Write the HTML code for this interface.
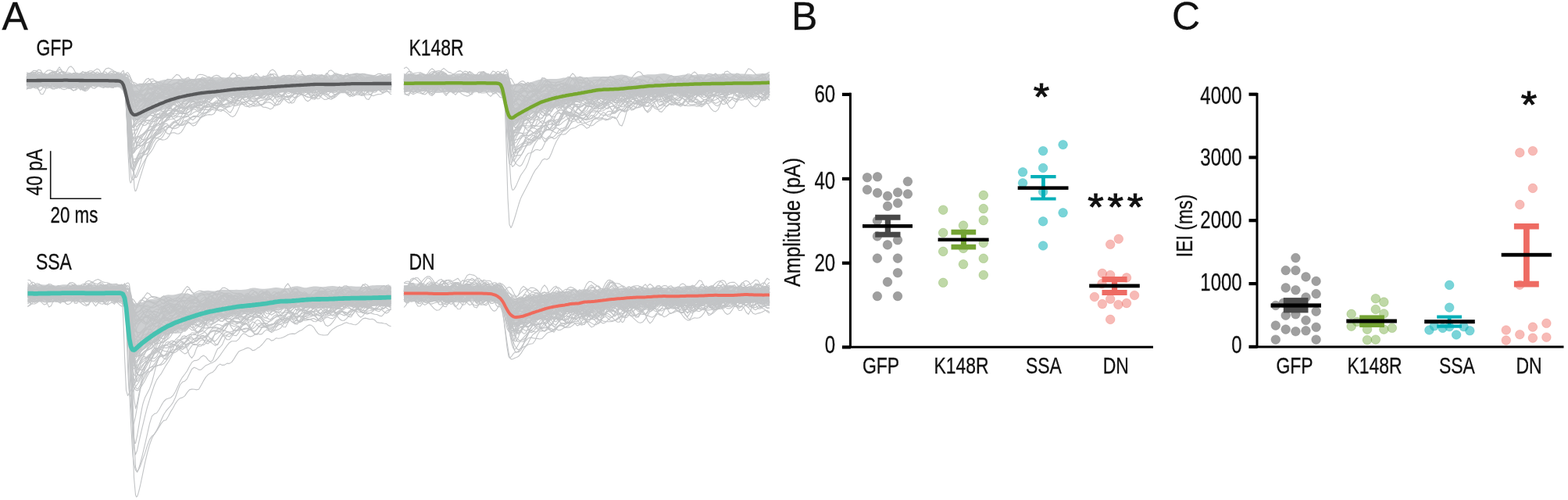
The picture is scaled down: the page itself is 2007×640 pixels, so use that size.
<!DOCTYPE html>
<html><head><meta charset="utf-8"><title>Figure</title>
<style>html,body{margin:0;padding:0;background:#fff;overflow:hidden}svg{display:block}text{fill:#111;stroke:#111;stroke-width:.3px}</style></head>
<body>
<svg width="2007" height="640" viewBox="0 0 2007 640" font-family="'Liberation Sans', Arial, Helvetica, sans-serif">
<rect width="2007" height="640" fill="#fff"/>
<g id="traces">
<polygon fill="#cdcfd1" points="34,94 37,93.6 40,93.6 43,93.8 46,94.1 49,94.3 52,94.4 55,94.6 58,94.8 61,94.8 64,94.8 67,94.7 70,94.5 73,94.4 76,94.4 79,94.6 82,94.8 85,94.6 88,94.1 91,93.7 94,93.5 97,93.5 100,93.7 103,94.1 106,94.3 109,94.2 112,93.9 115,93.7 118,93.6 121,93.7 124,93.7 127,93.6 130,93.6 133,93.8 136,94.1 139,94.4 142,94.5 145,94.5 148,94.4 151,94.3 154,94.5 157,95.4 160,97.8 163,101.4 166,104.7 169,106.9 172,108 175,108.2 178,108 181,107.6 184,107.2 187,106.8 190,106.6 193,106.6 196,106.4 199,105.7 202,104.5 205,103.3 208,102.5 211,102.1 214,102.1 217,102.2 220,102.1 223,101.9 226,101.5 229,101.1 232,100.7 235,100.4 238,100.3 241,100.4 244,100.8 247,100.9 250,100.7 253,100.3 256,100.1 259,99.8 262,99.5 265,99.1 268,99 271,98.9 274,98.8 277,98.6 280,98.6 283,98.8 286,99.1 289,99.4 292,99.4 295,99.3 298,99.2 301,99.2 304,99.1 307,98.9 310,98.5 313,98.2 316,97.9 319,97.8 322,97.5 325,97.3 328,97.2 331,97.5 334,98.1 337,98.5 340,98.7 343,98.6 346,98.6 349,98.6 352,98.6 355,98.3 358,97.7 361,97 364,96.5 367,96.4 370,96.6 373,96.8 376,97.1 379,97.1 382,97.1 385,96.9 388,96.7 391,96.5 394,96.5 397,96.6 400,96.5 403,96.1 406,95.6 409,95.3 412,95.5 415,95.9 418,96.3 421,96.4 424,96.1 427,95.6 430,95.1 433,95.1 436,95.4 439,95.9 442,96 445,95.9 448,95.6 451,95.4 454,95 457,94.5 460,94 463,93.9 466,94.1 469,94.4 472,94.9 475,95.4 478,96 481,96.5 484,97 487,97.2 490,97.1 493,97 496,96.8 499,96.6 501,96.5 501,114.9 499,114.7 496,114.7 493,114.8 490,114.9 487,115 484,115.1 481,115.4 478,115.6 475,115.8 472,115.9 469,115.9 466,115.7 463,115.2 460,114.8 457,114.7 454,115 451,115.4 448,115.6 445,115.7 442,115.8 439,116 436,116.4 433,116.8 430,117.3 427,117.6 424,117.8 421,117.7 418,117.5 415,117.2 412,116.8 409,116.4 406,116.1 403,116.1 400,116.5 397,116.9 394,117 391,116.7 388,116.6 385,116.9 382,117.5 379,117.8 376,117.8 373,117.6 370,117.4 367,117.5 364,117.7 361,117.9 358,118.1 355,118.3 352,118.7 349,119.5 346,120.5 343,121.3 340,121.8 337,121.9 334,122.1 331,122.1 328,122.1 325,122 322,121.8 319,121.8 316,122 313,122 310,122.1 307,122.1 304,122.2 301,122.5 298,123 295,123.5 292,123.9 289,124.4 286,124.7 283,124.8 280,124.7 277,124.6 274,124.9 271,125.6 268,126.5 265,127.1 262,127.4 259,127.6 256,127.8 253,128.3 250,129 247,129.8 244,130.4 241,130.6 238,130.6 235,130.7 232,130.9 229,131.5 226,132.5 223,134 220,135.7 217,137.2 214,138.6 211,139.8 208,140.9 205,142 202,142.9 199,144 196,145.2 193,146.5 190,148 187,149.5 184,150.8 181,152 178,153 175,154.3 172,154.8 169,153 166,147.2 163,136.7 160,124.8 157,116.4 154,112.7 151,111.7 148,111.5 145,111.9 142,112.3 139,112.5 136,112.3 133,112 130,111.8 127,111.5 124,111.1 121,110.5 118,110.3 115,110.2 112,110.2 109,110.2 106,110.5 103,110.9 100,111.3 97,111.6 94,111.8 91,112 88,112.4 85,112.7 82,112.8 79,112.4 76,111.7 73,110.9 70,110.4 67,110.3 64,110.4 61,110.5 58,110.6 55,110.8 52,111.1 49,111.6 46,112 43,112.2 40,112.1 37,111.8 34,111.6"/>
<g fill="none" stroke="#c2c4c6" stroke-width="1.1" stroke-linejoin="round">
<path d="M34 102.2l3-1.3 3-2.9 3-3 3-.1 3 2.4 3 1.5 3 1.9 3 4.6 3 4.7 3 2.4 3 1 3-.2 3-1.5 3-2.3 3-4 3-5 3-2.2 3 2.5 3 5.4 3 4.1 3 .8 3-.9 3-.7 3-1.5 3-3 3-1.6 3 0 3-.5 3-.6 3-.5 3-.2 3 2 3 2.9 3 1.4 3-.3 3-1.1 3-1.3 3-2 3-1.7 3 .7 2 .2 1-.7 1-1.4 2-3.9 2-3.1 1-.5 1 .5 2 3.2 2 4.7 1 2.2 1 2 2 2.7 2 1.3 1 .2 1 .1 2-.1 2-.5 1-.5 1-.7 2-2 3-4.2 3-1.4 3 3.9 3 4.8 3 2.6 3 1.5 3-.3 3-1.2 3-1.2 3-1.8 3-.6 3 .7 3-.7 3-2.2 3-2 3-.5 3 .7 3 .2 3-1.2 3-1 3 .3 3 1.6 3 1.3 3-1.4 3-2.1 3 .2 3 1.1 3 .3 3 .8 3 1.5 3 .2 3-1.4 3-.6 3 .4 3-.7 3-2.7 3-4.2 3-3.1 3 1 3 3.9 3 3.4 3 2.8 3 2.8 3 .6 3-3.2 3-4.3 3-.9 3 2.7 3 3.3 3 2.2 3-.6 3-3.1 3-3.4 3-1.9 3 .2 3 1 3 .1 3 .4 3 2 3 1.9 3 0 3-1.5 3-1.6 3 .4 3 1.9 3 .6 3 .6 3 2.8 3 1.5 3-3.4 3-6.9 3-4.1 3 2.2 3 6.4 3 6.3 3 3.4 3-1.6 3-4.5 3-1.7 3 2.9 3 2.8 3-.7 3-2.8 3-2.4 3-.5 3 .8 3 .4 3 1 3 1.9 3 .3 3-.9 3 .7 3 1.5 3 .2 3-1 3-1 3 1.1 3 3.5 3 3.1 1 .2 2-.8 3-3 3-2.1 3-2.2 3-4.5 3-4 2-.7"/>
<path d="M34 101l3-.2 3-.9 3-2.8 3-4.4 3-3.5 3 .7 3 5.1 3 7.3 3 6.3 3 2.7 3-2.2 3-5.5 3-3.9 3 1.2 3 3 3 .8 3-.7 3-1.3 3-1.9 3-.8 3 2.2 3 3 3 1.4 3 .5 3 .3 3 0 3-1 3-1.8 3-2.5 3-3.4 3-1.9 3 1.9 3 3.1 3 .8 3-1.4 3-.1 3 3.6 3 4.2 3 .5 3-3.6 2-3.1 1-1.3 1-1.1 2-1.3 2 0 1 .5 1 .8 2 2 2 1.8 1 .6 1 .4 2 .7 2 1 1 .7 1 .7 2 1.5 2 1 1 .2 1-.1 2-.9 3-1.8 3-.4 3 1 3 1.8 3 1.6 3 .7 3 .7 2 .2 1 0 3-1.4 3-1.9 3-.9 3-.5 3-1.4 3-1 3 .9 3 .6 3-1.6 3-2.3 3-.3 3 2.6 3 3.7 3 .9 3-3.8 3-4.4 3-.8 3 2.7 3 2.7 3-.1 3-1.3 3-.4 3 .7 3 .6 3-.9 3-2.3 3-2.6 3-1.9 3-.2 3 2.3 3 2.6 3 .1 3-.7 3 1.8 3 2.3 3-.8 3-2.4 3-.7 3 0 3-.7 3-.2 3 .8 3 .4 3-1.3 3-2.6 3-2.8 3-2.4 3 0 3 2.6 3 3.1 3 1.1 3-.5 3-.3 3 2 3 4.2 3 3.7 3 .4 3-2.6 3-1.7 3 1.6 3 1.7 3-.2 3 .4 3 1.4 3-1 3-4.2 3-4.3 3 .2 3 3.4 3 1.8 3-.2 3 1.4 3 3.6 3 1 3-3.6 3-4.8 3-2.2 3 .3 3 .7 3-1.1 3-2.1 3 .1 3 2 3 1.4 3 .6 3 .2 3-1.8 3-3.3 3-1.9 3-.6 3-1.2 3-1.6 3-.2 3 1.9 3 3.7 3 3.4 3 1.5 2 .3"/>
<path d="M34 102.6l3 .5 3 .6 3-2.6 3-3.3 3 .7 3 3.5 3 3.1 3 2.3 3-.9 3-4.1 3-3.2 3-.5 3 .8 3 .8 3 1.7 3 2.4 3 1 3-1.7 3-3.3 3-2.8 3-2.1 3-.8 3-.3 3-1.6 3-.6 3 2.7 3 3.8 3 1.9 3-1 3-3.2 3-1.8 3 2.5 3 4.2 3 3.7 3 2.2 3-2.2 3-5.1 3-1.8 3 2.3 3 1.9 2 .4 1 .2 1 .3 2 1.1 2 2 1 1.3 1 1.8 2 4.8 2 4.5 1 1.4 1 .5 2-.5 2-1.2 1-.6 1-.4 2-.8 2-1.1 1-1 1-1.1 2-2.7 3-3.2 3-1.2 3 .2 3 .3 3-1.1 3-1.5 3 .4 3 1.9 3 1.2 3-.7 3-2.5 3-2.6 3-.7 3 .3 3 .6 3 1 3 1.8 3 .8 3-1.7 3-2.1 3-.5 3 .2 3-.6 3-.4 3 .7 3 1.4 3 1.9 3 1.6 3 .6 3 .2 3-.2 3-1.1 3-.6 3 1.3 3 1.4 3-1.6 3-3.4 3-2 3-2 3-2.7 3-.4 3 2.7 3 2.5 3 .3 3 0 3 .7 3 .7 3-.5 3-.5 3 .5 3 .6 3-1.1 3-4 3-3.7 3 1.1 3 4.4 3 2.9 3-.1 3 .1 3 4.3 3 5.5 3 .9 3-4.1 3-4.7 3-2.1 3 .4 3 0 3-1.9 3-2.9 3-.8 3 2.8 3 3.5 3 .2 3-2.8 3-2.9 3-1.5 3 .9 3 2.6 3 2.6 3 1.5 3 .8 3-.5 3-2.6 3-2.4 3 .8 3 3.2 3 2.3 3-.8 3-2.8 3-3.1 3-2.2 3 .7 3 2.5 3 2 3 2.4 3 3.5 3 1.3 3-2 3-2.6 3-.7 3 2.4 3 3.1 3 .9 3 .1 3 .2 2-.9"/>
<path d="M34 112.2l3 .7 3-1.5 3-1.8 3-1.4 3-2.1 3-2.5 3-1.4 3-1.4 3-1.8 3-.7 3 .2 3 0 3-.7 3-1.2 3-.4 3 .9 3 1.5 3 2 3 2.7 3 1.9 3 .4 3 2 3 4.6 3 2.2 3-2.2 3-3.5 3-3.7 3-4.4 3-3 3-.8 3-.6 3-.4 3 .1 3 1 3 1.5 3 .2 3-.2 3 1.7 3 1.7 3-.2 2-.5 1 0 1 .3 2 1.8 2 2.7 1 1.3 1 1.1 2 2.2 2 2.4 1 1.4 1 1.2 2 2.2 2 1.8 1 .6 1 .1 2-1.7 2-3.9 1-2.2 1-2 2-2.7 3 .3 3 3.2 3 2.8 3 .6 3-1.3 3-.6 3 1.4 3 1.2 3-.3 3-1.7 3-2.5 3-2.6 3-2 3 .1 3 .8 3-.5 3-.2 3 1.6 3 1.7 3-.3 3-1 3-.9 3-2.1 3-3.8 3-2.9 3 1.3 3 4.8 3 3.2 3-1.2 3-1.9 3 .5 3 2 3 2.1 3 .9 3-1.8 3-3.8 3-2.8 3-.6 3-.3 3-1.8 3-.3 3 4.1 3 4.5 3 1.7 3 .6 3 1 3 1.4 3 .4 3-1.6 3-2.3 3-1.8 3-.7 3 .1 3 .6 3 .2 3-.7 3-1 3-.4 3 2.4 3 4.3 3 2 3-.8 3-.6 3-.4 3-.8 3 1.3 3 2.2 3-1.5 3-4.1 3-2.8 3-1.4 3-2.1 3-2.6 3-1 3 1.1 3 2.4 3 .5 3-1.3 3 .1 3 1.6 3 .9 3 0 3 0 3 .4 3 .5 3 .1 3-1.3 3-2 3 .6 3 3.7 3 2.6 3-1.6 3-3.1 3-.9 3 .9 3 2.5 3 3.3 3 1.5 3-2.1 3-4.2 3-4 3-2.6 3-2 3-1.7 3-.5 2 .7"/>
<path d="M34 108.8l3-3.1 3-2.6 3-.4 3 .2 3-.4 3 .7 3 2.4 3 1.8 3-.5 3-2.4 3-3.3 3-3.9 3-2.7 3 .3 3 2.9 3 2.7 3-.1 3-1.2 3 1 3 1.4 3-.5 3-.8 3 .9 3 .8 3-1.3 3-1.8 3 .1 3 2.9 3 3.1 3 0 3-.2 3 2 3 1.8 3 .1 3-.8 3-.4 3-.2 3-1.5 3-3.9 3-4.4 2-1 1 .4 1 .8 2 2.4 2 2.5 1 1.2 1 1.1 2 1.9 2 1.3 1 .4 1 .4 2 .7 2 1.6 1 1.2 1 1.2 2 2 2 .7 1-.1 1-.4 2-.7 3-.1 3-.2 3-1.5 3-1.1 3 .2 3 .3 3-1.1 3-2.1 3 .6 3 4.1 3 3.2 3 .9 3-.3 3-3 3-5 3-1.1 3 4 3 4.3 3 1.5 3-1.6 3-5.1 3-5.6 3-.8 3 2.6 3 .9 3 .7 3 2.2 3 2.1 3 1.1 3 .8 3 1.2 3 0 3-2.4 3-1.9 3 0 3-1.4 3-3 3-2.6 3-1.3 3 .1 3 .3 3-.3 3 .9 3 3.1 3 1.8 3-1.6 3-1.7 3 .9 3 1.3 3 .3 3 1.5 3 2.9 3 1.9 3-.4 3-2 3-2.6 3-2.5 3-1.7 3-.8 3-.7 3-.1 3 .4 3-.2 3-.2 3 .5 3 .6 3 1.6 3 3.9 3 4.2 3 1.3 3-2.6 3-6 3-6.8 3-3.4 3 1 3 1.5 3 0 3 1.3 3 3.2 3 1.7 3-.1 3 .8 3 1.2 3-.5 3-1 3 .3 3 1.2 3-.1 3-1.9 3-2 3 .3 3 1.2 3-1.6 3-4 3-2.4 3 0 3 .4 3 1.2 3 2.5 3 2.8 3 2.7 3 2.9 3 1.9 3-1.4 3-4.2 2-3.2"/>
<path d="M34 102.9l3 2.9 3 1 3-.4 3-.1 3 .2 3-1.3 3-3.5 3-2.5 3 1.8 3 3.6 3 1.4 3-1.6 3-2.4 3 .4 3 2.9 3 1.6 3-1.1 3-2.4 3-.4 3 3.5 3 4 3 1.5 3 1.5 3 1.9 3-.7 3-4.2 3-6.9 3-6.9 3-1.9 3 3.6 3 4 3 1.1 3-1 3 .5 3 3.4 3 2.5 3-1.2 3-2.5 3-1.1 3-.2 2-.3 1-.1 1 0 2 .2 2 .3 1 .2 1 .5 2 3 2 4.8 1 2.5 1 2.1 2 3.4 2 2.3 1 .8 1 .6 2 .9 2 1.3 1 .6 1 .4 1 .1 1-.5 3-5 3-6.6 3-1 3 4.3 3 4.6 3 2.1 3-1.2 3-3.7 3-4.8 3-3.1 3-.2 3 0 3-1.6 3-1 3 .7 3-.7 3-4.4 3-5.1 3-1.4 3 3.6 3 6.7 3 5.2 3 .9 3-1.6 3-.7 3 .1 3-.5 3-.2 3-.6 3-3.1 3-3.4 3-.2 3 2.6 3 1.6 3-2.4 3-4.5 3-1.9 3 1.7 3 2 3 1.7 3 2.3 3 1.6 3 .9 3 1.3 3 1.3 3 1 3 0 3-2.3 3-3 3-1.5 3-1.6 3-2 3-1.4 3-.5 3-1 3-.4 3 3.4 3 6.9 3 4.8 3-.7 3-3.1 3-1.6 3-1.1 3-2.4 3-1.7 3 .7 3 1.8 3-.2 3-2.3 3-2.3 3-1.1 3-.6 3 .3 3 1.4 3 1.6 3 2.3 3 1 3-.5 3 1.5 3 2.2 3-.7 3-2.5 3-1.4 3 0 3 1.1 3 1.6 3 1.6 3 .1 3-1.6 3-1.5 3-.6 3-.4 3-1 3-.3 3 .9 3-.5 3-1.7 3 .1 3 .6 3-1 3-2.1 3-1.7 3-.7 3-.2 3-2 2-2.3"/>
<path d="M34 107.8l3-3.5 3-.3 3 2.4 3-.4 3-3.2 3-1.1 3 2.6 3 3.8 3 2.5 3-.2 3-2 3-1.4 3-.7 3-1 3-1.3 3-1.9 3-2.9 3-1.2 3 1.9 3 1.7 3-.5 3-.2 3 2.5 3 3.1 3 1.2 3-1.3 3-2.3 3-.3 3 2.9 3 2.6 3-1.3 3-4.5 3-4.7 3-2.8 3-2.7 3-2.5 3 1.3 3 4.3 3 4.3 3 3.8 2 2.3 1 1 1 .9 2 1.2 2 0 1-.3 1-.1 2 1 2 2.8 1 1.8 1 1.9 2 2.7 2 1.2 1 .3 1 0 2 .1 2 .1 1 .1 1 .1 2-.6 3-3.2 3-4 3-1.5 3 .2 3 0 3-.4 3-1.1 3-1.9 3-1.4 3 .1 3 1.3 3 1.8 3 1.9 3 .6 3-.7 3 .1 3 .5 3-.6 3-.9 3-.7 3-3.5 3-6.6 3-4.8 3-1 3 .3 3 1.1 3 1.5 3 .3 3 1.3 3 3.1 3 1.1 3-1.6 3-.7 3 1.8 3 2.1 3 .8 3 2.4 3 3 3-.1 3-1.6 3-.9 3-1.5 3-1.8 3-1.5 3-1.5 3-.2 3 2.4 3 2.6 3 .1 3-1.9 3-1.9 3-.2 3 1.5 3 1.8 3 1.6 3 .7 3-.6 3-.7 3-.7 3-1.1 3-.1 3 1 3 .7 3-.9 3-1.7 3-.8 3-1 3-1.6 3-1.5 3-.6 3 1.7 3 2.7 3 .6 3-1.5 3-2 3-1.1 3 1.5 3 3.7 3 1.7 3-1.3 3-.9 3 .8 3 .8 3-1.2 3-2 3-1.3 3-.3 3 1.2 3 3.7 3 4.4 3 2.7 3 1.7 3 0 3-1.9 3-1.8 3-1.6 3-1.4 3-.3 3 .3 3 .1 3-1 3-3.2 3-4.9 3-3.8 3-.1 2 1.5"/>
<path d="M34 106.8l3-.7 3-2 3-.1 3 1.3 3 1.6 3 1.2 3 .6 3-.1 3-1.6 3-2.4 3-.7 3 1 3-.5 3-3.3 3-3.4 3-1.1 3-.1 3-.1 3 .3 3 0 3-.7 3-1.3 3-.8 3 1.7 3 3.1 3 1.6 3 .4 3 .6 3 1.1 3 1.7 3 1.3 3 .2 3-2 3-4.3 3-3.5 3-.8 3 .1 3-.2 3 1.3 3 2.3 2 .3 1-.4 1-.6 2-1.4 2-.4 1 .9 1 1.7 2 5 2 5.2 1 1.7 1 .8 2 0 2-1.3 1-.8 1-.8 2-1 2-.2 1 .2 1 .2 2 .1 3-1.5 3-2.6 3-2.4 3-.2 3 3.3 3 4.4 3 1.5 3-2.2 3-3.9 3-2.7 3 .1 3-.2 3-3 3-2.9 3 .8 3 3.6 3 3.1 3 1.6 3 3 3 4.9 3 2.4 3-1 3-1.1 3-.2 3-.5 3-1.9 3-4.1 3-4.2 3-2.6 3-1.9 3-1.1 3 .9 3 2.4 3 2.5 3 .9 3-.7 3 1.2 3 3.1 3 1.5 3-1.4 3-2.9 3-2.6 3-1.6 3 .3 3 2.8 3 4 3 3 3 1.1 3-.8 3-3.1 3-2.1 3 1.8 3 2.5 3-1.8 3-5.5 3-3.7 3 .8 3 2.5 3 1.5 3 .3 3-.5 3-.5 3 .7 3 1.5 3 1.3 3 .3 3-.8 3-1.9 3-1.5 3 .9 3 3.7 3 3.6 3 1.8 3 .9 3 .3 3-1.3 3-2.9 3-3.2 3-2.1 3-.4 3 .8 3 1.7 3 2.9 3 2.2 3-1.5 3-4.9 3-4 3-.6 3 1.3 3 1.4 3-.2 3-2 3-1 3 .8 3-.1 3-.8 3 2.3 3 4.7 3 2.8 3-.6 3-2.6 3-2.5 3-1.5 3-1 3-1.6 2-1.5"/>
<path d="M34 104l3-1.4 3 .5 3 2.5 3 1.6 3-.4 3 0 3 1.3 3-.8 3-4 3-3.2 3-.3 3 3 3 3.8 3 1.1 3-1.5 3-.6 3 1 3 1.2 3 1.8 3 2.6 3 .2 3-2.9 3-2.4 3-.4 3-1.4 3-3.3 3-2 3 .4 3 .9 3 1.5 3 2.7 3 2 3 .4 3-.4 3-.5 3-2.3 3-2.8 3-.2 3 1.6 3 2 2 1.3 1 .6 1 .7 2 3.3 2 5.8 1 2.8 1 2.1 2 .8 2-1.4 1-1 1-1.1 2-1.7 2-.9 1-.1 1 .3 2 1.2 2 2 1 1 1 .8 2 .4 3-3.7 3-7.6 3-4.6 3 1.3 3 2.6 3 1.1 3 1.3 3 1.7 3 1.4 3 .8 3 1.5 3 1.7 3-1.3 3-3.9 3-3.1 3-1.2 3 .3 3 1.4 3 1.6 3 1 3 1.1 3 1.5 3-1 3-4 3-2.1 3 .3 3-1.7 3-3.1 3 .3 3 2.6 3 .2 3-1.7 3 .1 3 1.8 3 1.2 3 .9 3 3 3 5.6 3 3.5 1 0 2-1.2 3-3 3-3 3-3.4 3-3 3-1.6 3-.4 3-.6 3-1.1 3 1 3 3.2 3 1.1 3-3.3 3-5.2 3-2.8 3 1.8 3 3.6 3 2.9 3 3.1 3 3.5 3 .8 3-2.7 3-3.2 3-2 3-.8 3 .2 3-.4 3-2.2 3-2.8 3-.6 3 1.4 3 .9 3 .5 3 1.4 3 1.1 3-.6 3-1.3 3 1 3 2.9 3 2.3 3 1 3 .7 3-.2 3-2.8 3-3.7 3-.8 3 1.2 3 .7 3 .1 3 .1 3-.1 3 .2 3 .1 3 .8 3 .9 3-.3 3-1.7 3-1.3 3 .8 3 .7 3-1.7 3-3.1 3-1.6 3 1.3 3 2.8 3 3.9 2 2.8"/>
<path d="M34 103.8l3 3.5 3 .7 3-4 3-5.5 3-1.7 3 4.1 3 6.2 3 3.4 3 .6 3-1.6 3-2.5 3-1 3 .3 3 .7 3 1.1 3-.6 3-2.1 3-.4 3 .4 3-1.1 3-3.1 3-4.5 3-2 3 2.7 3 3.6 3 0 3-1.9 3 .5 3 3.6 3 3.8 3 2.5 3 2.2 3 .7 3-2 3-2.3 3-1.3 3-1 3 .2 3 .5 3-.7 2-.2 1 0 1 .1 2 0 2-.4 1-.5 1-.2 2 1.3 2 4.4 1 3.1 1 3.2 2 5.4 2 1.6 1-.6 1-1.2 2-4 2-4.3 1-2.1 1-1.8 2-2.4 3 0 3 3.5 3 2.5 3-1.4 3-2.6 3-.2 3 .4 3-1.3 3-.7 3 .4 3 .8 3 .7 3-1.4 3-2.4 3 .2 3 2 3 2 3 2.7 3 3.7 3 1.8 3-1 3-2.1 3-2.8 3-3.5 3-2.6 3 .3 3 1 3-1.3 3-.5 3 4 3 5.8 3 2.5 3-2.9 3-5.1 3-2.4 3 2.4 3 5 3 1.5 3-3 3-3.2 3-1.6 3-.3 3 .4 3-.8 3-2.5 3-2.2 3-.4 3 .9 3-.2 3-3 3-3.2 3 1.1 3 4.3 3 3 3 0 3-.7 3 .8 3 .3 3-1.2 3-1.1 3 0 3 .1 3 .3 3 2.7 3 3.6 3-.5 3-5.2 3-5.1 3-.8 3 3 3 4.4 3 3.5 3-.3 3-3.4 3-1.9 3 .9 3 .5 3-1.9 3-2 3 .2 3 1.2 3 .3 3-.5 3 .3 3 1.2 3 1.6 3 2.9 3 2.5 3-.3 3-.7 3 1.7 3 1.3 3-2.2 3-4.2 3-1.4 3 1.3 3-.6 3-3 3-1.9 3 .8 3 1.6 3 .2 3-1 3-1.2 3-.3 2 .9"/>
<path d="M34 109.3l3-2.2 3-3.8 3-1.9 3-.6 3-.4 3 1.8 3 2.8 3 .6 3-2.1 3-2.6 3 .5 3 4.7 3 5.2 3 1.8 3-2.6 3-3.4 3-1.8 3-1.9 3-1.3 3-.8 3-2.2 3-.9 3 2.1 3 .9 3-2 3-.9 3 2.2 3 2.4 3-.6 3-1.8 3 1.1 3 2.4 3 1.2 3 1 3-.4 3-2.4 3-.6 3 1.9 3 2.1 3 1.1 2-.1 1-.1 1-.1 2 .5 2 1.9 1 1.6 1 1.7 2 3.4 2 2.3 1 .5 1-.3 2-1.5 2-1.1 1 0 1 .4 2 1.4 2 .7 1-.2 1-.7 2-2.2 3-2.9 3 .2 3 1.4 3-1.5 3-2.8 3 .1 3 2.3 3 1.7 3-.8 3-3.3 3-2.5 3 1.9 3 4.1 3 2.4 3 1 3-.8 3-2.6 3-.5 3 2.2 3 .9 3-2.8 3-4.9 3-3.3 3-.9 3-.9 3 .7 3 4.1 3 5.7 3 3.4 3 .2 3-1 3-1 3-.6 3 .3 3 .3 3-1.5 3-4 3-3 3 1.2 3 3.2 3 2 3 .7 3 .5 3-1.4 3-5.2 3-6.8 3-5.6 3-1.9 3 3.1 3 4.7 3 1.2 3-2.8 3-5.1 3-4.6 3-1.6 3 2.3 3 5.1 3 5.4 3 4.4 3 1.5 3-2.4 3-3.7 3-1.1 3 1.5 3 2.2 3 1.6 3 .7 3-.5 3-1.9 3-2.5 3-2.7 3-2.4 3-1.2 3 1.6 3 4.1 3 3.1 3-1.8 3-6.1 3-5.3 3-1 3 2.6 3 3.5 3 4 3 2 3-2.7 3-4.2 3-1 3 3 3 4.4 3 3.1 3 2.1 3 1.2 3-.3 3-1.2 3-.5 3 .5 3 1.4 3 1.2 3-.1 3-1 3-1.2 3-.2 3 1.3 3 1.3 3 1.6 2 1.5"/>
<path d="M34 99l3-3.1 3-1.2 3 .3 3-.6 3-1.5 3-.2 3 2.3 3 3 3 .7 3-1.4 3-1 3-.2 3-.9 3-2.1 3-1.7 3 .5 3 1.1 3 0 3 1.1 3 4 3 4.8 3 3.1 3 0 3-2.2 3-1.7 3 .4 3 2.5 3 2.3 3 .2 3-1 3-1.2 3-1.2 3-1.7 3-2.3 3-1.3 3 .8 3 1 3-.4 3-1.5 3-1.7 2-.6 1 0 1 .2 2 1.5 2 2.4 1 1.7 1 2.7 2 7.7 2 7.3 1 2 1 1.1 2 .7 2 .5 1 .3 1 .4 2 .7 2 .7 1 .3 1 .5 2 1 3 1.7 1 .2 2-.7 3-3.7 3-4.9 3-4.1 3-2.5 3-1.5 3-1.4 3-.8 3 1 3 2.7 3 2.4 3 1 3-.6 3-1.7 3-2.5 3-2.8 3-.1 3 3.3 3 4.3 3 3.7 3 .9 3-2 3-1.5 3 .9 3 0 3-5.1 3-7.8 3-4.3 3 1.2 3 3.8 3 3 3 1.6 3 1.5 3 .6 3-1.1 3-2.5 3-3.1 3-2.4 3-.2 3 1.4 3 1.8 3 1.2 3 .6 3 .4 3 .6 3-.3 3-1.8 3-1.5 3 1.3 3 2.6 3 .7 3-.5 3-.9 3-2 3-2.2 3-.8 3-.6 3-1.1 3-.5 3-.1 3 .4 3 1.1 3 .3 3 .1 3 .9 3-.4 3-2.7 3-3.6 3-2.5 3-.2 3 1.5 3 2.9 3 3.2 3 1.6 3 .8 3 2.6 3 3.5 3 1.3 3-2.2 3-3.4 3-2.2 3-.1 3 .5 3-1.7 3-2.7 3-.4 3 1.5 3 1.4 3 .1 3-1.1 3 .3 3 3.4 3 3.5 3 .6 3-1.6 3-1.9 3-.9 3-.2 3-.2 3 .8 3 2.4 3 1.4 3-1.7 3-2.7 2-1.2"/>
<path d="M34 107.4l3-2.1 3-.6 3 1.6 3 2 3 .4 3-1.1 3-1.8 3-2.5 3-2.7 3-1.4 3-.7 3-2.5 3-4.4 3-2.7 3 1.4 3 2.9 3 1.7 3 .5 3 1.4 3 3.6 3 2.4 3-.7 3-.6 3 2.2 3 2.4 3 .3 3-1.7 3-1.9 3-1.3 3-2.1 3-3 3-.7 3 2.3 3 3.8 3 2.9 3-.2 3-.7 3 1.3 3-.1 3-2.3 2-.9 1 0 1 .2 2 .7 2 .7 1 .1 1 .1 2 1.3 2 3.8 1 2.7 1 2.7 2 4.7 2 1.9 1 .2 1 0 2 .1 2 .5 1 .4 1 .3 2 .1 3-1.6 3-1.4 3-.6 3-1.7 3-2.1 3-.9 3 .8 3 1.9 3 0 3-2.3 3-1.2 3-1 3-3.4 3-3.2 3 1.1 3 3.2 3 1.8 3 1.7 3 2.7 3 .5 3-.4 3 1.9 3 2.3 3 .5 3-1.8 3-5.8 3-7.1 3-3.7 3 .5 3 2.1 3 2.3 3 2.4 3 1 3-3 3-3.6 3 2.7 3 7.8 3 6.6 3 2.8 1 .2 2-.4 3-1.5 3-2.5 3-5 3-6 3-4.7 3-.7 3 2.2 3 .6 3-2.1 3-1.6 3-.5 3-.3 3 .6 3 1.7 3 1.5 3-.4 3-.5 3 .3 3-.1 3 .8 3 1.1 3-2.7 3-5 3-2.9 3-.4 3 .5 3-.3 3-.6 3 2 3 4.3 3 2.2 3-1.3 3-1.5 3-1.4 3-2.5 3-1.6 3 2.3 3 4.1 3 .9 3-3.4 3-4.4 3-1.4 3 1.5 3 1.9 3 2.3 3 3 3 1.5 3-.8 3-.9 3 1.6 3 3.5 3 1.4 3-2.7 3-4.3 3-2.1 3 1.6 3 2.4 3 .7 3 1.1 3 2.2 3 1.3 3 .7 3 1.6 3 .9 3-1.2 2-1.6"/>
<path d="M34 100.4l3-1.2 3 .9 3 2.2 3 2.6 3 2 3 1.3 3 1.2 3 0 3-2.5 3-3.3 3-.1 3 2.1 3 1.2 3 .2 3 .6 3 .9 3 .3 3-.3 3-.1 3-1.2 3-2.4 3-.1 3 3.8 3 3.6 3 .5 3-1 3-1.2 3-1.6 3-1.2 3-1.5 3-3.4 3-3.8 3-2.3 3-1.3 3-.4 3 1.3 3 2.9 3 2.5 3 1.1 3 .6 2 .7 1 .7 1 .8 2 1.9 2 2.3 1 2.4 1 3.4 2 7.2 2 2.4 1-.7 1-1 2-1.5 2-.5 1-.2 1-.2 2-.7 2-.4 1 .2 1 .5 2 1.9 3 3.4 2 1.3 1 0 3-3.1 3-6.2 3-5.4 3-1.2 3 3 3 4.1 3 1.1 3-1.7 3-1.9 3-1.9 3-1.5 3-.9 3-1.1 3-1.5 3-1.9 3-1.3 3 .5 3 .7 3-.2 3 1.5 3 3.5 3 2.3 3-1 3-2.3 3 .1 3 1.1 3-2.5 3-4 3 0 3 2.8 3 1.8 3 .6 3 .5 3-1.2 3-3.9 3-3.6 3-2.2 3-1.5 3 .7 3 2.9 3 2.5 3 .4 3-.3 3 .5 3 .5 3 .7 3 2.2 3 1.8 3-1.4 3-2.5 3 .2 3 2.3 3 .8 3-1.2 3-1.6 3-1 3 .3 3 1.9 3 2.9 3 1.2 3-2.2 3-4.2 3-4.3 3-2.6 3-.9 3 .5 3 2 3 2.9 3 1.5 3-.8 3-1.7 3-1.4 3-1 3-.5 3 .8 3 3.4 3 4.7 3 2.2 3-1 3-1.3 3-.3 3-.7 3-.3 3 .8 3 1.3 3 .8 3-1 3-3.5 3-2.7 3 .6 3 .6 3-.6 3-.2 3 1.4 3 1.6 3 .1 3-.5 3-.1 3-.9 3-1.8 3-1 3 .2 3 1.5 2 1.9"/>
<path d="M34 107.8l3 1.4 3 .2 3-.2 3 .1 3-1.6 3-3.2 3-2.1 3-.9 3-2.7 3-4.5 3-2.5 3 2 3 5.3 3 3.6 3-.3 3-1.6 3-.5 3-.8 3-1.7 3-.8 3 1.2 3 2.3 3 1.2 3-1.5 3-3.7 3-2.4 3 3 3 6.8 3 3.1 3-2.4 3-3.4 3-.7 3 1.7 3 2.4 3 2 3 1.7 3 1.1 3-.2 3-1.8 3-2.4 2-1.6 1-.7 1-.7 2-1.1 2-.4 1 .3 1 .8 2 4.5 2 8.7 1 5 1 4.5 2 6 2 1.3 1-.4 1-.7 2-1.9 2-1.6 1-.6 1-.6 2-1.5 3-3.7 3-3 3 1.6 3 4.7 3 2.6 3-.3 3-1.5 3-3.1 3-4.1 3-3.8 3-2.5 3 .1 3 3.1 3 4.9 3 2.3 3-3.2 3-4.9 3-2.9 3-2 3-2.3 3-2 3-.9 3-.4 3-.5 3 .1 3 1.6 3 2.3 3 2.3 3 2.5 3 3.3 3 3.4 3 1.4 3-2.1 3-3.9 3-1.8 3 1.4 3 1.4 3-.9 3-.7 3 1.6 3 .6 3-2.1 3-1.9 3 .7 3 1.4 3-1.6 3-3.8 3-3 3-1.8 3-1 3 1 3 2.6 3 2.4 3 1.7 3 0 3-2.7 3-4.5 3-2.3 3 2.7 3 5.1 3 3.3 3 .8 3-.6 3 .4 3 2 3-.2 3-3 3-1.3 3 1.7 3 1.3 3 1 3 1.4 3-.3 3-2.7 3-2.9 3-1.7 3-.9 3-.7 3 .7 3 2 3 .8 3-1.2 3-1.4 3 .3 3 .5 3-2 3-3.2 3-.2 3 2.5 3 2.6 3 1.8 3 1.7 3 1.9 3 .7 3-1.2 3-2.5 3-2.8 3-.6 3 1.3 3-.5 3-3 3-1.9 3 .9 3 2.4 3 2.5 2 1.2"/>
<path d="M34 104.5l3 2 3 .1 3-.7 3 .6 3 2.4 3 1 3-1.5 3-1.1 3 1 3 1.9 3 1.8 3-.6 3-3.1 3-3 3-.8 3-.7 3-2.5 3-2.3 3-.6 3-.3 3-.4 3-.9 3-1.4 3-1 3 1.3 3 3.5 3 3.9 3 1.7 3-1.6 3-2.3 3-.2 3 1.1 3 1.4 3 .6 3-.8 3-1.8 3-1.8 3-.3 3 1.9 3 3 2 1.1 1 0 1-.1 2-.6 2-.2 1 0 1 .1 2 1.7 2 5.2 1 4 1 4.6 2 8.9 2 5.5 1 .9 1 0 2-2.2 2-3.2 1-1.4 1-1 2-.9 3 0 3-1.4 3-3 3-3.3 3-2.5 3 .5 3 3.4 3 1.3 3-2.5 3-.4 3 3.9 3 1.3 3-4.1 3-4.4 3-1.6 3-.1 3 1 3 3 3 1.7 3-3.1 3-5 3-2.5 3 .1 3 .1 3-.5 3 .4 3 1 3 .5 3 0 3 .1 3 1.8 3 3.7 3 3 3 .1 3-2.9 3-3.9 3-2.3 3 0 3 1.2 3 1 3 .9 3 .8 3-.9 3-2.8 3-2.9 3-1.7 3-1.4 3-1 3 1.8 3 4.5 3 4.1 3 .8 3-.9 3 1.2 3 1.7 3-.4 3-1.9 3-2.1 3-.8 3-.3 3-2.2 3-3.6 3-2.6 3-.3 3 3.7 3 6.7 3 4.9 3 1.3 3-1.7 3-4.5 3-5.1 3-2.1 3 .9 3 2.2 3 2.9 3 2.2 3-.1 3-2 3-3.2 3-3.2 3 .3 3 2.6 3 .6 3-.7 3 0 3-.4 3-1 3 .5 3 3.4 3 4.1 3 1.3 3-1.4 3-2.3 3-2.4 3-2 3-2.7 3-2.5 3 1.1 3 3 3 .6 3-2.4 3-1.6 3-.4 3-1.7 3-1 2 1.3"/>
<path d="M34 101.3l3-.6 3 .4 3 2.4 3 2.2 3-.3 3-.7 3 1.1 3 2 3 .4 3-2.1 3-2.5 3-1.9 3-3 3-4.5 3-2.9 3 1.8 3 4.1 3 1.2 3-1.1 3-.4 3 .5 3 .7 3 1.4 3 1.6 3 1.4 3 1.6 3 .2 3-1.5 3-.7 3 .6 3-1.1 3-4.6 3-5.8 3-3.5 3-.6 3 1.4 3 1.8 3 2.2 3 3.8 3 4.7 2 1.8 1 .1 1-.3 2-1.8 2 3.8 1 4.9 1 4.8 2 4.3 2 .1 1 .1 1 .4 2 .6 1 .1 1-.2 1-.2 1-.3 2-.7 2-.8 1-.6 1-.6 2-1.6 3-2.3 3-3.2 3-3.5 3-2.1 3-.2 3 1.3 3 2.5 3 3.1 3 1.5 3-.9 3-1.4 3 .4 3 2.2 3 1.8 3 .5 3 .2 3 .1 3-.6 3-.6 3-.2 3 0 3-.1 3-.4 3-.5 3-1.2 3-2.2 3-1.5 3 .1 3 1.3 3 1.6 3 0 3-2.6 3-3.2 3-.7 3 2 3 1.3 3-.5 3 .3 3 1.5 3 1.5 3 1.2 3 1.1 3 .4 3-.6 3-1.1 3-.6 3-.4 3-.7 3-1 3-.8 3-.6 3 0 3 .7 3 1 3 1.7 3 .5 3-2.1 3-1.9 3 .6 3 1.3 3-1.4 3-4.8 3-4.8 3-1 3 2.3 3 1.9 3 .2 3 .6 3 2.3 3 3.2 3 2.6 3 .5 3-1.9 3-2.1 3-.7 3 1 3 2.3 3 2.6 3 1.3 3-.5 3-1.9 3-2.5 3-2.5 3-2 3-.7 3 .6 3 1.6 3 1.2 3-2.4 3-2.6 3 2.2 3 4.1 3 2 3 .6 3-.8 3-3.2 3-2.6 3 .3 3 .7 3-.9 3-1.8 3-1.6 3 .2 3 2.6 3 4.2 2 1.6"/>
<path d="M34 100.7l3-3 3-3 3 .5 3 1.8 3 2.3 3 5.5 3 6 3 .4 3-3.8 3-3.1 3-2.1 3-1.3 3 .7 3 1.3 3 .8 3 2.5 3 4.2 3 3.1 3-.6 3-3.3 3-1.3 3 2 3 1.8 3-1.1 3-3.8 3-5.1 3-4.9 3-2.5 3 1.7 3 3.4 3 2.4 3 2.2 3 1.8 3 .1 3-.9 3 .5 3 2.6 3 2.2 3-.2 3-3 2-2.9 1-1.2 1-.8 2 1 2 7 1 5.1 1 5.1 2 7.1 1 1 1-.1 1-.6 1-.7 2-.4 2 .6 1 .3 1 .3 2 0 2-.6 1-.5 1-.5 2-1.6 3-3 3-2.3 3 0 3 2.7 3 2.9 3-1.2 3-4.1 3-1.8 3 1.2 3 1.5 3 .4 3-1.8 3-4 3-3.1 3 .2 3 1.9 3 2 3 1.7 3 2 3 1.7 3 .2 3-.8 3-1.9 3-4.9 3-6.6 3-2.3 3 2.7 3 .7 3-2 3 .3 3 2.4 3 1.4 3 .7 3 .7 3-.5 3-2 3-2.1 3 .8 3 3.8 3 2.8 3-.3 3-1.6 3-.7 3 .5 3 0 3-1.4 3-1.8 3-1.9 3-1.1 3 1 3 2.6 3 1.5 3-.5 3-1.6 3-1.5 3-.3 3-.7 3-3.4 3-2.8 3 1.5 3 4.5 3 5.6 3 5.2 3 1 3-5.3 3-7.1 3-4.4 3-.7 3 1.9 3 2.9 3 1.7 3-1.4 3-3.5 3-2.6 3-.4 3 2.4 3 4.5 3 3.2 3 .2 3-1.9 3-3.7 3-2.9 3 .5 3 2.2 3 .6 3 0 3 .7 3 .7 3-.7 3-3.2 3-5 3-1.8 3 2.9 3 3.7 3 1.4 3 .5 3 1.6 3 1.8 3-1 3-1.6 3 .9 3 1.5 3-.2 3-.2 3 1.6 2 2.1"/>
<path d="M34 97.7l3 5.1 3 2.9 3 .1 3-.7 3 .6 3 2.6 3 2.1 3-1.4 3-3.4 3-3.4 3-2.7 3-.4 3 2.1 3 2.8 3 3 3 3 3 1.7 3 .2 3-1.6 3-2.9 3-1.9 3-.9 3-1.4 3-.1 3 1.8 3 1.3 3-.2 3-.3 3 .9 3 1.6 3 1.2 3-.2 3-.8 3-.9 3-2.9 3-4.5 3-2.9 3 1.5 3 4 3 1.6 2-1.3 1-1 1-1.1 2-1.7 2 0 1 2.4 1 5.1 2 13.5 2 6.8 1 .1 1-.8 2-1.8 2-1.2 1-.4 1-.4 2-.6 2 0 1 .4 1 .7 2 1.8 3 1.4 3-2.8 3-3.9 3-.9 3 1 3 .3 3-.6 3-2.1 3-2.4 3-.6 3 1 3 .9 3-.1 3-1.2 3-1.9 3-1.3 3-.3 3-2.4 3-4.6 3-1.1 3 4.5 3 5.9 3 2.9 3 .7 3 .1 3-.4 3-1.3 3-1.9 3-1 3-1.4 3-2.7 3-.8 3 2.5 3 2.4 3-.3 3-1 3-.4 3-2.1 3-4.8 3-4.6 3-.3 3 4 3 5.2 3 4.3 3 2.2 3-1.7 3-3.6 3-2.3 3-.6 3 .6 3 .6 3-1 3-.8 3 .4 3 .4 3-.3 3-.5 3-1 3-.8 3 .2 3 .7 3 .5 3-1.5 3-4.2 3-5.5 3-4.2 3 .4 3 5.1 3 4.7 3 .8 3-.5 3 .5 3 .7 3 .9 3 1.1 3 1.1 3 2 3 1.8 3-1.3 3-4.7 3-5.2 3-2.4 3-.2 3 .4 3 1.2 3 .6 3-.7 3-.6 3-.7 3-.9 3-.3 3 .8 3 1.6 3 2 3 2.4 3 .8 3-1.1 3-.3 3 .6 3-.2 3-.3 3-.3 3-.4 3 1.3 3 3.7 2 2.1"/>
<path d="M34 100.4l3-2.2 3-2 3-.5 3 1.2 3 1.7 3 1.1 3-.4 3-1.9 3-.1 3 3 3 3.6 3 1.3 3-1.4 3-1.1 3 .7 3 .7 3-.3 3-1.2 3-1.4 3-.5 3 1.2 3 .7 3 .3 3 1.6 3 2 3 .7 3-.5 3-.4 3 .1 3 .3 3-.5 3-1.7 3-2.4 3-1.4 3 .5 3 1.8 3 1.5 3-.1 3-1.5 3-1.2 2 .1 1 .3 1 .4 2 .6 2 2.9 1 4.2 1 5.5 2 9.8 2 2.4 1-.2 1-.5 2-.2 2 1 1 .9 1 1 2 1.3 2-.7 1-1.1 1-1.6 2-3.3 3-3.4 3-1.2 3-.2 3 .8 3 1.5 3 1.2 3-.1 3-1 3-1 3-.4 3 1.8 3 1.7 3-4.3 3-8.4 3-3.6 3 3.5 3 4.2 3 1 3-1.3 3-1.4 3-1.2 3-2.5 3-3.9 3-2.2 3 2.3 3 5.2 3 2.4 3-1.2 3-1.9 3-1.7 3-1.4 3-1.2 3-2 3-2.2 3-.4 3 2.3 3 3.5 3 2.5 3 1 3-.2 3-1.3 3-2 3-2.2 3-3 3-3.9 3-2.6 3 2 3 4 3 1.2 3-1.6 3-2.7 3-1.8 3-.3 3-1.3 3-.3 3 3.7 3 5.3 3 4.6 3 4.4 3 3.2 3-.4 3-3.8 3-2.5 3 2.2 3 3.9 3 1.7 3-1.4 3-1.7 3 .8 3 .9 3-1.9 3-1.6 3 0 3 .3 3 1 3 1.1 3-.7 3-2.2 3-2.2 3-3.5 3-4 3-.3 3 4.3 3 4.2 3-.4 3-2.8 3-.6 3 .8 3-.9 3-2.6 3-1.2 3 .9 3 .3 3-1.3 3-.8 3 .4 3 .5 3-.3 3-.1 3 1.4 3 .9 3-.9 3-.5 3 .9 3 2.2 2 2"/>
<path d="M34 97.8l3-.4 3 .2 3 1.5 3 1.8 3 0 3-.3 3 .9 3 .3 3-1.4 3-1.2 3 .3 3-.1 3-3.2 3-3.3 3-.3 3 1.6 3 3.8 3 4.1 3 1.4 3-.3 3-.7 3-.4 3-.3 3-1.4 3-3 3-3 3-1.2 3 1.7 3 1.6 3-.4 3-1.3 3-1.2 3 .5 3 3.1 3 3 3 .9 3 0 3 1 3 1.4 3 .5 2 .3 1 .3 1 .2 2 .7 2 3.2 1 3.1 1 3.9 2 9 2 7.8 1 2.3 1 1.4 1 .6 1-.1 2-1.5 1-1.1 1-1.3 2-2.5 2-2 1-.7 1-.5 2-.3 3 1.3 3 2.9 3 .1 3-4.6 3-5.5 3-3.4 3-2.4 3-1.8 3-.2 3 1.3 3 1.6 3 2.3 3 2.6 3 .4 3-1.8 3-2.7 3-2.6 3-1.1 3 1.4 3 2.5 3 .1 3-3.5 3-3 3 .8 3 3 3 1.5 3-.9 3-1.9 3-1.3 3-.1 3 1.7 3 3.1 3 2.5 3 0 3-2.2 3-3.4 3-3.3 3-2.3 3-.8 3 .8 3 .6 3 .3 3 1.9 3 1.2 3-1.9 3-.2 3 4.3 3 5.5 3 3.1 3 0 3-1.7 3-1.8 3-2.7 3-2.5 3-.9 3-.1 3 1.3 3 1.8 3 .7 3-.5 3-1.6 3-2.3 3-2.7 3-2.9 3-2 3-.3 3 2 3 3.2 3 1.4 3-2.4 3-4.7 3-1.4 3 3 3 1.9 3 0 3 1 3 1 3 .3 3 .6 3 .4 3-.7 3-.9 3 .4 3 .2 3-2 3-1.5 3 .7 3 .9 3-.5 3-2 3-1.4 3 .1 3-.4 3-2 3-2.3 3-1.2 3 1.2 3 2.1 3 .5 3-.1 3 .5 3 .5 3 .1 3 .1 3-.1 2-.1"/>
<path d="M34 103.7l3-5.6 3-3.4 3 .6 3 3 3 3.2 3 2.2 3 .3 3-.3 3 .4 3 1.2 3 2.4 3 3 3 .2 3-3.7 3-4.9 3-1.4 3 4.1 3 6.2 3 2.6 3-2.4 3-4.3 3-4.4 3-3.9 3-.9 3 2.9 3 4.4 3 3.5 3 1.2 3-1.2 3-2 3-.5 3 .5 3-.8 3-2.6 3-2.9 3-1.8 3 0 3 1.7 3 3.2 3 2.8 2 .6 1-.2 1-.2 2-.4 2 2 1 2.8 1 4 2 9.7 2 7.6 1 1.8 1 .1 2-2.7 2-4 1-1.8 1-1.3 2-1.2 2 .3 1 .6 1 .8 2 1.7 3 1.9 3-.3 3-2.2 3-3.5 3-5 3-4 3-.9 3 1 3 1.1 3 .2 3-.3 3-.1 3-.4 3 .1 3 .7 3-.1 3 0 3 .9 3 .1 3-.7 3 .4 3 1.3 3-.4 3-3 3-2.9 3-.5 3 .1 3-1.9 3-1.3 3 2.5 3 3.5 3 .4 3-.6 3 1 3 1 3-.2 3-.2 3 .8 3 1.9 3 1.2 3-1.3 3-3.3 3-2.9 3-1.5 3-.4 3 0 3 1 3 1.9 3 1.6 3 .7 3-.4 3-2.3 3-4 3-2.4 3 .5 3 1.6 3 1.7 3 .4 3-2.5 3-2.6 3 .5 3 2.2 3 1 3 .4 3 1.8 3 3.5 3 2.3 3 .5 3 .3 3-.6 3-3.3 3-4.2 3-2.5 3-1.6 3-.5 3 2.7 3 4.8 3 2.8 3-1.2 3-3.7 3-3.1 3-.8 3 .2 3 .3 3 2.2 3 4.3 3 3.1 3-.1 3-2.3 3-2.2 3-1.6 3-.6 3 1.5 3 2.4 3 0 3-2.1 3-1.5 3 .4 3 1.5 3 1.3 3 1.6 3 .8 3-1.4 3-2.2 3-1.6 2-1.1"/>
<path d="M34 103.3l3 5.2 3 3.4 3-.5 3-1.1 3-.9 3-1.9 3-2.3 3-1.3 3 1.3 3 3.6 3 2.5 3-1.5 3-3.2 3-1.5 3 1.1 3 2 3 .6 3-.6 3-.2 3-.1 3-1.7 3-2.9 3-1.3 3 .2 3-.1 3 1.5 3 2.3 3-1.6 3-3.7 3 0 3 3.4 3 3.7 3 2.6 3 1.3 3 0 3-1.6 3-2.6 3-2.4 3-1.9 3-1.3 2-.9 1-.7 1-.9 2-2.4 2-1.9 1 .4 1 2.5 2 11.4 2 13.5 1 4.5 1 2.1 2-.1 2-2.2 1-.9 1-.5 2 .4 2 1.2 1 .7 1 .5 2 .6 3 .6 3 1.8 3 1.4 3-1.5 3-4.5 3-5.2 3-3.2 3-1.3 3-.9 3 1.2 3 4.4 3 5 3 2.2 3-1.3 3-3.6 3-4.6 3-3.4 3-.4 3 2.2 3 3.8 3 2.6 3-.8 3-3.1 3-4.5 3-3.8 3-.1 3 2.3 3 2.1 3 .6 3-2.3 3-3.7 3-1.2 3 2.4 3 3.2 3 1.1 3-.8 3-2 3-2.1 3-1.4 3-1.7 3-1.9 3-1.8 3-1.6 3 1 3 5.2 3 5.6 3 1.1 3-3 3-2.3 3 1.6 3 2.9 3 1.4 3-.2 3-2 3-2.6 3-2.1 3-2.4 3-1.8 3 1.2 3 3.9 3 2.3 3-.5 3 0 3 1.7 3 1.4 3-1.5 3-4 3-3.1 3 .1 3 2.7 3 2.9 3 .2 3-1.9 3-3 3-3.1 3 .4 3 3.8 3 3.9 3 1.5 3 .3 3 1.2 3 .9 3-3.4 3-6.1 3-3.2 3-1.2 3-.9 3 2.1 3 4.8 3 4.5 3 2.8 3 .4 3-.3 3 .1 3-.8 3-1.2 3 .4 3 1.6 3 .1 3-1.9 3-1.6 3-2.9 3-5.8 3-3.6 3 2.9 2 3.8"/>
<path d="M34 108.5l3-3.9 3-4.8 3-.8 3 5.7 3 9.1 3 6.5 3 .4 3-5.2 3-8.2 3-5.7 3-1.8 3-3 3-6.8 3-4.2 3 4.2 3 7.3 3 1.9 3-2.3 3 .9 3 4.7 3 3.4 3 .7 3-.6 3-1.9 3-1.3 3 1.2 3 1.6 3-.5 3-1.6 3 .3 3 1.8 3 1 3-.5 3-1.6 3-2.6 3-3.2 3-1.8 3-.8 3-1.4 3 .3 2 1.9 1 1.3 1 1.3 2 2.2 2 1.6 1 .7 1 1.4 2 7.5 2 11.8 1 5.6 1 4.2 2 2.7 2-1.7 1-1.5 1-1.4 2-2.2 2-.7 1 .1 1 .3 2 1.3 3 2.3 3 .8 3-1.3 3-1.4 3-1.4 3-2.9 3-1.9 3 .9 3 .6 3-1.9 3-2.2 3-.2 3 1.2 3 3 3 4.7 3 1.2 3-4.3 3-4.1 3-.8 3 0 3-.4 3-.3 3-.8 3-2 3-.2 3 2.3 3 1.2 3-1.4 3-1.7 3 .2 3 1.5 3 .6 3-1.4 3-2.3 3-3.5 3-3.7 3-1.1 3 1.9 3 .5 3-.9 3 .7 3-.2 3-2.8 3-.9 3 2.5 3 2.9 3 1.9 3 .6 3-.6 3-1.4 3-.9 3-.5 3-.4 3-.1 3 .2 3 .4 3-1.2 3-2.9 3-1.2 3 2.2 3 2.4 3-.1 3-1.5 3-.9 3-1.7 3-2.8 3 1.2 3 6.2 3 4.3 3-2 3-5.8 3-4.8 3 .7 3 6.3 3 5.2 3-.5 3-3.5 3-.7 3 3 3 1.4 3-2.7 3-3.3 3-1.7 3-1.5 3-1.5 3 0 3 1.8 3 1.9 3 .4 3-.1 3 .5 3 1.4 3 .5 3-1.6 3-.7 3 2.7 3 2.5 3-1.1 3-1.9 3-.7 3-1.4 3-2.6 3-1.7 3-.7 3-.6 2-1"/>
<path d="M34 104.9l3-.4 3-.5 3-1 3-.6 3 .8 3 .2 3-2.2 3-1.2 3 2 3 2.2 3 2.6 3 4.5 3 2.2 3-3.5 3-6.2 3-4.5 3-1.4 3 1.3 3 2.7 3 1.8 3 .7 3 1.1 3 1.9 3 1 3-1 3-1.4 3-1.4 3-2.3 3-2.3 3-.2 3 .8 3 .1 3 .6 3 2.2 3 3.1 3 2.7 3 .8 3-2.2 3-4 3-3.3 2-.2 1 .6 1 1 2 3.1 2 11.9 1 9.3 1 8.6 2 7.3 2-1.4 1-1.5 1-1.6 2-3.1 2-2.8 1-1.2 1-1.1 2-1.6 2-.5 1 0 1 .1 2 .1 3-.8 3-.3 3 1.5 3 .7 3-3.1 3-4.3 3-.7 3 3 3 1.8 3-1.7 3-2.6 3-.2 3 1.3 3 1 3 .8 3 1.7 3-.1 3-4.3 3-4.9 3-1.2 3 1.2 3 .4 3-.5 3 1.5 3 3.8 3 3.4 3 .5 3-1.9 3-3.3 3-3.2 3 .3 3 4.9 3 3.5 3-2 3-4 3-2.7 3-2.1 3-2 3-.9 3 1.4 3 3.2 3 2.2 3 0 3-.8 3-1.2 3-2.8 3-2.7 3-.2 3 2 3 2.5 3 1.5 3-1.1 3-3.2 3-4.1 3-5.2 3-3.6 3 .4 3 2.5 3 3.3 3 4 3 3.1 3 .5 3-1.4 3-2.3 3-3.2 3-2.3 3 0 3 1.6 3 2 3 1.1 3-.2 3-.6 3 .8 3 1.5 3 .3 3-.6 3-.6 3-.5 3 .4 3 .5 3-1 3-2.7 3-2.5 3 1.5 3 4.9 3 2.4 3-1.4 3-2.1 3-1 3-.3 3-.1 3-.3 3-1.4 3-2.6 3-3.3 3-1.9 3 .2 3 1.8 3 2.9 3 3.1 3 3.2 3 2.7 3 .6 3-1.5 3-1.2 2 .1"/>
<path d="M34 100.5l3 3.4 3 3.3 3 0 3-2.9 3-3.5 3-1.4 3 .8 3-.5 3-2.7 3-3.2 3-2 3 1.2 3 4.5 3 4.5 3 1.2 3-.3 3 .4 3 1.2 3 1.2 3-.5 3-2.5 3-2.6 3-.9 3 .8 3 1 3 .7 3-.6 3-1.3 3 .3 3 2.7 3 3.2 3 1.3 3-1.4 3-2.5 3-.8 3 1.2 3 1.2 3 .7 3 1 3 1.2 2 .9 1 .4 1 .5 2 .7 2 3.2 1 4.4 1 6 2 13.2 2 7.4 1 .4 1-1 2-3.8 2-3.1 1-.8 1-.4 2 .1 2-.2 1-.7 1-1 2-3 3-4.4 3-1.7 3 1.4 3 1.3 3-2 3-2.9 3-1.1 3 .1 3 1.6 3 2 3-.7 3-3.2 3-2.2 3-.1 3 .3 3 0 3-.3 3-2.5 3-2.4 3 2.1 3 4.3 3 2.4 3 1.2 3 .2 3-.8 3-.7 3-1.4 3-2.7 3-2.8 3-2.8 3-2.6 3-1.5 3 .1 3 1.5 3-.4 3-3 3-1.9 3-.4 3 0 3 1 3 2 3 2.8 3 2.1 3-1.2 3-3.2 3-2.1 3-1.4 3-.8 3-.6 3-1.8 3-1.7 3 .6 3 3.5 3 6.1 3 6.4 3 3.8 3-.1 3-1.9 3-1.5 3-1 3-.3 3 .4 3 .8 3 1.1 3-1 3-2.9 3-1.1 3 1.9 3 1.1 3-2.4 3-3.3 3-1.7 3 1.1 3 3.8 3 3.8 3 1.1 3-2 3-2 3 .2 3 1.6 3 2.2 3-.4 3-5.1 3-5.5 3-1.3 3 2 3 2.1 3 1 3 1.5 3 .8 3-.8 3-.6 3-.2 3 .2 3 .7 3-1.2 3-3.1 3-1.2 3 .2 3-1.1 3-1.2 3-.4 3-.1 3-.2 3-.1 2 0"/>
<path d="M34 100.8l3-.3 3 1 3 1.3 3 .1 3-.8 3-1.7 3-.6 3 3 3 2.7 3-1.6 3-1.9 3 1.9 3 3.7 3 1.5 3-1.7 3-1.6 3 1.7 3 3.5 3 3.2 3 1.9 3-1.8 3-5.2 3-3.7 3 .3 3 2 3 1.6 3 .8 3-.3 3-.4 3-.9 3-3.3 3-3.7 3-.2 3 2.1 3 .1 3-1.7 3 1.4 3 4.4 3 .2 3-7 2-4.8 1-1.5 1-.7 2 .5 2 1.5 1 .6 1 .3 2 1.4 2 5.9 1 5 1 5.9 2 12.5 2 9.6 1 2.5 1 1.8 2 1.5 1 .1 1-.5 1-.9 1-1.4 2-3.7 3-4.7 3-2.2 3-2.1 3-1.3 3-.3 3-1.1 3-.8 3 .7 3 .5 3-.3 3 .3 3-.1 3-3.1 3-4.1 3 .6 3 5.4 3 2.4 3-4.8 3-7 3-6.3 3-5.3 3 .6 3 7.1 3 6.4 3-.1 3-5.7 3-6 3-2.8 3-.5 3 1.3 3 4.4 3 5.6 3 1.5 3-3.1 3-2 3-.3 3-2.7 3-5 3-1.9 3 1.8 3 2 3 1.6 3 2.1 3 1.8 3 .9 3 .2 3-.8 3-1.9 3-.5 3 2.7 3 2.6 3-.2 3-3.1 3-4.5 3-3.9 3-1.2 3 1.8 3 2.1 3-1 3-3.2 3-2.2 3-.3 3 .3 3 .8 3 3.9 3 4.9 3 1.4 3-2.2 3-1.9 3-1.4 3-.2 3 2.7 3 3.9 3 2.2 3 .8 3 .1 3 .1 3-1.3 3-2.6 3 0 3 2.1 3-.9 3-3.5 3-1.7 3 .5 3 .2 3-.4 3 0 3-.9 3-.8 3 .5 3-.7 3-1.5 3 1.7 3 2.8 3-1 3-3.4 3-.8 3 2.7 3 2.8 3 .8 3-1.4 3-3 3-2.1 3 .8 2 1.3"/>
<path d="M34 99.6l3-2.9 3-2.4 3 .8 3 3 3 1.6 3-.2 3 0 3-.3 3-1.6 3-.9 3 1.7 3 3.1 3 4.4 3 4.4 3 .7 3-3.2 3-3.4 3-1.1 3-.3 3 .6 3 3.3 3 3.2 3-.3 3-2 3-2.2 3-2.3 3-1.6 3-.6 3 .9 3 1.3 3-.2 3-2.6 3-3 3-.1 3 3 3 4.2 3 4.4 3 2.5 3-2.5 3-5.5 2-2.5 1-.5 1 .2 2 1.8 2 3.4 1 3.2 1 4.4 2 11.5 2 11 1 4 1 1.8 2 1 2-.8 1-.8 1-1.1 2-2.7 2-2.7 1-1.1 1-.9 2-1.3 3-1.2 3-.1 3-1.1 3-3.1 3-1.5 3 1.2 3 .3 3-1.6 3-.8 3 0 3 0 3 .4 3-.8 3-3.5 3-5.3 3-3.1 3 1.6 3 2.3 3-1.1 3-2 3-.3 3 .5 3 1.4 3 .5 3-1.3 3-.3 3 .2 3-.9 3-.1 3 1.8 3 .6 3-.6 3 1.7 3 2 3-.2 3 0 3 1.6 3 1 3-1.4 3-2.8 3-3.5 3-4.5 3-1.4 3 4.6 3 6.5 3 2.7 3-2 3-2.5 3-1.6 3-1.4 3 .5 3 1.7 3 .3 3 .3 3 1.9 3 .6 3-3.5 3-6.8 3-5.7 3-.8 3 2.9 3 4 3 4.9 3 4.4 3 1.3 3-.8 3-1.1 3-3 3-5.2 3-2.7 3 2.8 3 4.6 3-.2 3-3.7 3-1.2 3 .7 3 .2 3-.7 3-1.2 3-.1 3 .8 3 .1 3-1.2 3-1.9 3-.3 3 1.2 3-1.2 3-3.6 3-1.5 3 2.2 3 2.9 3 2.1 3 3.3 3 4.3 3 2 3 .4 3 .5 3-.4 3-1.6 3-1.4 3-.2 3 .8 3 0 3-.2 3 .1 2-.3"/>
<path d="M34 104.1l3 1.9 3-.3 3-2.1 3-1.3 3-.7 3-1.9 3-2.5 3-1.2 3-.1 3-1.3 3-2.2 3 .1 3 3.3 3 2.7 3 1.1 3 1 3 .8 3 .2 3 .2 3 .9 3 1.9 3 1.2 3 .1 3 1 3 1.6 3-.7 3-2.5 3-1.5 3-.5 3-.4 3-1.4 3-2.6 3-2.4 3-.6 3 .7 3-.1 3 .4 3 1.5 3-.2 3-3.2 2-2.9 1-1.2 1-.7 2 8.1 2 19.2 1 9.3 1 6.1 2 6 2 2.9 1 1.1 1 .7 2 .6 2-.3 1-.4 1-.5 2-1.6 2-1.9 1-1.1 1-1.1 2-2.4 3-4.3 3-5.4 3-4.4 3-2.1 3-.2 3 1.9 3 3.2 3 2.5 3 1.1 3 .2 3-.5 3-1.8 3-3.6 3-5.4 3-4.8 3-2 3-.4 3-.9 3 1.3 3 4 3 1.8 3-1.8 3-2.4 3-1.6 3-.1 3 .3 3-.4 3 0 3 1.5 3 2 3 .4 3-2.2 3-3.6 3-3.2 3-.9 3 2.3 3 2.6 3 .2 3-.2 3 2.1 3 2.7 3-.3 3-4.2 3-3.9 3-.7 3 0 3-1.1 3 .4 3 2.1 3 1.4 3 .5 3-.3 3-.6 3 .7 3 1.2 3-.5 3-2.6 3-3.9 3-3.9 3-.9 3 4.3 3 6.1 3 2.5 3-1.4 3-2.3 3-.3 3 2.2 3 2.6 3 1.2 3-1.5 3-3.2 3-1.1 3 2.3 3 2.2 3-.3 3-1.8 3-1.6 3-.1 3 .8 3-1.1 3-2.6 3-.5 3 .2 3-.9 3-.2 3 .9 3 .5 3 .1 3 .2 3-1.4 3-3.3 3-2.9 3-1.4 3 .1 3 1.2 3 .8 3 0 3 1 3 1.4 3 0 3-1.4 3-1.7 3-.2 3 3.8 3 6.8 2 3.5"/>
<path d="M34 102.2l3 1.7 3 1.1 3-.6 3-.1 3 1.2 3 .3 3-1.4 3-2.7 3-3.4 3 .5 3 6 3 4.9 3-.3 3-3.1 3-2.1 3-.6 3 .3 3 1.5 3 .2 3-2.3 3-.8 3 2.8 3 3.1 3 .7 3-.2 3 .5 3 .5 3-.8 3-2.1 3-1.4 3 .9 3 2.1 3 1.3 3 .6 3 .4 3-.1 3-1.9 3-2.1 3-.1 3-.4 2-1.7 1-1 1-1 2-.6 2 6.2 1 6.3 1 7.5 2 14 2 7.3 1 1.2 1 .1 2-1.2 2-2 1-1 1-.8 2-.8 2-.1 1 0 1-.1 2-.8 3-2.3 3-1.9 3-1.7 3-1.7 3-1.3 3-.1 3 .8 3 1.3 3 1.5 3 1.4 3 .8 3-.2 3-1.9 3-3.9 3-4.7 3-2.4 3 1 3 .9 3-1.3 3-.3 3 2.7 3 3.1 3 1.2 3 .8 3 1.7 3-1.1 3-5.9 3-6.2 3-1.9 3 3 3 5.4 3 3.9 3-.2 3-1.9 3-.7 3-1.2 3-2.1 3-1.4 3-1.5 3-1.9 3-.3 3 .4 3 .2 3 1.3 3 1.3 3-1.4 3-3.5 3-2.4 3 .1 3 1.7 3 1.2 3-1.7 3-4.7 3-4.8 3-.8 3 3.4 3 3.5 3 2.3 3 1.6 3 .8 3 .8 3 .6 3 .8 3 1.2 3 .2 3 0 3 .6 3-1.6 3-3.3 3-1 3 1.6 3 .7 3-1.4 3-1.6 3 .3 3 3 3 2.8 3-1 3-4.5 3-4.1 3-.2 3 2.2 3 1.7 3-1 3-3.5 3-4.1 3-1.7 3 2.3 3 4.4 3 4.8 3 4.4 3 1.1 3-3.2 3-4.8 3-3.2 3-.2 3 1.6 3 .2 3-.6 3 1 3 2.1 3 1.3 3-.1 3-2 3-3 2-1.7"/>
<path d="M34 102.8l3 1.9 3-1 3-2.3 3 .2 3 1.3 3-.3 3-.4 3 .9 3 .4 3-1.1 3-1.1 3 .1 3 .7 3 .7 3 .4 3-.5 3-.3 3-.1 3-1.2 3-1.4 3 1 3 3.7 3 2.6 3-1.4 3-3.7 3-1.5 3 2.5 3 3 3 1.2 3-.1 3-2.1 3-3.9 3-2.8 3-.2 3 1.4 3 3.1 3 4.5 3 2.1 3-2.5 3-4.4 2-2 1-.6 1-.4 2-.1 2 .7 1 1.2 1 2.3 2 8.6 2 13.3 1 7.3 1 6.9 2 10 2 3.4 1-.1 1-.5 2-1.3 2-.7 1-.4 1-.6 2-2.7 3-6.8 3-5.9 3-.8 3 2.9 3 3.5 3 1.7 3-1.2 3-4.2 3-3.5 3-.3 3 .4 3-.5 3 .4 3 2.3 3 2.7 3 1.6 3-1.4 3-3.5 3-3.3 3-1.8 3 .3 3 1 3-.6 3-2.9 3-3.3 3-2.2 3-.7 3 0 3-.1 3 1 3 3.4 3 3.4 3 2.8 3 3.7 3 2.4 3-1.8 3-4.2 3-4.2 3-3.3 3-2 3-1 3-1 3-1.6 3-2.1 3-1 3 2.6 3 3.7 3-.5 3-4.2 3-2.6 3 2.1 3 4.3 3 1.7 3-.8 3-.5 3 1.1 3 1.7 3 .2 3-.6 3-2 3-4.4 3-3.3 3 1 3 3.2 3 2.6 3 .5 3-2.8 3-4.6 3-2 3 2.1 3 2.7 3-.2 3-2.5 3-1.6 3 1 3 2.3 3 1.5 3 .5 3 .3 3 .1 3-1.1 3-3 3-2.6 3 .8 3 3.4 3 1.7 3-2.1 3-4.9 3-4.5 3-2 3 .5 3 1.2 3-.2 3-1.5 3-.7 3 .7 3 1.8 3 2.2 3 1.9 3 .2 3-1.7 3-2.8 3-2 3-.5 3-.1 2-1.1"/>
<path d="M34 101.5l3 2.2 3-.7 3-3.5 3-2.1 3 .3 3-.3 3-2 3-1 3 1.1 3 1.5 3 .9 3 2.7 3 4.7 3 3 3-.8 3-2.5 3-1.5 3 1.3 3 2.5 3 2 3 1.5 3 .4 3 0 3 2.3 3 1.2 3-3.9 3-4.9 3 .1 3 2.2 3-.1 3-1.2 3-.7 3-.7 3-.5 3-.9 3-2.8 3-3.7 3-1.4 3 2.8 3 5.2 2 1.8 1 0 1-.8 2-2.5 2-1.9 1 0 1 1.4 2 8.4 2 14 1 7.2 1 6.2 2 7.4 2 1.3 1-.2 1-.3 2-.1 2 .5 1 .3 1 .3 1 .2 1 0 3-2.3 3-6.8 3-8.7 3-4.9 3 .5 3 3.7 3 3.7 3 .9 3-1.1 3-1.4 3-1.7 3-1.2 3-.9 3-.1 3 .3 3-2 3-4 3-.9 3 2 3 .6 3 .5 3 2.8 3 1.3 3-3.2 3-5 3-2.5 3 .3 3 1.3 3 1.3 3 .7 3-1.6 3-4.6 3-4.8 3-2.1 3-.3 3-1 3-1.3 3 1.4 3 5.6 3 6.2 3 2.7 3-1.2 3-3.3 3-3.3 3-.8 3 2.1 3 1.7 3 .1 3 1.8 3 2.8 3 0 3-2.5 3-3.1 3-2.2 3-1 3 .1 3 .8 3 1.2 3 .9 3 .4 3 .9 3 .5 3-1.5 3-2.9 3-2.9 3-1.3 3 .3 3 1.1 3 2 3 1.4 3-1.8 3-4.8 3-3.2 3 1.8 3 4.1 3 1.8 3-2.4 3-3.9 3-1 3 2.1 3 .9 3-3 3-4.5 3-1.6 3 1.9 3 3.1 3 2.2 3 .4 3-1.9 3-2.6 3 0 3 3.3 3 3.5 3 2.5 3 1.8 3-1 3-3.9 3-3.8 3-1.3 3 3.4 3 5.4 3 .8 3-3.1 3-.7 3 2.3 2 1.6"/>
<path d="M34 113.1l3 .2 3-.2 3-2 3-2.2 3 0 3 1.2 3 1.4 3 1.2 3 .2 3-1.3 3-2.6 3-1.2 3 1.2 3 2.3 3 2.4 3 1 3-1 3-1.6 3-.8 3-.3 3-.9 3-3.4 3-4.3 3-.6 3 1.9 3 .5 3-1.1 3-1.6 3-1.1 3 1.7 3 3.1 3 1.3 3 0 3 .3 3 0 3-1.2 3-1.7 3-.7 3 .5 3 1.5 2 1 1 .2 1-.2 2-1.3 2-1.6 1-.5 1 .2 2 5.2 2 11.7 1 7.2 1 7.2 2 11.9 2 3.7 1 0 1-1 2-3.2 2-3.6 1-1.6 1-1.4 2-2.1 3-1.3 3-.4 3-.8 3-2.4 3-5.6 3-4.5 3 .5 3 1.1 3-1.8 3-2.5 3-.2 3 1.9 3 1.1 3-1.1 3-.9 3 1 3 1 3-.7 3-1.9 3-2.3 3-2.5 3-1.2 3 1.4 3 1.4 3 .3 3 1.4 3 1.8 3-.6 3-2.7 3-2.8 3-1 3 .9 3 1.3 3 1.5 3 .7 3-2.5 3-4.3 3-2.9 3-1.6 3-1.5 3-1.8 3-1.9 3 .1 3 3.9 3 6.4 3 5.5 3 1.7 3-1.4 3-3.4 3-4.3 3-1.7 3 1.4 3 .9 3-.9 3-.6 3 1.7 3 2.5 3 .8 3-1.1 3-2.2 3-2.1 3-1 3 .2 3 1.7 3 2.9 3 1 3-1.5 3-.2 3 2.8 3 1.8 3-.9 3-1.5 3-.5 3 .1 3-.4 3-1.4 3-1.9 3-1.1 3 1.4 3 .8 3-2.6 3-2.6 3 .4 3 2.3 3 3 3 1 3-2.8 3-4.1 3-3.6 3-1.8 3 2 3 4.1 3 2.7 3 1.6 3 1.8 3 .1 3-1.7 3-1.7 3-2.7 3-4.2 3-3.7 3-1 3 2.3 3 4.9 3 5.2 2 2.5"/>
<path d="M34 104.2l3-2.8 3-.3 3 1.6 3 .9 3 .7 3 .8 3-.6 3-2.1 3-2.5 3-1.2 3 2.1 3 5.6 3 5.2 3-.7 3-6.1 3-4.3 3 1.8 3 4.7 3 2.2 3-1.3 3-2 3-.3 3 2.1 3 3.8 3 2.5 3-1 3-2.3 3-2.3 3-3.7 3-3.5 3-1 3 .4 3 1 3 1.5 3 1 3-.7 3-.5 3-.3 3-1.7 3 0 2 2.2 1 1.5 1 1.5 2 2.4 2 2.3 1 3.7 1 6 2 15.3 2 9.7 1 1.2 1 0 2-.5 2 1.2 1 .9 1 .8 1 .3 1-.2 2-1.8 1-1.4 1-1.4 2-1.9 3 0 3 1.1 3-.4 3-1.7 3-2.6 3-2.8 3-1.9 3-1.9 3-2.3 3-.9 3 .8 3 0 3-1.1 3-.6 3-2.1 3-4.4 3-2.4 3 1.2 3 2.8 3 2 3-1.2 3-4.8 3-5.3 3-2.5 3-.5 3 .1 3 .5 3 1.2 3 1.3 3 1 3 1.5 3 2.3 3 1.2 3-1.1 3-.7 3 .9 3 2.3 3 3 3 1.2 3-2 3-2 3-.9 3-1.3 3-2.7 3-3 3-1.7 3-.2 3-.5 3-1.5 3-.3 3 1.2 3 .4 3-.7 3 .8 3 2.3 3 1.7 3-.1 3-.9 3-.2 3-.4 3-1.8 3-1.5 3-.2 3-.4 3-.4 3 1.4 3 2.6 3 1.2 3-1.3 3-.5 3 2.5 3 1.7 3-1.4 3-2.7 3-.6 3 1.9 3 2.2 3 1 3-.3 3-1.9 3-2.9 3-2.1 3-1.6 3-3.1 3-3.6 3-.5 3 3.4 3 4.4 3 2.9 3 1.1 3-1.6 3-3.1 3-2.9 3-2.8 3-2.4 3-1.7 3-1 3 1.3 3 3.2 3 1.3 3-1.2 3-1 3 0 3 1.4 3 2 2 .1"/>
<path d="M34 100.1l3-2.8 3-4.1 3-3 3 .3 3 1.7 3 .9 3 1.3 3 1.8 3 1.6 3 1.6 3 2.5 3 2.3 3-1.1 3-3.3 3 .7 3 5 3 3.2 3-1.2 3-3.2 3-1.4 3 2.3 3 3.8 3 1.6 3-2 3-3.3 3-1.4 3 .3 3 .1 3 .1 3 0 3-1.3 3-1.7 3 .3 3 2.3 3 1 3-1.9 3-3.4 3-1.9 3 2 3 3.8 2 1.5 1 .2 1-.1 2-1 2 1.4 1 3.4 1 5.4 2 14.1 2 12.6 1 3.8 1 2.5 2 3.1 2 2.2 1 .7 1 .3 2-1.5 2-4 1-2.7 1-2.7 2-4.9 3-4.6 3-1.5 3-.5 3-.2 3 1.8 3 2.2 3-.3 3-2.7 3-3.3 3-2.6 3-1.7 3-1.1 3-1.1 3-2.2 3-2.3 3-.2 3 .2 3-2.4 3-3 3-.9 3 .8 3 2 3 3.9 3 4.3 3 1.6 3-1.4 3-2.8 3-2 3-.5 3 .4 3 .7 3 1.3 3 1.4 3 .5 3-1.8 3-4.9 3-4.5 3 .2 3 1.9 3-1.3 3-3.2 3-1.7 3 .3 3 .7 3-.6 3-1.5 3-.3 3 3.3 3 4.1 3 .9 3-1.3 3-.6 3 .7 3 .9 3-1.1 3-2.5 3-1.8 3-1 3-1.6 3-2.3 3-1.1 3 1.1 3 1.9 3 1.3 3 .5 3 .5 3 .7 3 .9 3-.2 3-2.9 3-3.8 3-.8 3 2.6 3 3.7 3 1.2 3-3.5 3-5 3-2 3 3 3 5.1 3 2.9 3 .6 3 0 3-1.5 3-3.2 3-.7 3 2.9 3 3.3 3 2.3 3 .4 3-2.2 3-2.9 3-2 3-1.6 3-1.9 3-1.4 3 .7 3 3.6 3 5 3 3.3 3 .2 3-2.5 3-3.4 3-1.5 3 .6 2 .5"/>
<path d="M34 102.6l3-1 3 .4 3 .6 3-.4 3 .2 3 .9 3-.1 3-.5 3-1.5 3-3.5 3-4.1 3-2.1 3-.3 3 1 3 4.5 3 6.3 3 3.8 3 1.9 3-.3 3-3.6 3-2.2 3 2.9 3 5.8 3 4.2 3 1.2 3-1.3 3-3.2 3-2.9 3-.7 3 .6 3-.2 3-1.3 3-1.4 3-.1 3 2.5 3 2.8 3 .2 3-1.7 3-2.8 3-2.5 2-.2 1 .5 1 .8 2 2.1 2 3.8 1 5.1 1 7.7 2 19.6 2 15.5 1 3 1 .5 2-3 2-3.6 1-1.1 1-.5 2 .1 2 .3 1 0 1-.1 2-.8 3-2.3 3-3.3 3-3.5 3-.8 3 3.2 3 3.3 3 .2 3-2.1 3-.4 3 2 3-.3 3-3.4 3-1.8 3 0 3 0 3-.5 3-2 3-3.5 3-1.9 3 .1 3 .3 3-.5 3-2.5 3-3.1 3-1.7 3 .4 3 2.3 3 2.8 3 1.7 3 1.2 3 .2 3-2.9 3-5.1 3-3.2 3 .6 3 2.3 3 1.5 3 .4 3-1.9 3-4.4 3-4 3-1.1 3 1.3 3 1.7 3 1.3 3-.3 3-3.4 3-3.4 3 2.3 3 5.2 3 1 3-2.9 3-3.1 3-1.9 3-.5 3 .2 3-.6 3-.8 3 0 3 1.1 3 3.6 3 6.2 3 4.6 3-1.1 3-5.4 3-6.1 3-4.5 3-2.3 3 .1 3 1.6 3 2.1 3 1.2 3 1.2 3 2.6 3 1.6 3-1.5 3-4.2 3-5.3 3-3.3 3 .2 3 2.8 3 1.3 3-1.4 3-.1 3 1.3 3-.6 3-1.4 3 .6 3 1.3 3-1.8 3-4.7 3-.8 3 5.5 3 3.8 3-1.3 3-.3 3 1.4 3-2.2 3-3.6 3-.9 3 1.3 3 1.2 3-1.1 3-2.1 3-.1 2 1.4"/>
<path d="M34 97.6l3-2.7 3 .1 3 3.7 3 4.5 3 2.7 3-.3 3-3.3 3-3.3 3 .9 3 3.2 3 .7 3-1.6 3-1 3 .3 3 1.2 3 1 3 .4 3-.2 3 .8 3 1.2 3 1.4 3 4.1 3 3.8 3-2.2 3-5 3-1.2 3 2.7 3 2.9 3 .9 3-2.1 3-4.6 3-3.6 3 .1 3 1.9 3 .9 3 .4 3 1.3 3 1.4 3 .4 3 0 2-.3 1-.1 1 0 2 1 2 4.5 1 7.1 1 10.3 2 21.7 2 9.3 1-.3 1-1.8 2-4.5 2-2.9 1-.6 1-.2 2 .3 2 .3 1 0 1-.1 2-.3 3-1.2 3-2.5 3-3.2 3-2.1 3-1.3 3-1.9 3-.5 3 2.7 3 1.7 3-2.1 3-4.3 3-3.3 3-.6 3 1.5 3 1.1 3 0 3-.3 3-1.7 3-4.3 3-5.9 3-4.4 3-.8 3 1.7 3 1.7 3 1.3 3 1.1 3 .8 3-.4 3-1.5 3-2 3-1.6 3-1 3-1.4 3-2.1 3-1.7 3-1.1 3-.2 3 2.1 3 2.9 3-.6 3-4.4 3-4.2 3-1.7 3-.8 3-1.4 3-2.4 3-1.9 3 1.5 3 3.7 3 2.8 3 1.9 3 2.4 3 1.1 3-2.4 3-3.4 3-.2 3 3.5 3 4.6 3 1.4 3-3.4 3-4.2 3-.3 3 1.5 3-1.1 3-2.4 3 .2 3 .5 3-3.2 3-4.1 3-2 3-.3 3 2.2 3 4 3 1.3 3-1.9 3 .1 3 3.6 3 3.8 3 1.4 3-.8 3-.9 3-1 3-2.4 3-2 3 .5 3 1.1 3-2.2 3-4.9 3-2.3 3 1.7 3 2.7 3 1.8 3-.3 3-2.1 3-2.1 3-1.5 3-.6 3 .6 3 1.2 3 1.3 3 1.1 3 .8 3 1.3 3 1.9 3 1.6 2 1.2"/>
<path d="M34 103.8l3 .9 3 .1 3 0 3-.1 3 .4 3 1.8 3 1.6 3-2.4 3-5.2 3-1.4 3 4 3 2.7 3-2.4 3-3.4 3-.1 3 1.8 3 1.1 3 .3 3-.7 3-2 3-1.8 3-.4 3 .3 3 .5 3 1.2 3 1.2 3 .5 3 1 3 1.5 3 .3 3-1.4 3-2.8 3-3 3-1.5 3 .3 3 2.2 3 1.8 3-2.2 3-3.7 3-.2 2 1.8 1 1.1 1 1.1 2 1.9 2 1.4 1 .8 1 2 2 9.5 2 16.2 1 8.9 1 8.4 2 10.8 2 3 1 .1 1-.4 2-1.7 2-2.2 1-1.1 1-1 2-2.2 3-3.2 3-2.2 3 .1 3 .4 3-1 3-.6 3 .9 3-.1 3-2.6 3-3.9 3-4.2 3-3.8 3-2.9 3-1.1 3 1.4 3 3.8 3 2.4 3-1.3 3-3.3 3-4 3-4.1 3-1.4 3 .9 3 .1 3-.5 3-.2 3 .7 3 1.9 3 1.4 3-1.7 3-4.8 3-2.6 3 2.3 3 1 3-3.5 3-2.3 3 2.4 3 2.7 3 .5 3 1.1 3 2.4 3 1.7 3-.5 3-1.8 3-3.6 3-5.6 3-4.8 3-.1 3 3.3 3 2.3 3 0 3-.8 3-.2 3 .5 3-.4 3-1.3 3 .1 3 2.7 3 2 3-1.7 3-3.7 3-2.5 3 0 3 .6 3-.4 3 .8 3 3 3 1 3-2.6 3-1.7 3 .8 3-.6 3-1.2 3 1.2 3 2.2 3 1 3 .4 3 1.1 3 2.1 3 .7 3-1.3 3-1.7 3-.5 3 .1 3-.5 3-2.1 3-1.4 3 1.7 3 3.3 3 .5 3-2.4 3-.7 3 3.4 3 5.5 3 4.8 3 .6 3-4.7 3-7.4 3-7.8 3-4.7 3-.6 3 2.2 3 3.9 3 3.3 3-.7 2-2.1"/>
<path d="M34 102.9l3-2.4 3-4.3 3-3.2 3-.9 3 2.2 3 3.5 3 2.2 3 1.3 3 .2 3-2.3 3-2.9 3-.9 3 .6 3 .8 3 .4 3-.2 3-.2 3 .9 3 2.4 3 3.5 3 2.9 3 .4 3-2 3-2 3 .7 3 2.6 3 1.2 3-.9 3-.7 3 .2 3 0 3-1.9 3-1.5 3 1.6 3 2.1 3-1.1 3-3.3 3-1.2 3 .9 3 .9 2 .8 1 .6 1 .6 2 1.2 2 6.4 1 6.4 1 8.2 2 18.1 2 13.7 1 3.2 1 1.5 1 .1 1-.9 2-3.3 1-2.2 1-2.1 2-3.9 2-2.1 1-.3 1 .3 2 1.3 3 .5 3-2.2 3-1.2 3 1.4 3 1.4 3-.1 3-1.5 3-2.9 3-2.8 3-1.1 3-.1 3-.8 3-2.2 3-2.6 3-1.6 3-1 3-.8 3-.6 3-.6 3-.6 3-.1 3 .1 3 0 3-.3 3-2.6 3-5 3-3.9 3-.8 3 1.1 3 .6 3-.6 3-1.3 3-2.2 3-2.4 3-.8 3 1.7 3 2.3 3 1.2 3-.5 3-.6 3 0 3-.9 3-1.6 3-1.4 3-1.3 3-.6 3 1.5 3 4.1 3 4.1 3 .7 3-3.6 3-4.8 3-2.1 3 1.4 3 2.2 3-.7 3-5.4 3-6.4 3-1.9 3 3.4 3 5.1 3 3.6 3 .6 3-.9 3-1.3 3-1.2 3-.2 3 0 3-2.6 3-3.6 3-1.4 3 .7 3 1.5 3 1.5 3 .4 3-.3 3 1.8 3 4.5 3 4 3 .7 3-2.6 3-3.4 3-1.5 3 1.3 3 3.1 3 2.4 3 .5 3-1.5 3-3 3-3.6 3-2.2 3-.2 3-.3 3-.2 3 1.9 3 1.4 3-1.6 3-2 3 1.3 3 3.5 3 2.4 3-.4 3-2.8 3-4.3 3-4 2-1.7"/>
<path d="M34 100.6l3-1.7 3-3.2 3-.4 3 1.7 3-.6 3-2.3 3 0 3 2.3 3 1.5 3 1.2 3 1.7 3 .6 3-1.3 3-1.5 3 0 3 1.2 3 1.7 3 1.9 3 1.9 3 .6 3-1.3 3-.7 3 2.3 3 3.9 3 2.7 3 0 3-2.4 3-2.7 3-1.4 3-1.7 3-2.8 3-1.6 3 1.5 3 3.9 3 3.4 3-.3 3-2.3 3 .4 3 2.9 3 1.1 2-.7 1-.5 1-.6 2-1.5 2 2.6 1 8.9 1 13.5 2 25.2 2 8.2 1 .4 1 0 2 0 2 .1 1-.3 1-.7 2-2.9 2-4 1-1.9 1-1.3 2-1 3 2.1 3 2 3-1.4 3-3.8 3-3.5 3-3.1 3-3 3-1.3 3 1.8 3 1.7 3-1.4 3-2.5 3-.9 3 1.3 3 2 3 .3 3-.3 3 .5 3-1.2 3-2.7 3-2.3 3-1.5 3 .1 3 .8 3 .3 3-.9 3-3.2 3-3.1 3 1.8 3 5.2 3 2.4 3-3.2 3-4.3 3-2.6 3-2.9 3-2.9 3-.6 3 1.1 3 2.4 3 2.1 3-.8 3-3.9 3-3.2 3-.1 3 2.3 3 2.4 3 .9 3-.2 3-.7 3-1.6 3-2.8 3-2.7 3-2 3-.9 3 .1 3 .3 3-1.4 3-3.8 3-3.6 3-.4 3 1.7 3 2.5 3 2.8 3 2.2 3 .5 3-1.3 3-2.4 3-4.3 3-4.3 3 .3 3 3.2 3 2.1 3 1 3 1.1 3 1 3 1 3 .8 3-.7 3-2.1 3-1.4 3 .3 3 1.4 3 .2 3-1.8 3-.7 3 2.3 3 2.7 3 1.1 3-1.3 3-3.3 3-1.2 3 1.8 3 .8 3-1.6 3-.9 3-.3 3-1 3 .1 3 1.7 3 2.6 3 3 3 1.9 3-1.1 3-4.2 3-5 2-2.7"/>
<path d="M34 101.8l3 .1 3 .2 3 .2 3-.2 3-.1 3 .2 3-.4 3-.8 3-1.1 3-2.1 3-1.8 3-.4 3-.2 3-.2 3 .5 3 2.2 3 3.3 3 2.3 3-.4 3-2.5 3-1.8 3 .6 3 .2 3-1.4 3-2.2 3-1.9 3-.8 3-.9 3-2.2 3-2.1 3 1.2 3 5.6 3 5.8 3 .6 3-2 3 1 3 3.2 3 1.1 3-.9 3-.7 2 .2 1 .3 1 .6 2 2 2 7 1 9 1 12.4 2 26.6 2 14.9 1 2 1-.1 2-2.7 2-3.7 1-2.1 1-2.2 2-4.4 2-3.5 1-1.2 1-1.1 2-1.7 3-1.6 3 .2 3-.3 3-4 3-4.8 3-3.3 3-3.9 3-3.2 3 .4 3 3.2 3 1.9 3-3.3 3-7.8 3-6.6 3-1.8 3 1.7 3 2.6 3 .9 3-1.6 3-2 3-1 3-.2 3 1 3 1.2 3 0 3 .2 3 1.1 3-.3 3-1.4 3-.5 3 0 3-1 3-1.2 3-1.1 3-1.6 3-2.4 3-1.9 3 0 3 1.8 3 1.8 3 1.4 3 2 3 1.6 3-.4 3-1.7 3-.5 3 .6 3-1 3-2.4 3-1.6 3-.1 3-.6 3-1.6 3-.8 3 .4 3-.4 3-1.8 3-.3 3 1.8 3 2.1 3 2.1 3 2.2 3 .5 3-1.5 3-.4 3 2.3 3 1.2 3-2.5 3-3.2 3-1.4 3 .5 3 .4 3-1.6 3-3 3-2.2 3-.9 3-.9 3-.8 3 1.1 3 2.1 3 .3 3-1.9 3-.8 3 2.1 3 1.9 3-.4 3 .7 3 3.1 3 2.6 3-.8 3-3.2 3-2.6 3 .5 3 2.5 3 1.5 3 .1 3-.4 3-1.8 3-2 3-.8 3-1.8 3-2.3 3-.5 3 .2 3 .3 2 .7"/>
<path d="M34 95.8l3-2.3 3-.3 3 2.5 3 3 3 .9 3-.7 3-.3 3-.2 3-1.1 3-1.6 3-.5 3 1.1 3 2.7 3 3.4 3 1.3 3-2.4 3-2.4 3 .8 3 1.1 3-.4 3 1.1 3 2.4 3-.9 3-4.6 3-4.1 3-2 3-1.5 3 0 3 2.5 3 1.8 3 .2 3 1.8 3 4.9 3 4.4 3 1 3-1.3 3-1.2 3-.3 3 .4 3 1.3 2 .7 1-.1 1 .2 2 12.6 2 26.1 1 11.3 1 5.8 1 1.9 1-.2 2-2.2 1-.8 1-.8 2-1 2-.9 1-.5 1-.7 2-1.7 2-1.9 1-.9 1-.7 2-1.3 3-3.9 3-5.7 3-3.1 3 .3 3 1.8 3 1.5 3-1.3 3-4 3-2.8 3 0 3-1.3 3-3.7 3-1.2 3 2.7 3 4.1 3 3.6 3 1.8 3-.9 3-3.1 3-4.2 3-4.3 3-3.3 3-.7 3 2.6 3 2.8 3 .6 3 .4 3 .6 3-2.7 3-5.9 3-5.1 3-1.6 3-1 3-2.1 3 .1 3 4.7 3 5.2 3 .8 3-2.2 3-2 3-2.1 3-2.7 3-2 3-.2 3 1 3 1.8 3 .2 3-1.9 3-1.2 3-.4 3 0 3 2 3 1.6 3-1.4 3-2.9 3-2.2 3-1.9 3-2.2 3-.7 3 2.4 3 4.4 3 4.8 3 3.3 3 .2 3-1.5 3-1.3 3-2 3-3.1 3-1.9 3 .5 3 .5 3-1.1 3-.8 3 .8 3-.1 3-4.3 3-6.7 3-3.9 3 2.2 3 4.9 3 2.6 3 .7 3 2.6 3 5 3 3.9 3 0 3-2.2 3-1 3-.7 3-1.8 3-2.2 3-2.5 3-1.7 3-1 3-.7 3-.2 3-.3 3-.4 3 .6 3 2 3 2 3 .7 3-.5 3-1 3-1.2 2-1"/>
<path d="M34 114.7l3-3.4 3-4.4 3-3.3 3-2.1 3 0 3 1.3 3-.8 3-2.8 3-3.1 3-1.6 3 2.9 3 6.4 3 4 3 1.3 3 .1 3-1.7 3-1.2 3-.7 3-3.1 3-3.2 3-1.4 3-.8 3 0 3 .2 3-1.1 3-1.3 3 .8 3 2.9 3 3.8 3 2.6 3-.7 3-2.9 3-1.7 3 .2 3 2 3 3.5 3 3.3 3 .4 3-2.5 3-2.5 2-.4 1 .3 1 .7 2 11.5 2 26.1 1 13.8 1 11.2 2 8.6 1 .3 1-.9 1-1.2 1-1.5 2-3.3 2-3.9 1-2.1 1-2 2-3 2-.6 1 .6 1 .9 2 1.6 3-.9 3-3.6 3-3.2 3-3.1 3-3.2 3-1.2 3 .3 3-1.6 3-3.7 3-3.6 3-.7 3 3 3 3.2 3-.5 3-4.4 3-4.7 3-2.5 3-2.2 3-1.9 3-.1 3 1.7 3 3.5 3 3 3 .4 3-2 3-2.3 3-1.5 3-2.7 3-4.2 3-2.9 3 1 3 4.4 3 2.4 3-1.9 3-3.3 3-2 3 1.5 3 4.3 3 .5 3-5.4 3-4.9 3 1.1 3 3.4 3-1 3-2.6 3 2.3 3 4.6 3-.9 3-6.6 3-4.2 3 1.6 3 3.1 3 4.6 3 6 3 1.6 3-4.1 3-4.3 3-2.1 3-.3 3-.2 3-2.5 3-3 3 .3 3 2.1 3 .5 3-.9 3-.9 3-.5 3 1.1 3 3.3 3 4.2 3 3.3 3 1.2 3-2.1 3-3.2 3-1 3 .8 3 .7 3-1 3-3.7 3-4.4 3-1.4 3 2.4 3 3.1 3-.3 3-2.8 3-1.3 3 1.8 3 1.4 3-1.8 3-2.8 3 .4 3 3.7 3 2.1 3-1.3 3-2.7 3-3.1 3-1.4 3 2.3 3 3.5 3 2.7 3 1.1 3-2.3 3-3.1 3-.3 2 .1"/>
<path d="M34 98.5l3 2.6 3 5.1 3 3.9 3 1.4 3-.1 3-1 3-2 3-3.5 3-3.8 3-.9 3 2.1 3 1.7 3 .9 3-.6 3-3.4 3-3.7 3-1.4 3 .8 3 2.3 3 1.9 3-.3 3-.6 3-1.6 3-3.2 3-.5 3 3.5 3 3.2 3 1 3 .5 3 1.5 3 2.2 3 2 3 1.2 3-.2 3-1.7 3-3.2 3-5 3-4.7 3-2.2 3 .6 2 1.7 1 1.3 1 1.6 2 5.6 2 16.8 1 12.9 1 14.3 2 25.6 2 12 1 1.2 1-.6 2-3.4 2-4 1-2 1-2 2-4 2-4.1 1-2 1-2 2-3.8 3-3.9 3-.5 3 1.2 3 .5 3-.5 3-2.1 3-3.1 3-2.3 3-.8 3 .7 3 1 3-1.3 3-3.4 3-2.1 3 0 3-.2 3-2 3-2.6 3-1.7 3-.1 3 .6 3-.2 3-.8 3-.9 3-.9 3-.6 3-1.1 3-1.5 3-2.4 3-3.9 3-3.3 3 .6 3 3.3 3 2.2 3 .4 3 1.2 3 1.6 3 .2 3-.9 3-1.2 3-2.2 3-1.8 3 .4 3 .3 3-1.6 3-1.9 3-1.1 3-1.6 3-1.3 3 1.3 3 2.4 3 .2 3-.7 3 .2 3-1.3 3-3.3 3-2 3 .8 3 1.5 3 1.2 3 1.6 3 .9 3-2.1 3-4 3-2.5 3-1.7 3-.6 3 3.7 3 5.3 3 1.5 3-1 3-1.2 3-2.9 3-4.7 3-3 3 .7 3 2.3 3 1.7 3 1.9 3 3.4 3 3.9 3 .7 3-2.6 3-2.3 3-.3 3 2.1 3 2.8 3 .9 3-.2 3 0 3-.4 3 .4 3 1 3-.5 3-.9 3 .3 3-.9 3-3.4 3-3.8 3-2.7 3-.7 3 1 3 2.1 3 3.5 3 3.4 2 1.1"/>
<path d="M34 99.6l3 3.4 3 2.3 3 .4 3-.1 3-1 3-2 3-1.8 3-.4 3 1.7 3 3.2 3 2.2 3 0 3-1.2 3-1.8 3-2.1 3-1.9 3 0 3 2.8 3 3.3 3 1 3-.2 3 .9 3 2.7 3 2.9 3 1.5 3-1.8 3-4.3 3-3.4 3-2.4 3-2.1 3-.6 3-.9 3-1.8 3 .5 3 3.5 3 4.1 3 2.2 3-1.4 3-4.3 3-3.8 2-.7 1 .3 1 .7 2 1.8 2 3.1 1 4.6 1 7.5 2 22 2 23 1 8.6 1 5 2 4.5 2 1.8 1 .7 1 .7 1 .2 1-.2 2-2.3 1-1.9 1-2.2 2-4 3-3.3 3-1.2 3-1.2 3-2.6 3-4.7 3-5.6 3-5.1 3-3 3 .2 3 .8 3-1.6 3-2.8 3-1.7 3 .5 3 2.7 3 2 3-.3 3 .4 3 1.7 3-.3 3-2.4 3-1.7 3-.4 3-1.8 3-3.4 3-2.1 3 .6 3 1.1 3-1.4 3-2.6 3-.8 3 1.6 3 2.6 3 2 3-.1 3-1.4 3-3 3-4.8 3-3.9 3-1.7 3-1.4 3-1.8 3-2.3 3-1.9 3 0 3 1.5 3 1.6 3 1.6 3 1.8 3 .7 3-1.3 3-1.6 3-.4 3 .8 3 1 3 0 3-1.5 3-3.9 3-5.4 3-2.2 3 2.8 3 3.8 3 .5 3-1.8 3-1.5 3 1.3 3 4.1 3 5.1 3 4.7 3 2 3-2 3-4.4 3-4.1 3-1.8 3-.5 3-1.6 3-2.1 3 .6 3 3 3 1.3 3-1 3-.8 3-.8 3-1.1 3-.8 3-1.4 3-4.3 3-4.6 3-.3 3 3 3 1.6 3-.2 3 .4 3 1.8 3 1.2 3-1.1 3-2.3 3-1.8 3-.2 3 .2 3 .3 3 1 3 1.7 3 1.4 3 .3 2-.1"/>
<path d="M34 109.6l3-1.9 3-2.5 3-2.3 3 1 3 2.4 3-.8 3-3.3 3-2.4 3-.6 3 1 3 .6 3 .4 3 .6 3-.7 3-1.9 3-1.9 3-.2 3 1.2 3 1.4 3 1.9 3 3.1 3 1.8 3-2.6 3-5.4 3-4.7 3-1.5 3 1.2 3 2.1 3 2.7 3 2.7 3-.8 3-4.9 3-3.6 3 .9 3 4.5 3 5.5 3 2.8 3-1.9 3-3.4 3 .5 2 2.6 1 1.4 1 1.3 2 1.7 2 13.1 1 15.8 1 18.2 2 25.2 2 3.7 1-1.4 1-1.7 2-3 2-2 1-.6 1-.3 2 .5 2 1.7 1 .9 1 .8 2-.1 3-5.2 3-7.8 3-5.7 3-3.8 3-3.2 3-1.8 3 .2 3 .6 3-1.4 3-3 3-3 3 .1 3 3.3 3 1.5 3-3.3 3-3.1 3-.1 3-.7 3-1.9 3-1.4 3-1.9 3-1 3 2.2 3 2.4 3 0 3-.6 3 .8 3-.1 3-3 3-3.5 3-1.4 3-.6 3-1.4 3-1.5 3-2 3-1.4 3 1.2 3 1.5 3-.4 3-2.4 3-3.4 3-1.7 3 .4 3 .7 3 .8 3 .4 3-.5 3-.6 3 .3 3-.2 3-2.2 3-3.7 3-3.1 3-1.9 3 0 3 3 3 4.3 3 3.3 3 2 3 .4 3-.5 3-.4 3-.7 3-1.6 3-.8 3 .2 3-1.6 3-3.9 3-3 3 .8 3 4.2 3 2.9 3-1.5 3-3.3 3-.5 3 2.4 3 1.2 3-1.7 3-2.1 3-2 3-2.3 3-.2 3 2.6 3 2.9 3 1.8 3 .9 3 1.2 3 2.5 3 2 3-1.1 3-3.1 3-3.1 3-2.5 3-1.9 3-.6 3 1.7 3 3.5 3 .7 3-1.9 3-.1 3 .9 3-1.5 3-2.2 3-.9 3-.8 2-.8"/>
<path d="M34 92.7l3 1.3 3 1.2 3 1.6 3 3 3 4 3 2.1 3-1.3 3-1.6 3 2.1 3 5 3 3.8 3 .1 3-2.9 3-2.9 3-1.8 3-.8 3 .7 3 .7 3-.5 3-1.9 3-3.1 3-3.6 3-4 3-2.6 3 2.9 3 7.7 3 5.1 3-.9 3-2.6 3-2.2 3-1.8 3 .4 3 2.9 3 2.9 3 2.1 3 1.1 3-.8 3-2.4 3-2.3 3-1.2 2 .1 1 .2 1 .1 2-.2 2-.9 1-.7 1-.3 2 5.3 2 15.4 1 11 1 12 2 22.9 2 14.2 1 3.5 1 1.7 1 .3 1-.6 2-2.6 1-1.3 1-1.3 2-1.6 3-.6 3-.7 3-3.7 3-6.2 3-5.8 3-4 3-3.4 3-3 3-1.9 3-1.9 3-.7 3 2.1 3 3.4 3 2.2 3-1.4 3-4.8 3-5.8 3-4.7 3-3.3 3-3.2 3-2.5 3 .7 3 4.3 3 4 3-.2 3-1.4 3-.2 3-.4 3-.7 3-1.2 3-2 3-4.8 3-6.9 3-3.3 3 .8 3 .2 3-.2 3 .7 3-.3 3-1.4 3 1.7 3 5.4 3 4 3-1.1 3-2.9 3-.2 3 2 3 .2 3-2 3-2.2 3-2.5 3-2.2 3-1.4 3-2.7 3-4.5 3-3 3 1.2 3 2.6 3 .4 3-.7 3 .1 3 .5 3 .9 3-.1 3-.7 3 1.6 3 3 3 1.7 3 1.5 3 1 3-.6 3 .9 3 4 3 3.4 3-.5 3-4.8 3-6 3-3 3 .5 3 1.7 3 .9 3 1.1 3 2.1 3-.2 3-2.5 3 .5 3 3.6 3 .9 3-3.6 3-2.9 3 .4 3 .3 3-2 3-2.4 3-.7 3 .6 3 1.5 3 1.3 3-.4 3-2.3 3-2.4 3 .2 3 2.7 3 2.6 3 1.2 2 .5"/>
<path d="M34 109.8l3-2.5 3-1.8 3 .6 3 .8 3-.6 3-.6 3 .4 3 0 3-1.1 3-1.2 3-1.1 3-.5 3 .7 3 .9 3 .6 3 .4 3-1.4 3-3.7 3-4.4 3-1.2 3 2.8 3 2.8 3 1.2 3 2.5 3 4.3 3 2.6 3-2.1 3-4.7 3-1.4 3 3.1 3 2.5 3-1 3-3.7 3-3.3 3 .9 3 3.2 3 1.3 3-1.1 3-1.1 3 .7 2 .9 1 .5 1 .4 2 .8 2 .7 1 .7 1 3.1 2 17.6 2 28.7 1 14 1 11.4 2 8 2-2.8 1-2.7 1-2.7 2-4.3 2-3 1-1.2 1-1.1 2-2.1 3-2.2 3-1.3 3-1.6 3-4.1 3-6.2 3-4.7 3-.9 3 .6 3-.4 3-1.7 3-.5 3 1.4 3 .5 3-2.9 3-4.9 3-5.5 3-5.1 3-3.2 3-.8 3 .1 3-.5 3-1.3 3-.5 3 .5 3-2 3-4.9 3-2.8 3 1 3 1.8 3 1.1 3 1.1 3 .6 3 .5 3-.2 3-1.6 3-.6 3 1.3 3 .3 3-3.1 3-4.3 3-2.5 3-.4 3 0 3 .8 3 2.2 3 2.4 3 .6 3-.9 3-1 3-1.3 3-2.2 3-.5 3 2.6 3 3.3 3 1.6 3 .9 3 2.3 3 2.2 3-1 3-4.3 3-4.4 3-3 3-2 3-1.8 3-1.4 3-.1 3 .4 3-.7 3-1.9 3-1.6 3 .4 3 2.5 3 2.5 3 1 3 1.6 3 2.2 3-.3 3-3.2 3-2.2 3 0 3-.3 3-1.2 3 .6 3 2.4 3 2.1 3 .1 3-1.8 3-1.3 3 1 3 2.1 3 .6 3-2.4 3-3.1 3-1.4 3 0 3 .7 3-.1 3-1.7 3-2.8 3-2.6 3-1.1 3 1.8 3 4.2 3 3.4 3 .2 2-.8"/>
<path d="M34 104l3 1.6 3 3.1 3 3.3 3 1.3 3-1 3-3.4 3-3.4 3-1.8 3-1.2 3-.1 3 .5 3-1 3-1.5 3 .9 3 3.1 3 2 3 .6 3 1.6 3 2.6 3 1.5 3-.3 3-1.2 3-1.7 3-2 3-2 3-2.2 3-2.4 3-1.7 3 .8 3 1.1 3-1.6 3-1.4 3 2.1 3 1.7 3-1.8 3-2.5 3 0 3 2.8 3 4.4 3 3.6 2 .5 1-.2 1-.3 2 5 2 16.9 1 12 1 12.8 2 23.1 2 12.6 1 2.6 1 .9 2-.7 2-1.9 1-.9 1-.9 2-1.4 2-1.3 1-.8 1-.9 2-2.3 3-3.7 3-1.8 3-1.3 3-3.4 3-4.1 3-1.7 3-2 3-4.8 3-5.4 3-4.3 3-4.4 3-3.9 3-1.8 3 .7 3 1.3 3 .2 3-1.1 3-2.3 3-2.7 3-.6 3 1.5 3 .3 3-2.4 3-3.3 3-2.3 3-.7 3 .7 3 1.4 3 .9 3-.4 3-.7 3 .5 3 2.4 3 2.6 3 .7 3-.4 3-.5 3-2 3-3.4 3-3.7 3-3.3 3-2 3 .1 3 1.8 3 3.4 3 2.7 3-.2 3-1.9 3-2.5 3-2.8 3-2.1 3-.2 3 .3 3-.3 3-.6 3-.5 3-1.3 3-3.1 3-3.7 3-2.9 3-.5 3 2.3 3 2.7 3 1 3-.5 3-.3 3 1.1 3 .7 3-.8 3-2 3-3.9 3-3.6 3 .1 3 2.3 3 3.3 3 4.1 3 1.9 3-1.1 3-2 3-2.2 3-1.3 3 .8 3 1.3 3 .2 3-.3 3 .2 3 .6 3-.7 3-1.8 3-.3 3 0 3-1.4 3-.8 3 .9 3 1.5 3-.4 3-2.9 3-3.2 3-.1 3 2.7 3 1.7 3-.4 3-.9 3 .5 3 1.9 2 1.8"/>
<path d="M34 103l3-.5 3 .9 3 1 3 .5 3-.6 3-1.8 3-2.6 3-1.2 3 2 3 3.5 3 1.6 3-.9 3-1.3 3-.8 3-1.7 3-3.3 3-.9 3 2.6 3 1.9 3 .3 3 1.6 3 3.3 3 2.2 3-.4 3-1.7 3-1.2 3-1.5 3-1.5 3 .9 3 2.8 3 1 3-1.8 3-1.1 3-.3 3-1.3 3-.4 3 3 3 3.6 3 0 3-2.6 2-1.5 1-.5 1-.3 2 3.4 2 14.3 1 11.2 1 12.9 2 26 2 18.1 1 4.1 1 1.9 1 .1 1-1.1 2-3.9 1-2.2 1-2 2-2.8 2-1.4 1-.4 1-.5 2-1.5 3-3 3-3 3-4.1 3-5.1 3-3.3 3-.9 3-1.5 3-2.9 3-1.7 3-.8 3-2.7 3-4.3 3-4.1 3-3.1 3-1.4 3-.3 3-.4 3-.6 3-1.1 3-1.5 3-1.2 3-1.2 3-.6 3 .2 3-.7 3-2.8 3-3.6 3-2.1 3-1.2 3-3.1 3-4.1 3-1.3 3 3.4 3 4.1 3-.1 3-2.2 3-.8 3-.4 3 0 3 1.7 3 2.3 3 .4 3-2.6 3-3.6 3-1.1 3 1.9 3 1.3 3-1.2 3-1.9 3-1.3 3-.5 3 1.3 3 3.3 3 3.2 3 .6 3-1.9 3-3.8 3-5.6 3-5.6 3-3.7 3-1.2 3 1.7 3 3.8 3 3.3 3 .4 3-2.1 3-2.3 3-1.4 3-.7 3 .3 3 1.3 3 .8 3 2 3 4.5 3 4.3 3 3.5 3 1.7 3-2.7 3-4.7 3-3.9 3-2.4 3 1.1 3 4.2 3 3.3 3-.7 3-2.6 3-.3 3 .8 3-1.2 3-2.5 3-1.9 3-.6 3 1.2 3 3.4 3 4 3 1.5 3-.9 3-.8 3-.7 3-2.4 3-4.5 3-4.5 3-1.6 3 .8 3 .6 2 .8"/>
<path d="M34 107.5l3-4 3-3.6 3 .3 3 2.2 3-.9 3-3.6 3-1.5 3 .7 3 .5 3-.9 3-.7 3 2.2 3 4.2 3 2.6 3 .1 3-.7 3-.5 3-.9 3-1.6 3-1.3 3 .8 3 2.9 3 2.3 3-.3 3-.4 3 1 3 .2 3-2.2 3-2.5 3-1.1 3-.1 3 0 3 1 3 1.2 3-1.3 3-4.8 3-4.5 3-.7 3 2 3 2.5 2 1.6 1 .7 1 .9 2 13.5 2 32.6 1 17.9 1 15 2 14.3 2 2.6 1-.4 1-.9 2-2.8 2-2.9 1-1.1 1-.7 2-.3 2 .3 1-.1 1-.2 2-.9 3-1.7 3-1.3 3-2.3 3-3.8 3-3.2 3-2.1 3-3.5 3-5.3 3-3.7 3 .2 3 3.3 3 2.2 3-1.1 3-2.3 3-3.5 3-4.6 3-3.7 3-2.5 3-2.1 3-2.4 3-2.1 3 .3 3 2.6 3 1.9 3 .4 3-.3 3-1.3 3-2.4 3-1.1 3 .9 3 .4 3-.6 3-.2 3 .9 3 1.9 3 2.5 3 2.8 3 1.2 3-2.1 3-5.4 3-7 3-4.7 3 .6 3 3.9 3 2.3 3-.9 3-.7 3 .4 3-.5 3-1.1 3-1.8 3-4.3 3-5.3 3-2.9 3 1 3 4 3 4.1 3 .6 3-2.4 3-.4 3 3 3 2 3-1.6 3-3.3 3-3.7 3-2.7 3-.5 3 1.4 3 1.7 3 .7 3 .8 3 2 3 .4 3-3.2 3-4.4 3-1.7 3 1.2 3 2.1 3 2.2 3 1.7 3 .4 3-1.7 3-3.1 3-2.1 3 0 3 .2 3-.2 3-.6 3-1.3 3-1.2 3 .2 3 2.2 3 2.5 3 .3 3-1.8 3-1.9 3-1 3-2 3-3.5 3-2.4 3-.1 3 1.1 3 2.4 3 2.1 3 1.4 2 .8"/>
<path d="M34 102.2l3 1.1 3-.1 3-.3 3 1 3 1.4 3-1.1 3-3.6 3-1.7 3 1.1 3 .9 3 .3 3 1.2 3 1.7 3 1.6 3 1.3 3-.1 3-1.7 3-1 3 1 3 2 3-.1 3-2.9 3-3.1 3-1.4 3 1 3 2.6 3 2.8 3 1.4 3 0 3-.5 3-.9 3-.3 3 .9 3 .3 3-1.5 3-1.8 3-.9 3 .9 3 1.7 3-.3 2-1.3 1-.7 1-.7 2-.8 2-.1 1 4.8 1 13.1 2 43 2 30.5 1 3.8 1-.1 2-4.2 2-5 1-2.5 1-2.3 2-3.9 2-2.5 1-.8 1-.8 2-1.5 3-3.7 3-6 3-6.6 3-4.7 3-1.5 3 0 3-1.3 3-2.9 3-4.1 3-4.6 3-3.3 3-1.5 3-1.9 3-3.4 3-2.7 3-.9 3-.8 3-.5 3 1.4 3 2.5 3 2.9 3 2.3 3 .2 3-.9 3-.3 3-.4 3-2.2 3-2.9 3-2.9 3-3.3 3-2.4 3 0 3 2.4 3 3.6 3 2 3-2.6 3-7.2 3-7.9 3-4.1 3 .5 3 2.3 3 2 3 1.3 3-.4 3-2.1 3-2.1 3 .1 3 2.9 3 2.8 3 .4 3 0 3 1.5 3 1.8 3-.1 3-2.9 3-4.4 3-2.9 3 .8 3 3.3 3 3.1 3 .7 3-1.7 3-1.5 3 1 3 .7 3-3.7 3-5.6 3-.3 3 5.7 3 4.7 3 0 3-1.7 3-.6 3 .9 3 1.6 3 .5 3-2 3-3 3-.7 3 1.9 3 1.9 3 1.6 3 1.7 3-.4 3-1.7 3-.7 3-1 3-3.2 3-4.7 3-3.2 3 .1 3 2.1 3 1.3 3 0 3 .2 3 .4 3-.2 3-.7 3-1 3-.1 3 .7 3 .9 3 .5 3-2 3-2.9 2-.1"/>
<path d="M34 105.5l3 3.1 3 1.4 3-.4 3 1.3 3 3.5 3 1.3 3-3.4 3-5.2 3-3.3 3-.7 3 .2 3 .7 3 1.9 3 .5 3-3.3 3-4.5 3-2.9 3-1.2 3 2.3 3 5.6 3 4.5 3 1.2 3-.2 3-.4 3-1.5 3-2.8 3-2.7 3-1.7 3 .2 3 .9 3-.4 3-1.2 3-.9 3 0 3 1.1 3 1.4 3 1.8 3 1.3 3-.6 3-.2 2 1 1 .9 1 .9 2 8.2 2 31.3 1 21.1 1 19.3 2 18.6 2-3.3 1-4.1 1-4.2 2-6.9 2-4.8 1-1.7 1-1.6 2-2.3 2-1.6 1-.5 1-.6 2-1.4 3-3.5 3-3.4 3-1.5 3-.6 3-1 3-2.1 3-4.5 3-5.3 3-1.7 3 .5 3-2.3 3-4.4 3-1.6 3 1 3-.6 3-1.3 3 0 3-.4 3-1.6 3-1.8 3-.8 3 2.1 3 4.5 3 2.2 3-3.2 3-6.3 3-5.1 3-2.9 3-2 3-.7 3-.3 3-2.5 3-1.8 3 1.7 3 1.9 3-.2 3-.1 3 .7 3 .2 3-1.6 3-1.4 3 .7 3-.1 3-3.8 3-4.8 3-1 3 3.2 3 4 3 2.7 3 .3 3-1.6 3-3.4 3-3 3-.5 3 .4 3-.1 3 .9 3 1.7 3-.1 3-.5 3 1.4 3 1.8 3-.8 3-2.8 3-1.9 3-.8 3-.1 3 .7 3 1.2 3 .1 3-1.5 3-1 3 1.8 3 3.6 3 3.1 3 .6 3-3.2 3-5 3-3 3 0 3 .9 3-.2 3-1.2 3-.5 3 .8 3 1.5 3 2 3 1.1 3-1 3-1.8 3-2.3 3-2.9 3-1.7 3-.1 3-.3 3-1.3 3-.6 3 .1 3-.5 3-1.3 3-.3 3 2.9 3 4.6 3 2.5 3 .8 2 0"/>
<path d="M34 98.3l3 1.2 3 2.1 3 2.3 3 .8 3-1.9 3-2.8 3-.3 3 3.3 3 3.7 3-1.9 3-6.6 3-3.6 3 2.6 3 3.8 3 1.4 3 .1 3 0 3-.4 3-1.3 3-2.1 3-1.2 3 1.4 3 2.2 3 1.2 3 1.8 3 1.9 3-.5 3-2.2 3-2 3-.9 3 .5 3-.2 3-.8 3 0 3 0 3-1.6 3-2 3-1.7 3-.8 3 1.7 2 2.2 1 1 1 .7 2 5 2 18.3 1 14.1 1 15.6 2 29.2 2 16.3 1 3.6 1 1.7 1 .6 1-.1 2-.6 1-.3 1-.1 2 0 2-.1 1-.5 1-.9 2-2.9 3-6.1 3-6.5 3-5.5 3-3.7 3-3.1 3-2.2 3-.6 3-2.7 3-5.4 3-2.2 3 2 3 2.1 3 .3 3-.8 3-1.7 3-3 3-3.9 3-1.4 3 2.1 3 2 3 0 3-1 3-2.1 3-3.7 3-3.9 3-2.3 3-.8 3-1.2 3-2.7 3-2.5 3 .9 3 3.1 3 .7 3-2.5 3-.6 3 3.3 3 1.6 3-4.8 3-7.4 3-3.8 3 .6 3 3.2 3 3.4 3 1 3-1.5 3-1.8 3-2 3-1.6 3 1.5 3 3.9 3 2.2 3 .2 3 .8 3 1.5 3-1.1 3-5.2 3-5.5 3-2.1 3-1.5 3-3.2 3-3.4 3-3.2 3-3.6 3-1.5 3 2.9 3 5.7 3 3.4 3-1.2 3-2 3 1.1 3 3.5 3 2.6 3-.9 3-2.5 3 .1 3 3 3 2.3 3-.2 3-1.7 3-2 3-1.4 3-.9 3-1.5 3-1.8 3-.7 3 1.1 3 3.1 3 2.3 3-2.2 3-6 3-7 3-4.9 3-.9 3 2.1 3 3.4 3 3 3 2.3 3 1.7 3-.3 3-2.3 3-1.9 3 0 3 .1 3-.6 3-.1 2 .4"/>
<path d="M34 105.2l3 4 3-.1 3-1 3 .1 3-1 3-2.4 3-1.8 3-1.1 3-1.9 3-2.2 3 0 3 4.7 3 6.7 3 2.5 3-4.8 3-6.8 3-2.4 3 .7 3-1.7 3-3.2 3 2 3 6.9 3 4.8 3 .4 3-1.2 3 .2 3 2.3 3 0 3-2.6 3-1.3 3-.1 3-1.1 3-1.2 3-.7 3-.3 3 .6 3 .1 3-2.1 3-2.4 3-.2 2 .9 1 .7 1 .6 2 1.3 2 .9 1 3.3 1 8.3 2 31.3 2 36.8 1 13.6 1 8.1 2 5.1 2-1.2 1-1.3 1-1.3 2-3 2-3.4 1-1.6 1-1.4 2-1.8 3-.7 3-2.2 3-6 3-6.4 3-3.8 3-2 3-3 3-4.8 3-2.7 3 1 3 .3 3-3.3 3-3.2 3 .6 3 2.7 3 .8 3-2 3-3.5 3-2.9 3-1.9 3-.9 3-.1 3-.7 3-1.3 3-2.3 3-4.6 3-4.8 3-2.5 3-.4 3 .6 3 1.5 3 1.4 3-.2 3-1.7 3-1.9 3-1.4 3-1 3 .2 3 2 3 1 3-2.9 3-4.6 3-2.4 3-.2 3 .5 3 .1 3-.7 3-1 3 .2 3 1.5 3 .4 3-1.7 3-2.3 3-1.2 3-.4 3 .7 3 2.3 3 1.9 3-.3 3-.5 3 1.6 3 0 3-4.2 3-3.9 3-.7 3-1.2 3-3.4 3-1.9 3 2.2 3 4 3 2 3-.9 3-2.6 3-3.1 3-2.8 3-1.7 3-2 3-1.8 3 1.1 3 3.5 3 3.2 3 3 3 .8 3-3.2 3-4.6 3-2.4 3-.7 3-.4 3 .7 3 1.6 3 .2 3-.7 3 1.6 3 4.5 3 4.1 3 .5 3-2.9 3-3.3 3-1.7 3 .8 3 1.7 3-.2 3-1.3 3 .6 3 3.4 2 2.1"/>
<path d="M34 102.1l3 6.1 3 .8 3-3.5 3-3.7 3-1.4 3 .3 3 .4 3-.5 3-1.8 3-2.1 3-.8 3 1.4 3 1.8 3 .6 3-.1 3-2.4 3-5.5 3-5.4 3-1.5 3 3 3 6 3 5 3 2.3 3 1 3 .6 3-.2 3-.9 3-2.1 3-4.2 3-3.2 3 1.3 3 4 3 2.4 3 1.7 3 3.5 3 2 3-2.3 3-2.3 3 2.2 3 5.3 2 2.6 1 .4 1-.2 2-2.1 2-3 1-.2 1 5 2 30.4 2 42.1 1 16.2 1 8.4 2 3.8 2-2.9 1-1.9 1-1.8 2-3.5 2-2.7 1-.9 1-.6 2-.7 3-.9 3-2.6 3-5.6 3-6.6 3-4.6 3-2.1 3-1.5 3-3.6 3-4.4 3-2.3 3-1.6 3-3 3-3 3-2 3-1.8 3-1.3 3-1.1 3-1.7 3 .1 3 3.3 3 1.7 3-2.8 3-3.9 3-3.1 3-3.5 3-4.1 3-2.8 3 .6 3 2.8 3 1.4 3-1.7 3-4.2 3-4.7 3-2.2 3 1 3 2.5 3 2.9 3 2.7 3 .8 3-.8 3-.7 3-1.2 3-1.9 3-1.5 3-.3 3 .5 3-.1 3-1.3 3-1.5 3-1.4 3-.6 3 1.7 3 1.7 3-1.5 3-2.9 3-2.5 3-1.4 3 .9 3 1.1 3-1.8 3-3.8 3-1.9 3 1.4 3 2.5 3 .1 3-3.6 3-3.3 3 1.8 3 3.4 3 .9 3-.5 3-.1 3 .4 3 .3 3-1 3-1.6 3-1.4 3-2.1 3-3.1 3-1.7 3 1 3 2.6 3 2 3 .1 3-.6 3 .7 3 2 3 .8 3-1.9 3-1 3 3.2 3 4.8 3 1.5 3-3 3-4.4 3-4.1 3-3.6 3-2.6 3-2.7 3-3 3-.2 3 4.9 3 6.8 3 3.1 3-1.5 2-1.4"/>
<path d="M34 103.4l3-3.5 3-4.1 3-1.1 3 2 3 2.4 3 .8 3-.7 3-.3 3 1.8 3 3.6 3 3.5 3 1.2 3-.1 3 .5 3 .4 3-.2 3-.2 3 .5 3 .7 3-.6 3-2 3-1.6 3-1.4 3-2.3 3-2.3 3-.3 3 2 3 2.1 3 1.6 3 1.7 3 .6 3-1.2 3-1 3 .7 3 2.1 3 1.5 3-.3 3-1.7 3-2.4 3-2.6 2-1.6 1-.7 1-.5 2-.3 2 8.2 1 11.7 1 16.5 2 40 2 32.6 1 7.1 1 3 1 .1 1-1.6 2-4.9 1-2.5 1-2.1 2-3.5 2-2.7 1-1.3 1-1.4 2-3.1 3-5.5 3-5.8 3-5.5 3-4.7 3-3.1 3-2.4 3-3.4 3-1.9 3 2.8 3 4.2 3 .7 3-1.6 3-.2 3 1.3 3 .1 3-2.1 3-4.5 3-5.4 3-2.4 3 1.8 3 2.5 3-.8 3-4 3-4.2 3-2.9 3-1.9 3-3.2 3-4.5 3-3.1 3-1.1 3-.3 3-.4 3-1 3-.2 3 .6 3-1 3-1.6 3-.2 3-.3 3-2.8 3-3.5 3-.8 3 .7 3 0 3 .7 3 3.2 3 3.8 3 2 3-.4 3-.4 3-.2 3-2.4 3-3.9 3-1.2 3 3 3 4 3 1.8 3-1.3 3-4 3-3.9 3-1.7 3-.8 3-.1 3 1.6 3 .8 3-1.9 3-2 3 0 3 1.6 3 1.9 3-.3 3-2.5 3-.5 3 .5 3-1.5 3-2.2 3-.6 3 1.3 3 2.9 3 2.2 3-.7 3-2.8 3-2.8 3-1.6 3 0 3 1.1 3 .2 3-1.4 3-1.4 3-1.6 3-2.4 3-1.1 3 1.3 3 1.7 3-.2 3-1 3 .5 3 1.1 3-.2 3-1.9 3-2.6 3-3.3 3-4 3-1.6 3 2.7 2 2.7"/>
<path d="M34 101.6l3 .2 3 1.5 3 2.3 3 2 3 .1 3-2 3-2.8 3-3.8 3-3.9 3-2 3-.1 3 .3 3 2 3 2.7 3 1 3 .6 3 1.7 3-.4 3-3.6 3-3.5 3-1 3 1 3 1 3 .5 3 .2 3 .9 3 2.3 3 2.5 3 1.5 3 1 3 1.3 3 1 3 0 3 .3 3 2.6 3 3 3 .5 3-3.2 3-5.2 3-4.1 2-1.1 1-.3 1 .5 2 11.1 2 28.7 1 18.6 1 19 2 30.5 2 8.9 1 .2 1-1.3 2-5 2-5.7 1-2.5 1-2.2 2-2.5 2-.7 1 0 1-.1 2-.5 3-2.6 3-4.5 3-5.6 3-5.1 3-1.9 3 1 3 1.4 3 .8 3-.3 3-1.6 3-4 3-6.7 3-5.5 3-1.4 3 .6 3 .3 3-.4 3-1.9 3-3.3 3-3.6 3-2.7 3-.4 3 1.1 3 .9 3-.6 3-1.3 3-1.3 3-.4 3 .4 3-1.4 3-5.1 3-5.3 3-1.4 3 1.2 3-.2 3-2.2 3-1.9 3 .1 3 1.1 3 .1 3 0 3 1.4 3 .5 3-2.5 3-4 3-3.1 3-.7 3 2.9 3 5.6 3 2.8 3-1.4 3-2 3-.7 3 .6 3 2.1 3 2.1 3-1.6 3-4.8 3-3.8 3 .2 3 1.9 3-.4 3-3.1 3-4.1 3-3.5 3-2.5 3-2 3-.1 3 2.1 3 2.3 3 .9 3 .5 3 1.2 3-.1 3-3.3 3-4.2 3-1 3 2.2 3 2.3 3 .7 3-1.2 3-1.8 3-.6 3-.3 3-.8 3 0 3 1.7 3 1.9 3 .8 3 0 3 .2 3 1 3 2.1 3 1.6 3-.7 3-3.4 3-3.5 3-.6 3 1 3 .6 3 1.2 3 .8 3-.8 3-1.2 3-2.1 2-2.4"/>
<path d="M34 108.3l3-1 3-2.9 3-3.4 3-1.4 3-.8 3-.9 3 1.2 3 2.9 3-.2 3-3.9 3-3.2 3 .6 3 2.8 3 2.5 3 .2 3-1.1 3 .5 3 2 3 1.6 3-.3 3-2.3 3-2.7 3-1 3 1.2 3 2.1 3 1.4 3 .4 3-.2 3-1.6 3-1.5 3-.4 3 .3 3 .1 3-.3 3-.4 3 .1 3 .8 3 1 3 .1 3-1.7 2-1.8 1-.8 1-.8 2 .7 2 17.8 1 17.5 1 21.1 2 41.4 2 20.1 1 1.9 1-.8 2-5.2 2-5.6 1-2.5 1-2.3 2-4.3 2-3.9 1-1.8 1-1.8 2-3.3 3-3.8 3-2.3 3-2.4 3-3.2 3-3.2 3-3 3-3.2 3-3.5 3-3.4 3-2.4 3-1.1 3-.5 3-1 3-1.5 3-1 3 .4 3 .9 3-.4 3-1.5 3-3.2 3-6.4 3-6.3 3-1.8 3 2.1 3 2.9 3 1.7 3 .1 3-.9 3-2.2 3-3.3 3-2.1 3 0 3 .8 3-1 3-3.3 3-3.8 3-2.6 3-.7 3 1.4 3 1.4 3 1.4 3 2.7 3 3.4 3 2.5 3 1.6 3 1.6 3 .3 3-2.1 3-2.7 3-1.3 3-.5 3-1.2 3-1.7 3-2 3-.6 3 1.5 3 1.1 3-1.6 3-1.3 3 1.1 3 1.2 3-.1 3-.7 3-2.3 3-3.4 3-1.1 3 2.3 3 2.5 3 0 3-1.7 3-.2 3 1.8 3 .5 3-2.1 3-1.8 3 1.1 3 2.3 3 2.2 3 2.4 3 1 3-2.1 3-3.8 3-2.9 3-1.7 3-1.9 3-1.7 3 .6 3 3.1 3 2.9 3 .4 3-2.6 3-4.2 3-1.2 3 2.2 3 2.6 3 2.7 3 2.4 3 .6 3-1.2 3-.9 3 .1 3-1.2 3-2.1 3-.4 3 .8 2-.2"/>
<path d="M34 103.9l3 1.1 3-.8 3-1.2 3-.3 3-.9 3-2.8 3-1.8 3 .8 3 2 3 1.8 3 .7 3-1 3-1.2 3-.1 3 2 3 2.6 3-1.1 3-4.1 3-2.8 3 .5 3 2.1 3 2.4 3 1.4 3 .2 3-.9 3-2.9 3-4.2 3-2.9 3 .3 3 1.7 3 1.4 3 1.2 3 .8 3-.9 3-2.4 3-1.5 3 2.3 3 4.3 3 1.9 3 0 2 .8 1 .7 1 .8 2 6.2 2 22.9 1 17.6 1 19.8 2 37.1 2 19.3 1 3 1 .5 2-2.3 2-4 1-2.2 1-2.4 2-5.5 2-6.4 1-3.6 1-3.7 2-7.6 3-10.4 3-8 3-6 3-4.8 3-4 3-1.3 3 .4 3-1 3-2.6 3-2.7 3-3.3 3-5.1 3-4.9 3-2.4 3-1.6 3-.8 3 .1 3-1.4 3-3 3-2.5 3-1 3 .2 3 .5 3-.9 3-2.5 3-.7 3 2.7 3 2.1 3-2.1 3-4.9 3-3.4 3-.5 3 2.4 3 3.1 3 .5 3-1 3-1.4 3-2.2 3-2.1 3-1.3 3 0 3 .7 3 .8 3-.4 3-2 3-2.7 3-1.3 3 .5 3 .3 3-1.1 3-.8 3 1.6 3 3.3 3 3 3 .9 3-1.7 3-1.9 3-.5 3 .4 3 1 3 .3 3-2.8 3-4.3 3-2.5 3 .7 3 2.8 3 2.7 3 .7 3-1.3 3-2.7 3-3.1 3-2.4 3-.3 3 2.7 3 4.3 3 3.2 3 .1 3-.9 3 .7 3 1.1 3-1.4 3-3.3 3-2.2 3-1.7 3-3.4 3-3.8 3-2 3-.7 3-.3 3-.1 3 2 3 3.3 3 1.5 3 .8 3 3.1 3 5.2 3 4.6 3 2.7 3-.2 3-3.6 3-4.9 3-2.9 3 .3 3 .9 3-.9 2-1.3"/>
<path d="M34 104.5l3 3.7 3 1.6 3-.7 3-1.2 3-.3 3-1.2 3-3.2 3-2.6 3-.3 3 1.1 3 1.4 3 1.8 3 .1 3-2.9 3-2.7 3 .9 3 4.3 3 5.2 3 4.1 3 2.2 3-.6 3-2.3 3-1.4 3-2.3 3-4 3-3.6 3-3.3 3-2.6 3 .7 3 3.8 3 2.9 3 0 3-1.4 3 .2 3 1.3 3-.9 3-3.2 3-1.1 3 1.7 3 2 2 1 1 .5 1 .5 2 6.4 2 34.6 1 26.3 1 26.3 2 33.1 1 3.8 1-1.1 1-3.6 1-4.5 2-9.1 2-7.5 1-3 1-2.7 2-4.3 2-3.6 1-1.6 1-1.6 2-3.7 3-7.2 3-7.9 3-4.8 3-1.2 3-.1 3-1.7 3-4.7 3-6.3 3-6 3-5.8 3-3.6 3 .7 3 2.5 3-.7 3-4 3-4.1 3-2.7 3-1 3-.1 3-1.2 3-2.3 3-1.5 3-1.2 3-1 3 .6 3 1.6 3 .4 3-1.3 3-2.5 3-2.5 3-1.1 3-.1 3-3 3-6 3-3.9 3 1.2 3 3.9 3 3.6 3 2.1 3 .2 3-.7 3-.4 3-.3 3-2.2 3-4.2 3-3.5 3-2.1 3-.5 3 1.5 3 2.4 3 2.5 3 3.2 3 2 3-.7 3-1.7 3-2 3-1.4 3 1.1 3 2.6 3 1.1 3-.1 3-.4 3-1.6 3-.3 3 2.8 3 2.7 3-.9 3-3.9 3-2.8 3 .5 3 1.9 3 2.5 3 3.9 3 3.4 3 1.2 3-1.5 3-3.1 3-3.2 3-1.9 3-.6 3-.5 3-1.7 3-2.5 3-1.3 3 1.5 3 3.8 3 4.9 3 1.8 3-2.7 3-3.1 3 .6 3 2.9 3 1.6 3-1.7 3-2.8 3-2.1 3-.8 3 1.9 3 3.4 3 .7 3-3.2 3-2.1 3 2 3 2.4 3-1 2-1.7"/>
<path d="M34 100.3l3-4.2 3-3.8 3 .1 3 3 3 1.3 3-.7 3-1 3-2.4 3-2.6 3-.3 3 1 3 .9 3 2 3 4 3 4.4 3 .8 3-3.2 3-1.4 3 2 3 2.2 3 1.4 3 .8 3-.7 3-.1 3 2.3 3 2.1 3-1 3-3.5 3-3.8 3-2.1 3-1.3 3-.8 3 2.7 3 3.7 3 1.3 3-.2 3 0 3 1.1 3 .8 3-1.9 2-2.1 1-.9 1-.7 2-1.3 2 0 1 3.6 1 7.6 2 27 2 36.4 1 17.9 1 15.7 2 17.2 2 3.8 1-.9 1-1.9 2-4.9 2-4.7 1-2.1 1-2 2-3.6 3-4.9 3-4.2 3-3.5 3-4.7 3-6.2 3-4.1 3-1.6 3-2.7 3-5.1 3-5.3 3-4.3 3-3.4 3-2.1 3 1.3 3 2.9 3-1.2 3-6.5 3-7.7 3-6.4 3-3.6 3-1.1 3-.1 3 1.6 3 1.7 3-1.7 3-4.8 3-4.4 3-2.1 3 .4 3 .8 3-1.7 3-3.1 3-1.9 3-1.5 3-.1 3 3.5 3 4.8 3 2.3 3-2.6 3-5.3 3-2.6 3 .2 3-.8 3-2 3-.5 3 .9 3 1 3 .1 3-.5 3-1 3-2.8 3-3 3-.2 3 2.8 3 2.1 3-1.2 3-2.6 3-1.3 3 1 3 1.5 3-1.4 3-3.8 3-.8 3 3.6 3 2 3-2.7 3-2.2 3 2.4 3 4.9 3 3.4 3 .4 3-.8 3-.4 3-.6 3-1.1 3-1.5 3-2.4 3-1.6 3 .1 3-.7 3-3 3-1.1 3 4.9 3 6 3 .1 3-4.6 3-3.5 3-.9 3-.9 3-1.7 3 .2 3 3.4 3 4.4 3 2.9 3 2.4 3 2.8 3-.2 3-5 3-4 3-.5 3 .1 3 1 3 1.1 3-2.3 3-4.3 2-2.6"/>
<path d="M34 105.6l3-.5 3-2.2 3 .1 3 3.1 3 2.7 3-.5 3-2.6 3-2 3 .3 3 2.1 3 1.4 3-1.6 3-3 3-.6 3 1.8 3 2 3 .7 3-.4 3 .1 3 1 3-.9 3-2.9 3-1.6 3 1.4 3 2.8 3 1.5 3-.1 3 1 3 2.2 3 .1 3-2.5 3-3 3-2.3 3-2 3-.1 3 1.8 3 1.3 3 .9 3 .9 3-.6 2-1.2 1-.7 1-.8 2-1.3 2-.8 1-.1 1 .1 2 10.2 2 41.2 1 28.3 1 27.3 2 33 1 4 1-.3 1-2.5 1-3.3 2-6.8 2-6.5 1-3.2 1-3.2 2-6.3 3-9.4 3-9.6 3-8.6 3-6.7 3-6.6 3-6 3-4.1 3-3.3 3-3.9 3-3.2 3-2.6 3-4.4 3-4.8 3-2.1 3-.3 3 .1 3 .8 3 .8 3 .6 3 .2 3-1.2 3-2.7 3-3.2 3-3.5 3-4.1 3-4.6 3-4.2 3-.9 3 2.1 3 1.8 3-.2 3-2 3-4.5 3-6.5 3-5.3 3 .1 3 5.4 3 5.8 3 2 3-2.2 3-3.4 3-1.9 3 .2 3 1 3 .8 3 1.8 3 2.3 3-.1 3-2.8 3-2.5 3-1.6 3-1.1 3-.2 3 1.9 3 2.8 3 1.3 3-.4 3 .2 3 1.4 3 1.4 3 1.2 3 0 3-1.5 3-1.7 3-1.1 3-.3 3 .6 3-.1 3-.6 3 1 3 2 3-.2 3-3.7 3-2.7 3 3 3 4.8 3 2.2 3 .1 3-2.3 3-3.7 3-1.4 3 .3 3-1.2 3-3.6 3-4 3-2.1 3-.2 3 1.6 3 2.3 3 1.6 3 1.5 3 1.3 3 .6 3 .9 3 1.5 3 .2 3-1 3-.4 3 1.1 3 1.8 3 1.1 3-1.4 3-3.9 3-4.4 3-1.8 2 .8"/>
</g>
<path fill="none" stroke="#58595b" stroke-width="4.3" stroke-linejoin="round" d="M34 103.2l2 0 2 0 2 0 2-.1 2 0 2 0 2-.1 2 0 2 0 2-.1 2 0 2 0 2 0 2 0 2 0 2 0 2-.1 2 0 2 0 2 0 2 0 2 0 2 0 2-.1 2 0 2 0 2 .1 2 0 2 0 2 0 2 .1 2 0 2 0 2 .1 2 0 2 0 2 .1 2 0 2 0 2 .1 2 0 2 0 2 0 2 0 2 0 2 0 2 0 2 0 2 0 2 0 2 0 2 0 2 .1 2 0 2 .1 2 0 2 .1 2 0 2 .2 2 .5 2 1.3 2 3.4 2 6.6 2 8.4 2 8.6 2 6.7 2 4.7 2 2.3 2 .9 2-.2 2-.7 2-.9 2-1 2-1 2-1 2-.9 2-1 2-.9 2-.9 2-.9 2-.9 2-.9 2-.9 2-.8 2-.9 2-.8 2-.8 2-.8 2-.9 2-.8 2-.6 2-.7 2-.6 2-.6 2-.6 2-.6 2-.6 2-.5 2-.4 2-.5 2-.4 2-.4 2-.5 2-.4 2-.4 2-.3 2-.4 2-.4 2-.3 2-.4 2-.3 2-.3 2-.2 2-.2 2-.2 2-.2 2-.2 2-.2 2-.2 2-.1 2-.2 2-.3 2-.2 2-.2 2-.3 2-.2 2-.3 2-.2 2-.3 2-.2 2-.2 2-.2 2-.2 2-.2 2-.2 2-.1 2-.2 2-.1 2-.1 2-.1 2-.2 2-.1 2-.1 2-.1 2-.1 2-.1 2-.2 2-.1 2-.1 2-.2 2-.1 2-.2 2-.1 2-.1 2-.2 2-.1 2-.2 2-.1 2-.1 2-.2 2-.1 2-.1 2-.2 2-.1 2-.1 2-.2 2-.1 2-.1 2-.2 2-.1 2-.1 2-.1 2-.1 2-.1 2-.1 2-.1 2-.1 2-.1 2-.1 2-.2 2-.1 2-.1 2-.1 2-.1 2-.1 2 0 2 0 2 0 2 0 2 0 2 .1 2 0 2 0 2 0 2 0 2 0 2 0 2-.1 2 0 2-.1 2-.1 2 0 2-.1 2-.1 2-.1 2 0 2-.1 2-.1 2 0 2 0 2 0 2-.1 2 0 2 0 2 0 2 0 2 0 2 0 2 0 2 0 2 0 2-.1 2 0 2 0 2 0 2 0 2 0 2 0 2 0 2 0 2 0 2 0 2 0 1-.1"/>
<polygon fill="#cdcfd1" points="517,94.9 520,94.4 523,94.1 526,94.2 529,94.6 532,95 535,95.2 538,95.3 541,95.2 544,95 547,94.8 550,94.7 553,94.7 556,95.1 559,95.5 562,95.6 565,95.5 568,95.3 571,95.4 574,95.5 577,95.3 580,94.8 583,94.2 586,93.9 589,94 592,94.2 595,94.4 598,94.5 601,94.4 604,94.4 607,94.7 610,95 613,95.2 616,95.1 619,94.8 622,94.6 625,94.7 628,94.8 631,94.6 634,94.2 637,93.8 640,94.1 643,96.3 646,100.5 649,104.9 652,107.5 655,108.4 658,108.3 661,107.8 664,107.3 667,106.9 670,106.8 673,106.7 676,106.2 679,105.3 682,104.4 685,103.5 688,102.6 691,101.8 694,101.4 697,101.4 700,101.3 703,101.1 706,100.9 709,100.9 712,101 715,100.8 718,100.2 721,99.6 724,99.4 727,99.2 730,99 733,98.6 736,98.3 739,98.3 742,98.4 745,98.5 748,98.7 751,98.9 754,98.8 757,98.4 760,98.1 763,98 766,98.1 769,98.1 772,98 775,98.1 778,98.2 781,98.1 784,97.5 787,96.8 790,96.1 793,95.7 796,95.5 799,95.9 802,96.6 805,97.7 808,98.6 811,98.9 814,98.5 817,97.6 820,96.7 823,96.1 826,95.7 829,95.3 832,95.2 835,95.2 838,95.3 841,95.1 844,94.6 847,94.2 850,94.1 853,94.4 856,95.3 859,96.3 862,96.9 865,97 868,96.7 871,96.2 874,95.7 877,95.5 880,95.6 883,95.9 886,96 889,95.9 892,95.4 895,95 898,94.9 901,95.3 904,95.6 907,95.6 910,95.3 913,95 916,94.8 919,94.8 922,94.8 925,94.6 928,94.3 931,94.1 934,94 937,94.2 940,94.3 943,94.4 946,94.5 949,94.6 952,94.6 955,94.7 958,94.7 961,95 964,95.2 967,95 970,94.6 973,94.2 976,94 979,93.9 982,94.1 985,94.4 985,117.8 982,117.9 979,117.9 976,117.8 973,117.7 970,117.6 967,117.5 964,117.4 961,117.5 958,117.7 955,118.1 952,118.6 949,118.9 946,119 943,118.9 940,118.9 937,118.8 934,118.8 931,118.8 928,118.9 925,118.9 922,118.9 919,118.8 916,118.6 913,118.2 910,117.9 907,117.5 904,117.3 901,117.3 898,117.5 895,118.1 892,118.8 889,119.6 886,120.2 883,120.6 880,120.6 877,120.2 874,119.6 871,119.1 868,118.8 865,118.7 862,118.6 859,118.7 856,118.9 853,119.3 850,119.7 847,120.2 844,120.7 841,121.2 838,121.6 835,121.9 832,121.9 829,121.7 826,121.5 823,121.5 820,121.7 817,122.2 814,122.6 811,122.9 808,123 805,123.1 802,123.3 799,123.6 796,123.9 793,124 790,124.4 787,125.1 784,126 781,126.8 778,127.1 775,127 772,126.9 769,126.9 766,127 763,127.2 760,127.5 757,127.9 754,128.3 751,128.6 748,128.9 745,129.4 742,130 739,130.6 736,131.2 733,131.7 730,132.3 727,132.9 724,133.6 721,134.4 718,135.2 715,136 712,136.8 709,137.5 706,138.2 703,138.8 700,139.5 697,140.3 694,141.1 691,142.1 688,143.1 685,144.2 682,145.5 679,147 676,148.8 673,150.9 670,153.1 667,155.2 664,157.3 661,159.3 658,161.3 655,162.4 652,160.2 649,152.4 646,139.3 643,126.6 640,119.8 637,118.4 634,118.5 631,118.6 628,118.5 625,118.4 622,118.3 619,118.1 616,117.9 613,117.8 610,118 607,118.4 604,118.7 601,118.8 598,118.6 595,118.3 592,118.1 589,118.3 586,118.5 583,118.6 580,118.6 577,118.3 574,118 571,118 568,118.2 565,118.7 562,119 559,119 556,118.8 553,118.3 550,117.8 547,117.3 544,117.2 541,117.3 538,117.7 535,118 532,118.2 529,118.1 526,117.9 523,117.6 520,117.4 517,117.3"/>
<g fill="none" stroke="#c2c4c6" stroke-width="1.1" stroke-linejoin="round">
<path d="M517 104l3 .5 3 1.2 3-.2 3-3.1 3-3.9 3-2.1 3-.7 3 0 3 .5 3 1.1 3 2.7 3 5.2 3 4.8 3 .2 3-2.8 3-.9 3 1.6 3 2 3 2.7 3 3.9 3 2.6 3-1.8 3-5.8 3-6.7 3-4.2 3-2.6 3-4 3-2.7 3 1.6 3 2.9 3 1.5 3-1.6 3-3.6 3-.8 3 3 3 4 3 2.1 3-1.8 3-2.5 3 1.4 3 3 2 1.5 1 .6 1 .6 2 1.6 2 2.1 1 1.2 1 1.5 2 2.8 2 2.1 1 .7 1 .6 2 1.2 2 .6 1-.1 1-.4 2-1.6 2-1.8 1-.7 1-.2 2 1.1 3 3.5 3 .5 3-2.2 3 .1 3 2.9 2 1.1 1-.5 3-5.4 3-7.3 3-3.3 3 .5 3 1.1 3 .2 3 .4 3 .1 3-.8 3-.6 3-1.1 3-2.7 3-2.2 3 .7 3 2.3 3 1 3-.6 3-.2 3 .9 3 1.1 3 1.1 3 2.7 3 4.8 3 3.5 3-.4 3-3.9 3-5.2 3-2.8 3 1.3 3 2.7 3 1.4 3 0 3-1 3-2.2 3-2.5 3-.8 3 1.7 3 1.3 3-1.5 3-3.3 3-3.8 3-3.3 3-1.9 3 1.1 3 3.5 3 2.4 3 0 3 .4 3 2.5 3 3.8 3 1.1 3-1 3 1.5 3 3.6 3 1.7 3-2.2 3-4.4 3-4 3-2.7 3-.5 3 1.8 3 2.8 3 1.1 3-1.2 3-1.1 3 .5 3 .9 3-1.2 3-2.2 3-.2 3 1.9 3 1.3 3-.9 3-1.3 3 1 3 2.4 3 1.9 3 1.2 3-1.4 3-3.6 3-1.4 3 1.2 3 1 3 1.4 3 4.6 3 5.7 3 2.6 3-.1 3-1.1 3-3.5 3-4.2 3-.3 3 3.1 3 1.6 3-1 3-1.8 3-1 3-2.9 3-6"/>
<path d="M517 108.8l3-6.6 3-2.7 3 .6 3 .8 3 .8 3 2.5 3 .7 3-2.1 3 .2 3 3.3 3 .8 3-4.8 3-5.6 3-2.8 3-1.9 3 .3 3 5.7 3 7.6 3 2.5 3-.7 3-.3 3-.7 3-.4 3 1.5 3 1.5 3-.8 3-1.5 3 .9 3 2 3-.4 3-2.8 3-2.5 3-1.2 3-1.7 3-1.8 3 1.7 3 5.8 3 5.1 3-.2 3-3.2 3-2.2 2 .2 1 .6 1 .9 2 2.2 2 2.1 1 1.1 1 1.3 2 2.6 2 1.9 1-.1 1-.7 2-3.1 2-4 1-1.7 1-1.4 2-1.9 2-1.4 1-.6 1-.4 2 .1 3 2.7 3 2.8 3 .6 3-.3 3 .2 3-1.1 3-4.5 3-4.7 3 .7 3 5 3 4.8 3 3.4 3 1.6 3 1.2 3 1.4 3-.4 3-1.4 3-1.4 3-3.6 3-5.6 3-4.4 3-.3 3 4 3 6.4 3 6.2 3 1.9 3-2.9 3-4.7 3-2.4 3 3.2 3 5.6 2 1.6 1-.2 3-2.7 3-1.5 3 .6 3-.7 3-4.1 3-5.9 3-2.4 3 2.8 3 2.6 3 0 3 1.6 3 5.2 3 4 3-1.1 3-4.2 3-4.2 3-2.4 3 .9 3 3.8 3 4.6 3 2 3-2.3 3-4.3 3-3.2 3 1.4 3 3.9 3-.6 3-4.3 3-1.7 3 .3 3-.5 3-.4 3 .8 3 2.1 3 3.8 3 3.3 3 .5 3-1.5 3-1.7 3-1.7 3-2.8 3-3.5 3-1.9 3-1 3-3.2 3-4 3-1.4 3 .6 3 .6 3 1.9 3 5.2 3 5.4 3 1.9 3-.8 3-.9 3-1.6 3-4.4 3-5.4 3-2.8 3 .9 3 3.2 3 .2 3-5.9 3-4.6 3 1.1 3 2.8 3 3.1 3 2.1 3-.3 3 1.1 3 4.9 3 3.4 3-1.4"/>
<path d="M517 106.6l3-1.5 3-1.7 3-.8 3-.3 3 .8 3 3.2 3 4.8 3 3.6 3 .7 3-2 3-3.1 3-3.7 3-3.1 3-.1 3 2.6 3 2.1 3-.2 3-2.2 3-2.7 3-.5 3 2.5 3 4.5 3 2.2 3-2.7 3-2.4 3 1.6 3 1.4 3 .7 3 1.2 3-.1 3-1 3 1.5 3 3 3-.9 3-3.6 3 .1 3 3.6 3 2.4 3-1.1 3-3.2 3-3.3 2-2.1 1-1 1-1 2-1.5 2-.5 1 .5 1 1.2 2 3.9 2 2.6 1 .1 1-.4 2-1.1 2-.9 1-.2 1-.3 2-.7 2-.8 1-.1 1 .2 2 1.1 3 1.7 3-1 3-1.7 3 .1 3 2.5 3 4.5 3 3.5 3 .8 3-1.6 3-3.5 3-2.5 3 .5 3 1.3 3-1.1 3-2.7 3-1.4 3-1.1 3-.4 3 3 3 5.3 3 4.8 3 2.9 3 1.2 3 .4 3-.7 3-2.6 3-4.5 3-3.2 3 .7 3 1.7 3-1.2 3-3.8 3-3.1 3-1.1 3-1 3-2.2 3 .5 3 6.1 3 7.1 3 2.2 3-2 3-2.7 3-1.3 3 .2 3-.1 3-3.3 3-5.8 3-3.3 3 1.5 3 4.4 3 3.6 3 1.6 3-.3 3-.6 3 .9 3 1.6 3 .5 3-1.7 3-3.2 3-1.6 3 1.2 3-.1 3-3.8 3-3.6 3-.2 3 1.1 3 .7 3 2.2 3 3.9 3 2.5 3-2 3-4.8 3-3.6 3-.3 3 2.6 3 2.9 3 1.5 3 1.5 3-.4 3-3.1 3-.9 3 2.8 3 3 3 1.6 3-1 3-3.7 3-2.5 3 1.3 3 2.4 3 1.4 3-.2 3-1.2 3-1 3 .8 3 3.4 3 3 3-.6 3-1.8 3 0 3 0 3-1.8 3-1.6 3-1.2 3-2.3 3-3.4"/>
<path d="M517 109.7l3-1.8 3-2 3-2.8 3-.9 3 4.3 3 4.9 3 .1 3-2.6 3-2.8 3-2.7 3-.5 3 2.6 3 2.6 3 .5 3-.1 3 .8 3 1.8 3 2.7 3 2.8 3 .3 3-4.3 3-7.1 3-6 3-2.7 3-.5 3-1.1 3-.7 3 2.9 3 5.1 3 3 3 .7 3 1.2 3 2.3 3 1.3 3-.2 3 0 3 .1 3-.9 3-.2 3 .7 3 .5 2-.1 1-.3 1-.7 2-2.6 2-3.8 1-1.8 1-1.2 2 1.1 2 5.9 1 3.3 1 2.7 2 2.6 2 .6 1 .2 1 .2 2 .5 2-.2 1-.6 1-.8 2-1.8 3-1.5 3 1.4 3 2.7 3 .8 3-2.7 3-3.8 3-1.8 3-1 3-.8 3 1.7 3 3 3 .3 3-2.6 3-3.7 3-1.6 3 2 3 2.5 3 0 3-.8 3-.7 3 2 3 6.4 3 5.3 3-.4 3-3.7 3-4.2 3-3.5 3-3 3-2 3 2 3 6.4 3 5.1 3 .6 3 0 3 3.1 3 2.5 3-2.8 3-5 3-3 3-.9 3-.9 3-1.6 3-1.6 3-.7 3 1.2 3 3.5 3 4 3 1.6 3-.5 3-.6 3-.5 3-.5 3 0 3-1.1 3-4.8 3-6.8 3-4.6 3-.3 3 3.1 3 2.7 3-.9 3-4 3-2.6 3 1.6 3 3.9 3 3.7 3 .4 3-3.5 3-2.7 3 3.8 3 7.3 3 5.7 3 2.4 3-.7 3-.9 3 .1 3-.7 3-3.2 3-5.3 3-3.3 3 2.5 3 4.7 3 1.1 3-.9 3-2.1 3-1.7 3 1.4 3 3.1 3 1 3-3.7 3-5.8 3-1.5 3 2.3 3 .9 3-2.2 3 .6 3 6 3 5.5 3 2.1 3 1 3-1.3 3-4 3-3.5 3-2.7 3-3.1"/>
<path d="M517 104.8l3-2.1 3 .1 3 3 3 2.5 3 2.2 3 1.6 3-2 3-3.2 3-1.7 3-1.3 3-.9 3 .5 3 .7 3 0 3-.1 3 .8 3 1 3-.8 3-3.2 3-3.9 3-2.8 3-1.8 3-2 3-.8 3 1.7 3 3.3 3 3.9 3 2.3 3-1.8 3-2.7 3 1.5 3 3.4 3 2.1 3 .1 3-.7 3 1.1 3 3.6 3 3.6 3-.4 3-4.8 3-5.5 2-2.7 1-1.2 1-1 2-.8 2 1.9 1 1.2 1 .9 2 .3 2 .7 1 1.1 1 1.6 2 3.6 2 2.6 1 .5 1 0 2-.8 2-.3 1 .4 1 .7 2 2.5 3 4.9 3 5.1 3 2.4 3-2.2 3-3.9 3-2.5 3-2.3 3-2.3 3-1.3 3-.7 3-.6 3-.7 3 .5 3 2.7 3 4.6 3 3.2 3-.2 3-2.4 3-2.8 3-1.9 3-2 3-4.6 3-5.1 3-2.3 3 .9 3 4.7 3 5.2 3-.3 3-3.8 3-1.8 3-.4 3 .1 3 .5 3-.1 3 0 3 1.4 3 2 3 .9 3-.8 3-3.3 3-3.1 3 1.7 3 5.6 3 5.4 3 3.4 3 .7 3-.9 3-.5 3-.9 3-1.9 3-2.3 3-2.6 3-.6 3 3.7 3 5.4 3 2.3 3-4.1 3-7 3-3.2 3 2 3 4.2 3 2.3 3-.8 3 .1 3 1.9 3 .1 3-2.1 3-2.5 3-3.4 3-4.3 3-3 3-.7 3 .3 3 1.1 3 3.6 3 6 3 3.8 3-2 3-4.2 3-.4 3 2.5 3 .1 3-4.6 3-6.1 3-3.8 3 .6 3 3.9 3 1.6 3-2.3 3-1.9 3 2 3 3.7 3 .7 3-2.5 3-2.5 3-1 3 1.7 3 5.8 3 4.2 3-3.1 3-5 3 .1 3 1.8 3-2.6 3-3.8"/>
<path d="M517 105.4l3-1.9 3-1.1 3-.7 3-.4 3-2 3-3.4 3-2.2 3 .5 3 3.9 3 5.8 3 2.7 3-3.1 3-5.4 3-2.5 3 3 3 6.1 3 4.6 3 1.5 3-.5 3-1.6 3-2.1 3 .1 3 2.9 3 .8 3-2.8 3-2.1 3 1 3 .8 3-2.2 3-1.5 3 2.3 3 1 3-.9 3 2.6 3 3.8 3-1.6 3-6.3 3-5 3 .6 3 4.4 3 4.6 2 2.3 1 .8 1 .6 2 .5 2-.6 1-.7 1-.8 2-1.5 2-.6 1-.2 1-.1 2-.3 2-.5 1-.2 1 0 2 .5 2 1.2 1 .7 1 .9 2 1.7 3 .5 3-3.6 3-3.7 3 1.6 3 6.3 3 5.8 3 .4 3-3.2 3-1.4 3 1.4 3 2.3 3 3 3 4.2 3 3 1 .4 2-.8 3-4.9 3-6.2 3-3.6 3-1.6 3-1.4 3-.3 3 1.5 3 3.5 3 4.9 3 4.2 3-.1 3-3.3 3-2.1 3-1.4 3-2.2 3-1.6 3-.7 3-.3 3-.5 3-.5 3 1.6 3 3.8 3 2.4 3 .1 3 .1 3-.7 3-4.4 3-6.2 3-2.9 3 .8 3 2.2 3 2.7 3 1.6 3-.2 3 .8 3 .4 3-2.8 3-6 3-5.3 3 0 3 5.7 3 6.4 3 3.4 3 .1 3-2.8 3-5.1 3-5.2 3 .8 3 6.8 3 6.5 3 1.7 3-3.5 3-6.5 3-4.4 3 1 3 3.6 3 2.1 3-1.3 3-5.6 3-6.2 3 .5 3 6.6 3 5.1 3-.6 3-2.2 3-.7 3-1.9 3-4.4 3-2 3 4.1 3 6.1 3 1.2 3-3.6 3-1.9 3 2.5 3 2.2 3-.3 3-.6 3-1.5 3-4.2 3-3.3 3 2.1 3 4.7 3 2.3 3 .9 3 1.8 3 .3 3-3.2 3-3.7 3-1"/>
<path d="M517 103.2l3 2.2 3 .2 3-2.1 3 0 3 2.1 3-.2 3-1.5 3 .4 3 1.5 3 .8 3-.5 3-.4 3 1.2 3 1.4 3 1.3 3 1 3 .1 3 1.3 3 3.2 3 1.1 3-2.6 3-3 3-2.5 3-1.8 3 .6 3 2.1 3 .8 3-1.5 3-2.3 3-1.4 3-1.6 3-2.6 3 .6 3 4.7 3 3.6 3 1.2 3 .4 3-.3 3-1.5 3-2.3 3-1.5 2 .3 1 .5 1 .8 2 1.8 2 1.9 1 1.2 1 1.5 2 3.4 2 2.7 1 .6 1-.2 2-1.6 2-1.5 1-.1 1 .3 2 1.8 2 1.4 1-.3 1-1.1 2-4.4 3-7.4 3-1.7 3 3.4 3 4.8 3 3.1 3 .3 3-.9 3-2.9 3-5.3 3-4.2 3 .1 3 3.5 3 2.5 3-.8 3-.9 3 2.5 3 3.3 3-1 3-7 3-8.5 3-3.5 3 3.1 3 6 3 4.2 3-1.1 3-4.8 3-2.1 3 4 3 6.7 3 6.7 3 6.2 2 1.8 1-.2 3-5.2 3-6.2 3-2.4 3 .4 3 .4 3-1.3 3-.8 3 3.3 3 5.9 3 2.5 3-2.9 3-5.8 3-4.9 3-2.8 3-1.8 3-1.5 3-.5 3 1.9 3 3.3 3 2.7 3 2 3 .4 3-2 3-1.1 3 3.9 3 6.3 3 .9 3-6.3 3-5.3 3-.1 3 1.7 3 1.7 3 .1 3-3.7 3-5.5 3-1.8 3 3.8 3 5.2 3 2.4 3 .3 3 .5 3-1.6 3-3.9 3-.9 3 1.8 3 0 3-2.3 3-.7 3 .9 3-.3 3-.7 3-1 3-5.1 3-6.2 3-1 3 2.1 3 2 3 2.6 3 1.4 3 .4 3 2.5 3 2.4 3-.2 3-1 3-.8 3-1.1 3-.9 3-1.4 3-1.4 3-.8 3-1.4 3-1.6 3-1.5"/>
<path d="M517 107.7l3-3.6 3-3 3 .7 3 2.3 3-.8 3-3.9 3-2.6 3 1.5 3 1.7 3-2 3-3 3-.2 3 1.8 3 2.1 3 1.9 3 .8 3 .8 3 2.5 3 3.2 3 2.6 3-.2 3-2.9 3-1.5 3 .3 3-.5 3 .1 3 3.5 3 5.2 3 2.2 3-2.7 3-6.5 3-6.8 3-2.1 3 3.7 3 5.4 3 3.4 3-1.7 3-5 3-.3 3 5.7 3 4.8 2 .3 1-.9 1-1.3 2-3.5 2-2.8 1 .2 1 1.5 2 6.9 2 8.8 1 3.4 1 2.4 2 1.8 2-1.6 1-1.6 1-2 2-4 2-2.9 1-.8 1-.4 2-.3 3-2.1 3-4.9 3-2 3 3.7 3 4.3 3-1.7 3-7.1 3-6.6 3-1.5 3 2 3 3.1 3 3.3 3 1.5 3-.7 3-.9 3-.5 3 0 3 1 3 1.9 3 2.7 3 1 3-2.8 3-4.4 3-1.8 3 .8 3-.1 3-1.7 3-1.3 3 .7 3 4.6 3 6.3 3 2.3 3-2.8 3-4.9 3-5 3-2.7 3 .5 3 .9 3 1.5 3 3.2 3 1.7 3-.5 3 1.3 3 4.5 3 1.9 3-2.9 3-.9 3 2.3 3 .7 3-1.1 3-2 3-3.4 3-2.2 3 1.1 3 1.8 3-.5 3-1.8 3 .9 3 3.9 3-.1 3-5.7 3-4.5 3-.4 3 .4 3-.2 3 1.5 3 3.1 3 2.4 3 .9 3 1.8 3 3.8 3 2 3-3.7 3-6.6 3-2.9 3 0 3-2.7 3-4.1 3-.4 3 .9 3-2.2 3-1.8 3 3.7 3 6.5 3 4.5 3 .5 3-1.7 3 .6 3 3.8 3 1.8 3-3 3-3.4 3 .6 3 2.6 3-1.7 3-5.9 3-3.6 3 2.4 3 6.5 3 5.8 3 2.2 3-.8 3-3.4 3-4.3 3-2.6"/>
<path d="M517 96.2l3 2.5 3 4.2 3 1.4 3-1.9 3-4.1 3-2.8 3 2.2 3 5.2 3 3.2 3-1.3 3-4 3-2.1 3 3.1 3 5.7 3 2.6 3-2.4 3-4.8 3-3.3 3-.6 3 .6 3 1.6 3 1.7 3-1.9 3-3.7 3-2.3 3-.6 3 1.8 3 2.2 3 1.5 3 1.1 3 1.9 3 2.7 3 1.7 3-1.9 3-4.7 3-3.3 3 .2 3 1.1 3 .5 3 2 3 3.5 2 2.2 1 .9 1 .7 2 2.8 2 5.5 1 2.3 1 1 2-1.4 2-2.4 1-.2 1 .7 2 4.2 2 5.8 1 2.6 1 2.1 2 2.1 1 .2 1-.2 1-.3 1-.6 2-1.4 3-2.5 3-1.1 3 1.4 3 .3 3-2.1 3-1.2 3 1.3 3 .9 3-1.8 3-5 3-6 3-2 3 2 3 .9 3-2.6 3-3.1 3 .4 3 3.1 3 3.3 3 3.1 3 .6 3-1.7 3-1.1 3-.5 3-1.4 3-.8 3 0 3-.9 3-2 3 .7 3 5.9 3 5.4 3-.2 3-2.9 3-1.7 3-.6 3-.9 3-1.3 3-2 3-2.9 3-2.5 3 .8 3 2.5 3 1.3 3 .7 3 .1 3-.6 3-.5 3-.4 3 .8 3 .7 3-2.1 3-2.5 3 1.2 3 1.5 3-2.3 3-4.4 3-2 3 2.4 3 2.2 3-2.4 3-3.3 3-1.2 3-.5 3 0 3 .4 3 .4 3 1.4 3 3.9 3 5 3 2.3 3-1.2 3-2.2 3-1.5 3-.1 3 1 3-.4 3-3.9 3-5 3-2.6 3 .6 3 4.1 3 5.8 3 2.8 3-.8 3 .4 3 1.7 3-1 3-4 3-3.4 3-1.2 3-.5 3-.2 3 .5 3 .8 3 .7 3 1.4 3 1.8 3-.3 3-3.3 3-3.9 3-2.2 3 1 3 3.9 3 3.9"/>
<path d="M517 103.2l3-3.7 3-4.3 3-.1 3 2.8 3 .9 3 .1 3 2.7 3 3.5 3-.2 3-4.4 3-4.1 3 .4 3 2.8 3-.8 3-4.3 3-3.2 3 .8 3 4.4 3 4.8 3 2.8 3 1.7 3 1.9 3-.1 3-3.8 3-2.3 3 4.3 3 6.8 3 3.2 3-1.3 3-2.4 3-1.1 3-.2 3 .3 3 1.1 3 1.1 3 .2 3-.8 3-.2 3 1.8 3 2.6 3 .2 2-1.7 1-1.2 1-1.3 2-2.6 2 2.6 1 3.4 1 3.2 2 2.5 2 .3 1 .1 1 .4 2 .6 2 .3 1-.2 1-.6 2-2.5 2-3.9 1-2.2 1-2.1 2-3.4 3-1.6 3 1.8 3 3.4 3 3.4 3 1.5 3-.3 3 .1 3 .2 3-2 3-3.1 3-1.2 3 1.6 3 3.3 3 .9 3-3.3 3-2.3 3 3.3 3 5.1 3 1.1 3-2.5 3-1.6 3-.2 3-.8 3-1 3 1 3 3.6 3 4 3 1.3 3-1.9 3-4.2 3-4.6 3-3.8 3-2.5 3-.5 3 1.2 3 .8 3-.5 3 .2 3 2.2 3 2.6 3 1.6 3 .4 3-1 3-3.4 3-4.1 3-2.1 3 0 3 1.2 3 1.7 3 3.5 3 5 3 2.6 3-1.1 3-2.4 3-2.6 3-3.2 3-3.4 3-.8 3 2.3 3 2.1 3 1 3 .5 3-.6 3-.4 3 .9 3-.3 3-1.9 3-.1 3 3.1 3 2.7 3-.5 3-.8 3 .6 3 .2 3-.5 3 .1 3 1.3 3 1.3 3-1.4 3-4.6 3-4.1 3-2.3 3-1.9 3-.3 3 1.6 3-.1 3-2 3 .1 3 3.2 3 3.1 3-.1 3-2.5 3-.8 3 2.4 3 3.5 3 2.8 3 2 3 .4 3-3.1 3-3.9 3 .5 3 2.1 3-1.8 3-3.6 3-1.2"/>
<path d="M517 108.8l3-.6 3 2 3 1.3 3-2.2 3-2.3 3 1.1 3 3.4 3 1.3 3-1.7 3-1.3 3 .5 3 1.4 3 .9 3 .2 3 1.8 3 2.6 3 .4 3-1.4 3-.5 3-.2 3-1.7 3-2.7 3-2.1 3-.1 3 2.7 3 4.3 3 1.4 3-3 3-3 3 0 3 1.4 3 .5 3 0 3-1.6 3-4.9 3-5.1 3-3 3-2 3 .4 3 3.3 3 1.6 2-1.5 1-1.3 1-1.3 2-.2 2 5.9 1 4.7 1 5 2 8.1 2 3.4 1 .1 1-.5 2-1.9 2-1.5 1-.1 1 .1 2 1.2 2 1.5 1 .8 1 .9 2 1.9 3 2.5 2 .4 1-.3 3-3 3-3.9 3-1.7 3 .8 3 1 3-.7 3-1.1 3-1.2 3-2.5 3-2.8 3-1.5 3 1.5 3 3.3 3 3.2 3 3.9 3 2.6 3-3.7 3-7.7 3-5.1 3-1.4 3-.5 3-.2 3 1.6 3 3.2 3 2.6 3 1.3 3-1.1 3-4 3-2.3 3 3.4 3 4.6 3-.3 3-1.8 3 1 3 1.3 3 .4 3 .5 3-.5 3-2.3 3-3.5 3-2.7 3 .5 3 2.2 3-.3 3-1.7 3 1.1 3 4.7 3 5.1 3 2.3 3-2.1 3-5.7 3-5.4 3-.9 3 2.8 3 1.8 3 .2 3-.1 3-1.7 3-1.7 3 1.5 3 2.6 3-.7 3-4.4 3-4.1 3-.5 3 2.6 3 .6 3-3.9 3-3.6 3 1.6 3 5.8 3 4 3-1.2 3-4.6 3-3.9 3-1 3 1.1 3 .1 3-1.9 3-1.7 3 .6 3 2.6 3 3.5 3 1.9 3-1.3 3-1.6 3 1 3 3.5 3 4.3 3 2.2 3-1.4 3-3.3 3-3.5 3-2.4 3 1.6 3 4.6 3 1.2 3-4.1 3-4.4 3-1.3 3 .7 3-.5 3-2.7"/>
<path d="M517 98.7l3 .9 3 4 3 4 3 4.5 3 3.7 3-1.4 3-4.5 3-2.4 3-2.8 3-5.4 3-1 3 5.3 3 3.9 3-.9 3-3.5 3-4.2 3-3.4 3-.8 3 3.3 3 3.8 3-.8 3-2.3 3 1.2 3 2.7 3 1.4 3 .8 3 .4 3 .1 3 .3 3 .3 3-.8 3-1.3 3-.3 3 1.4 3 2.7 3 .4 3-3.8 3-5.5 3-4.9 3-2.5 3 1.1 2 2.8 1 1.7 1 1.9 2 3.6 2 3.6 1 3 1 3.8 2 7.3 2 2.3 1-.4 1-.6 2-1 2-.7 1-.5 1-.5 2-1.1 2-.7 1-.1 1-.1 2-.3 3-.5 3 1.1 3 .7 3-1.1 3-.9 3 0 3-1.3 3-2.6 3-1.4 3 3.5 3 6.6 3 4.3 1 .5 2-.5 3-4.3 3-6.1 3-3.8 3 .3 3 3.4 3 1.9 3-1.4 3-1.4 3 1.2 3 1.8 3 .8 3-.3 3-1.4 3-1.7 3 .4 3 4.2 3 5.2 3 .9 3-2.8 3-.6 3 1 3-1.2 3-3.5 3-2 3 1 3 1 3 .2 3-.3 3-1.3 3-1.1 3-.6 3-.8 3-.9 3-2.3 3-3 3 .5 3 3.9 3 2.6 3-.2 3-.6 3 1.3 3-.2 3-4.5 3-4.7 3-.7 3 3.3 3 5.2 3 2.6 3-2.3 3-3.3 3-.7 3 1.5 3 3.3 3 4.9 3 2.9 3-1.7 3-3.5 3-1.9 3 .1 3 .7 3 1.8 3 2.8 3-.4 3-5.1 3-4.4 3-.4 3 1.1 3 .9 3-.4 3-2.4 3-.1 3 4.3 3 4.4 3 .4 3-4.2 3-5.3 3-1.8 3 2.3 3 2 3-1.4 3-3.1 3-.9 3 2.7 3 3.1 3-.3 3-3.3 3-4.8 3-2.7 3 3.3 3 5.8 3 5.7 3 6.8"/>
<path d="M517 98.6l3-4.4 3-2.7 3 .2 3 3.3 3 3.1 3 1.4 3 1.9 3 1.1 3-1.7 3-2.7 3-1.6 3 1.1 3 2.8 3 2.1 3 1.2 3 1.4 3 .8 3-1.5 3-2.5 3-.4 3 .7 3 .1 3-.3 3-.3 3-.2 3-.3 3 1.6 3 4.5 3 1.9 3-5 3-5.5 3 1.5 3 6.2 3 5.2 3 2.2 3 .4 3-.4 3-2.9 3-5 3-1.8 3 2.8 2 2.7 1 1.2 1 .9 2 1 2-.2 1-.1 1 1 2 5.5 2 7.9 1 3.1 1 1.7 1 .4 1-.4 2-2 1-1 1-.8 2-.4 2 .9 1 .7 1 .7 2 .9 3-.4 3-2.4 3-2.4 3-1.2 3-2.1 3-3.9 3-3.4 3-1.9 3-2.3 3-2.7 3-.1 3 1.9 3 .8 3-.4 3-1 3-2 3-.5 3 3.7 3 4.8 3 1.5 3 .5 3 2 3 .5 3-3.4 3-3.7 3-1.3 3-1 3-.9 3 1.2 3 1.4 3-2.5 3-5.3 3-2.7 3 1.2 3 .7 3-2.8 3-2.4 3 1.6 3 2.1 3-.4 3 1 3 4.2 3 4.4 3 2.6 3 .6 3-1.6 3-2.9 3-.4 3 2.8 3 3.2 3 1.8 3 0 3-2.1 3-3.4 3-2.6 3-1.1 3-.1 3 .9 3 1.8 3-.8 3-3.9 3-2.1 3 .8 3 2.3 3 4.8 3 6.8 3 3.2 3-3.1 3-5.3 3-5.7 3-7.3 3-6.1 3-2.1 3 2.4 3 5.4 3 3.9 3 1.2 3 2.3 3 4.6 3 2.5 3-1.7 3-3 3-3 3-2.1 3 .4 3 1.9 3 1.6 3-.9 3-4.1 3-2.5 3 1.7 3 3.8 3 3.6 3 0 3-3.2 3-1.9 3 .2 3 .4 3-.1 3-1.5 3-2.5 3-2.1 3-.3 3 3.2 3 6.1"/>
<path d="M517 111.9l3 .1 3 1.2 3 .8 3-2.3 3-4.4 3-4.1 3-2.2 3 .4 3 3.4 3 5.4 3 3.3 3-1.9 3-3.6 3-1.9 3-1.9 3-3.6 3-2.3 3 1.7 3 3.5 3 2.5 3 1 3-.1 3-1.6 3-3.6 3-4.9 3-3.3 3 1.4 3 4.4 3 3.4 3 2 3 2.2 3 3.1 3 2.9 3 2 3 .2 3-2 3-1.7 3-1.5 3-5.1 3-6.6 3-2.6 2 .4 1 .3 1 .1 2 .4 2 2.3 1 2.8 1 3.6 2 8.5 2 7.2 1 2.6 1 1.6 2 1.8 2 .9 1 0 1-.3 2-1.9 2-2.4 1-1 1-.6 2 .1 3 2 3 1.7 3 .2 3-1.6 3-2.5 3-2.3 3-2.4 3-3.3 3-3.4 3-1.6 3 .6 3 2.1 3 2 3 .1 3 0 3 .9 3-1.9 3-5.9 3-5.8 3-2.1 3 1.9 3 5.2 3 5.9 3 2.1 3-1.8 3-2.5 3-1.5 3 .6 3 3.6 3 6 3 5.9 3 2.4 3-2.2 3-3.7 3-3.1 3-3.3 3-2.3 3 1 3 2.5 3-.3 3-1.6 3 .4 3 1.4 3 .5 3-.8 3-2.2 3-3.1 3-2 3-.9 3-2.4 3-2.6 3 1 3 4.4 3 3.4 3-.2 3-1.5 3-.3 3 .5 3 .4 3-.8 3-2.5 3-2 3 .8 3 3.5 3 3.1 3 0 3-1.8 3-.3 3 .8 3 .2 3-.2 3-.2 3 0 3 1.1 3 2.9 3 2.9 3 .3 3-.2 3 .9 3 1.4 3 1 3-1.1 3-5.6 3-8.1 3-6.1 3-2.4 3 .4 3 2.1 3 3 3 2.2 3 0 3-1 3 .1 3 1.2 3 1.8 3 2.9 3 2.8 3-.7 3-3.9 3-3.5 3-1.6 3 .6 3 1.7 3 1.8 3 2.2"/>
<path d="M517 114.1l3 1.6 3 .9 3-1.3 3-3 3-3 3-2.6 3-1.6 3-.3 3-.3 3-1.5 3-2.2 3-1.4 3-.4 3-.1 3-.7 3-.4 3 .8 3 1.8 3 3.3 3 4.5 3 3.6 3 1.5 3-1.6 3-5.3 3-5.4 3-.9 3 2.3 3 1.1 3-.6 3 0 3 2.2 3 3.6 3 1.9 3-1.6 3-2.8 3-.6 3 3.2 3 3.7 3-.1 3-3.2 3-1.5 2 .9 1 .8 1 .6 2 1.3 2 3.4 1 2.7 1 3.1 2 6.4 2 4.8 1 1.8 1 1.6 2 2.5 2 1.5 1 .2 1 0 2-.8 2-2 1-1.4 1-1.7 2-3.9 3-4.5 3-.5 3 .8 3-1.2 3-2.6 3-2.7 3-3.8 3-4.6 3-2 3 3.4 3 4.8 3 1.5 3-1 3-.5 3 .3 3-.3 3 0 3 1 3 2.8 3 4.8 3 4.8 3 4.3 3 2.6 3-1.5 3-6 3-7.1 3-4.7 3-2.1 3-2.1 3-3.2 3-1.5 3 .7 3 .2 3-.8 3-.2 3 .2 3 1.4 3 4.5 3 7 3 4.8 3-2 3-5.8 3-4.5 3-2.8 3-1.5 3 .7 3 2.7 3 1.2 3-2.4 3-3.5 3-1.2 3 1.2 3 1 3 .1 3 .9 3 1.9 3 .5 3-2 3-1.8 3 1 3 2.8 3 2 3 .3 3-1.1 3-1.5 3-1.3 3-.6 3 .3 3 .8 3 1 3-.2 3-1.3 3-.2 3-.8 3-3 3-2.8 3-1 3-.3 3 .7 3 1 3-1.1 3-2.9 3-2 3 .7 3 2.4 3 2.7 3 1.9 3 .8 3 .2 3-.1 3-1.4 3-3.2 3-3.1 3-.8 3 1.7 3 2.1 3 .2 3-.7 3-.1 3-.2 3-.3 3 .5 3 1.2 3 1.8 3 2.7"/>
<path d="M517 116.6l3 0 3-3.1 3-4.3 3-2.1 3 1.7 3 3.8 3 3.4 3 .4 3-1.2 3 1.3 3 2.7 3 .3 3-2.6 3-3.6 3-2.1 3-1.3 3-2.5 3-2.9 3-2 3-.9 3 1.1 3 5.2 3 7.1 3 2.7 3-1.3 3 .3 3 1.3 3-1.9 3-3.3 3 .4 3 2.8 3 2 3 .9 3 .1 3-.2 3-1.9 3-6 3-7.4 3-3.6 3 1.7 3 5.5 2 4.1 1 1.6 1 1 2 0 2-.3 1 1.4 1 2.6 2 7.4 2 5.9 1 .9 1-.2 2-1.9 2-2.3 1-.9 1-.6 2-.1 2 1.3 1 .9 1 .7 2 .1 3-4.2 3-5.6 3-2.1 3 2.6 3 4.7 3 2.1 3-2.6 3-3.6 3-.4 3 1.4 3 1.3 3 2.3 3 .8 3-1.8 3 .3 3 2.5 3-.8 3-4 3-2.7 3 .4 3 2.3 3 .8 3-4.2 3-6.5 3-4.7 3-1.3 3 .6 3 1.8 3 4.6 3 7.2 3 5.4 3-.3 3-3.8 3-3.1 3-1.7 3-1 3-.8 3-1.6 3-1.8 3-.4 3 .6 3 1.8 3 2.8 3-1.4 3-6.3 3-3.7 3 2 3 3.6 3-.1 3-2.9 3 .6 3 3.3 3 1.3 3-.1 3 .3 3 1.5 3 1.8 3 0 3 0 3 .6 3-.7 3-.9 3 1.1 3 2.6 3 1.4 3-3 3-6.9 3-5.3 3 .8 3 3.1 3 .7 3-2.6 3-4.9 3-4 3 1.8 3 8 3 9.1 3 5.6 3 1.2 3-2.8 3-5.1 3-3.6 3-.4 3 1 3 .4 3 .3 3 .6 3-.5 3-2.6 3-3.3 3-4 3-3.8 3 0 3 3.4 3 3.7 3 2.9 3 1.1 3-1.9 3-4.2 3-2 3 2.6 3 4.1 3 2.1 3-.9 3-2.6"/>
<path d="M517 112.9l3 1.6 3-1.2 3-3.2 3-2.3 3 1 3 1.3 3 0 3 1.6 3 3.2 3 2.5 3 .9 3-1.6 3-4.9 3-4.9 3-.7 3 5.2 3 7.7 3 3.3 3-3.9 3-5.7 3-1.8 3-.1 3-2.6 3-2.9 3 .4 3 1.6 3 1.3 3 1.1 3 2.1 3 1.6 3-3.8 3-6.7 3-1.3 3 5 3 5.1 3 .3 3-4 3-3.8 3 .7 3 5.2 3 6.7 2 4.1 1 1.4 1 .9 2-.7 2-3.5 1-2.3 1-2.1 2-.7 2 7.5 1 5.6 1 5.2 2 6.2 1 .8 1-.1 1-.7 1-1 2-2.2 2-1.9 1-.6 1-.3 2 .5 3 3 3 2 3-3.3 3-5.2 3-1.3 3 .3 3-3 3-4.3 3 .4 3 3.6 3 .5 3-2.1 3-.9 3-.2 3-1.2 3-1 3 .6 3 .6 3-2 3-2.6 3-1 3-1.2 3-1.5 3 .7 3 1.4 3 .2 3-.1 3-.1 3-.8 3-1.7 3 .1 3 3.6 3 3.9 3 1.6 3-.2 3-1.2 3 .7 3 2.2 3-.5 3-3.2 3-2.8 3-1.3 3 .1 3 2 3 2.6 3 2.8 3 1.9 3-2.1 3-4.6 3-2.3 3-.1 3-.5 3-.5 3-.9 3-3.2 3-3.4 3-.3 3 1.3 3 .2 3-1 3-1 3-.7 3 1 3 4.4 3 5.4 3 2.7 3-.3 3-1.2 3-2.4 3-4.1 3-1.7 3 2.6 3 1.9 3-3.6 3-4.1 3 1.4 3 4.9 3 3.6 3 0 3-3.1 3-3.8 3-1.8 3 1.6 3 2.5 3-.7 3-2.7 3-.6 3 .9 3-2.1 3-5.8 3-4.3 3 1.2 3 3.9 3 3.6 3 3.2 3 2.4 3 1 3-.8 3-2.6 3-3.7 3-2.5 3 .3 3 2.1 3 2 3 2.3"/>
<path d="M517 103l3 2.2 3 2.7 3 2 3 .4 3-1.5 3-2.7 3-2.3 3-1.8 3-.2 3 3.3 3 3.9 3 .8 3-1.6 3-1.3 3-1.2 3-2.7 3-2.7 3 .8 3 4.8 3 5.5 3 2.4 3-3.4 3-6 3-1.6 3 1.6 3-2.6 3-6.8 3-3.2 3 3.9 3 7.1 3 5.5 3 2.2 3-.3 3-1.9 3-2.2 3-1 3-.2 3-.4 3-.7 3 0 3 1.7 2 2.2 1 1.2 1 1.1 2 1.9 2 4.8 1 4.5 1 5 2 6.8 2-1 1-2.3 1-2.7 2-4.8 2-3.1 1-.7 1-.3 2 .4 2 1.2 1 .8 1 .9 2 2.5 3 5.1 3 4.5 3 2.3 1 .2 2-.4 3-2.5 3-3.9 3-2.6 3 .5 3 1 3-2.3 3-5.8 3-4.2 3 1.2 3 2.5 3-.7 3-2.4 3-1.8 3-1.7 3-2.5 3-1.1 3 4.1 3 6.6 3 2.9 3-.5 3-1.2 3-2.2 3-2.1 3-.6 3 .5 3 1.4 3 1.5 3-.1 3-.2 3 1.4 3 .4 3-4.8 3-6.4 3-.3 3 4.5 3 2.5 3-1.1 3-2.8 3-3 3-.8 3 2 3 2.7 3 1.9 3 .3 3-1.8 3-.5 3 1.4 3-.2 3-2.1 3-1.9 3-2.1 3-2.8 3-2.4 3 .9 3 4.4 3 3.5 3 .3 3 .2 3 3.3 3 4.3 3 1.7 3-.9 3-.3 3 2.2 3 .9 3-3.6 3-5.4 3-3.2 3 1.2 3 3.3 3-.4 3-4.4 3-2 3 4.2 3 5.3 3-1 3-6.9 3-6.4 3-1.6 3 1.5 3 2.3 3 4.3 3 4.8 3 2.3 3 .6 3-1 3-3.8 3-3.2 3 .6 3 1.3 3-1.5 3-5.1 3-4.1 3 1.7 3 4.9 3 2.5 3 .9 3 1.4 3-2 3-6.6 3-3.7"/>
<path d="M517 87.7l3-1.8 3 2.5 3 5.6 3 6 3 6.8 3 6.5 3 4.6 3 1.9 3-2 3-6 3-6.6 3-3.2 3 1.6 3 2.9 3-.5 3-3.4 3-2.9 3-2.1 3-.6 3 2.3 3 1.1 3-2.5 3-1.3 3 2.9 3 4.5 3 3.1 3 1.3 3 .5 3 .5 3 1.4 3 .7 3-2.1 3-5.4 3-6.4 3-3.4 3 1.1 3 4.5 3 5.4 3 2.5 3-3.1 3-6.2 2-2.7 1-.3 1 .2 2 1.8 2 1.9 1 .7 1 .7 2 4.6 2 10.2 1 5.8 1 5.1 2 6 2 1.6 1 .2 1 .1 2-.1 2 0 1-.1 1 0 2-.2 3-.1 3 .2 3 0 3-.9 3-2.6 3-2.8 3-.2 3 .7 3-.4 3 .2 3 1.3 3-.3 3-2.9 3-3.6 3-2.3 3-.1 3 1.3 3 .7 3-2.7 3-5.7 3-3.9 3 1.3 3 4 3 2.3 3 .1 3-1.3 3-2.1 3-.8 3 1.7 3 3.7 3 6.4 3 6.4 3 1.5 3-3.8 3-5 3-2.7 3-.7 3-.2 3-.9 3-2.6 3-4.9 3-4.9 3-.7 3 3.5 3 3.5 3 .5 3-2 3-2.1 3-.6 3 1.5 3 2.3 3 .6 3-.6 3 1.2 3 4.3 3 4.8 3 .7 3-5.5 3-6.8 3-1.2 3 3.9 3 3.3 3 .6 3 .2 3-2.5 3-6.8 3-5.7 3-.8 3 4 3 7.2 3 5.5 3 .9 3-2.6 3-3.5 3-2.5 3-2.5 3-1.5 3 2.6 3 4.5 3 1 3-2.7 3-1.4 3 1.9 3 1.9 3 .9 3 1.1 3-.1 3-1.3 3 0 3-.8 3-4.3 3-4.9 3-.3 3 5.6 3 6.3 3 1.8 3-2.2 3-2.1 3-.5 3 .9 3 2.3 3 2.8 3 1.8 3-1.2 3-4.3"/>
<path d="M517 113.9l3-4.3 3-4.8 3-2.6 3-.4 3 2 3 1.5 3-1.5 3-.1 3 3.9 3 4.2 3 2.6 3-.1 3-2.8 3-.8 3 3.7 3 2.7 3-3.3 3-4.3 3-.5 3 1 3-.2 3-1 3 0 3 2.6 3 2 3-1.4 3-3.6 3-5.1 3-3.3 3 1.7 3 2.5 3-1.2 3-1.6 3 3.6 3 3.9 3-1.3 3-2.7 3-.5 3 1.1 3 1.4 3 .7 2 .1 1 0 1 .1 2 1.6 2 11.4 1 7.7 1 6 2 3 2-1.8 1-1.2 1-1.3 2-3 2-3.4 1-1.5 1-1.2 2-1.2 2-.2 1 .1 1 .2 2 .8 3 1.9 3 .8 3-1.9 3-3.3 3-1.5 3 2.4 3 4.3 3 2.8 3 1.1 3 .2 3-.5 3-1.7 3-1 3 2 3 2.1 3-1.8 3-3.3 3 0 3 4.1 3 3.5 3-.6 3-3 3-2.7 3-1.4 3-1.1 3-.6 3 .1 3-1.6 3-4.4 3-4.8 3-3.6 3-2.6 3 0 3 2.4 3 1.5 3 1 3 2.1 3 .6 3-1.9 3-2.1 3-.1 3 .5 3-1.3 3-1.1 3 1 3 1.7 3 1.6 3 2.8 3 2.8 3-.5 3-2.6 3-.5 3 2.2 3 2.5 3-.6 3-4.5 3-3.9 3 .3 3 .3 3-2.5 3-.6 3 3.6 3 1.8 3-3.4 3-4.8 3-1.7 3 1.1 3 1.5 3 2.7 3 3.4 3-.7 3-5.6 3-6 3-1.9 3 2.7 3 4.6 3 3 3-1.3 3-4.2 3-2.7 3-.2 3-.2 3-.8 3-.9 3 .6 3 5 3 7.3 3 3.1 3-1.3 3-2 3-2.4 3-3 3-2.6 3-1.1 3 2.3 3 5.7 3 6.2 3 3.5 3 .3 3-3 3-6 3-5 3-1.8 3-.9 3 .7"/>
<path d="M517 100.8l3 2 3 1.7 3 .4 3 .9 3 2.1 3 1.6 3-.4 3-1.7 3-.5 3 .5 3-2.1 3-3 3 .6 3 2.5 3-1.2 3-4.2 3-1.9 3 1.4 3 1.7 3-.7 3-1.8 3 .2 3 1.3 3-1.1 3-2.8 3-1.6 3-.4 3 .8 3 2 3 .8 3-.5 3 1.2 3 3.2 3 2.8 3-.1 3-1.8 3-.2 3 2.4 3 2.4 3 .4 3-.7 2-.9 1-.5 1-.6 2-1.1 2 .2 1 2.4 1 5 2 15.5 2 13.6 1 3.2 1 1.4 1 .3 1-.4 2-1.9 1-1.3 1-1.3 2-2.7 2-2.7 1-1.4 1-1.3 2-2 3-2.1 3-2.3 3-3.3 3-3.1 3 .4 3 4.3 3 3.9 3-1.1 3-4.7 3-3.3 3-.2 3 3.1 3 4.6 3 2.5 3-.7 3-2.6 3-3.4 3-2.8 3-1.9 3-2 3-2.3 3-2 3-.6 3 .6 3 .7 3 .7 3 1.4 3-.1 3-3.1 3-3.5 3-2.5 3-2.8 3-2.6 3-1.1 3 .3 3 0 3-1.1 3 .4 3 2.5 3 3.4 3 4.8 3 3.8 3 .2 3-2.3 3-3.9 3-3.6 3 .1 3 4 3 5.3 3 3.9 3-.2 3-2.7 3-.2 3 4 3 5.1 3 2.1 3-2.2 3-5.1 3-3.8 3 .2 3 2 3-.2 3-4 3-6.2 3-4.5 3-.1 3 4.9 3 6.6 3 2.6 3-1.8 3-3.5 3-3.6 3-2.2 3-.8 3 .3 3 1 3 1.3 3 3.1 3 4.4 3 1.8 3-.8 3 .2 3 1.9 3 .7 3-.5 3-1.3 3-3.6 3-4.7 3-3.6 3-1.4 3 3.4 3 6.6 3 4 3-.1 3-1.8 3-3.7 3-3.3 3 .1 3 1.2 3 .1 3-.2 3-.5 3 1.3 3 5.4 3 4.7"/>
<path d="M517 106.2l3 1.7 3 .1 3-2 3-2.2 3-.5 3 1.8 3 3 3 .6 3-3.5 3-3.5 3-.4 3 1.2 3-.2 3-1.2 3 .7 3 2.9 3 3.4 3 1.9 3 .5 3 .8 3 .6 3-.4 3-.5 3 .2 3 1.5 3 3.2 3 2.3 3-1.1 3-3.3 3-2 3-.4 3-2.2 3-5 3-3.6 3 1.6 3 5.6 3 6.3 3 3.4 3-1.3 3-4.1 3-5.7 2-5 1-2.8 1-2.7 2-4.7 2-2.4 1 .6 1 2.5 2 10.8 2 15.4 1 7.6 1 6.6 2 7.3 2 1.8 1-.3 1-.9 2-2.9 2-3.8 1-1.9 1-1.9 2-3.4 3-3.6 3-2.6 3-2 3-2.2 3-2.1 3 1.1 3 4.7 3 4 3 .6 3-1.4 3-2.2 3-2.6 3-1.6 3 .1 3-.1 3-2.2 3-4.3 3-2.6 3 4 3 8.7 3 6.7 3 1.5 3-2.1 3-2 3-1.2 3-3.2 3-3.7 3-.1 3 3.1 3 1.8 3-1 3-.2 3 .6 3-.9 3-1.6 3-1.4 3-1.9 3-2.7 3-2.3 3-.7 3 .6 3 1.7 3 2.8 3 1.7 3-1.2 3-1.1 3-.1 3 0 3 1.7 3 3.1 3 1.5 3-1 3-2.8 3-4.1 3-4.1 3-3.2 3-2.2 3 2.4 3 7.5 3 5.6 3-.2 3-3.4 3-2.6 3 .7 3 2.9 3 1.1 3-.9 3-.8 3-1.3 3-2.3 3-2.7 3-1.8 3 1.8 3 4.1 3 2.6 3-.2 3-2.5 3-2.4 3 .3 3 .9 3-1.5 3-2.7 3-1 3 .6 3-.3 3-2.2 3-.7 3 4 3 5.9 3 2.9 3-.1 3-2.1 3-3.2 3-2.6 3-.8 3 1.4 3 2.9 3 2.5 3 1.1 3-1 3-4.1 3-5 3-2.4 3 2 3 5.3"/>
<path d="M517 110.9l3-3.9 3-2.5 3 2.5 3 4.5 3 2.2 3 .6 3 .5 3-1.5 3-3.9 3-2.6 3-.4 3 0 3 .9 3 1.9 3 1.2 3-.3 3-1.3 3-1 3 1.4 3 4.3 3 5.4 3 2.5 3-3.6 3-5.9 3-3.4 3-2.8 3-2 3 2 3 2.8 3 .9 3 1.1 3 .1 3-3.2 3-4.2 3-2.5 3-.8 3 1.6 3 3.3 3 1.5 3-1.5 3-.7 2 1.6 1 1.1 1 1 2 3 2 6.3 1 4.2 1 4.3 2 7.5 2 4.3 1 1.6 1 1.6 2 2.7 2 1.2 1-.3 1-.7 2-2.3 2-2.5 1-1.1 1-.9 2-1.7 3-1.9 3-1.4 3 .1 3-.8 3-3.7 3-2.8 3 .7 3 3.7 3 4.8 3 1.7 3-3.2 3-6 3-5.3 3-.5 3 5.5 3 3.9 3-3.3 3-5.8 3-5.8 3-5.2 3-.7 3 2.8 3 2.2 3 .9 3 .6 3 .4 3 1.5 3 4 3 3.6 3-.2 3-4.1 3-6 3-5 3-.3 3 1.8 3-1.8 3-3.6 3-1.4 3 1.3 3 3.3 3 4.9 3 4.7 3 1.3 3-3.3 3-3.6 3-.5 3 2.4 3 2.5 3-1.2 3-5 3-4.2 3 0 3 3.1 3 3.1 3 .8 3-1.3 3-2.1 3-1.2 3 .6 3-.1 3-1.7 3 .4 3 3 3 3.8 3 3.4 3 .1 3-5 3-4.3 3 .3 3 .2 3-.5 3 1.4 3 .6 3-.5 3-.1 3-.8 3-.8 3 1.6 3 .3 3-4.4 3-4 3-.1 3 1.7 3 1.8 3 1.9 3 .6 3-1.1 3-.5 3-.1 3-1.8 3-.3 3 5.5 3 9 3 4.6 3-4.9 3-8.4 3-3.5 3 1.3 3-.2 3-2.3 3 .4 3 4.4 3 4.3 3 1.9 3 .4"/>
<path d="M517 113.5l3 1.4 3-5.7 3-5.1 3 1.2 3 5 3 4.3 3 .5 3-4.1 3-6.2 3-4.7 3-2.2 3-.5 3 .5 3 .9 3 2.8 3 7.1 3 8 3 3.4 3-1.3 3-2.8 3-1.2 3 1.7 3 1.1 3-.6 3-1.3 3-2.5 3-4.5 3-4.6 3-3.3 3-3.1 3-1.9 3 2.3 3 5.2 3 4.4 3 2 3 .7 3 1.1 3 2.7 3 2.1 3-.2 3 .2 2 .9 1 .2 1-.1 2-1.4 2-1.6 1 .7 1 2.4 2 9.4 2 11.6 1 4.8 1 2.9 1 1.2 1-.1 2-2.3 1-1.5 1-1.3 2-1.6 2-.5 1-.2 1-.2 2-1.2 3-3.4 3-4.5 3-3.4 3 0 3 3.4 3 3.6 3 .5 3-3.4 3-5.3 3-4.6 3-3.3 3-.1 3 3.8 3 2.5 3-1.1 3-2.4 3-1.9 3 .7 3 4.2 3 4 3 .1 3-2.9 3-4.4 3-5.7 3-3.9 3-.3 3 .2 3-.2 3 1 3 1.1 3-.9 3-1.7 3 .8 3 3.4 3 2.5 3 .1 3 .1 3 1 3 0 3-2.8 3-3.7 3-.8 3 2.5 3 2.9 3 2.1 3 2.1 3 2.1 3-.9 3-3.4 3-3.8 3-4 3-2.2 3 1.6 3 2.9 3 .3 3-.9 3 .2 3-1.1 3-1.4 3 2 3 3.5 3 2.9 3 1.9 3-1.1 3-3.4 3-1.8 3 .9 3 1.4 3 .2 3-.6 3 .3 3 1.7 3 1.9 3-.7 3-3.9 3-4.5 3-3.3 3-2.8 3-2 3-.6 3 0 3 .7 3 3 3 5.9 3 4.6 3-.2 3-3.8 3-4.5 3-2.8 3-.8 3 .3 3 1.5 3 1.5 3-1 3-2.7 3-1.8 3 .1 3 1.8 3 2.8 3 2.5 3 .6 3-1.4 3-.7 3-1 3-2"/>
<path d="M517 100.6l3 2.5 3 1.5 3 .6 3 1.2 3 1.3 3-1.8 3-4.2 3-1.9 3 2.4 3 4.2 3 2 3-1.5 3-1.6 3-.5 3-.9 3-.5 3 0 3-1 3 0 3 .8 3 .2 3 2.8 3 3.8 3-2.2 3-6.2 3-2.8 3 .3 3 1.8 3 5.2 3 5.2 3-1.5 3-8.9 3-8.4 3-.7 3 6.3 3 7.8 3 4.4 3 .9 3-1.7 3-4.2 3-2.4 2 0 1 .1 1 .1 2 .4 2 1.1 1 2.3 1 4.3 2 13.5 2 13.3 1 3.9 1 1.8 1 .4 1-.5 2-1.9 1-1.1 1-.8 2-1.2 2-.7 1-.3 1-.4 2-1.1 3-1.4 3 .2 3-.6 3-2.5 3-.5 3 2.1 3 1.9 3 .1 3-.9 3 .8 3 2.7 3-.5 3-5.2 3-4.6 3-1 3-2.4 3-5.3 3-2.6 3 1.7 3 2.4 3 2.4 3 2.4 3-.1 3-1 3 1.4 3 1.8 3 0 3-.3 3 1.6 3 1.6 3-.5 3-2.4 3-4.5 3-5.5 3-3.5 3 .7 3 5.1 3 5.5 3-.3 3-5.5 3-4.5 3-.9 3 .1 3 0 3 1.4 3 1.4 3 .3 3 1.7 3 3.4 3 2.3 3-1 3-3.7 3-3.1 3 1.7 3 5.3 3 3 3-2 3-2.7 3 1.5 3 4.2 3 2.9 3-1.7 3-6.8 3-8.1 3-5 3-1.2 3 1.3 3 2.4 3 1.5 3 1.2 3 2.6 3 2.6 3-1 3-3.3 3-.9 3 2.4 3 1.8 3-1 3-4.3 3-5.1 3-1.3 3 3 3 4.3 3 2.3 3-1.5 3-4.1 3-5 3-3.8 3-.1 3 2.4 3 2.4 3 1.3 3-1.4 3-2.5 3-.6 3 1.4 3 1.2 3-1.6 3-3.5 3-1.2 3 3.1 3 6.9 3 6.7 3 2.5 3-2.1"/>
<path d="M517 115.9l3-.4 3-1.7 3-4 3-4 3-5.3 3-4.2 3 3 3 8.1 3 3.4 3-4.2 3-6.1 3-4.7 3-2.5 3 1.7 3 4.6 3 4 3 3.3 3 1.8 3-1.4 3-2.2 3 0 3 .4 3-.2 3 1.5 3 4.2 3 3.4 3-1.7 3-5.8 3-3.9 3 .1 3-1.1 3-3.4 3 .5 3 3.7 3 .8 3-3.1 3-5.8 3-3.8 3 1.4 3 3.4 3 3 2 2.3 1 1.4 1 1.5 2 3.5 2 8.5 1 6.5 1 6.8 2 10 2 1.5 1-1.3 1-1.7 2-3.1 2-1.8 1-.3 1 0 2 1.4 2 2.8 1 1.6 1 1.5 2 1.7 3-2.1 3-5.3 3-2.4 3-.2 3-1.2 3-.4 3 1.7 3 2.5 3 3.1 3 3.4 3 .3 3-2.8 3-1.6 3 1.5 3 .5 3-2.1 3-.2 3 3.5 3 3.9 2 1.1 1-.4 3-5.4 3-9 3-6.4 3-1.7 3 .1 3-.8 3-1.4 3-1.1 3-2.5 3-3.2 3 1.8 3 6.4 3 3.2 3-1.8 3-3 3-3.5 3-3.2 3 0 3 5.1 3 6.6 3 2.6 3-1.3 3-3.1 3-3.4 3-2.4 3-1.5 3 2.2 3 6.3 3 4.5 3-.1 3-1.7 3 .3 3 1.4 3-.2 3-2.2 3-2.8 3-1.3 3-.4 3 .2 3 .7 3-.8 3-2.1 3-2 3-.9 3-.7 3-1.7 3-.1 3 3.4 3 1.7 3-3.2 3-2.7 3 2.2 3 4 3 2.4 3 .1 3-1.7 3-3.2 3-3.1 3-.3 3 3.9 3 5 3-.2 3-5.2 3-2.8 3 4.8 3 6.5 3-2.1 3-9.4 3-6.5 3 1 3 3.8 3 1.1 3 0 3 .4 3-1.2 3-1.1 3 1.6 3 2 3 .7 3-.5 3-1.9 3-2.7 3-3.5 3-2.8 3 2.3"/>
<path d="M517 100.8l3 8.2 3 3.1 3-1.8 3-2.2 3-2 3-1.8 3-1.4 3-.2 3 4.1 3 6.2 3 1.2 3-3.1 3-1.4 3 1 3-.2 3-3.2 3-4.5 3-3.9 3-2.2 3 .3 3 2 3 2.2 3 2.8 3 3.9 3 3.4 3 2.5 3 .5 3-1.4 3-1.4 3-2.2 3-5.4 3-5.6 3-1.6 3 1 3-.1 3-1.1 3 1.4 3 3.6 3 2.4 3 1.1 3 1.9 2 1.3 1 .5 1 .6 2 1.4 2 3.5 1 4.8 1 7.1 2 15.7 2 8.2 1 .4 1-.9 2-2.9 2-2.3 1-.6 1-.3 2 .5 2 1.2 1 .6 1 .4 2-.1 3-2 3-2.1 3-1 3-1.4 3-1.8 3-1.3 3-1.1 3-2.7 3-3.4 3 .3 3 4.9 3 2.7 3-1.2 3-.2 3 1.8 3-.3 3-2.3 3-1.6 3-1.8 3-4.1 3-3.9 3-.7 3 .7 3 .2 3-1 3-2.5 3-1.7 3 1.2 3 2.1 3 1.3 3-.2 3-2.8 3-4.3 3-3.5 3-1.7 3 .5 3 1.8 3 2 3 1 3 2 3 5.7 3 6.1 3 .5 3-5.8 3-6.3 3-1 3 2.8 3 .6 3-2.1 3-2.2 3 .4 3 2.8 3 .6 3-2.6 3-1 3 1.9 3 1.5 3-.9 3-2.1 3-1.5 3-1.5 3-.9 3 1.9 3 2.8 3 1.6 3-.3 3-.9 3 .6 3 3.2 3 3 3 .1 3-2.5 3-2.5 3 .1 3 0 3-1.3 3 .1 3-.9 3-5.8 3-6.9 3-2.8 3 .1 3 1.2 3 2.2 3 3.5 3 4.4 3 3.5 3-.6 3-3.8 3-4 3-2.2 3 2 3 6 3 4.7 3-.7 3-4.3 3-4.2 3-3.2 3-2.1 3-.8 3 .2 3 .6 3 1.5 3 .4 3-2.7"/>
<path d="M517 109.5l3 .8 3-.5 3-1.3 3-.4 3-1.7 3-2.4 3 0 3 1.7 3 1.7 3 1.5 3 1.8 3 2 3 .1 3-3.7 3-6.2 3-4.7 3-.3 3 2.6 3 3.4 3 3.4 3 2.7 3 1.3 3-.4 3-3.1 3-4.6 3-2.7 3 1.1 3 4.1 3 3 3 .3 3-.8 3-1.7 3-1.1 3 1.2 3 2.7 3 3 3 1 3-2.2 3-2.1 3 1.4 3 3.2 2 1.1 1 0 1-.4 2 1.1 2 13.7 1 9.1 1 7.1 2 5.2 2 1 1 .5 1 .6 2 .8 1 .1 1-.3 1-.6 1-.9 2-2.6 2-3.5 1-2.1 1-2.2 2-4.7 3-6.3 3-3.1 3 .5 3 2.1 3 2.6 3 2.8 3-.2 3-5.2 3-4.5 3 1.3 3 1.5 3-4 3-4 3 2.6 3 5.1 3 1.2 3-2 3 0 3 4 3 3.2 3-3 3-6.1 3-2.8 3 .4 3 .3 3 1.3 3 3.4 3 2.9 3 1.8 3 .7 3-1.7 3-3.8 3-4 3-3 3-.7 3 1.7 3 1.2 3-.5 3 0 3 .2 3-1.1 3-2.5 3-2.7 3-2.4 3-3.1 3-2.8 3 1.9 3 6.7 3 3.8 3-1.8 3-2.3 3-1 3-1.1 3-1.1 3-.5 3 2.5 3 3.6 3 1.8 3 1.3 3 2 3 2.9 3 2.3 3-1.6 3-4.9 3-1.5 3 2.3 3 1.4 3 1.2 3 3.1 3 1.4 3-1.8 3-3 3-4 3-3.1 3 .3 3 2.1 3 .2 3-2.8 3-2.9 3-.2 3 1.1 3 .7 3 .6 3-.5 3-3.1 3-2.4 3-.1 3 .1 3 1.5 3 5.1 3 3.9 3-2.4 3-4.6 3-.9 3 1 3-1.6 3-3.3 3-.1 3 2.7 3 .8 3-.4 3 .1 3-.6 3 .1 3 .5"/>
<path d="M517 108.3l3-1 3-1.1 3-1.2 3 .4 3 2.6 3 1.2 3-1.9 3-1.8 3-.4 3-.9 3-1.4 3-.4 3 .3 3-.9 3-2.8 3-3.8 3-2.4 3 1.2 3 5 3 5.4 3 2.8 3 .6 3 .2 3 .5 3-.2 3-1.7 3-1 3 2.2 3 2.8 3 .4 3-.8 3-.1 3 .1 3-.1 3-.1 3-.3 3 .1 3 .4 3 .7 3 1.1 3 1.1 2 .3 1 0 1-.1 2-1.2 2-2.8 1-1.8 1-1.6 2 4 2 14.7 1 8.6 1 7.7 2 7.3 2 1.2 1-.5 1-.9 2-2.6 2-2.9 1-1.4 1-1.2 2-1.6 3-.2 3 .5 3-1.1 3-1.7 3-1.2 3-1.3 3-3.2 3-4.8 3-3.9 3-1.3 3 .5 3 2.5 3 3.9 3 3.1 3-.7 3-3.5 3-1.4 3 1.2 3 .5 3-1.7 3-3.6 3-3.2 3-.7 3 .8 3 1.3 3 .8 3-2.3 3-3.4 3-.9 3 .7 3 1.1 3 2.9 3 1.8 3-2.1 3-3.2 3-.1 3 5.4 3 7 3 1.1 3-6 3-7.5 3-3.9 3-.3 3 0 3-.6 3-.6 3-1.7 3-3.1 3-2.3 3-.1 3 1.2 3 1.5 3 .9 3 .4 3 .5 3 .2 3 .7 3 1.9 3 1.5 3-.1 3-.5 3 .6 3 .6 3-1.6 3-3.3 3-3 3-1.7 3-1.7 3-2.9 3-2.3 3 .3 3 2 3 2.2 3 1.1 3 1.1 3 1.7 3 .6 3-1.5 3-1 3 3.2 3 7 3 5.4 3-1.4 3-6.2 3-5.7 3-2.8 3-.6 3 1.7 3 3.8 3 3.7 3 1.9 3 1.1 3 1 3-1.1 3-2.8 3-1.3 3-.1 3-2.1 3-2.5 3 .7 3 2.1 3 .3 3 .2 3 2.6 3 3.2"/>
<path d="M517 104.5l3-.2 3-1 3-1 3-.1 3 1.3 3 2.2 3 2.1 3 .8 3-2.7 3-4 3-1.7 3 .5 3 1.7 3 1.5 3-.9 3-2.7 3-1.5 3 3.5 3 7.8 3 4.3 3-3 3-4 3-.7 3 1.4 3 1.5 3-.9 3-4.8 3-4.6 3-1.4 3 1.2 3 2.4 3 1.7 3 1 3 .5 3-1 3-2.3 3-2.8 3-.5 3 4.7 3 5.6 3 .4 2-2 1-1.1 1-.8 2-.8 2 .8 1 2.6 1 5 2 15.7 2 14 1 3 1 .4 2-3.2 2-3.2 1-.5 1 .2 2 2.5 2 4 1 2.2 1 2 2 3.2 2 1.3 1 0 3-3 3-4.7 3-3.2 3-.5 3 .6 3-1.8 3-3.7 3-1.6 3 1.6 3 3.5 3 1.6 3-4.7 3-8.2 3-4.6 3 .1 3-.7 3-2.6 3-1.3 3 .9 3 2.2 3 1.6 3-2.2 3-6.7 3-5.6 3 2 3 4.3 3-1.2 3-2.7 3 2 3 3.3 3-.5 3-2.4 3-1.1 3 .7 3 .8 3 .4 3 1.5 3 2.6 3 .5 3-2.1 3-1.5 3-1.4 3-1.1 3 1.6 3 1.3 3-1.8 3-1.5 3 .7 3-.1 3-.4 3 2.3 3 3.2 3 .5 3-3 3-5.7 3-4.1 3 1.6 3 4.5 3 1.9 3-1.8 3-1.4 3 1.8 3 2.8 3 .2 3-2.3 3-1.9 3-1.6 3-3.3 3-2.8 3-.5 3-.5 3-1.7 3 .8 3 3.6 3 .6 3-2.6 3-1.3 3 .3 3 .2 3 .9 3 2.1 3 3.2 3 4.3 3 3.8 3 .8 3-1.7 3-2.7 3-4.5 3-5.1 3-1.5 3 .9 3-.4 3-2 3-2.2 3-1.2 3 1.7 3 3.8 3 1.4 3-3.3 3-5.6 3-3 3 2.2 3 5.6 3 4.1"/>
<path d="M517 106.9l3 .7 3 1.2 3 .9 3 2.8 3 4.2 3 2.1 3 .4 3 1.2 3 .6 3-2.5 3-4.8 3-2.9 3 .9 3 1.5 3-2.9 3-7.8 3-7.2 3 .1 3 7.6 3 6.6 3-.7 3-2.9 3-.5 3-2.1 3-4.5 3-1.4 3 3.9 3 5.3 3 2.2 3-.3 3-.9 3-2.3 3-3.1 3-1.7 3 .9 3 2.8 3 2.4 3 .7 3-1.2 3-2.2 3-1.6 2-.5 1-.2 1-.2 2-.4 2 2.6 1 3.6 1 5.4 2 13.3 2 12.4 1 4.2 1 2.9 2 2.8 2 .6 1-.1 1-.4 2-.7 2-.8 1-.4 1-.5 2-1.3 3-1.5 3-1.7 3-3.5 3-2.4 3-.5 3-.2 3-.1 3 .3 3 1.2 3 0 3-3.2 3-2.4 3 .3 3 1.5 3 3 3 3 3-2.2 3-7.7 3-7.6 3-2.8 3 1.3 3 .9 3-1.5 3-1 3-.5 3-2.8 3-2.6 3 1.5 3 2.6 3 .7 3 2.3 3 3.5 3 1.3 3-1.4 3-1.1 3 .5 3 1.4 3 3 3 3.9 3 1.3 3-2.8 3-4.3 3-2.8 3 .3 3 1.9 3-.5 3-4.1 3-3.4 3 1.9 3 4.8 3 2.4 3-1.8 3-3.9 3-2.4 3 .7 3 2.3 3 2 3 1.7 3 .1 3-3.4 3-4.4 3-1.4 3 1 3-.3 3-1.7 3-.4 3-.7 3-.9 3 1.3 3 .8 3-2.1 3-3.4 3-3.1 3 .3 3 3.5 3 .2 3-3.4 3-2.1 3-.4 3-.4 3 1.3 3 3.3 3 1.3 3-1.7 3-1.3 3 1.3 3 3.5 3 4.7 3 3 3-.7 3-1.7 3-.1 3 1.8 3 .7 3-1.6 3-3 3-3.7 3-2.5 3 1.5 3 3.5 3 2.4 3 .4 3 .5 3 1.9 3 .6"/>
<path d="M517 101.4l3 2.9 3 2.3 3 .5 3-1.7 3-4.5 3-4.1 3 .9 3 2.2 3-1.3 3-3.9 3-4.5 3-2.5 3 2.4 3 4.2 3 .1 3-4.5 3-2.6 3 2.5 3 2.6 3 .7 3 1.8 3 2.1 3 .8 3 .9 3 2.1 3 2 3-.7 3-1.2 3 3.8 3 5.5 3 1.1 3-1.3 3-1.9 3-4.2 3-4.2 3-1.6 3 .3 3 1.5 3 .7 3 .1 3 1.3 2 .6 1-.2 1-.4 2-1.5 2-1.9 1-.8 1-.7 2 3.9 2 14 1 9.1 1 8.8 2 11.1 2 3.3 1 .5 1 .3 2 .4 2 .5 1 .2 1 .2 1 0 1-.1 3-3 3-5.7 3-5.1 3-3.8 3-2 3 1 3 2.4 3 2.1 3 .9 3-1 3-4.2 3-5.8 3-1.8 3 4.1 3 4.1 3-1.2 3-2.8 3-.7 3 .1 3 1.5 3 1.2 3-3.5 3-6.1 3-2.8 3 1.5 3 3.6 3 3.6 3 1.9 3-.4 3-1.6 3-2.9 3-3.1 3 1.5 3 4.7 3 1.7 3-2.8 3-4.8 3-2.2 3 .9 3-.2 3-1.1 3 1.9 3 3.4 3 1.6 3-.4 3-.8 3 .5 3 .1 3-1.2 3-.9 3-1.1 3-2.1 3-2.7 3-2.6 3 .6 3 3.9 3 2.2 3-.6 3-1.5 3-.8 3-.5 3-1.3 3-2.6 3-3.4 3-2.5 3-.2 3 .6 3-.5 3-1.9 3 0 3 4 3 3.7 3-.2 3 .5 3 4.1 3 1.9 3-3.7 3-5.4 3-3.7 3-.6 3 2.6 3 2.9 3 1.1 3-1.3 3-2.6 3-.9 3 .9 3-.5 3 0 3 3.2 3 2.8 3 0 3-.8 3-.5 3 2.2 3 4.3 3 1.8 3-2.3 3-4.4 3-5.6 3-4.5 3 .7 3 5.1 3 2.7 3-3.2"/>
<path d="M517 94.4l3 2.1 3 3.2 3 3.6 3 .6 3-3.4 3-3.1 3 .7 3 4 3 4.1 3-.4 3-5.2 3-3 3 2.3 3 3.1 3 2.1 3 .5 3-1.3 3 1.2 3 2.9 3-.5 3-2.3 3-.5 3 .7 3 0 3-.1 3 1.1 3 3 3 3.8 3 2.4 3-1.1 3-4.6 3-3.5 3 .4 3 .8 3-.1 3 2.4 3 5.5 3 4.5 3-.5 3-4.5 3-3.4 2-.2 1 .4 1 .5 2 .8 2 2.2 1 3.3 1 5.1 2 13 2 11.6 1 2.9 1 1.6 1 .5 1-.4 2-2.7 1-2 1-2.4 2-4.8 2-4 1-1.5 1-1.2 2-1.9 3-2.1 3-.7 3 2 3 2.6 3-.7 3-3.6 3-2.3 3-.3 3 .3 3-.1 3-.7 3-1.2 3-1.4 3-1.2 3-1.1 3-.3 3 .7 3 1.5 3 1 3-.1 3 .2 3 .2 3-2.2 3-2.8 3 .5 3 2.5 3 3.3 3 3.1 3 .1 3-2.3 3-1.4 3-.8 3-1.9 3-2.9 3-2.1 3-.5 3-.3 3 .3 3 1.2 3 .4 3-.8 3-1 3-1.3 3-2.2 3-2.9 3-1.3 3 2.5 3 3.7 3 1.5 3-1.2 3-2.6 3 .4 3 4.2 3 2.2 3-2.5 3-.7 3 3.6 3 1.6 3-1.8 3 .1 3 2.8 3 1 3-2.2 3-2.1 3-1.4 3-1.9 3-1.9 3-1.4 3-2.6 3-3.1 3 .4 3 2.9 3 .2 3-1.9 3-.6 3 1.3 3 .9 3-3.2 3-5.4 3-3.3 3-.5 3 1.8 3 1.1 3-1.9 3-1.3 3 1.5 3 4.3 3 5.7 3 2.5 3-3.8 3-5.9 3-2.1 3 3 3 3.8 3 .7 3-3 3-3.5 3-1.1 3 .8 3 .2 3-.2 3 1.7 3 4.2 3 3.2 3-1.1"/>
<path d="M517 103.6l3 .7 3-.6 3-4.4 3-3.6 3 .6 3 2.5 3 1.2 3-.4 3-.6 3 1.5 3 2.3 3-.1 3-1 3 1.1 3 3.2 3 3.6 3 1.8 3 .4 3 1 3 .6 3-2.7 3-4.5 3-2.6 3 2.2 3 5.3 3 4.5 3 2.2 3-1.5 3-6.1 3-5.9 3-.8 3 3 3 3.8 3 2.8 3 .7 3-1 3-.1 3 1 3-.7 3-3 3-3.3 2-1.9 1-.9 1-.9 2-.9 2 8.9 1 9.5 1 11.2 2 18.6 2 7 1 1.1 1 .4 1 .1 1-.3 2-1.3 1-1 1-1.2 2-2.9 2-3.2 1-1.6 1-1.3 2-2.2 3-2.5 3-3.3 3-4.5 3-2.5 3 1.8 3 3.7 3 3.2 3 2.7 3 3.5 3 2.5 3-1.6 3-4.6 3-6.6 3-6.4 3-2.8 3-.5 3 .5 3 1 3 .4 3-1.2 3-3.3 3-2.9 3-.4 3 1.5 3 2.4 3 2.2 3-.8 3-5 3-4.8 3 .1 3 4.3 3 5.3 3 4.1 3 1.1 3-2.7 3-4.6 3-2.7 3-1.2 3-2.5 3-3.4 3-2.7 3-1.8 3 .7 3 3.2 3 1.1 3-1 3 .5 3 .6 3-1.7 3-2.3 3-.8 3-.1 3-.9 3-.9 3 1.1 3 3.4 3 2.7 3 .5 3 .1 3 .9 3 .1 3-2.5 3-2.7 3 1.4 3 4.3 3 1.8 3-1.2 3-.2 3 .6 3-1.8 3-4.4 3-3.9 3-3 3-1.3 3 2.4 3 4.1 3 3 3 2.5 3 .5 3-1.8 3-1.4 3-.1 3 .3 3 1 3 .4 3-1.7 3-3.6 3-4.6 3-2.8 3 .7 3 .2 3-2.4 3-2.1 3 .4 3 1.2 3-.4 3-.8 3 1.3 3 2.5 3 2.6 3 2.2 3 1.6 3 .6 3-.1 3 .9"/>
<path d="M517 104.1l3 .1 3 .1 3-.4 3 .5 3 1.6 3 .8 3-1.5 3-3.3 3-4.1 3-2.1 3 2.1 3 2.6 3-.4 3 .9 3 4.4 3 3.1 3 .1 3-.9 3-1.2 3-1.1 3-1.4 3-1.2 3-.2 3-.3 3-.6 3 1.5 3 5.1 3 5.7 3 .6 3-4.1 3-2.6 3 0 3-.9 3-.3 3 2.9 3 3.7 3 .6 3-.9 3 .1 3-1.7 3-6 2-4.7 1-1.9 1-1.5 2-1.5 2-.2 1 .3 1 1.8 2 12.6 2 22.4 1 11.1 1 8.7 2 7.4 1 .7 1-.4 1-1.2 1-1.6 2-3.5 2-2.6 1-.6 1-.4 2-.6 3-2.1 3-4 3-4.9 3-5.3 3-3.1 3 .6 3 3 3 4.2 3 3.4 3-.7 3-5.1 3-5.8 3-3.3 3-1 3-.2 3 .7 3 1.4 3 .5 3-2.1 3-3.4 3-2.5 3-2 3-2.2 3 .5 3 4.1 3 2.4 3-2.5 3-4.6 3-3.8 3-1.6 3 .4 3 1.6 3 1.3 3-.9 3-2.3 3-.1 3 3.5 3 4.3 3 1.3 3-3.4 3-5.1 3-2.6 3-.1 3 2.2 3 3.9 3 3.6 3 2.1 3 .3 3 0 3 2 3 2.4 3-2.5 3-7.4 3-6.4 3-2.7 3-1.8 3-.1 3 4.3 3 6.9 3 5.2 3 1.2 3-2.4 3-3.2 3-1.3 3 .7 3 1.9 3 1.7 3 1.3 3 1.2 3 .5 3-.7 3-2.4 3-4 3-2.8 3-.2 3 .8 3 .2 3-.8 3-.2 3 1 3 1.1 3 .3 3-1.1 3-1 3-.1 3-1.1 3-2.7 3-2.2 3-.5 3-.3 3-.6 3 1.1 3 3.9 3 4.8 3 2.7 3-1.7 3-4 3-.9 3 3.3 3 2.6 3 .7 3 1 3 .7 3-.6 3-2.7"/>
<path d="M517 101.3l3-2.7 3-2.6 3 .5 3 4.5 3 3.6 3-.4 3-1.3 3-.6 3-.8 3-1.6 3-2.1 3-.3 3 1.5 3-1.1 3-2.5 3-1 3-.5 3 .7 3 3.6 3 4.6 3 3 3 .4 3-2.7 3-5.4 3-5.1 3-1.9 3 .8 3 3.6 3 4.9 3 1.9 3-2.2 3-1.3 3 3.3 3 5.7 3 4.4 3 1.8 3 .7 3 .6 3-1.5 3-4.4 3-3.8 2-.9 1-.2 1 0 2-.4 2-.3 1 2.5 1 5 2 16.4 2 18.2 1 6.7 1 4.7 2 5.1 2 1.1 1-.5 1-1 2-3 2-3.6 1-1.9 1-1.8 2-2.6 3-.2 3 2.8 3 1.3 3-1.9 3-4.4 3-4.1 3-.5 3 1.8 3 .9 3-.9 3-1.7 3-1.4 3-2.2 3-3.9 3-3.8 3-.4 3 2 3 .1 3-2.4 3-3.1 3-3.4 3-1.4 3 2.9 3 3.9 3-.9 3-4.5 3-3.2 3-.3 3 1.1 3 1.2 3-1.5 3-5 3-3.7 3 1.3 3 3.7 3 2 3-1 3-3.1 3-3 3-1.1 3 1.4 3 1.3 3-.9 3-.7 3 1.5 3 2.5 3 3.1 3 2.6 3 .4 3-2.7 3-4.3 3-1.9 3 1.1 3 2.2 3 3.1 3-.2 3-6.5 3-6 3-1.2 3 1.3 3 1.3 3 1.3 3 1.3 3-.4 3-2.5 3-.6 3 2.4 3 .9 3-1.2 3-1 3 1.1 3 4.4 3 5.9 3 2.7 3-1.9 3-1.8 3 2.2 3 1.5 3-3.7 3-5.9 3-4.2 3-1.1 3 2.1 3 1.3 3-3.4 3-4.2 3-1.5 3-2 3-2.1 3 3.2 3 7 3 5.9 3 2.4 3-2 3-5 3-3.2 3 .5 3 1.3 3-1.6 3-4 3-1.9 3 1.1 3 1.1 3 2.1 3 3"/>
<path d="M517 119.8l3 1.5 3-1.2 3-3.2 3-3.1 3-2.6 3-1.5 3-.6 3-1.5 3-3.9 3-2.8 3 4.8 3 7.1 3-1.4 3-6 3-2.2 3-.7 3-1.8 3 .5 3 3.3 3 1.4 3-2.8 3-3.8 3-.8 3 1.1 3-.5 3-1.1 3 1.4 3 2.2 3 .6 3 1.1 3 4.1 3 5.5 3 1.8 3-4.1 3-4.3 3-1 3-.3 3-.9 3-.7 3 .1 3-.6 2-1.7 1-1.4 1-1.4 2-2.3 2-.7 1 .7 1 2.6 2 11.9 2 17.6 1 8.6 1 7.5 2 7.1 2 1.5 1 .1 1 0 2-.1 2-.8 1-.5 1-.8 2-1.7 3-2.5 3 .4 3 3.1 3 1.5 3-4.7 3-10.4 3-8.5 3-.6 3 3.1 3 0 3-3.1 3-2.6 3-.3 3 .7 3 .2 3 3.2 3 8.3 3 8.2 3 3.1 3-2.6 3-6.2 3-4.9 3-1.3 3 .7 3 .3 3-.1 3 .9 3 1.3 3-.9 3-3.6 3-3.2 3-1.7 3-3.1 3-4.1 3-1.7 3 0 3-1.4 3-1.9 3 .4 3 1.8 3 .1 3-.6 3 3 3 4.8 3 1.5 3-2.6 3-5.1 3-5.1 3-1.7 3 2.7 3 4 3 2.3 3 2.4 3 3.8 3 1.9 3-2.1 3-4.7 3-3 3 .9 3 1.7 3 .5 3-1 3-3 3-3.6 3-1.6 3 .3 3 1 3 1.8 3 2 3 .9 3-1.8 3-1.9 3 2.3 3 3.4 3-1.2 3-3.5 3-.6 3-1 3-3.4 3-.6 3 1.5 3-1.5 3-2.2 3 1.8 3 3.4 3 .1 3-1.4 3 1.6 3 2.5 3 .7 3 .3 3-.4 3-2.2 3-3.9 3-3.1 3 .2 3 2.9 3 3.6 3 1.6 3 .2 3 .3 3-.4 3-.9 3-.6 3-1.7"/>
<path d="M517 109.8l3-2.4 3 0 3-1.1 3-2.7 3-1.1 3 .1 3-.5 3-.6 3-.2 3 .6 3 .2 3-2.5 3-3 3 1.4 3 5.6 3 5.2 3 .9 3-2 3-1.2 3 1.2 3 1.8 3 .7 3-1.5 3-2.2 3-1.8 3-.6 3 2.4 3 4.6 3 3 3 .5 3-.2 3 0 3-1.1 3-3 3-3.5 3-1.5 3 1 3 1.7 3-.6 3-2.6 3-1.7 2 .4 1 .9 1 1.2 2 3.7 2 4.1 1 3.5 1 7.6 2 24.9 2 18.4 1 2.1 1-.5 2-3 2-1.3 1 .3 1 .5 2 .6 2-2 1-2.1 1-2.8 2-6.1 3-7.3 3-3.5 3-1.2 3 .4 3 1.5 3 .7 3-1.1 3-2.9 3-4.8 3-6.1 3-6.4 3-4 3 .7 3 4.2 3 3.9 3 1.3 3-.5 3-.5 3-.1 3-1.2 3-2.3 3-.6 3 1.7 3 2.1 3 1.3 3 1.4 3 1.9 3-.1 3-3.8 3-4.6 3-1.1 3 2.1 3 1.6 3 .5 3 .7 3 .3 3-2.1 3-4.7 3-4.9 3-2.9 3-.4 3 1.4 3 2.7 3 2.6 3 .8 3 1.6 3 3.7 3 3.6 3 1.6 3-.7 3-1.6 3-2.3 3-3.1 3-.9 3 2.2 3 2.8 3 1.5 3-1.3 3-4.4 3-5.2 3-3 3-.3 3-.5 3-1.4 3 .5 3 2.8 3 2.4 3 .5 3 0 3 2.2 3 2.6 3-1.2 3-3 3-.2 3 3.2 3 3.4 3 2 3 0 3-3.1 3-6.4 3-6.3 3-2.5 3 2.9 3 5.6 3 3.1 3-1.6 3-4.6 3-4.4 3-.8 3 2.5 3 2.4 3 2.1 3 3.9 3 4.7 3 2.2 3-2.8 3-5.6 3-1.5 3 3.8 3 3 3 .3 3 .5 3 .5 3-2.3 3-2.5"/>
<path d="M517 100.3l3 .3 3 4.7 3 6.1 3 .6 3-4.8 3-3.4 3 2.7 3 6.3 3 2.3 3-5 3-8.6 3-6.7 3-2.8 3 1.1 3 3.8 3 3.9 3 3.3 3 3.7 3 3.6 3 .2 3-4.2 3-5.2 3-1.8 3 2.6 3 3.1 3-.8 3-3 3-1.4 3 1.8 3 4.5 3 5.2 3 4.2 3 .4 3-3.6 3-3.1 3 .2 3 1.8 3-.4 3-3.9 3-4.2 3-.8 2 .9 1 .6 1 .6 2 .9 2 1.9 1 3.4 1 5.8 2 18 2 19.6 1 7.5 1 4.3 2 2.3 2-1.5 1-1 1-1.1 2-2.1 2-2.2 1-1 1-.9 2-.9 3-.2 3-.7 3-2.8 3-5.1 3-6.1 3-5.6 3-4.3 3-2 3 .7 3 1.8 3 1 3-.3 3-.7 3 .1 3 0 3-2.2 3-2.7 3 1.3 3 4.7 3 1 3-4.5 3-5.4 3-3.3 3-1.2 3-.8 3-2 3-3.3 3-3.3 3-.1 3 3.4 3 2.7 3-.2 3-.1 3 2.8 3 3.6 3 .7 3-1.8 3-1.5 3-.6 3-.6 3-1.3 3-2.7 3-2.8 3 .4 3 3.5 3 2.9 3 .2 3 .1 3 2.3 3 2.9 3 .5 3-1.2 3 .1 3 1.8 3 1.3 3-1.3 3-4.8 3-5.4 3-2.3 3-.7 3-.4 3 .4 3-.7 3-1.4 3 1.2 3 3.2 3 2.4 3-.8 3-2.6 3-1.6 3 .4 3 1.3 3 .5 3-1.2 3-1.9 3-1.1 3 0 3 .4 3-.8 3-2.4 3-1.4 3 0 3 .1 3 1.1 3 .9 3-1.5 3-3.2 3-3.1 3-1 3 2.5 3 3.6 3 1.6 3 1.9 3 4.7 3 3.6 3-1.2 3-3.3 3-2.6 3-2.7 3-2.9 3-.9 3 2.2 3 1.7 3-2.8 3-4.3"/>
<path d="M517 108.7l3-3.5 3-2.5 3-2.1 3-1 3-.5 3-.1 3 1.3 3 1.5 3-.5 3-3.8 3-4.1 3-1.7 3-.3 3-.4 3-.5 3 1 3 3.2 3 5 3 4.9 3 2.3 3-1.5 3-2.7 3-.4 3 .7 3 0 3 1.1 3 2.4 3 1.4 3 .2 3 1.1 3 1.3 3 .3 3 1.5 3 1.4 3-1.5 3-2.3 3-.9 3-.7 3-2.2 3-1.6 3 1.2 2 1 1 .1 1-.3 2-.9 2 10 1 11.8 1 13.3 2 17.2 2 1.5 1-1.2 1-1.1 2-1.4 2-1 1-.7 1-1 2-2.4 2-2.1 1-.8 1-.5 2-.4 3 1 3 3.9 3 7 3 5.1 1 .2 2-2.2 3-7.9 3-8 3-3.8 3 0 3 .3 3-1 3-3 3-4.1 3-2.6 3 .9 3 1.1 3-2.5 3-2.8 3 .1 3 .6 3-.7 3-.3 3 2 3 .9 3-2.6 3-4.2 3-4 3-.3 3 5.1 3 7 3 5.3 3 1.8 3-1.1 3-1.7 3-3.2 3-5.3 3-4.7 3-1.6 3 .7 3-.3 3-.8 3 1.1 3 2.8 3 2.1 3-1 3-4.2 3-5.1 3-2.8 3 .3 3 1 3-.6 3-.5 3 1.8 3 2.3 3 .2 3-1.7 3-2 3-.2 3 3.4 3 5.8 3 3.7 3-3 3-7.8 3-5 3 1.6 3 4.6 3 2.7 3 .1 3-1.6 3-2.9 3-4 3-3.3 3 .4 3 4.4 3 5.5 3 3.9 3 1.7 3-1 3-3.6 3-3.5 3-1.4 3-1.4 3-4 3-5.9 3-4.1 3 .7 3 4.3 3 5.1 3 4.6 3 4.5 3 3.4 3 .1 3-2.5 3-1.4 3 .5 3 .1 3 .2 3 2.2 3 1.4 3-2.3 3-2.2 3 1.5 3 1.4 3-2.8 3-5.2"/>
<path d="M517 113l3-4.3 3-2.8 3-1.8 3-2.4 3-2.5 3-1 3 2 3 4.9 3 3.2 3-1.8 3-2.9 3 0 3 .6 3-.3 3 .9 3 2.4 3 2.6 3 2.5 3 2.2 3 .4 3-2.2 3-3.4 3-1.3 3 1.5 3 1.3 3-.7 3-2.2 3-4 3-5.4 3-2.8 3 .7 3 0 3-2.4 3-.5 3 3.9 3 4.1 3-.3 3-1.5 3 .7 3 2.8 3 3.3 2 1 1-.1 1-.5 2-1.7 2-1.7 1 1.2 1 6.8 2 29.2 2 24.9 1 4.6 1 1.4 2-.6 2-2 1-1.2 1-1.3 2-2.7 2-2.3 1-.8 1-.5 2-.3 3 .8 3 .5 3-.4 3-.3 3 .3 3 .6 3 .1 3-1.6 3-5.3 3-8.8 3-7.9 3-3.6 3 .6 3 3.3 3 4.6 3 3 3-1.8 3-4.7 3-3.1 3-1.7 3-2.8 3-2.2 3 .6 3 1.4 3 .5 3 1.5 3 2.3 3-.4 3-4 3-4 3-1.7 3-.2 3 .5 3 1.7 3 .5 3-4 3-5 3-.1 3 5.2 3 6.1 3 2 3-2.1 3-2.5 3-2.1 3-1.1 3 1 3 .8 3-.6 3-.9 3-1.6 3-3.1 3-3.1 3-2.1 3-1.3 3-.2 3 1.3 3 3.2 3 3.4 3 1.4 3-1.5 3-2.9 3-1.6 3-.7 3-2.5 3-2.5 3 1.4 3 4.2 3 2.1 3-.8 3 .2 3 1.9 3 1.8 3 .3 3-2.1 3-3 3-.7 3 2 3 1.9 3-.6 3-1.9 3-2.4 3-2.3 3-1.2 3-1.5 3-1.4 3 .4 3 1.3 3 1.5 3 .9 3-2.8 3-4.9 3-1.1 3 4.4 3 5 3 2 3-.2 3-1.7 3-2.8 3-1.9 3-1.2 3-1.6 3-1 3-1.4 3-1.4 3 1.8"/>
<path d="M517 102.3l3-3.4 3-2.1 3-.6 3 .9 3 3.5 3 4.7 3 3.6 3 2.4 3 .9 3-1.9 3-3.5 3-3.1 3-3.1 3-4.1 3-3.1 3 .9 3 5.5 3 6 3 1.9 3-.7 3-.6 3-.5 3-1.4 3-1.5 3-1.1 3-1.2 3-.8 3 .2 3 1.8 3 4.1 3 4.9 3 3.6 3 1 3-1.9 3-4.1 3-5.5 3-4.3 3-.3 3-.4 3-2.6 3-2 2-.1 1 .5 1 .9 2 2.6 2 2.6 1 2.4 1 4.2 2 14 2 18 1 8.2 1 6.6 2 7.1 2 2.1 1 .1 1-.3 2-.9 2-1.1 1-.4 1-.2 2 .5 3 2 2 .8 1-.2 3-2.2 3-3.7 3-3.9 3-1.7 3 2.7 3 3 3-.2 3-1.8 3-1 3 0 3-.3 3-1.3 3-.6 3 .3 3-1.3 3-3 3-1.4 3 1.3 3 .4 3-4.5 3-6.3 3-2.2 3 0 3-1.8 3-3 3-.9 3 2.1 3 2.8 3 .4 3-3.2 3-3.5 3 1 3 3.6 3 0 3-3.9 3-3 3 .7 3 1.9 3-.5 3-2.2 3-.3 3 .8 3-.8 3-1.2 3 1.2 3 3.2 3 2.7 3-1.8 3-5.2 3-4.9 3-3.1 3-.7 3-.6 3-1.8 3-1.2 3 2.3 3 7 3 6.8 3 1.7 3-1.1 3-1.2 3-1.2 3-.3 3-.7 3-2.7 3-2.6 3-.2 3 1.9 3 2.5 3-1.5 3-7.8 3-7.3 3 .4 3 3 3-.5 3-.9 3 2 3 2.5 3 1.8 3 1.5 3 .7 3-3 3-5.1 3-1.9 3 2.5 3 3.9 3 1.7 3-1.9 3-2.3 3 .3 3-.4 3-2.4 3-2.7 3-1.6 3 2.3 3 4.7 3 3 3 1.8 3 .2 3-3.2 3-3 3 1.5 3 4.3"/>
<path d="M517 98.8l3 1.3 3 .9 3 2.3 3 4.6 3 4.2 3-.2 3-5 3-6 3-2.2 3 2.2 3 2.9 3 1.6 3 1.6 3 1.6 3 .8 3 .1 3-.7 3 .2 3 2 3 .4 3-4.1 3-5.8 3-2.8 3 .1 3 2.8 3 6.2 3 7.2 3 5.2 3 .8 3-4.5 3-4.6 3-1 3 .2 3-1 3-1.6 3-2.8 3-3.5 3-1.6 3 .9 3 1.4 3 .3 2-.8 1-.7 1-1.1 2-2.5 2 4 1 6.9 1 9.8 2 23.3 2 18 1 4.4 1 2.3 2 1 2-1.6 1-1.2 1-1.4 2-2.8 2-2.4 1-.9 1-.9 2-1.7 3-2.1 3-.8 3-1.1 3-3.6 3-2.4 3 3.7 3 4.5 3-1.8 3-5.1 3-2.1 3 1.9 3 3 3 1.1 3-3.8 3-5.6 3-1.8 3 2.2 3 2.9 3 2.7 3 2 3-1.4 3-2.9 3 .6 3 2.4 3 .5 3-.4 3-.9 3-2.9 3-3.5 3-.7 3 0 3-2.2 3-2.4 3-1.6 3-2.3 3-2.4 3-.5 3 1.8 3 1.8 3-2.1 3-5.4 3-2.8 3 2.3 3 5.6 3 6.9 3 4.7 3-.5 3-2.2 3-.6 3-.7 3-2.8 3-3.8 3-3.9 3-2.9 3 0 3 1.4 3-1 3-3.3 3-2.6 3-.1 3 1.1 3-.5 3-1.6 3-.9 3-.9 3-1.3 3 1.4 3 3.9 3 1.7 3 .3 3 1 3 0 3-.9 3-.5 3-.3 3-.6 3-1.1 3-.9 3 .6 3 .6 3-1.3 3-1.5 3 1.6 3 2.9 3-.7 3-4.4 3-4 3-2.5 3-1 3 2.6 3 5.3 3 3.6 3-.7 3-3 3-.6 3 1.8 3-1.6 3-7.6 3-7.5 3-1.1 3 2.6 3 1.1 3 0 3 .2 3 1.7"/>
<path d="M517 99.5l3-2.4 3 .5 3 2.5 3 1.8 3-1.1 3-3.1 3-2.6 3 .1 3 4 3 5.8 3 4.4 3 3.5 3 2.2 3-.8 3-3.4 3-3.2 3-1 3 .8 3 .2 3-1.3 3-1.7 3-.9 3 .1 3-.9 3-1.5 3 .8 3 1.3 3-.1 3 0 3 .7 3 .6 3-1.2 3-3.9 3-2 3 3.5 3 4.7 3 2.8 3 2 3-.8 3-5.6 3-5.7 2-.7 1 .8 1 1.3 2 4.2 2 10.5 1 8.2 1 9.8 2 20.8 2 16.8 1 4.3 1 2.7 2 1.8 1 .1 1-.2 1-.2 1-.3 2-.5 2-1.1 1-1 1-1.4 2-4.1 3-9.3 3-8.4 3-2.4 3 .9 3-2.9 3-4.4 3 .6 3 3 3 .4 3-2.6 3-4.5 3-4.6 3-3.6 3-2.4 3-1.6 3-.3 3 1.9 3 3.2 3 .4 3-3.6 3-3.9 3-2.5 3-2.7 3-1.6 3 1.2 3 3.9 3 4.6 3 3.1 3 1.1 3-2.3 3-5.2 3-5.1 3-1.9 3 3.2 3 5.8 3 3.3 3 .1 3 1.4 3 3.8 3 2.1 3-1.2 3-2.8 3-3.5 3-3.9 3-4.3 3-4.7 3-2.3 3 2.7 3 4.2 3 1.1 3-2 3-1.8 3-.5 3-2 3-5.7 3-6.8 3-2.8 3 1.8 3 2.2 3 .7 3 .9 3 2.6 3 5.2 3 4.9 3-.3 3-4.9 3-4.2 3-.4 3 1.3 3 0 3 0 3 1.4 3 1.5 3 2.1 3 3.3 3 1.4 3-3.1 3-4.6 3-1.1 3 2.5 3 1.3 3-4 3-5.4 3-1.2 3 .4 3-1 3 0 3 2.1 3 2.7 3 1.8 3 .7 3 .9 3 2.3 3 1 3-3.4 3-5.2 3-2.7 3 1 3 2.2 3 .4 3-.4 3 1.2 3 2.2 3 1.6 3 .3"/>
<path d="M517 115l3-1.6 3-3.3 3-2.6 3-.8 3-1 3-1.2 3-.1 3 0 3 1.1 3 5.5 3 7.1 3 3 3-1.7 3-4.3 3-5 3-2.5 3 1.9 3 2.1 3-1.1 3-3.4 3-4.3 3-2.5 3 1.4 3 2.6 3 1 3 1.1 3 2.1 3-.3 3-4.8 3-3.9 3 0 3-.6 3-3.8 3-3.3 3 1.6 3 6.6 3 6.9 3 4 3 2.2 3 1.6 3-.9 2-2.1 1-1.4 1-1.4 2-1.6 2 8.4 1 8.9 1 11 2 21.4 2 11.4 1 1.8 1 .2 2-.8 2-.2 1 .1 1 .2 2 .2 2 .3 1 .3 1 .5 2 1.3 2 .8 1-.2 3-3.4 3-5.4 3-2.5 3-.2 3-1.7 3-3 3-2.3 3 1.3 3 5.5 3 4 3-3.3 3-8.5 3-7 3-1.9 3 .9 3 .7 3-.1 3-.9 3-.7 3-.5 3-.9 3-2.6 3-3 3-1.9 3-1.9 3-1.7 3 1.8 3 4.2 3 1.4 3-2.7 3-1.8 3 .7 3-1 3-2.4 3-1.3 3-1.4 3-1.7 3-2.5 3-4.2 3-3.5 3-1.3 3-.1 3 .9 3 2.9 3 2.9 3-1.7 3-5.6 3-2.3 3 3.7 3 3.9 3-.9 3-3.5 3-1.9 3-1.1 3-1.7 3-1 3 .7 3 .5 3-2.2 3-1.6 3 3.1 3 4.8 3 2.7 3 .6 3-.6 3 .5 3 2.1 3-.5 3-4.4 3-4.8 3-4.3 3-2.7 3 .9 3 3.9 3 3.7 3 1 3-1.5 3-3.6 3-3.8 3 1.3 3 5.2 3 3.6 3 1.1 3 .3 3 1.1 3 .8 3-1.2 3-1.5 3-.1 3 1.2 3 1.1 3 .3 3 .7 3 .8 3-.7 3-1.5 3 .1 3 1.8 3 .1 3-3.6 3-4.1 3-1.7 3-1.5 3-4"/>
<path d="M517 103.4l3 1.3 3 2.2 3-.3 3-3.6 3-4.1 3-1.3 3 3.8 3 5.2 3 1.8 3 .1 3 0 3-.6 3-.5 3-1 3-1.8 3-.5 3-.1 3-1.3 3-1.2 3-.5 3-1.4 3 .4 3 5.1 3 4.1 3-2.2 3-4.4 3-2 3 .6 3 1.5 3 1.9 3 2.4 3 .5 3-3 3-5.7 3-4.6 3 .2 3 3.2 3 2.6 3-.6 3-3.6 3-2.1 2 1.2 1 1.4 1 1.7 2 10 2 24.2 1 15.1 1 14.2 2 17.4 1 2 1-.7 1-2.2 1-2.9 2-6.1 2-5 1-1.9 1-1.5 2-2.5 2-1.8 1-.6 1-.6 2-1.2 3-2.3 3-1.2 3 1.8 3 1.2 3-2.7 3-5.5 3-6.2 3-5.2 3-2.4 3 .3 3-.4 3-2.9 3-3.3 3-1.4 3-.7 3-1.3 3-1.5 3-1.3 3-1.2 3-1.5 3-1.8 3-.9 3 1 3 3 3 2.8 3-.5 3-2.5 3 .3 3 2.7 3 .4 3-1.4 3 .2 3 1.5 3 .4 3-.5 3-.3 3-1.9 3-3.6 3-2.1 3-.4 3-.3 3-.9 3-2.6 3-3.9 3-1.2 3 3.5 3 4.2 3 2.3 3 1.9 3 1 3-3 3-4.9 3-1.3 3 2.3 3 1.1 3-1.8 3-1.8 3 .3 3 2.7 3 3.8 3 1.8 3-1 3-4.6 3-7.1 3-4.9 3 .1 3 2.9 3 3.3 3 2.8 3 1.7 3-.1 3-1.4 3-2 3-1.4 3 .3 3 1.4 3 2.6 3 2.9 3 .5 3-2.6 3-2.3 3 .4 3 .8 3 0 3 .7 3 .8 3 .6 3 .5 3-.5 3-.6 3 .4 3-.3 3-1.4 3-1.1 3 0 3 .6 3-.1 3-3.6 3-5.1 3-.7 3 4.5 3 4.2 3 1.8 3 2.3 3 3.2"/>
<path d="M517 108.2l3 3.6 3 .4 3-4.1 3-4.1 3-2.2 3-1.3 3-.4 3-.5 3 .1 3 .8 3 .5 3 1.7 3 4.2 3 4 3-.4 3-5.3 3-4.9 3 .7 3 3.5 3-.1 3-2.2 3 1.3 3 6 3 5.8 3 .7 3-3.1 3-1.8 3-.2 3-2.3 3-3.2 3 .4 3 2.3 3-.7 3-1.8 3 1.7 3 3.6 3 1.4 3-.1 3 .1 3-.6 3-1.1 2-.4 1 .2 1 .4 2 3.6 2 27.4 1 18.8 1 14.4 2 6.6 2-3.4 1-1.5 1-1.2 2-1.8 2-1.9 1-1.1 1-1 2-2.3 2-3 1-1.9 1-2 2-4 3-3.6 3 1.1 3 2.9 3-.2 3-4.8 3-7 3-5.5 3-2.3 3-.7 3-.7 3-1.7 3-1.7 3 1.3 3 2.2 3-.2 3-.9 3 .9 3 .3 3-1.1 3-.4 3-.3 3-1.2 3 1.9 3 5.3 3 2.9 3 .2 3-1.7 3-6 3-8.2 3-5 3-2.6 3-3.2 3-3.5 3-2 3 2.1 3 6.4 3 4.8 3-2.1 3-4.2 3 0 3 1.3 3-.1 3 .7 3 2.5 3 2 3-.4 3-3 3-4.4 3-1.1 3 4 3 3.7 3-1 3-2.1 3 .3 3 0 3-3.6 3-6.7 3-4.7 3 2.1 3 6.3 3 3.9 3 .2 3-2.1 3-2.9 3-.4 3 2.9 3 .9 3-3.3 3-3.4 3-2.3 3-.9 3 1 3-.1 3-1.8 3 .4 3 4.6 3 3 3-2.7 3-2.6 3 1.5 3 1 3-1.7 3-1.3 3 1.9 3 4.7 3 4.8 3 2.2 3-.6 3-2.2 3-2.5 3-.4 3 .1 3-1.7 3-2 3 1 3 2.3 3-.6 3-3.2 3-.6 3 2.6 3 .8 3-2.2 3-.1 3 3.5 3 3.6"/>
<path d="M517 118.1l3-.8 3-.8 3 .3 3 1 3-.6 3-4 3-5 3-2.9 3-.6 3 .1 3-1.4 3-2.3 3-1.2 3 .1 3 .9 3 2.1 3 3.8 3 3.1 3 .1 3-1.3 3 .2 3 1.2 3 1.5 3 .6 3-1.3 3-.2 3 1.2 3 .3 3 .7 3 1.3 3-1.4 3-2.7 3-.7 3-1.1 3-4 3-3.8 3 1 3 5.1 3 4.6 3 .6 3-2.6 2-2.1 1-1 1-.5 2 7.5 2 21.3 1 12.9 1 12 2 13.6 2 2.6 1 .1 1-.2 2-.6 2-1.1 1-.9 1-.9 2-2.5 2-3.1 1-2 1-2.1 2-4.9 3-7.4 3-6 3-4.4 3-1.8 3 .3 3-1.1 3-3.5 3-3.4 3-3 3-2.6 3 0 3 1.4 3-1.5 3-4.1 3-3.5 3-1 3 .3 3 1.2 3 2.5 3-.1 3-5.2 3-6.5 3-3.9 3-.9 3 .9 3 2.6 3 4 3 4.1 3 1 3-1.6 3 1.6 3 6.2 3 4.8 3-.8 3-2.9 3-2.1 3-1.4 3-1.8 3-3.1 3-3.8 3-4.7 3-5.1 3-2.8 3 .3 3 3.6 3 6.9 3 4.6 3-1.6 3-3.9 3-1.1 3 1.8 3 2.5 3 2.1 3 .3 3-1.8 3-.8 3 3.1 3 4.7 3 2.4 3 0 3 .9 3 2.1 3-.4 3-3.7 3-4.3 3-3.1 3-1.8 3-.8 3-.9 3-.7 3 .4 3 1.1 3-.6 3-1.6 3-.2 3 .6 3 1.8 3 1.6 3-.5 3 .3 3 3 3 2.6 3 2.3 3 3.9 3 1.8 3-2.7 3-3.4 3-1.7 3-.7 3-.5 3-.7 3-1.7 3-1.5 3 .2 3 1.4 3 .2 3-.9 3 .4 3 1.1 3-.1 3-.9 3-.8 3-1 3-.7 3-.2"/>
<path d="M517 109.7l3 0 3-2 3-.8 3 .3 3-.4 3-1 3-1.3 3-2.3 3-2.6 3-1.4 3 1 3 3 3 3.2 3 2.1 3 1 3-.2 3-1.1 3-.6 3-1 3-1.7 3-.9 3-.6 3-.8 3-.1 3 1.8 3 2 3-.3 3-1 3 .3 3 .4 3-.4 3 1.7 3 3.5 3 1.8 3-1.3 3-2.4 3-1.3 3 .5 3 2.7 3 3.5 3 1.4 2-.9 1-.7 1-.7 2 .5 2 9.6 1 9 1 10.8 2 22.1 2 14.1 1 2.2 1 0 2-3.3 2-4.5 1-2 1-1.8 2-3.3 2-3 1-1.2 1-.8 2 .1 3 4 3 2.7 3-2 3-2 3 1.1 3 1.8 3-.4 3-2.4 3-2.3 3-.9 3-.7 3-.9 3 .7 3 2 3-2.3 3-8.3 3-8.2 3-4 3-1.5 3-.5 3 2 3 3.6 3 2.7 3 .3 3-2.7 3-3.8 3-2.2 3-.1 3 .2 3 .4 3 .5 3 .6 3 1.2 3 .3 3-3.3 3-5.2 3-3.5 3-1.5 3-.2 3 1 3 1.2 3 .9 3 .5 3 0 3 .3 3 .9 3 0 3-2 3-.4 3 2.7 3 3.3 3 2 3-.6 3-4 3-5.2 3-3.3 3-.6 3-.4 3-2 3-2.7 3-1.2 3 1.6 3 1.8 3-.2 3-.6 3 1.2 3 1.2 3-.6 3-1 3 1 3 3.2 3 1.5 3-3.1 3-4.4 3-1.4 3 1 3 1.2 3 1 3 1.1 3 1.1 3-.2 3-1.8 3-3.1 3-4.8 3-4.7 3-1.7 3 1.3 3 .9 3-1 3-1.1 3 1 3 2.1 3 2.7 3 5.1 3 6.2 3 2.8 3-2.2 3-5.1 3-4.8 3-1.5 3 1.4 3 .4 3-1.7 3-1.2 3 1.1"/>
<path d="M517 106.9l3 1.5 3 .3 3-1.3 3 0 3 1.1 3-1.6 3-4.9 3-2.3 3 2 3 1.1 3-1.9 3-1.1 3 .7 3 .4 3-.2 3 .2 3 1.5 3 1.6 3 .8 3 2.4 3 5.1 3 2.4 3-4.3 3-7.1 3-4 3 .1 3 3 3 4.6 3 3.9 3 1 3-1.1 3-.6 3 0 3 .1 3 1.1 3 .7 3-.9 3-.2 3-.4 3-3.5 3-1.3 2 2.7 1 1.8 1 1.8 2 1.8 2-1 1-1.4 1-1.2 2 6.4 2 22.7 1 14.1 1 12.8 2 14.6 1 2.1 1-.1 1-1.1 1-1.6 2-3.4 2-2.5 1-.7 1-.2 2 .7 3 1.9 3 1.3 3 1.8 3 1.3 3-.8 3-3.3 3-4.1 3-2.3 3-2.3 3-5.3 3-6.4 3-2.6 3 2.2 3 2 3-3.4 3-6.9 3-3.4 3 2.8 3 5.4 3 3.1 3-1.9 3-3.8 3-.9 3 1.5 3 1.6 3 1.2 3-1.1 3-4.6 3-4.6 3-1.4 3 .9 3 2.1 3 2.3 3 1 3 0 3-.4 3-1 3-.6 3-.4 3-2.7 3-2 3 1.3 3 0 3-5 3-8 3-5.2 3 1.4 3 5.5 3 3.7 3 .3 3 1.7 3 4.9 3 1.5 3-4.2 3-3.5 3 1.5 3 1.9 3-2.6 3-2.5 3 1.8 3 1.7 3-2.3 3-2.4 3 .1 3 .7 3 1.8 3 2 3-1.9 3-5.7 3-4.8 3-1.6 3 .7 3 2 3 3.2 3 4.2 3 1.8 3-1.7 3-2.3 3-2.6 3-4.6 3-5.6 3-3 3 1.9 3 4 3 .5 3-4.6 3-4.6 3 1.2 3 5 3 3.7 3 1.9 3 .7 3-1.8 3-2.6 3 .9 3 4.1 3 2.1 3-2.5 3-4.2 3-2.8 3-.3 3 2.7 3 3.3 3 2.6 3 2.7"/>
<path d="M517 114.7l3-2.2 3-2.2 3-1.7 3-1 3-2.1 3-4.6 3-3 3 2.6 3 5.5 3 2.7 3 0 3 1.4 3 1.2 3-2.8 3-3.8 3-.7 3 .4 3-.2 3 1 3 1.1 3-1.2 3-1.1 3 2.2 3 2.9 3 .3 3-2.7 3-3 3-.2 3 2.4 3 2.7 3 .8 3-1.6 3-2.2 3-1 3-.9 3-1.5 3 .4 3 3.4 3 4.2 3 2.1 3-1.4 2-1.7 1-.5 1-.2 2 1 2 2.6 1 2.2 1 4.1 2 15.1 2 21.6 1 10.8 1 9.6 2 11.6 1 1.7 1-.1 1-1.3 1-1.8 2-3.8 2-3.3 1-1.4 1-1.3 2-2.1 3-.7 3 .8 3-1.7 3-2.6 3-.3 3-1.3 3-4.6 3-3.4 3 2.2 3 4.2 3 .2 3-3.8 3-3.8 3-1.7 3-1.4 3-4.2 3-6 3-3.1 3 1.5 3 3.4 3 1.4 3-1 3 .5 3 3 3 1.2 3-2 3-1.8 3-1.3 3-4.1 3-4.3 3-1.3 3-1.6 3-3.3 3-1.5 3-.2 3-1.9 3-2.8 3 1.2 3 4 3 1 3-3.4 3-2.8 3 1.6 3 4 3 3.5 3 2.9 3 1.2 3-2.7 3-4.7 3-2.1 3 .8 3-.4 3-4.2 3-5.4 3-3.4 3-1.8 3 .6 3 5.4 3 7.9 3 3.8 3-3.7 3-6.1 3-1.9 3 2.7 3 3.5 3 1.4 3-1.8 3-3.5 3-2.4 3-1.6 3-1.5 3-1 3 .6 3 2.5 3 3.1 3 .3 3-3 3-3.3 3-2.1 3-1 3-1.3 3-3 3-1.7 3 1.4 3 .5 3-1.3 3-.4 3-1.1 3-1.1 3 3 3 5.3 3 2.8 3 0 3-1 3-3.6 3-5.6 3-2.1 3 3.5 3 4.7 3 3.3 3 2 3-.8 3-3.4 3-2.7 3 .3"/>
<path d="M517 103.7l3 .6 3 1.6 3 2.5 3 1 3-1.3 3-1 3 1.5 3 2.9 3 2 3-1.1 3-4.9 3-6 3-3.8 3-1 3 .9 3 2.3 3 4.9 3 5.6 3 2.3 3-.8 3-1.3 3 .7 3 3.6 3 3.7 3 2.1 3 1.5 3 .9 3-.8 3-3.4 3-6 3-5.6 3-3.4 3-2.7 3-2.5 3-1.9 3-.1 3 3.1 3 5 3 2.7 3 .3 3 1 2 .6 1-.1 1-.3 2 .3 2 11.6 1 11.4 1 13.7 2 26.3 2 12.9 1 1.2 1-.6 2-3.8 2-4.5 1-2.1 1-1.9 2-2.5 2-.9 1 .1 1 .1 2 .4 3-.3 3-2 3-3.9 3-6.4 3-6.8 3-2.2 3 1.7 3 .4 3-3.7 3-6.7 3-5.5 3-1.8 3 .3 3 .4 3 .1 3 .6 3 1.5 3 1.3 3-.3 3-2.8 3-4.3 3-3.7 3-3 3-1.5 3 1.1 3 1.4 3 .9 3 1.5 3-.4 3-4.6 3-4.6 3 .3 3 3.5 3 2.1 3-.3 3-1.7 3-.5 3 1.9 3 2.6 3 .6 3-2 3-2.7 3-2.4 3-1.1 3 1.7 3 3.8 3 .9 3-2.9 3-3.1 3-1.1 3 1 3 2.6 3 1.5 3-.8 3-1 3 .1 3 .6 3 .2 3-1.6 3-3.2 3-2.1 3 1.2 3 2.6 3 1.1 3 .6 3 1.8 3 1.6 3-.7 3-.5 3 2.5 3 3.8 3 1.2 3-2.1 3-3.5 3-3.8 3-3.1 3-1.9 3-.4 3-.6 3-1.8 3-1.4 3-.3 3-.2 3 1.6 3 5.2 3 6 3 4.6 3 2 3-3.2 3-6.9 3-6.2 3-3.4 3-.6 3 1.2 3 1.2 3 2 3 2.3 3 .5 3-.6 3-.5 3-1.7 3-3.4 3-2.9 3-2 3-1.8"/>
<path d="M517 108.9l3-3.7 3-4.2 3-1 3 2.4 3 4.5 3 3.6 3-.5 3-4.1 3-4.7 3-3 3 0 3 3.1 3 4 3 .5 3-3.8 3-2.4 3 3 3 4 3 .6 3 .1 3 2 3 .2 3-2.9 3-2 3 2.5 3 5.2 3 3.2 3-1.9 3-5.2 3-4.4 3-3.1 3-2.8 3-1.2 3 .7 3 1.7 3 2.1 3 1.2 3-.1 3 1.2 3 4.7 3 5 2 .6 1-.5 1-.8 2-1.7 2-.5 1 .3 1 .5 2 14.3 2 40.7 1 18.2 1 9.5 1 2.8 1-.9 2-4.2 1-1.8 1-1.4 2-2 2-1.4 1-.7 1-.7 2-1.4 3-2.4 3-1.7 3 .6 3 .8 3-1.9 3-3.3 3-1.4 3-.9 3-4 3-6.3 3-5.7 3-5.1 3-4.7 3-3 3-1.5 3-.8 3 .4 3 1.3 3 .3 3 .7 3 2.7 3 2.5 3 .2 3-2 3-3.4 3-5.1 3-5.2 3-2.5 3 .1 3 2.6 3 2.8 3-1.4 3-2.9 3 1.6 3 4.4 3 1.1 3-2.4 3-1.1 3 .6 3 .8 3 2 3 1.3 3-2.8 3-5 3-4.6 3-3.4 3 0 3 4.4 3 4.4 3 .5 3-2.6 3-3.7 3-4.1 3-2.6 3 1.6 3 2 3-3.7 3-7.5 3-4.4 3 1.4 3 6.6 3 8.2 3 5.1 3 .8 3 .4 3 .4 3-3.3 3-6.3 3-3 3 2.3 3 4.4 3 3.1 3 1.2 3 .3 3-.4 3-.2 3-.2 3 .9 3 3.8 3 4.6 3 2.9 3 1 3-2.5 3-6.4 3-7.5 3-5.3 3-1.4 3 .4 3-.4 3-.9 3-.8 3-1.2 3-2 3-3.7 3-3.8 3 .8 3 5.4 3 4.1 3 .9 3 .3 3-.1 3-2.6 3-3.8 3-.1 3 5.9"/>
<path d="M517 101.3l3 .5 3 .5 3 2.5 3 2.5 3-.6 3-1.5 3 .6 3 1.9 3 1.1 3-1.2 3-2 3-.3 3 1.7 3 1.8 3-1.4 3-3.6 3 0 3 5.4 3 4.6 3-.1 3-2.2 3-2.4 3-3.8 3-3.7 3-1 3 .9 3 1.5 3 .6 3-1.2 3-2.9 3-3.8 3-3.3 3-.4 3 4.3 3 7.8 3 4.5 3-1 3-2 3-3.1 3-5.3 3-4.2 2-1.4 1-.4 1-.2 2 .2 2 1.4 1 1.1 1 2.9 2 21.6 2 36.3 1 16 1 10.8 2 9.6 2 2.4 1 .5 1 .2 1 .1 1-.2 2-1.3 1-1.4 1-1.8 2-4.5 3-4.2 3 1.7 3 1 3-4.3 3-7.2 3-4.8 3 2.4 3 7.2 3 4.7 3-1.2 3-5 3-5.2 3-4.2 3-2.3 3 1.2 3 2.4 3 .6 3-1 3-2.6 3-5.1 3-7 3-4.2 3 2.3 3 4.9 3 2.8 3 .1 3-1.1 3-1.2 3-1.2 3-1.4 3-1.1 3-1.6 3-3.6 3-2.9 3 1.5 3 3.9 3-.9 3-5.8 3-5.4 3-3 3 .8 3 2.1 3-1.4 3-2.8 3-.9 3 .6 3 .5 3-.5 3-1.5 3-1.5 3-1 3-1.8 3-2.9 3-2.3 3 0 3 2.9 3 5.9 3 5.1 3-.3 3-4.8 3-3.9 3-.5 3 .7 3-.4 3-1.1 3-1.7 3-1.3 3 1 3 1.4 3 0 3 1.1 3 2.8 3 2.6 3 1.4 3-.1 3-1.9 3-2.4 3-1.2 3-1.2 3-2.4 3-1.8 3 .5 3 1.6 3 1.1 3 2.3 3 4.2 3 1.6 3-3.6 3-2.5 3 2.4 3 1.8 3-4.4 3-8.9 3-4.1 3 3.7 3 5.1 3 1.4 3-2.5 3-3.8 3-2 3 .6 3 .7 3-1.2 3-1.6 3 .2"/>
<path d="M517 104.9l3 1.3 3 6.1 3 6.9 3 1.6 3-1.5 3-1.2 3-2.1 3-3.2 3-1.5 3 .9 3 1.6 3 .5 3-.6 3-1.4 3-3.8 3-2.7 3 3.5 3 5.5 3 .1 3-5.4 3-6.3 3-2.7 3 .8 3 1 3-.5 3 .1 3 2.9 3 3.4 3 1.3 3 2.1 3 4.6 3 2.8 3-1.3 3-2.2 3 1.1 3 4.5 3 2.3 3-3.1 3-2.3 3 2.8 3 3.7 2 .5 1-.4 1-.5 2-1.3 2 .1 1 4.8 1 9.4 2 29 2 28.2 1 7.4 1 3.6 1 .9 1-.6 2-3.4 1-2.1 1-2.2 2-4.3 2-4 1-1.8 1-1.7 2-3.2 3-4.7 3-3.7 3-1.2 3-1.5 3-3.6 3-2.9 3-1.4 3-1.4 3-1.5 3 .2 3 3.1 3 2.8 3-1.6 3-3.7 3-3.3 3-5.1 3-6.7 3-3.3 3 1.9 3 4.3 3 3.2 3 .5 3-1.5 3-3.5 3-3.8 3 .4 3 4.3 3 3.2 3-.4 3-1.8 3-2.5 3-3.7 3-3.7 3-2.9 3-2.2 3-.2 3 2.8 3 3.7 3 1 3-1.5 3-1 3 .8 3-.3 3-3 3-2.8 3-1.6 3-.7 3-1 3-1.8 3-.7 3 2.1 3 3.9 3 1.7 3-1.7 3-2.8 3-2.4 3-.4 3 1.4 3-.6 3-2.6 3 .2 3 4 3 2.9 3-1.8 3-4.7 3-2.3 3-.4 3-2 3-1.3 3 3.3 3 4.8 3 .8 3-2.8 3-1.4 3 2.4 3 3.7 3 .3 3-4.4 3-4.2 3 1.3 3 4.6 3 2 3-1.5 3-1.5 3-.9 3-3 3-6.4 3-5.6 3-1.2 3-.6 3-1.7 3 .2 3 3.4 3 4.9 3 3.9 3 2.1 3-.1 3-1.8 3-.5 3 2.1 3 3.6 3 1.1 3-2.2 3-1.8 3-1.3"/>
<path d="M517 110.5l3 .6 3 .6 3-1.4 3-1.2 3 2 3 3.8 3 1.4 3-2.7 3-4.9 3-3.9 3-1.6 3-1 3-3 3-2.6 3 2.4 3 4.3 3 1.9 3 1.7 3 3.7 3 3.6 3 2.4 3-.4 3-5.1 3-5.1 3-1.2 3-.9 3-2.8 3-1.3 3 .1 3-.9 3-1.3 3-.3 3 .6 3 2.7 3 4.3 3 2.7 3 .5 3 .6 3 2.3 3 2 3-1.4 2-2.2 1-.9 1-.6 2 10.8 2 37.1 1 21.4 1 17.5 2 14.8 1 1.3 1-.7 1-1.9 1-2.5 2-6.1 2-5.5 1-2 1-1.5 2-1.5 2-.5 1-.2 1-.3 2-.8 3-1.1 3-.6 3-.6 3-3 3-5.6 3-5.8 3-2.9 3 .3 3 .2 3-1.7 3-.7 3 1.2 3 1.7 3 1.5 3 .5 3-2 3-2.8 3-1.3 3-1.8 3-4.2 3-3.1 3-.6 3-1.6 3-2.4 3-.1 3 2 3 .7 3-3 3-3.1 3 .9 3 3.2 3 1.2 3-1.1 3-2.2 3-3.5 3-3.4 3-.3 3 1.9 3 .5 3-2.1 3-2.1 3 .7 3 1.9 3-.3 3-2.5 3-2.7 3-2.5 3-3.5 3-3.6 3 .6 3 5.6 3 6.7 3 3.3 3-2.5 3-5.4 3-5.4 3-3.5 3 1 3 2 3-2.1 3-3.8 3-1.9 3 .7 3 1.8 3 1.8 3 1.3 3-.6 3-1.8 3 1.6 3 4.3 3 2.2 3 .1 3-.5 3 .2 3 1.9 3 1.1 3-2.2 3-2.3 3 0 3-1.2 3-4.7 3-4.2 3 .1 3 3.4 3 2.6 3-.8 3-2.4 3-.6 3 .6 3 .7 3 .6 3-.3 3-1.8 3-2.4 3-1.3 3 .4 3 1.7 3 3.2 3 2.1 3-1.3 3-2.4 3-2.5 3-2.6 3-1.3 3-.1"/>
<path d="M517 104.9l3-2.5 3-2.5 3-3.2 3-2.6 3-.6 3-.5 3-.2 3 1.4 3 1.1 3 1 3 3.2 3 4.6 3 2.6 3-.8 3-1.4 3 .7 3 2 3 1.6 3 .2 3-2.5 3-3.4 3-.7 3 0 3-.9 3 .1 3 .1 3-.8 3 .2 3 1 3 .5 3 .2 3 .2 3 2.4 3 2.9 3 .5 3 .2 3 1.6 3 .1 3-2.5 3-2.4 3 1.3 2 2.5 1 1.1 1 .6 2-.6 2-2.9 1-2 1-1.1 2 6 2 19.2 1 13.2 1 13.9 2 24.6 2 12.2 1 2.1 1 .3 2-2.7 2-4.3 1-1.9 1-1.5 2-1.9 3-.7 3-.2 3-.7 3-.8 3-1.5 3-3.8 3-6.3 3-6 3-3.5 3-2.5 3-3.3 3-1.5 3 3 3 3.8 3 .6 3-1.8 3-2.8 3-2.2 3-1.7 3-3.8 3-2.9 3 1.2 3 2.2 3 .9 3 2.5 3 4.1 3 2.8 3 1.3 3 .7 3-1.3 3-2.8 3-2.1 3-1.3 3-1.5 3 0 3 1.2 3-.7 3-2.1 3-.5 3 3.7 3 6.1 3 1.5 3-7.1 3-10.9 3-7.1 3-1.6 3 1.3 3 1.8 3-.6 3-3.2 3-2.1 3-.8 3-.7 3 1.5 3 3.6 3 3.3 3 1.5 3-.1 3-1.8 3-2.9 3-3.1 3-2.7 3-1.9 3 .2 3 2.6 3 3.1 3 .9 3-3 3-4.2 3-1.6 3 1.6 3 2.3 3 1 3 1.2 3 2.5 3 .7 3-2.2 3-2.5 3-1.4 3 .8 3 2.5 3 2.7 3 .9 3-3.3 3-4.6 3-.2 3 5.1 3 5.1 3 .9 3-3.1 3-6.7 3-7.9 3-3.9 3-.5 3-.3 3 .7 3 2.5 3 1.4 3-.7 3 .2 3 3 3 3.3 3-1.8 3-6.1 3-4"/>
<path d="M517 112.3l3-2.9 3-1.7 3-.4 3-.1 3-1.2 3-2.5 3-2.6 3-1.7 3-1 3-1.2 3-1.4 3-1.7 3-2.2 3-.5 3 2.9 3 5.3 3 4.7 3 2.2 3 1.6 3 1.4 3-.8 3-2.8 3-2.3 3 .1 3 1.2 3 .7 3 .5 3 1.1 3 1.5 3-.3 3-1 3 1 3 1.1 3-.8 3-1.4 3-3.2 3-3.7 3 .2 3 2.8 3 .4 3-2.6 2-1.6 1-.4 1 0 2 .8 2 10.3 1 12.2 1 16.2 2 34.9 2 22.3 1 4.1 1 1.5 2-.8 2-1.3 1-.3 1-.1 2 .1 2-.3 1-.6 1-.9 2-3 3-6.7 3-6.4 3-4.8 3-2.9 3 .6 3 3.2 3 1 3-4.8 3-9.3 3-8.4 3-2.1 3 3.4 3 2.6 3-2 3-5 3-5.5 3-4.9 3-4 3-3.1 3-1.9 3 .2 3 1.4 3 1.5 3 1.4 3-1.1 3-4 3-3.4 3-1.3 3 .4 3 1.5 3 3.4 3 3.7 3-.9 3-5.3 3-3.1 3 .4 3 1 3-.4 3-.2 3 .2 3 0 3 1.6 3 3.7 3 3.6 3 0 3-3.2 3-3.7 3-5.3 3-5.7 3-.6 3 3.3 3 2 3 .4 3-.3 3-1.6 3-2 3-1.3 3 .2 3 .5 3 .4 3 0 3-1.5 3-2.8 3-3.5 3-3.3 3-.6 3 .7 3-1.6 3-2.4 3 1.1 3 5.4 3 5.4 3 1.6 3-.5 3-.3 3-1.3 3-2.5 3-1.2 3 1 3 1.5 3-.6 3-4.6 3-6.7 3-3.9 3 1.1 3 4.1 3 5.7 3 4.7 3-.3 3-3.6 3-1.5 3 .3 3-1.9 3-3.9 3-2.2 3 1.7 3 5 3 4.8 3 1.7 3 .1 3-1.4 3-3.2 3-1.4 3 2.5 3 1.4"/>
<path d="M517 110.5l3 0 3 .7 3-.6 3-.6 3 .1 3 1 3 .6 3-.9 3 .8 3 4.8 3 4.7 3 1.5 3-2.8 3-6.9 3-6.1 3-1.1 3 2.7 3 2.9 3-.3 3-4.2 3-6.1 3-2 3 4.9 3 5.8 3 1.9 3-1.3 3-1.3 3 1.2 3 3.7 3 2.9 3-.6 3-2.8 3-2.8 3-1.8 3 1.1 3 3.1 3-.2 3-4 3-2.5 3 1 3 1.6 2 .1 1-.4 1-.7 2-1.5 2-.7 1 .3 1 .8 2 13.1 2 33 1 18.8 1 16.2 2 17.3 2 4.4 1 .8 1 .8 2 1.3 1 .4 1-.2 1-.6 1-1.1 2-3.6 3-6.7 3-4.1 3-.5 3-1.3 3-2.7 3-.2 3 1 3-2.4 3-6.2 3-7 3-2.9 3 1.7 3 2 3-1.3 3-3.3 3-1.5 3 .5 3-.8 3-3.1 3-3 3-1.2 3-.6 3-2 3-1.9 3-.4 3 2.1 3 3 3-1.4 3-5.8 3-4.6 3-1.8 3 .1 3 .2 3 1 3 1.9 3-.8 3-3 3-.7 3 2.4 3-1 3-6 3-3 3 1 3-1.7 3-4.7 3-3 3-1.3 3-.9 3 1.4 3 2.8 3 .3 3-2.3 3-2.9 3-1.8 3 .6 3 2.9 3 5.3 3 5.1 3 .8 3-3.4 3-4 3-2.6 3 .1 3 .9 3-1.5 3-1.7 3 .9 3 1.7 3 .9 3 .8 3 0 3-.6 3 .2 3 1.1 3-.6 3-4.2 3-4.1 3 .6 3 2 3-.5 3-3.6 3-5.6 3-5 3 0 3 4.8 3 2.7 3-2.3 3-3.4 3-.5 3 1.8 3 3 3 3.3 3 .2 3-1.8 3 1.3 3 4.1 3 3.9 3 3.1 3 1.4 3-2 3-4.5 3-5.7 3-5 3-.9 3 3.1"/>
<path d="M517 103l3 6.7 3 2.1 3-1.8 3-2.5 3-3.1 3-3.6 3-2.3 3 .1 3 .9 3 1.3 3 2.6 3 4.9 3 5.3 3 2 3-1.9 3-3.3 3-3.9 3-2.3 3 2.8 3 4.7 3 1.8 3-.8 3-2.4 3-2.3 3 1.5 3 3 3-.1 3-3.3 3-2.9 3-1 3 .3 3 .9 3 .4 3 .5 3 2.2 3 2.3 3-.8 3-4.1 3-4.3 3-1.1 3 1.9 2 .9 1 .2 1 0 2 .3 2 13 1 14.3 1 17.6 2 34.1 2 14.3 1 .7 1-1 2-2.7 2-1.8 1-.7 1-.7 2-1.8 2-2.1 1-1 1-1.3 2-3.1 3-6.9 3-6.5 3-2.3 3 2.3 3 2.3 3-1.3 3-3.7 3-5.4 3-8 3-6.3 3-.4 3 3.4 3 3.6 3 2.4 3 .4 3-2.5 3-5.8 3-7.1 3-3.3 3 1.5 3 2.5 3 1.1 3 1.6 3 2.6 3 .9 3-1.7 3-2.1 3-2.2 3-2.9 3-3.3 3-3.1 3-1.6 3 1.5 3 1.2 3-1.4 3 0 3 5.2 3 6 3 .7 3-4.6 3-5.9 3-4.4 3-2 3-.6 3 .7 3 2.3 3 2.6 3 1 3 .3 3-1.1 3-4.7 3-5.8 3-3.3 3-2.7 3-3 3 .6 3 3.6 3 1.7 3 .3 3 2 3 3.1 3 1.8 3-1.1 3-5.1 3-5.6 3-.5 3 3.3 3 2.6 3 .1 3-2.1 3-2.5 3-1.5 3 .6 3 2.2 3 2 3 1.5 3 1.2 3 2.1 3 2.9 3 2.1 3 .5 3-.8 3-2.1 3-2 3-.1 3 0 3-1.7 3-1.1 3-.9 3-3.5 3-4.6 3-3.1 3-.7 3 2.9 3 4.8 3 3.9 3 2.5 3 1.7 3 .4 3-1 3 .7 3 3.3 3 1.4 3-3.3 3-4.5"/>
<path d="M517 116.6l3 4.4 3 1.4 3-5.3 3-8.9 3-6 3 .5 3 5.1 3 4.5 3 .7 3-1.4 3-.7 3-1.1 3-1.6 3-.3 3 2.1 3 2.5 3 .9 3 .1 3 .2 3-1 3-3.4 3-4 3-2 3 0 3 .3 3 1.6 3 3.3 3 1.4 3-1.5 3-2.2 3-2.9 3-4.2 3-1.7 3 1.7 3 1.2 3 .8 3 3.1 3 4.8 3 4.2 3 3.2 3 1.4 2-1.2 1-1.4 1-1.9 2-3.9 2 8 1 12 1 16.3 2 36.3 2 24.6 1 5 1 1.8 2-1.6 2-3.4 1-1.6 1-1.5 2-2.4 2-2.6 1-1.5 1-1.7 2-3.8 3-5.1 3-4 3-3.9 3-3.6 3-1.4 3 .7 3-.2 3-3.1 3-4.3 3-2.7 3-.6 3-.3 3-1.5 3-3.5 3-6 3-6.8 3-3.6 3 1.6 3 3 3 .5 3-1.1 3-.8 3 .8 3 1.9 3 1.5 3 1.2 3 1 3-.1 3-1.7 3-3.2 3-4.4 3-4.1 3-1.6 3-.3 3-2 3-3.6 3-1.6 3 2.6 3 4.9 3 2.1 3-2.8 3-4.5 3-1.9 3 .8 3-.3 3-2.9 3-2.8 3 .1 3 1.5 3-.3 3-.2 3 2.6 3 2.5 3-.5 3-2.3 3-1.2 3-1.1 3-2.4 3-1.3 3 .5 3 1.5 3 2 3 1.7 3 2.3 3 2.9 3 .5 3-1.2 3 1.2 3 1.1 3-2.4 3-3.7 3-2.5 3-1.5 3-2.4 3-3.4 3-1.2 3 2.4 3 3.2 3 1.1 3-.9 3-1.1 3 .6 3 2.5 3 3.8 3 3.4 3-.1 3-4.6 3-4.2 3 0 3 2.1 3 1.2 3-.1 3 .4 3-.5 3-3.2 3-2.6 3-.2 3-.3 3-1.3 3-.2 3 .4 3 .3 3 .2 3 .1 3-1"/>
<path d="M517 101.1l3-.7 3-2.5 3-1.3 3 1.5 3 3.4 3 3.3 3 2.9 3 2.7 3 1.1 3-1.4 3-3.2 3-4 3-2.8 3 1.2 3 4.3 3 3.2 3-1.4 3-3.9 3-2.4 3-.4 3-.3 3-.6 3 .7 3 1.8 3-.5 3-2.1 3 1.6 3 4.5 3 2.2 3-.6 3-1.3 3-.8 3-3 3-4.8 3 .1 3 5 3 3.5 3 1 3 .6 3 .3 3 .5 2 .3 1 0 1-.1 2 .2 2 12.5 1 15.9 1 21.2 2 46.2 2 30.1 1 6.1 1 2.3 1 0 1-1 2-3.3 1-2 1-2.3 2-4.7 2-4.3 1-1.8 1-1.5 2-2.8 3-4.5 3-6.8 3-9.4 3-9.2 3-6.1 3-4.4 3-3.7 3-.8 3 2.5 3 1.3 3-1.3 3-1.2 3-1 3-3 3-4.7 3-2.9 3-.2 3-1.6 3-6.3 3-9 3-7.7 3-3.4 3 1.4 3 3.5 3 2 3-1.7 3-5 3-3.7 3-.5 3 .8 3 1.1 3 .2 3-1.7 3-1.8 3 .9 3 1.9 3-.3 3-2.6 3-3.5 3-3.3 3-2.9 3-2.1 3-1.6 3-.8 3 .1 3 0 3 .5 3 1.4 3 1 3-.8 3-.7 3 .7 3 .8 3-.7 3-2.3 3-2.6 3-2 3-2 3-2.8 3-2.8 3 .6 3 4.1 3 2.6 3 0 3 .2 3 .2 3-.8 3-1.7 3-2.6 3-2.5 3 .9 3 4.2 3 3.3 3 1.4 3-.4 3-2.8 3-3.4 3-1 3 3.4 3 5.2 3 .8 3-4.5 3-3.1 3 1.1 3 .9 3-1.2 3 .1 3 2.9 3 2.9 3-.4 3-2.9 3-1.9 3 .7 3 2.2 3 .6 3-3.4 3-5.5 3-2.6 3 .4 3 .1 3 .1 3 2.8 3 2.6 3-.6 3-1.3"/>
<path d="M517 114.1l3-1.7 3 .3 3 3.7 3 2.7 3-2.8 3-6 3-3.7 3 .4 3 2.4 3 1.6 3-.8 3-2.1 3-2.3 3-3.1 3-2.5 3 0 3 1.3 3 2.7 3 4.9 3 5.6 3 3 3-.9 3-3.7 3-4.3 3-3.5 3-.5 3 2.3 3 2 3 .3 3 .1 3 .5 3 .2 3-1.9 3-4.1 3-4 3-2.9 3-1.4 3 .9 3 2.7 3 2.2 3 2.6 2 2.4 1 1.1 1 1 2 18.9 2 58.4 1 35.8 1 31.8 2 33.5 2 4.4 1-1.8 1-2.5 2-5.8 2-6.5 1-3.4 1-3.5 2-6.8 2-5.9 1-2.5 1-2.2 2-3.8 3-5.6 3-5.7 3-5.9 3-6.4 3-5.4 3-3.6 3-4.1 3-5.2 3-1.8 3 1 3-2 3-6.5 3-7.8 3-6.7 3-5 3-4.5 3-4.1 3-3.5 3-5.4 3-7.5 3-3.1 3 4.2 3 4.7 3 0 3-3.1 3-3.4 3-3.3 3-2.9 3-1.1 3 .1 3-.6 3-.6 3 .2 3-.5 3-1.9 3-2.2 3-1.1 3-.6 3-1.6 3-2.1 3-1.7 3-1.9 3-2.7 3-1 3 1.2 3 .8 3 .4 3 .9 3 1.6 3 3.5 3 2 3-2.8 3-4.3 3-2 3 .4 3 .6 3 .1 3 .2 3-.5 3-1.5 3-2.3 3-1.2 3 2.2 3 4 3 4.1 3 2.5 3-.4 3-2 3-2.5 3-3 3-4.8 3-6.2 3-3.9 3 .3 3 2.6 3 3.2 3 2.3 3 1.3 3 .8 3 0 3-.2 3-.4 3-.6 3 .4 3-1 3-5 3-3.7 3 1.5 3 2.7 3 .3 3-1.3 3-1.2 3 1.4 3 3.2 3 1.5 3-.8 3-1 3 0 3 .8 3 2.3 3 2.3 3 .9 3-1.6 3-4.9 3-5.3"/>
</g>
<path fill="none" stroke="#76a72e" stroke-width="4.5" stroke-linejoin="round" d="M517 106.6l2 .1 2 0 2 0 2 0 2 0 2 0 2-.1 2 0 2-.1 2 0 2 0 2-.1 2 0 2 0 2 0 2 0 2 0 2 0 2 0 2 0 2 0 2 0 2 0 2 0 2 0 2 0 2-.1 2 0 2 0 2-.1 2 0 2 0 2 0 2 0 2 0 2 .1 2 0 2 .1 2 0 2 0 2 0 2 0 2 0 2 0 2 0 2 0 2-.1 2 0 2 0 2 0 2 0 2 0 2 .1 2 0 2 .1 2 0 2 .1 2 0 2 0 2 .1 2 .4 2 1.7 2 4.9 2 9 2 10.2 2 8.7 2 5.8 2 3 2 .7 2-.7 2-1.4 2-1.3 2-1.3 2-1.2 2-1.1 2-1.1 2-1.1 2-1.1 2-1.1 2-1.1 2-1.1 2-1 2-1 2-1 2-1 2-1 2-1 2-.9 2-.6 2-.7 2-.6 2-.6 2-.7 2-.6 2-.6 2-.4 2-.5 2-.5 2-.4 2-.5 2-.4 2-.5 2-.3 2-.4 2-.4 2-.3 2-.4 2-.3 2-.4 2-.3 2-.3 2-.4 2-.3 2-.4 2-.3 2-.4 2-.3 2-.4 2-.4 2-.3 2-.4 2-.4 2-.3 2-.3 2-.2 2-.2 2-.1 2-.2 2-.1 2-.1 2 0 2-.1 2-.1 2 0 2-.1 2-.1 2-.1 2-.2 2-.2 2-.1 2-.2 2-.2 2-.2 2-.2 2-.2 2-.2 2-.1 2-.2 2-.2 2-.2 2-.2 2-.2 2-.2 2-.2 2-.2 2-.2 2-.2 2-.1 2-.1 2-.1 2-.2 2-.1 2 0 2-.1 2-.1 2-.1 2-.1 2-.2 2-.1 2-.1 2-.1 2-.1 2-.1 2 0 2-.1 2 0 2-.1 2 0 2-.1 2-.1 2 0 2-.1 2-.1 2 0 2-.1 2-.1 2 0 2-.1 2-.1 2 0 2-.1 2 0 2 0 2-.1 2 0 2 0 2-.1 2 0 2-.1 2 0 2 0 2-.1 2 0 2 0 2 0 2-.1 2 0 2-.1 2 0 2 0 2-.1 2 0 2-.1 2 0 2 0 2 0 2 0 2-.1 2 0 2 0 2 0 2 0 2 0 2-.1 2 0 2 0 2-.1 2 0 2-.1 2-.1 2-.1 2 0 2-.1 2-.1"/>
<polygon fill="#cdcfd1" points="35.5,365.7 38.5,365 41.5,364.5 44.5,364.2 47.5,364 50.5,364 53.5,364.3 56.5,364.5 59.5,364.6 62.5,364.6 65.5,364.8 68.5,365.2 71.5,365.5 74.5,365.3 77.5,364.7 80.5,364.2 83.5,364.2 86.5,364.5 89.5,364.9 92.5,365.1 95.5,365 98.5,364.7 101.5,364.6 104.5,364.9 107.5,365.4 110.5,365.5 113.5,365.2 116.5,364.8 119.5,364.6 122.5,364.7 125.5,364.8 128.5,364.8 131.5,364.7 134.5,364.5 137.5,364.4 140.5,364.4 143.5,364.3 146.5,364.2 149.5,364.1 152.5,364 155.5,364.1 158.5,365.7 161.5,371.5 164.5,380 167.5,386.3 170.5,388.3 173.5,388.3 176.5,387.8 179.5,387.3 182.5,386.7 185.5,385.6 188.5,384.3 191.5,383.3 194.5,382.9 197.5,382.8 200.5,382.6 203.5,381.7 206.5,380.3 209.5,378.8 212.5,377.7 215.5,377.3 218.5,377.4 221.5,377.4 224.5,377.1 227.5,376.3 230.5,375.5 233.5,375.2 236.5,375.5 239.5,376.2 242.5,376.7 245.5,376.7 248.5,376 251.5,375.1 254.5,374.2 257.5,373.3 260.5,372.5 263.5,371.9 266.5,371.8 269.5,372.3 272.5,372.6 275.5,372.4 278.5,371.7 281.5,371 284.5,370.7 287.5,370.7 290.5,370.9 293.5,371 296.5,370.9 299.5,370.9 302.5,370.8 305.5,370.9 308.5,370.9 311.5,370.8 314.5,370.5 317.5,369.9 320.5,369.1 323.5,368.5 326.5,368.5 329.5,369 332.5,369.6 335.5,369.8 338.5,369.7 341.5,369.6 344.5,369.3 347.5,368.8 350.5,368.3 353.5,368 356.5,368.2 359.5,368.8 362.5,369.2 365.5,369.2 368.5,368.8 371.5,368 374.5,367 377.5,366.4 380.5,366.3 383.5,366.7 386.5,367.5 389.5,368.2 392.5,368.2 395.5,367.6 398.5,366.9 401.5,366.4 404.5,366.4 407.5,366.8 410.5,367.2 413.5,367.3 416.5,367 419.5,366.5 422.5,366.2 425.5,366.1 428.5,366.3 431.5,366.8 434.5,367.1 437.5,367.1 440.5,366.7 443.5,366.3 446.5,366.2 449.5,366.3 452.5,366.5 455.5,366.7 458.5,366.7 461.5,366.8 464.5,367 467.5,367 470.5,366.5 473.5,365.8 476.5,365.3 479.5,365.2 482.5,365.1 485.5,365.1 488.5,365 491.5,365.2 494.5,365.5 497.5,365.8 500.5,365.6 500.5,391.9 497.5,391.9 494.5,391.8 491.5,391.4 488.5,390.9 485.5,390.6 482.5,390.8 479.5,391.4 476.5,392.1 473.5,392.6 470.5,393 467.5,393.4 464.5,393.5 461.5,393.4 458.5,393.4 455.5,393.5 452.5,393.5 449.5,393.2 446.5,392.6 443.5,392 440.5,391.5 437.5,391.3 434.5,391.4 431.5,391.7 428.5,392.3 425.5,393.1 422.5,393.9 419.5,394.2 416.5,394 413.5,393.5 410.5,393.1 407.5,393 404.5,393.2 401.5,393.4 398.5,393.7 395.5,394.1 392.5,394.2 389.5,394 386.5,393.7 383.5,393.5 380.5,393.6 377.5,393.8 374.5,394.2 371.5,394.5 368.5,394.9 365.5,395.2 362.5,395.7 359.5,396.3 356.5,396.9 353.5,397.5 350.5,398.2 347.5,398.7 344.5,398.9 341.5,398.7 338.5,398.5 335.5,398.5 332.5,399.1 329.5,399.8 326.5,400.2 323.5,400.4 320.5,400.4 317.5,400.5 314.5,400.9 311.5,401.5 308.5,401.9 305.5,402.2 302.5,402.6 299.5,403 296.5,403.4 293.5,403.8 290.5,404.3 287.5,404.7 284.5,405.4 281.5,406.3 278.5,407.4 275.5,408.6 272.5,409.5 269.5,410.1 266.5,410.6 263.5,411.1 260.5,411.7 257.5,412.2 254.5,412.7 251.5,413.4 248.5,414.6 245.5,416 242.5,417.2 239.5,418.2 236.5,419.4 233.5,420.6 230.5,421.7 227.5,422.7 224.5,423.7 221.5,424.8 218.5,425.9 215.5,427.2 212.5,428.6 209.5,430.2 206.5,432.1 203.5,434.3 200.5,436.5 197.5,438.5 194.5,440.4 191.5,442.5 188.5,444.6 185.5,446.7 182.5,448.9 179.5,451.4 176.5,454.3 173.5,456.7 170.5,457.1 167.5,451.3 164.5,432.2 161.5,407.3 158.5,391 155.5,387.1 152.5,386.8 149.5,386.8 146.5,386.6 143.5,386 140.5,385.4 137.5,385 134.5,384.9 131.5,385.2 128.5,385.4 125.5,385.6 122.5,385.9 119.5,386.3 116.5,386.7 113.5,386.9 110.5,386.9 107.5,386.8 104.5,386.6 101.5,386.3 98.5,385.8 95.5,385.4 92.5,385.3 89.5,385.7 86.5,386 83.5,386 80.5,385.6 77.5,385.2 74.5,385 71.5,384.9 68.5,385.1 65.5,385.6 62.5,386.3 59.5,386.7 56.5,386.6 53.5,386.4 50.5,386.4 47.5,386.7 44.5,387 41.5,387 38.5,386.7 35.5,386.3"/>
<g fill="none" stroke="#c2c4c6" stroke-width="1.1" stroke-linejoin="round">
<path d="M35.5 371.8l3-1.4 3 2 3 3.6 3 .1 3-2.3 3-1.2 3-1.2 3-2.2 3 .6 3 5.3 3 7 3 4.4 3-1.3 3-4.1 3-1.3 3-.2 3-.8 3 .5 3-.8 3-4.2 3-4.4 3-1.6 3 1 3 1.8 3 1.2 3 1.2 3 2.5 3 1.9 3-1.1 3-1.3 3 2.2 3 3.2 3 .1 3-1.9 3-.7 3-.2 3-1.3 3-1.3 3 0 3-.4 2-.6 1 0 1 .4 2 2.1 2 3.1 1 1.5 1 1.2 2 1.7 2 1.8 1 1.3 1 1.3 2 2.3 2 0 1-.8 1-1.1 2-2.7 2-2.4 1-1.2 1-1.4 2-3.2 3-3.8 3 1.6 3 3.9 3 1.4 3-.2 3 1.7 3 3.9 3 2.3 3-2.4 3-2.9 3 .8 3 2 3-2.1 3-4 3 1.2 3 6.5 3 5.2 3 1.8 3-1 3-3 3-2.7 3 0 3 2.1 3 1.2 3-1.7 3-2.3 3-1.2 3-2.4 3-5.3 3-5.1 3-1.7 3 1.4 3 1.3 3 .8 3 2.1 3 2.6 3 1.8 3 .7 3-.4 3-1.6 3-1.3 3-.6 3-.5 3 .7 3 1.4 3 1.2 3 1 3-1 3-3.8 3-3.2 3 .4 3 2.4 3 1 3-.6 3 .2 3 1.4 3 .8 3 .9 3 2.1 3 .8 3-3.4 3-3.4 3 2.3 3 4.5 3 0 3-3.9 3-.9 3 3.1 3 1.4 3-2.2 3-.4 3 3.3 3 2.6 3-2 3-5.7 3-4.1 3 1.3 3 2.6 3-.2 3-.5 3 1.5 3 1.6 3 .6 3 1.8 3 2.7 3 .2 3-2.1 3-2.2 3-2.6 3-2.1 3-1.8 3-2.2 3-2.4 3-2.2 3-.3 3 1.7 3 1.9 3 1.8 3 3 3 3.8 3 3 3 .1 3-4 3-4.5 3-.5"/>
<path d="M35.5 380.4l3-4.5 3-7.1 3-4.7 3-1.3 3 .8 3 2.2 3 2.4 3 1.5 3 1.4 3 1.2 3-.5 3-.5 3 2.3 3 3.2 3 0 3-1.8 3-.6 3 1.1 3 2 3 1.1 3-1.3 3-2.3 3-1.9 3-1.3 3-1.2 3 .1 3 3.1 3 3 3-.5 3-1.9 3-.4 3 1 3 .7 3 .7 3 2.7 3 4.7 3 2.7 3-2.1 3-3.5 3-1.6 2-.3 1-.2 1-.2 2-.9 2 0 1 1.1 1 1.5 2 1.9 2 .5 1 .6 1 1.1 2 3 2 2.5 1 .5 1-.3 2-2.6 2-4 1-1.5 1-1 2 0 3 2.4 3 1.7 3 1.2 3 .8 3-.5 3-1.7 3-1.5 3 .3 3 1.8 3 .9 3-1.3 3-2 3-1.1 3-1.3 3-2.7 3-3.4 3-4.6 3-3.5 3 2.3 3 5.2 3 1.4 3-1.7 3-1.3 3-.2 3 1.1 3 1.7 3 1.1 3 1.6 3 2.6 3 1.7 3 0 3-1.6 3-2.3 3 .4 3 2 3 .1 3-1 3-1.2 3-1.9 3-1.3 3 .5 3 1.8 3 2.6 3 1.1 3-1.9 3-3.8 3-2.4 3 1.7 3 3.8 3 2.2 3-.9 3-2.3 3-.3 3 2.4 3 2.5 3 .3 3-1.7 3-3 3-4 3-4 3-.3 3 4.9 3 5.9 3 4.3 3 3.1 3-.3 3-2.8 3-1.5 3-.6 3-2.7 3-4.7 3-3.3 3-.4 3 1 3 .5 3 1.4 3 4.7 3 5.9 3 3.6 3-1.8 3-6.3 3-5.4 3-3.1 3-3.2 3-2.7 3-.3 3 2 3 3.2 3 2.7 3 .6 3-1.5 3-3.6 3-4.2 3-1.5 3 1.8 3 3.6 3 2.9 3 1.4 3 1.1 3 1.4 3 .4 3-1.6 3-2.3 3-2.3 3-1.3"/>
<path d="M35.5 392.8l3-3.3 3-6.3 3-4.9 3-.6 3 1.8 3 1.6 3-.6 3-2.2 3-.5 3 1.1 3 .8 3-.7 3-2.2 3-2.4 3-1.2 3-.6 3-.3 3 .2 3-.7 3-2.9 3-2.7 3 .9 3 3.3 3 3.1 3 1 3-1.1 3 .3 3 3.7 3 4.2 3 2.4 3-.5 3-3.3 3-2.8 3-.3 3 .4 3 1.3 3 2.3 3 1.9 3-.6 3-4.2 2-2.4 1-.4 1 .5 2 4 2 8.7 1 5.3 1 5.1 2 7.3 1 1.2 1-.1 1-1.1 1-1.7 2-3.2 2-1.8 1-.3 1-.2 2-.7 2-2.5 1-1.9 1-2.2 2-4.4 3-4.3 3-2.1 3-1.4 3 0 3 .8 3 .8 3 1.6 3 .9 3-1.7 3-1.4 3 1.2 3 2.4 3 1.2 3-1.1 3-2.4 3-1.5 3 .4 3 1.3 3 .9 3 .2 3-1 3-1.3 3-1.3 3-2.1 3-.4 3 3.6 3 5.1 3 3 3 .9 3-.7 3-2.4 3-3.1 3-1.4 3 2 3 5.2 3 4.5 3-.6 3-4.2 3-3.6 3-3.5 3-2.7 3 .3 3 2.1 3 2.9 3 3.5 3 .8 3-3.1 3-4.5 3-3.7 3-2.6 3-1.3 3 1.1 3 3.2 3 3.4 3 2.3 3 1.2 3-.7 3-3.3 3-3.5 3-.4 3 1.7 3 .6 3-1.5 3-2.7 3-2 3 .4 3 1.9 3 2 3 1.2 3 .3 3 1.3 3 1.7 3-.2 3-1.1 3 1.1 3 2.3 3 0 3-2.9 3-2.4 3-.2 3-.2 3-1.6 3-2.3 3-2.5 3-1.2 3 .8 3 1.2 3 1.3 3 2.1 3 2.3 3 2.4 3 .9 3-1.3 3-2.8 3-3.5 3-1.3 3 1.3 3 2.1 3 3.1 3 2.5 3-.5 3-1.7 3 .6 3 1.6 3 .7"/>
<path d="M35.5 375.6l3 4.7 3 2.1 3-1.5 3-3.1 3-3.3 3-4.2 3-2.4 3 .8 3-.3 3-1.7 3 .9 3 2.7 3 1.5 3 .2 3-.2 3-.5 3-1.2 3-1.8 3-1.6 3 .5 3 3.8 3 5.5 3 5.1 3 3.3 3 0 3-2.3 3-2.2 3-1.7 3-1.8 3-1.2 3-.1 3 .2 3 .2 3 1.1 3 2.5 3 3.7 3 3.6 3 0 3-4.8 3-6 2-2.6 1-.8 1-.4 2 2.3 2 7.3 1 4.5 1 4.3 2 5.8 2 2.3 1 .1 1-.5 2-2.9 2-4.3 1-2.3 1-2 2-2.6 2-.5 1 .4 1 .6 2 .9 3 .3 3 .4 3 1.4 3 1.2 3-.3 3-3.3 3-4.6 3-2.1 3 2.4 3 5.2 3 4.6 3 2.2 3 .9 3-1.9 3-5 3-2.1 3 2.7 3 1 3-2.6 3-1 3 1.7 3 1.9 3 2 3 1.2 3-1.4 3-3 3-2.4 3-.3 3 2.1 3 2.4 3 1.1 3-.2 3-1.8 3-2.7 3-3 3-2.5 3-1 3 .2 3-.2 3 .3 3 2.2 3 2.1 3 .3 3-1 3 .3 3 2.2 3 2.3 3 2.3 3 2.3 3-.1 3-2.5 3-2.3 3-1.7 3-1.9 3-2.8 3-2.2 3 .7 3 1.7 3 .4 3-1.1 3-1.5 3 .3 3 .6 3-1.4 3-.8 3 1.6 3 .4 3-.8 3 .4 3 1 3-.6 3-1.6 3 .8 3 2.4 3-.2 3-2.8 3-1.7 3 1.2 3 3.9 3 2.6 3-2.1 3-2.6 3 .6 3 1.9 3 .8 3-1.1 3-1.3 3-1 3-2.2 3-3.5 3-1.7 3 .8 3 1.3 3 2.4 3 3.2 3 1.5 3-.4 3-.6 3-.7 3-1.3 3-2.3 3-3.4 3-3.4 3-2.4 3 .9"/>
<path d="M35.5 378.7l3-1.3 3-.2 3 1.8 3 2.1 3 2.7 3 3.5 3 2.8 3-1.2 3-4.6 3-2.8 3 0 3-1.3 3-3.7 3-3.5 3-1.4 3-1.6 3-3.7 3-1 3 4.9 3 6 3 3.1 3 .7 3-.8 3-.7 3-.4 3-1.3 3-.9 3-.3 3-3.2 3-4.9 3-.1 3 4.4 3 3.1 3 1 3 .5 3-.8 3-2.3 3-.7 3 .1 3-1.7 2-.8 1 .2 1 .5 2 1.9 2 1.6 1 .4 1 .6 2 3.7 2 6.4 1 3.1 1 2.5 2 2.4 2 .2 1-.5 1-.6 2-1.2 2-.9 1-.5 1-.6 2-1.7 3-2.2 3 .3 3 1.3 3 .9 3 2.4 3 3.5 3 .6 3-2.6 3-2.6 3-1.4 3 .8 3 2.9 3 .4 3-2.9 3 .3 3 5.9 3 6.9 3 3.3 1 .1 2-1.2 3-3.7 3-3.8 3-3.6 3-4 3-3.1 3-1.6 3-1.4 3-1.8 3-1.8 3-1.7 3-1.2 3-.7 3 .6 3 2.8 3 3.8 3 2.4 3 0 3-1.3 3-.7 3 1 3 .6 3-1.1 3-.9 3-1.8 3-4.2 3-4.5 3-1.5 3 2.2 3 3.4 3 2.8 3 1.3 3-.1 3-.4 3-.3 3-1.1 3-1.7 3-1.5 3-.4 3 1.9 3 2.5 3 1.6 3 3.2 3 5 3 3.1 3 .5 3-.6 3-2.1 3-2.2 3-.9 3-1.4 3-2.6 3-3.1 3-3.3 3-2.2 3-1.2 3-.6 3 0 3 1.6 3 4.4 3 6.9 3 5.6 3 .7 3-3.6 3-4.5 3-2.5 3 1.7 3 2.6 3-2.7 3-6.1 3-1.9 3 4.4 3 7.4 3 4.2 3-2.4 3-4.9 3-3.1 3-2.2 3-2.5 3-1.8 3-1.2 3-1 3 1.3 3 4.6 3 5 3 1.8 3-2.6"/>
<path d="M35.5 367.2l3 1 3 5.7 3 5.1 3 1.5 3-1.8 3-3.3 3-2.4 3-1.3 3-.5 3 .4 3 .7 3 1.6 3 2.2 3 1 3-1.8 3-4.3 3-2.8 3 .7 3 1.1 3-.9 3-.1 3 4.1 3 6.6 3 4.5 3 1.2 3-1.6 3-3.9 3-5.1 3-4.1 3-.8 3 1.7 3 1.3 3-.5 3-.9 3 .5 3 1.8 3 1 3-1.2 3-1.5 3 1.5 2 2.6 1 1.4 1 1.4 2 2.4 2 1.5 1 .4 1 .1 2 .4 2 2.9 1 2.1 1 1.8 2 1.5 2-1.1 1-.7 1-.2 2 1.5 2 3.9 1 2.3 1 2.2 2 3.4 3 1.6 3-1.7 3-3 3-1.8 3 .5 3 1.8 3 .4 3-2 3-3.4 3-3 3 0 3 3.1 3 3.4 3 1 3-.8 3 .2 3 .2 3-2.9 3-3.7 3-1.1 3-.1 3-.2 3 .4 3 .9 3 .1 3-3.2 3-3.5 3 .6 3 3.1 3 3.6 3 2.4 3-1 3-3 3-2.1 3-.9 3-.2 3-.2 3-.1 3 2 3 2.6 3-2.3 3-7.8 3-7.1 3-.9 3 3.8 3 3 3 1 3 1 3 .1 3-3.2 3-4.9 3-2.7 3 1.6 3 5.5 3 5.2 3 .5 3-2.7 3-.5 3 1.6 3-.4 3-.7 3 2.9 3 3.2 3-1 3-3.3 3-1.7 3 .5 3 1.2 3 .5 3-.8 3-3.1 3-3.9 3-2.2 3-1.1 3-.8 3 .9 3 2.5 3 2.7 3 2.7 3 2 3 .9 3 .1 3 .1 3 .4 3-1.5 3-3.9 3-3.1 3-.1 3 .8 3 .4 3 1.5 3 4.2 3 5.7 3 3.7 3-.6 3-4.3 3-5.5 3-3.5 3-.8 3 .9 3 1.8 3 1.7 3 .9 3-1.1 3-4.2"/>
<path d="M35.5 376.3l3 1 3 3.7 3 3.6 3-.1 3-3.9 3-4.2 3-1.9 3-.1 3-.2 3-1.9 3-1.9 3 1.9 3 3.8 3 2.4 3 .2 3-.7 3-2.8 3-5.6 3-4.8 3-.7 3 2.3 3 3.4 3 4 3 4.2 3 1.9 3-.3 3-.8 3-.8 3-.8 3-1.3 3-1.3 3-1 3-.3 3 1.1 3 2.1 3 .7 3-1.7 3-.5 3 3.1 3 3.7 2 .7 1-.4 1-.7 2-1.9 2 .2 1 2.1 1 3.5 2 8.8 2 6.4 1 .6 1-.5 2-3.6 2-4 1-1.4 1-.8 2 .1 2 .9 1 .3 1 0 2-.7 3-.7 3 1.6 3 1.8 3-.5 3-1.9 3-.7 3 .7 3 .3 3-.9 3-.6 3-.1 3-.8 3-.3 3 1.5 3 1.3 3-.4 3-.2 3 2.6 3 6.1 3 6.2 2 1 1-.8 3-5.6 3-4.3 3-2.5 3-5.1 3-4.5 3 .5 3 3.5 3 2.1 3-1.3 3-4.7 3-5.6 3-.7 3 4.7 3 5.8 3 2.6 3-2.3 3-4.3 3-2.5 3-.3 3 1.1 3 1.1 3-1.9 3-2.8 3 1.1 3 3.3 3 0 3-5 3-5.7 3-1.1 3 3.2 3 4.4 3 2.9 3-.7 3-3.7 3-2.2 3 .9 3 .9 3-1.2 3-1.1 3 2.4 3 4.1 3 .4 3-2.6 3-2 3-.5 3 .5 3 1.6 3 3.8 3 6 3 4.3 3 .3 3-2.1 3-2.2 3-2.6 3-3 3-1.7 3-.1 3 1.5 3 1.3 3-.7 3-.2 3 2.9 3 2.9 3-1.6 3-5.1 3-3.8 3-1.1 3-.6 3 1.4 3 5.7 3 5.1 3-.4 3-4.2 3-4.5 3-1.8 3 1.3 3 2.4 3 2.4 3 1.1 3-.8 3-2.6 3-3.4 3-1.3 3 2.5"/>
<path d="M35.5 377.6l3 1.3 3 1.9 3-.3 3-3.3 3-4.7 3-3.8 3-1.8 3-.8 3-.3 3 1.1 3 2.3 3 2.2 3 2.4 3 3.1 3 2.1 3-1.4 3-2.6 3-.7 3 .9 3 .8 3 .4 3 .2 3-.1 3 .4 3 1.5 3 2.2 3 .3 3-2 3-1 3 1.4 3 .2 3-2.8 3-3.4 3-.4 3 2.6 3 2.5 3 .7 3 .1 3 .6 3 .7 2 0 1-.1 1-.2 2-.3 2 1.8 1 2.4 1 3.2 2 7 2 4.3 1 .8 1 .3 2 .2 1 0 1-.1 1-.3 1-.5 2-1.8 2-2.1 1-1 1-.9 2-.8 3 .8 3 1.1 3-1.3 3-2.5 3-1.9 3-2.6 3-2.2 3 1.1 3 2.8 3 2.4 3 2.7 3 2.6 3 1.5 3 .8 3-1.6 3-4.2 3-4.6 3-4.3 3-2.7 3-.2 3 .9 3 1.7 3 2.2 3 1.3 3-1.3 3-2.4 3-.1 3 1.9 3 1.3 3-1.9 3-5.4 3-6 3-3.3 3-.4 3 1.5 3 2.2 3 2.2 3 1.3 3 0 3 1 3 3.5 3 3.5 3 1.3 3-.7 3-1.2 3-1 3-.9 3-.7 3 0 3 1.4 3 1.9 3 .8 3-.2 3-.1 3 1.7 3 2.9 3-.1 3-3.4 3-2 3-.9 3-3.2 3-4.4 3-1.7 3 2.9 3 5.2 3 1.7 3-3.5 3-3.6 3-.1 3 2.8 3 2.9 3 1.5 3 .5 3-1.6 3-4.3 3-3.3 3-.2 3 1.1 3 .9 3 1.5 3 2.1 3 1.2 3 1 3 1.6 3-.2 3-2.5 3-.4 3 3 3 2.5 3-.7 3-1.7 3-2.4 3-3.6 3-2.4 3 .8 3 3.2 3 1.6 3-2.7 3-3.4 3-.5 3 2.1 3 4.7 3 6.3 3 2 3-3.9"/>
<path d="M35.5 373.8l3-2.8 3-1 3 2.3 3 3.3 3 2.3 3 2.4 3 2.1 3 0 3-.3 3 2 3 2.3 3-1.9 3-4.1 3-1.8 3 .4 3 1 3 .2 3-2.2 3-3.4 3-3.4 3-2.9 3 .3 3 3.2 3-.1 3-4.8 3-3.5 3 2.2 3 3.8 3 .7 3-.7 3-1.2 3-2.3 3 .5 3 3.8 3 2.2 3-.7 3-.3 3 3.1 3 3.2 3-.9 2-2.6 1-1.5 1-1.2 2-1.5 2 .6 1 1 1 1.9 2 7.7 2 10.6 1 4.5 1 3.3 2 2.2 2-1 1-.9 1-1 2-2.1 2-1.8 1-.6 1-.4 2 .1 3 2.3 3 2.8 3 .3 3-.7 3 1 3 1.1 3-1.1 3-1.5 3 .6 3 .9 3-1.9 3-3.4 3-4 3-3.4 3-1.7 3-3 3-6.2 3-5.3 3-.6 3 2.9 3 4.1 3 5.3 3 5.3 3 1.5 3-1.6 3 .2 3 3.8 3 3.8 3-.1 3-1.9 3-2 3-5.2 3-6.6 3-1.4 3 3.9 3 2.7 3-1.9 3-2.4 3 1.4 3 3.8 3 3 3 1.6 3-.7 3-3.9 3-4 3-1.1 3 .2 3-.6 3-1.6 3-2.1 3-2.2 3 .3 3 4.6 3 3.9 3-.8 3-1.1 3 1.2 3 1 3 .6 3 1.7 3 1.7 3-1.1 3-4.6 3-4.7 3-1.3 3 2.8 3 5.2 3 4.8 3 .7 3-3.9 3-2.9 3 1.2 3 2.3 3 1.6 3 .8 3 0 3-1.1 3-2.7 3-3.2 3-3 3-2.8 3-1.1 3 1 3 1.4 3 .3 3-1.1 3-1.5 3-.4 3 1.6 3 3.1 3 3.6 3 3.4 3 2.6 3 .8 3 .1 3-.4 3-3.4 3-4.7 3-2.7 3-.7 3-.8 3-1.1 3-.8 3-2.3 3-2.6"/>
<path d="M35.5 384.8l3-1 3-2.8 3-3.9 3-3.5 3-1.4 3-1.5 3-1.7 3 .4 3 .2 3-2.3 3-1.5 3 2.3 3 3.4 3-.4 3-2.6 3 .5 3 4.2 3 3.5 3-.1 3-2.8 3-3.6 3-2.2 3 1 3 2.2 3 .4 3-.4 3 .9 3-.1 3-3.5 3-4.9 3-2.7 3 2 3 3.7 3 1.4 3-.5 3-.9 3-.3 3 2.1 3 3.1 3 2.7 2 2.2 1 1.3 1 1.2 2 1.7 2-.4 1-.9 1-.5 2 2.4 2 6.9 1 4.1 1 3.8 2 4.5 2 3.5 1 1.6 1 1.7 2 2.3 1 .4 1-.2 1-.8 1-1.2 2-3.4 3-5.8 3-3.9 3-1.2 3-.6 3-1.4 3-1.5 3-.9 3-1.1 3-1.7 3-2.1 3-1.4 3 .8 3 1.6 3 .6 3-.3 3-1 3 0 3 .2 3-.5 3 .4 3 0 3-3.2 3-4.3 3-1.9 3 1 3 1.3 3-.4 3-1.8 3-1 3 1.2 3 1.6 3-.9 3-1.6 3 2.3 3 5 3 1.7 3-2.7 3-2.5 3 .9 3 2.8 3 3.2 3 1.8 3-1.5 3-2.6 3-.1 3 1.4 3 2.1 3 2.8 3 .4 3-2.2 3-.2 3 1.6 3-.7 3-4 3-4.4 3-3.7 3-2.4 3 1.3 3 5 3 4.1 3-.1 3-1.5 3 1.2 3 2.4 3 .4 3-2.4 3-4.1 3-3.4 3 0 3 2.7 3 3.3 3 2.4 3 .3 3-1.3 3-1.1 3-1.6 3-2.6 3-.9 3 1.8 3 1.3 3-2.6 3-4.3 3-1.3 3 2.5 3 3.2 3 1.8 3 .6 3-.5 3-.8 3 .1 3 .3 3 .9 3 2.2 3 .5 3-3 3-3.1 3 .4 3 2.2 3 .7 3-1 3-1.4 3-2.2 3-3.4 3-3.5 3-.5"/>
<path d="M35.5 373.7l3 2.7 3-.6 3-1.3 3-2.1 3-1.7 3 3.1 3 5.9 3 .1 3-7 3-4.9 3 1.9 3 3.9 3 1.9 3 1.5 3 1.1 3-.8 3-1.1 3 .3 3 .3 3-1.2 3-1.8 3-.4 3 1 3 .3 3-.1 3 .8 3-.3 3-2.7 3-2 3-.4 3-1.3 3-1.2 3 1.3 3 2.3 3 1 3-.7 3-2.2 3-2.6 3-1.9 3 .1 2 1.7 1 1.6 1 1.9 2 4.6 2 5 1 2.3 1 2.4 2 6.2 2 8.4 1 4.6 1 4.1 2 6.1 2 1.1 1-.5 1-.7 2-1.7 2-1.9 1-1.2 1-1.4 2-2.6 3-1.5 3 1.7 3 1.1 3-.8 3-.2 3-1 3-4.9 3-5.8 3-2.7 3 1.8 3 4.1 3 2 3-1.1 3-1.7 3-1.9 3-2.5 3 0 3 3.5 3 4.9 3 3.4 3-1.5 3-5.2 3-3.3 3-.3 3-2.2 3-5.9 3-3.8 3 2.6 3 4.1 3-.7 3-4.2 3-3.2 3-1.9 3-1.7 3-.7 3-.1 3 1.6 3 4.7 3 4.7 3 2.5 3 1.5 3 .1 3-2.3 3-3.4 3-1.4 3 1.4 3 2.4 3 .3 3-2.3 3-1.8 3-.3 3-1.2 3-1 3 2.5 3 4.4 3 2.3 3-1 3-3.2 3-3.7 3-1.8 3 .9 3 1.2 3-1 3-3.4 3-2.8 3 0 3 2 3 2.2 3 1.4 3 1 3 1.9 3 1.5 3-.5 3-.6 3 .5 3 1.4 3 1.3 3-.3 3-.7 3-1.2 3-4.4 3-5.6 3-2.7 3-.1 3 1.5 3 3.8 3 4.6 3 2.3 3-.8 3-2.8 3-3 3-.3 3 2.3 3 .8 3-2.4 3-3.7 3-3.2 3-1.4 3 1.3 3 2.5 3 1.9 3 1.8 3 1.9 3 1.3 3 1"/>
<path d="M35.5 374.4l3 2.7 3-1 3-2.7 3 .5 3 4.8 3 3.4 3-1.9 3-3.3 3-1.1 3-1.3 3-1.7 3 2.9 3 7.1 3 4.2 3-1.7 3-3.7 3-1.1 3 1.9 3 2 3-1.2 3-4.9 3-6.7 3-4.2 3 .7 3 1.1 3-2.5 3-2.5 3 0 3 1.5 3 3.1 3 4.8 3 4.8 3 4.3 3 1.7 3-3.1 3-4.2 3-1 3-.3 3-3.3 3-5 2-2.6 1-.7 1-.2 2 1.2 2 3.3 1 2.6 1 3.6 2 9.8 2 10.6 1 4.3 1 3.2 2 2.4 2-.6 1-.7 1-.9 2-1.6 2-1.5 1-.7 1-.7 2-1.4 3-1.7 3 .8 3 3.2 3 3.7 3 2.6 1 .2 2-.9 3-4.1 3-4.9 3-3.7 3-2.8 3-1.6 3 1.2 3 3.6 3 4 3 2.9 3-.1 3-2.9 3-2.5 3-.6 3 .3 3-.5 3-1.6 3-.5 3 2 3 1.5 3-2 3-3.4 3-2.3 3-.8 3 1.2 3 2.2 3 .2 3-2.3 3-2 3 0 3 2.1 3 3.2 3 1.9 3-1.2 3-2.5 3-.8 3-.4 3-2.7 3-3.8 3-3.4 3-1.4 3 1.9 3 4.3 3 4.4 3 2 3-.8 3-1.4 3-1 3-1.3 3-2.1 3-1 3 .1 3-1.2 3-2.1 3 .3 3 2.1 3-.2 3-1.5 3 .4 3 3.6 3 4.8 3 3.4 3 1.5 3-1.2 3-3.9 3-2.8 3 1 3 1.7 3 .5 3 .5 3 .5 3 .3 3-.4 3-2.8 3-4.7 3-2.9 3-.7 3 .2 3 2.2 3 4.8 3 4.4 3 1 3-1 3-1.8 3-3.1 3-2 3 1 3 1.1 3-1.1 3-3.4 3-3.4 3-.4 3 1.5 3 0 3-3 3-3 3 1.8 3 4.3 3 1 3-1.3"/>
<path d="M35.5 374.3l3-1.3 3-1.4 3-.2 3-.5 3-2.1 3-.4 3 3.2 3 3 3 0 3-.4 3 .4 3-1.5 3-2.2 3 1.7 3 4.3 3 .9 3-4.4 3-4 3 0 3 .7 3 .4 3 2.2 3 3.8 3 1.7 3-.9 3 .8 3 3.1 3 .2 3-3.6 3-3.7 3-1.7 3-1.2 3-2.2 3-.5 3 4.9 3 7.4 3 2.4 3-4.1 3-4.9 3-1.2 2 1.3 1 1 1 1 2 1.9 2 1.2 1 .3 1 0 2 .8 2 5.2 1 4.3 1 5 2 9.4 2 4.8 1 .2 1-.5 2-2 2-2.4 1-1.3 1-1.3 2-2.4 3-1.9 3 1 3 .6 3-1.8 3-1.8 3 .5 3 .3 3-1.3 3 .6 3 5 3 4.4 3-1.1 3-3.5 3 .3 3 4 3 .9 3-4 3-4.7 3-2.5 3-.7 3-.3 3-1.2 3-1.3 3-1.4 3-2 3-.8 3 .7 3 .4 3-.1 3-.1 3-.3 3-2.6 3-5.5 3-3.3 3 3.3 3 6.7 3 4.3 3-.5 3-3.5 3-2.1 3 .8 3 1.5 3-.1 3-2.4 3-3.1 3-1.8 3 .8 3 3.5 3 2.2 3-.7 3 .5 3 3.1 3 2.5 3-1.3 3-3.8 3-3.8 3-4.1 3-4.5 3-2.8 3 1.4 3 3.6 3 .3 3-3.3 3-3.2 3 .2 3 4.7 3 6.1 3 3.9 3 3 3 2.9 3 .2 3-3.9 3-5.7 3-4.9 3-3.3 3-.1 3 2.2 3 2.2 3 3 3 2.5 3-1.4 3-4.5 3-3.5 3 1.6 3 4.1 3 1.4 3-.1 3 .3 3-1.2 3-1.7 3 .4 3 2.3 3 2.3 3 .9 3-.8 3-2.2 3-3.7 3-3.3 3-.2 3 3.3 3 3.4 3-.3 3-4.7 3-4.8 3-.1"/>
<path d="M35.5 386.1l3-.5 3-1.1 3-2.2 3-3.5 3-2.5 3-.2 3 1 3-.1 3-2.8 3-3.7 3-2 3 .4 3 .9 3 .3 3 .5 3 1.1 3 2 3 2.6 3 .9 3-1 3-.3 3 1.4 3 2.6 3 2.8 3 .1 3-4.2 3-6 3-4.5 3-.8 3 3.5 3 3.4 3-1.2 3-3.4 3-1.6 3 2.2 3 4.7 3 3.5 3-.2 3-2.5 3-2.8 2-1.7 1-.7 1-.5 2-.7 2 .2 1 .5 1 1.3 2 6.8 2 11.6 1 6.4 1 5.9 2 7.8 2 1.8 1-.5 1-1.1 2-3.4 2-3.4 1-1.4 1-1.2 2-1.3 3 .1 3 1.9 3 2.6 3 2 3 0 3-2.4 3-3.3 3-1.4 3 .6 3 .8 3-.3 3-1.4 3-2.9 3-3.2 3-.9 3 1.3 3 1.1 3 .5 3 .8 3 2.1 3 1.8 3-.6 3-2.1 3-1 3 1.1 3 1.4 3-1.6 3-4.3 3-2.1 3 1.5 3 1.4 3-.1 3-.8 3-1.7 3-2 3-.4 3 1.2 3 1.6 3 .6 3-1.7 3-3.8 3-3 3-.6 3-.4 3-1.2 3-.9 3-.3 3-1.2 3-1.2 3 1.5 3 4.9 3 5.2 3 2.2 3-.4 3-.5 3-1.8 3-4.7 3-4.4 3-1.5 3 .1 3-.2 3 .3 3 2.2 3 3.3 3 1.6 3-.8 3-1 3-1.4 3-1.4 3 1.4 3 2.9 3 .2 3-1.3 3 .8 3 2.2 3 .8 3 .5 3 1.6 3 1.5 3 .3 3-1.3 3-2.6 3-2.1 3-1.2 3-.6 3 .4 3 1.4 3 1.4 3 .4 3-.6 3-.8 3-2.5 3-4.2 3-.9 3 4 3 4.7 3 2.2 3 .6 3 1.1 3-.2 3-4.1 3-4.7 3-.8 3 2 3-.3"/>
<path d="M35.5 383.6l3 4.1 3 1.3 3 0 3-1.5 3-3.1 3-2.3 3-1 3-1.6 3-1.9 3 0 3 3.2 3 4.1 3 1.6 3-.3 3-.4 3-1.2 3-2.4 3-2.7 3-1.9 3-1.3 3-2 3-2.6 3-2.9 3-4.4 3-4 3-1.2 3 1 3 2 3 3 3 2.8 3 1.7 3 .6 3-1.1 3-3.3 3-2.7 3 2.6 3 5.7 3 3.8 3 1.8 3 1.3 2 .6 1 0 1-.1 2 .3 2 6.9 1 5.7 1 5.7 2 6.7 2 .1 1-.9 1-.8 2-.3 2 1.3 1 1.1 1 1.2 2 2.1 2 1.6 1 .8 1 .8 2 1.5 2 .7 1-.3 3-3.1 3-2.5 3 .7 3 1.9 3 1.1 3 0 3-.2 3-.4 3-1.5 3-1.9 3-2.3 3-3.2 3-4.1 3-3.6 3-.9 3 2.8 3 4.5 3 2 3-1.7 3-2.4 3-2.1 3-3.2 3-3.8 3-1 3 2.9 3 3.8 3 1 3-2 3-2.5 3-2.7 3-2.6 3 .7 3 3.3 3 2.6 3 .4 3-.9 3-1 3-.8 3 0 3 .2 3-1 3-.9 3 1.8 3 2 3-1.4 3-3.2 3-1.8 3-1.1 3-1.1 3 .4 3 3.4 3 5.7 3 3.4 3-2.6 3-4.8 3-2.9 3-1.8 3-2 3-.9 3 0 3-1.4 3-3.6 3-2.7 3 1.8 3 5.1 3 4.4 3 1.7 3 .1 3-.7 3-.9 3 .4 3 .9 3 .2 3-.2 3 .1 3 .5 3 1.2 3 2.8 3 3.2 3 .1 3-4.8 3-7 3-4.2 3-.3 3 .6 3-.9 3-.7 3 1.5 3 3.8 3 4.4 3 1.7 3-3.1 3-6.4 3-4.5 3-.2 3 2.4 3 2.1 3-.4 3-2.3 3-.1 3 3 3 2.7 3 .1 3-1.8"/>
<path d="M35.5 376.2l3-7.3 3-4 3 .5 3 4.1 3 4.9 3 1.9 3-.8 3-1.4 3-.7 3 .2 3-2 3-3.5 3 0 3 1.5 3-.8 3-.7 3 2.7 3 5 3 2.8 3-1.4 3-1.1 3 2.5 3 4.3 3 4.3 3 2.9 3-1.2 3-4.9 3-3.7 3-.1 3-.4 3-4 3-6.4 3-3.7 3 1 3 3.8 3 5.2 3 5.3 3 2.6 3 .4 3 .8 2 1.1 1 .2 1 0 2-1.5 2-2.5 1-1.3 1-.7 2 7.8 2 19.4 1 8.3 1 5.1 2 3.9 2 1 1 .2 1-.1 2-.4 2-.3 1-.2 1-.2 2-1.2 3-4 3-4.2 3-1.5 3 .3 3-.4 3-2 3-3 3-3.5 3-2.8 3-1.3 3-1.1 3-1.8 3-1.2 3 1.3 3 2.5 3 1.8 3 .3 3 .5 3 2.1 3 .4 3-2.3 3-2 3-1.6 3-1.6 3-2.8 3-3.7 3-.4 3 2.3 3 .3 3-3.2 3-4.5 3-2.3 3 1.1 3 1.1 3-.6 3 0 3 1.9 3 .8 3-1.8 3-1.4 3 .6 3 1.6 3 2.4 3 2.3 3-1 3-4.6 3-5.6 3-2.6 3 2.8 3 4.7 3 2.3 3 1 3-.2 3-2.4 3-2.8 3-.2 3 1.5 3 .6 3 1.6 3 5.3 3 5.3 3 1.3 3-2.7 3-4.3 3-4.5 3-4.5 3-3.9 3-1.7 3 1.6 3 2.8 3 3.2 3 3.6 3 1.7 3-1 3-2.7 3-2.1 3-1.5 3-2.1 3-.7 3 1.9 3 3.3 3 2.5 3 0 3-2.1 3-1.5 3 .2 3-.8 3-3.5 3-2.8 3 1.2 3 2.4 3 1.6 3 2.6 3 1.9 3-.8 3-.9 3 1.1 3 .7 3-1.1 3-.1 3 1.8 3 .2 3-1.1 3 .8 3 1"/>
<path d="M35.5 374.4l3 .7 3 2.7 3 2.9 3 1.4 3 1.2 3 2 3 1.4 3 .2 3-.1 3-.4 3-.4 3-.3 3-.6 3-.4 3-1.2 3-3.3 3-3.8 3-2.3 3-.2 3 2.4 3 3.6 3 .9 3-2.9 3-4.2 3-4 3-1.1 3 1.9 3 1.1 3-1.1 3-.4 3 1.3 3 1.4 3 .3 3-1.4 3-2.2 3-.3 3 2.1 3 3.1 3 3.2 3 1.1 2-.9 1-.7 1-.7 2-.8 2 .3 1 1.6 1 3.8 2 13.1 2 12.7 1 3.3 1 1 2-1.4 2-1.7 1-.2 1 .2 2 1.5 2 2.1 1 .9 1 .8 2 1.1 2 .4 1-.2 3-2.3 3-3.2 3-1.3 3-1.5 3-3.7 3-2.2 3 1.7 3 4.3 3 3.8 3 1.8 3-.6 3-3.4 3-4.2 3-2.6 3-3 3-6.2 3-6 3-.8 3 2.4 3 .9 3-1.3 3-.7 3 1.3 3 2.3 3 .9 3-1.2 3-.7 3 1.5 3 1.4 3 1.1 3 2.4 3 2.1 3-.4 3-3.9 3-5.3 3-3.8 3-1.6 3 .8 3 2.3 3 3.5 3 2.2 3-3.3 3-6.2 3-2.5 3 3.3 3 4.2 3 .1 3-2.2 3-1.5 3-.9 3 .1 3 3.4 3 5.3 3 3.3 3-.5 3-2.3 3-2.6 3-2.6 3-1.8 3-.4 3-.1 3-2.1 3-2 3 1.3 3 1.5 3-1.3 3-2.4 3-2 3-.8 3 .2 3 .6 3 1.6 3 2.3 3 .5 3-1.4 3-1 3 .7 3 .9 3-.7 3 0 3 3.6 3 4.5 3 1.4 3-1.9 3-3.4 3-3.4 3-2.3 3-2.1 3-2.9 3-1.8 3 .4 3 1.6 3 3.5 3 5 3 2.8 3-.1 3 .1 3 2.2 3 2.7 3 1.3 3 .2 3-.8 3-3.4 3-6.1"/>
<path d="M35.5 371l3-1.5 3 .2 3 3.2 3 3.5 3-.6 3-2.2 3 1.1 3 2.5 3-1.3 3-4.9 3-3.3 3 2.3 3 4 3 .3 3-1.5 3-.4 3-.5 3 .4 3 .9 3-.9 3-2.6 3-2.9 3-1 3 .9 3-.7 3-1.8 3 1.7 3 5.7 3 3.9 3-.8 3-2.2 3-.7 3-.4 3-.3 3 .5 3 1.1 3-.6 3-2.8 3-3.4 3-1.9 2 1 1 1.1 1 1.6 2 10.4 2 21.8 1 10.1 1 6.3 2 3.1 2-1.4 1-1 1-1 2-1.9 2-1.6 1-.8 1-.9 2-1.8 2-.8 1 .3 1 .9 2 2.7 3 2.1 3-4 3-6 3-2.6 3 1.7 3 3.4 3 2.7 3 1.7 3-1.2 3-3.9 3-2.2 3-.2 3-.9 3-1.4 3-1.6 3-2.2 3-2.2 3-3.5 3-3.4 3-.8 3 .3 3-1 3-.5 3 2.2 3 4.5 3 4.3 3 1.3 3-1.2 3-2 3-3.9 3-3.9 3 0 3 2.3 3-.2 3-3.3 3-4 3-2.8 3-1.3 3 .7 3 2.9 3 2.5 3 0 3 .1 3 2.1 3 1.7 3-.6 3-1 3 .3 3 .6 3-1.2 3-2.5 3-2.2 3-1.4 3 1.1 3 3.4 3 3.7 3 4 3 1.6 3-2.7 3-2.9 3 0 3 1.5 3 1.8 3 1 3 .2 3-1.1 3-1.5 3-1.3 3-1.8 3-.8 3-.8 3-1.9 3 .4 3 3 3 2.4 3 .5 3-1.4 3-4.1 3-6.7 3-5.9 3-.8 3 3.8 3 4.3 3 2.5 3 .5 3-1.9 3-2.3 3-1.1 3 .7 3 1.9 3 1.2 3 .8 3 1 3-.4 3-2.2 3-2.6 3-1.1 3 .4 3 2.2 3 3.4 3 2.5 3 1 3-.1 3-.1 3 2"/>
<path d="M35.5 380.7l3 .4 3 .8 3 .2 3-3.2 3-2.5 3 1.9 3 3.8 3 2.2 3 .5 3-2.1 3-5.3 3-3 3 2.3 3 3 3-.5 3-3.1 3-2.3 3 .8 3 1.2 3-.4 3 1.7 3 2.7 3-.8 3-3.5 3-2.2 3 1.4 3 3.1 3 2 3 1.6 3 1.8 3 .2 3-2.4 3-3.1 3-1.1 3 .4 3-1.2 3-1.9 3 1.5 3 4.5 3 3.6 2 .6 1-.3 1-.9 2-3 2-2.6 1 1.1 1 3.2 2 12.1 2 13.4 1 4.7 1 2.4 1 .7 1-.3 2-2.1 1-1 1-.7 2-1 2-1.2 1-.9 1-.8 2-1.4 3-.3 3 1.1 3 1.4 3 .8 3 .1 3 .2 3-.6 3-1.5 3-.6 3 1.5 3 .4 3-3.2 3-4.3 3-2.3 3-.1 3 .9 3 .1 3-2.1 3-2.8 3 0 3 3 3 3 3 2.4 3 2.3 3 .5 3-1.5 3-1.2 3-.3 3-1.6 3-3.8 3-4 3-2.8 3-1 3 0 3-1.1 3-2 3-1.1 3 1.1 3 3.9 3 4.6 3-.6 3-7.4 3-7.2 3-1.3 3 4.3 3 5.4 3 3.2 3 1 3-.6 3-3.4 3-5.4 3-3.3 3 1.3 3 3.3 3 .7 3-1.7 3-1.5 3 .2 3 3.4 3 2.9 3-1.4 3-1.5 3 1.2 3 2.1 3 2.5 3 .8 3-3.3 3-5.4 3-2.9 3 1 3 3 3 2 3-1.3 3-3.2 3-2.4 3-.5 3 .2 3 .7 3 2.9 3 3.6 3-1.1 3-6.1 3-4.9 3 .2 3 3.3 3 2.8 3 1.8 3 2.4 3 2 3-.6 3-2.2 3 .2 3 2.2 3 1.6 3 .6 3 1.1 3-.6 3-4.5 3-6.9 3-4.5 3 1.8 3 5.7 3 3.9 3 .5 3-2.4"/>
<path d="M35.5 380.6l3 1.8 3 3.6 3 1.2 3-1.7 3-2.1 3-2.5 3-1.5 3 1.4 3 .3 3-3.4 3-3.3 3-1.5 3-1.1 3-1.5 3-1.2 3 1 3 3.5 3 2 3-2.1 3-4.1 3-2.5 3 1.1 3 2.3 3-.4 3-2.6 3-1.6 3 1.6 3 4.3 3 4 3 .1 3-1.5 3 0 3-.9 3-1.7 3 .6 3 2.7 3 1.9 3-.3 3-.8 3-.4 2-.4 1-.2 1-.1 2 .4 2 3.1 1 4 1 5.6 2 13.6 2 11.7 1 3.8 1 2.7 2 3.3 2 2.1 1 .7 1 .3 2-.5 2-1.5 1-.9 1-.8 2-1.1 3-.3 3 .9 3-.7 3-4.2 3-4.8 3-2.7 3-.8 3-.5 3-1.2 3-.1 3 2.3 3 3.1 3 1 3-1.8 3-3 3-2.3 3-1.3 3 .1 3 3.2 3 4.4 3-1 3-5.6 3-3.2 3 1 3 3.3 3 2.9 3-.8 3-4.2 3-3 3 .2 3 1.5 3 .6 3-.2 3 0 3 1.2 3 .8 3-2.7 3-4.9 3-3 3-.2 3 1.9 3 2.2 3-1.1 3-3.6 3-1.4 3 1 3-1.1 3-2.7 3-1.4 3 .5 3 2.1 3 2.1 3 .7 3-.2 3-1.2 3-1.7 3-1 3-1.1 3-1.6 3-1.2 3 .1 3-.2 3-1.3 3-.8 3 .9 3 1 3 .3 3 .8 3 .7 3-1.5 3-2.4 3-.9 3 .9 3 1.6 3 .8 3 .4 3 1.4 3 .2 3-2.7 3-3.3 3-1.3 3 1.7 3 3.7 3 2.9 3-.2 3-2.6 3-3.9 3-2.6 3 1.4 3 3.9 3 3 3 1.5 3 .7 3 .1 3-.8 3-.8 3 .1 3 .5 3 .3 3-1.1 3-2.7 3-1.9 3 .5 3 1.1 3-1"/>
<path d="M35.5 367.8l3-3.7 3-3 3 1.5 3 5.4 3 5.2 3 1.6 3 .1 3 .3 3-1 3-1.6 3 .7 3 3.6 3 3.1 3 .3 3 .2 3 1.4 3-1.4 3-3.8 3-.9 3 2.7 3 2.7 3-.9 3-2.5 3 .3 3 .8 3-2 3-2.9 3-1.4 3 1.1 3 3.4 3 2.3 3-1.4 3-4.3 3-4.7 3-2.3 3 1 3 3 3 3.3 3 .8 3-1.2 2 0 1 .6 1 .9 2 8.1 2 25 1 12.4 1 7.3 1 2.5 1 0 2-2 1-1.2 1-1.2 2-3.3 2-4 1-1.9 1-1.7 2-2.5 2-1.8 1-1 1-1.2 2-2.4 3-1.5 3 2 3 3 3 1.3 3-1.8 3-5.8 3-7.5 3-3 3 1.5 3-.9 3-2 3 1.5 3 1.9 3-1.9 3-2 3 2.6 3 4.5 3 .2 3-4.5 3-6.3 3-4.7 3-.5 3 2.9 3 4.1 3 2.7 3-.7 3-3.2 3-2.2 3-.2 3-.9 3-1.8 3 .7 3 3.4 3 .9 3-4.5 3-4.7 3-.4 3 1.3 3-.6 3-2.3 3-1.1 3 2.7 3 6 3 5.3 3 1.3 3-2.9 3-4.6 3-3.1 3-2 3-2.6 3-1.2 3 1.9 3 1.7 3-1.6 3-3.1 3 .5 3 4.1 3 2.1 3-1.2 3-1.7 3-.5 3 2.6 3 4.1 3-.1 3-3.4 3-.5 3 1.4 3-.2 3-.6 3 .2 3 .9 3 .9 3-.2 3-1.7 3-2.7 3-1.6 3 1.2 3 1.7 3 0 3-1.4 3-1.2 3-.1 3 1.7 3 2.8 3 .8 3-2.4 3-1.3 3 2.1 3 2.2 3-.5 3-4.7 3-7.7 3-5.1 3 2.1 3 6.6 3 5 3-.1 3-3.1 3-3 3-1.6 3 1.6 3 3.8 3 3.5 3 1.5 3-1"/>
<path d="M35.5 380.6l3-3 3-4.2 3-2.3 3 .1 3 .5 3 1 3 1 3-1.9 3-3.9 3 0 3 6 3 5.9 3-.4 3-5.9 3-5.4 3-1.2 3 2.3 3 4.2 3 2.5 3-.3 3-1.5 3-2.7 3-1.8 3 .6 3 1.5 3-.5 3-1.6 3 1.1 3 4 3 3.9 3 1.2 3-2 3-4.4 3-4.4 3-.2 3 3.7 3 3 3 1.3 3 1.9 3 2.5 2 .9 1 .1 1 .1 2 12.7 2 24.7 1 7.3 1 1.9 2-2.4 2-3.7 1-1.8 1-2 2-4.2 2-4.1 1-1.8 1-1.4 2-1.6 2-.3 1 .1 1 .1 2 .2 3 .5 3 2.4 3 4.3 3 4.2 3 .6 3-3.3 3-4.7 3-3.5 3-2 3-1.8 3-2.7 3-4.2 3-5.2 3-3.6 3-1.9 3-3.1 3-4.1 3-2.1 3 1.3 3 2.2 3 .7 3 .7 3 3.4 3 4.4 3 1.9 3-.4 3 .2 3 1 3 .3 3-1.4 3-3.4 3-4.2 3-3.7 3-2.7 3-.2 3 3.1 3 3.8 3 2 3 1.3 3 .6 3-.7 3-1.1 3-1.2 3-1.9 3-1.7 3 1 3 3.5 3 3.5 3 2.5 3 2.4 3 1.8 3-.4 3-4.3 3-6.9 3-5.3 3-3 3-.9 3 .9 3-2 3-6.6 3-3.4 3 4.6 3 7.4 3 4.5 3 1 3-.5 3-1.3 3-1 3 2.2 3 3.5 3 .6 3-2.1 3-3.6 3-3 3-.8 3-.7 3-2.5 3-1.5 3 1.4 3 2 3 .9 3 1.4 3 3.2 3 3.9 3 2.5 3-.5 3-3.1 3-3.7 3-1.8 3-.2 3 .5 3 2.3 3 2 3-1.5 3-2.3 3-1 3-2.1 3-3.4 3-.6 3 4.3 3 4.7 3 0 3-3.4 3-2.1 3 1.4"/>
<path d="M35.5 374.2l3-4.2 3 1.7 3 5.8 3 3.6 3-.3 3-3.1 3-3.9 3-3.8 3-3 3-.4 3 .9 3 .7 3 3.4 3 5.6 3 3.1 3 .3 3-.7 3-.1 3 1.2 3 1.1 3-.8 3-4.6 3-6.2 3 .6 3 8 3 5.6 3-2 3-2.5 3 1 3 .2 3 .9 3 3.5 3-.2 3-3.6 3-3.8 3-3.3 3-.9 3 .3 3-.7 3-.7 2-.1 1 .1 1 .3 2 1.4 2 2.2 1 1.6 1 3.2 2 12.9 2 17.8 1 8.1 1 5.8 2 4.6 1 .3 1-.3 1-.8 1-.8 2-1.5 2-1.3 1-.8 1-1.2 2-4.2 3-10.1 3-8 3 1.1 3 6.4 3 3.8 3-1.9 3-4.3 3-5.3 3-4.9 3 .9 3 3.6 3-1.2 3-3.7 3-1.6 3 .6 3 1.2 3 1.2 3 1.7 3-.2 3-.3 3 2.6 3 2.6 3 .4 3-3.6 3-5.7 3-1.8 3-1.3 3-6 3-4.5 3 1.6 3 3.1 3 2.3 3 2.4 3 2.1 3-.2 3-2.2 3-2.2 3-2.2 3-1.4 3 1.3 3 1.1 3-1.9 3-2.2 3 0 3 1.6 3 1.6 3-.7 3-2.4 3 0 3 1.4 3 0 3-.2 3 1.1 3-.1 3-3.1 3-1.8 3 3.4 3 5.1 3 1.7 3-.9 3-.4 3-.6 3-1.5 3-2.1 3-3.5 3-3.5 3-1.3 3 .5 3 2.5 3 4.9 3 2.8 3-4.1 3-7.3 3-2.5 3 5.7 3 7.4 3 1.9 3-3.4 3-4.1 3-.6 3 2.9 3 1.5 3-.9 3-1.3 3-2.1 3-1.2 3 1.1 3-.8 3-3.9 3-1.8 3 2.5 3 3.4 3 1.8 3 .3 3-.2 3 .4 3 1.2 3 .4 3-1.8 3-3 3-1 3 3.4 3 5.4 3 3.3 3 1"/>
<path d="M35.5 374.5l3-1.1 3 .3 3 .5 3 .3 3 1.2 3 2.4 3 1.6 3-2.2 3-5 3-4.1 3-1.1 3 2.3 3 3.6 3 1 3-1.7 3-.8 3 2.5 3 3.1 3 1.1 3 1.8 3 3.6 3 2.8 3 .1 3-1.4 3-.9 3-.5 3-2.2 3-4.2 3-3.6 3-1 3 1.1 3 2.2 3 2.6 3 1.4 3 .3 3 .4 3 1.5 3 2.5 3 2.2 3 1.2 2-.1 1-.6 1-1 2-3.2 2-4.1 1-2.1 1-1.8 2 .6 2 9.5 1 7.5 1 8.5 2 15.9 2 9.9 1 2.6 1 1.6 2 1.3 2 .2 1-.1 1-.4 2-1.6 3-3.7 3-2.1 3 .7 3 1.3 3 .6 3-.4 3-2.4 3-4.2 3-4.7 3-3.8 3-1.1 3 .2 3-.9 3-1 3-.8 3-1.4 3-1.5 3-1.1 3-1.5 3-2 3-1.1 3 .1 3 1.4 3 2.8 3 3.4 3 2.5 3 .9 3 .1 3-1.1 3-3.7 3-4 3-.2 3 2.5 3 .4 3-2.6 3-2 3-2.2 3-4.1 3-3.4 3 .6 3 4.5 3 3.8 3-2.2 3-6.4 3-3.2 3 1.3 3 1.8 3 1.4 3 2.7 3 2.4 3 .6 3-1 3-1 3-.7 3-.8 3-1.4 3-1.9 3-2 3-1.9 3-.8 3 .8 3 .3 3-1.2 3-1 3-.3 3-.8 3-.7 3 1 3 1.9 3 .2 3-.4 3 2.4 3 4.2 3 1.4 3-1.5 3-1.3 3 .9 3 1.5 3-1.3 3-5.2 3-4.9 3 0 3 4 3 4.1 3 1.9 3-1.5 3-4.2 3-4.8 3-4 3-2.7 3-.9 3 .6 3-.1 3-1.5 3-.9 3 0 3 .7 3 2.2 3 3.2 3 3.3 3 3.3 3 1.5 3-2.1 3-3.9 3-2.1"/>
<path d="M35.5 371.4l3-.3 3 2.5 3 2.6 3 1.2 3 .2 3-2.4 3-4.4 3-1 3 4.6 3 5.4 3 1.9 3-1.1 3-1.1 3-2 3-3.5 3-4.4 3-4.8 3-3.1 3-.2 3 1.5 3 2.9 3 4.4 3 3.9 3 .4 3-2.2 3-.6 3 1.8 3 1.1 3-.7 3-.6 3 0 3 .4 3 1.1 3 1.3 3 .7 3 1.7 3 2.7 3-.2 3-3 3-1.5 2 .3 1 .2 1 .4 2 6.5 2 17.9 1 10.6 1 9.4 2 10.1 2 1.3 1-.3 1-.1 2 .8 2 1.4 1 .5 1 0 2-1.3 2-2.5 1-1.4 1-1.1 2-1.5 3-.6 3 0 3 .6 3 0 3-2.3 3-5.5 3-5.9 3-2 3 2 3 3.2 3 1.5 3-.9 3-2 3-3.5 3-4.1 3-2.6 3-.6 3 0 3-.6 3-1 3-1.3 3-2.1 3-3 3-1.9 3 .8 3 .6 3-2.3 3-2.8 3-1.4 3-.9 3 .4 3 2.7 3 3.4 3 1.7 3 0 3-2 3-2.8 3-.1 3 2.5 3-.6 3-4.8 3-4.1 3-.2 3 1.8 3 .4 3-1.5 3-.1 3 2.6 3 2.8 3 1.5 3 1.8 3 1 3-1.3 3-.3 3 1.1 3-1.8 3-5 3-5.1 3-3 3-.4 3-.2 3-3.5 3-5.3 3-1.6 3 2.1 3 2.2 3 1.2 3 3 3 5.1 3 4.1 3 1.1 3-.8 3-1 3 0 3 1.7 3 .9 3-1.9 3-2.6 3-.8 3 1.5 3 .6 3-1.6 3-1.3 3-.4 3-.4 3 1.1 3 2 3 1.5 3 .5 3-2.7 3-4.1 3-1.8 3 .9 3 1.9 3 1 3 .7 3 1.4 3 .6 3-.5 3 .1 3 .6 3 0 3 .1 3 .9 3 .3"/>
<path d="M35.5 377.1l3 3 3 .3 3-.6 3-2.9 3-5.9 3-2.4 3 4.9 3 5.8 3 1.2 3-.4 3 .6 3-.3 3-2.4 3-3 3-1.4 3-.4 3 .3 3 1.7 3 2.4 3 .8 3-.9 3-1.1 3-1.1 3-1.5 3 .3 3 2.1 3 2.8 3 1.8 3-.4 3-1.5 3-1.1 3-2 3-1.8 3 1.7 3 5.2 3 6.2 3 2.2 3-4.3 3-5.2 3-1.8 2-.5 1-.4 1-.1 2 7.1 2 19.9 1 11.9 1 10.8 2 11.5 1 1.2 1-.3 1-1 1-1.3 2-2.5 2-2.3 1-1.2 1-1.3 2-2.9 2-3 1-1.2 1-1.1 2-1.5 3-.9 3-.5 3-2.5 3-5.9 3-7.8 3-6.5 3-3.1 3 .5 3 2.9 3 1.1 3-3.8 3-2 3 5.5 3 7.4 3 2.1 3-4.6 3-6.5 3-4.1 3-2.4 3-2.6 3-1.8 3 .5 3 1.7 3 .2 3-1.4 3-2.1 3-2.5 3-1.6 3 2.4 3 4.8 3 1.2 3-4 3-3.8 3-.3 3 .1 3-1.5 3-.3 3 2.4 3 4.3 3 3.9 3 2.6 3 2 3 0 3-3.4 3-4.2 3-2.4 3-.6 3-.3 3-.6 3-1.9 3-4.4 3-3.3 3 1.8 3 4.3 3 3 3 2.5 3 2.3 3-.4 3-3.6 3-2.9 3 2.2 3 5 3 1.9 3-2 3-3.5 3-3.8 3-2.4 3 0 3 1.3 3 2.5 3 1.9 3-.6 3-3.5 3-5.8 3-3.9 3 1.1 3 2.8 3 1.2 3-.1 3-1.2 3-.7 3 .4 3-.8 3-1.3 3 1.5 3 2.9 3 0 3-1.9 3-.3 3 2 3 4.5 3 5.6 3 1.8 3-2.7 3-3.1 3-1.9 3-.9 3 .6 3 2.6 3 2.8 3 .3 3-2.8 3-3.4 3-2 3-1.4"/>
<path d="M35.5 391.7l3-.9 3-2.8 3-4.1 3-4.9 3-3.2 3-.4 3 1.3 3 1.6 3 .7 3-.4 3-2 3-3.7 3-3 3-.1 3 1.8 3 .8 3-1.1 3-1 3 .5 3 .3 3-1.2 3-2.5 3-1.2 3 2.7 3 4.3 3 2.1 3-.2 3-.7 3-.2 3 1.2 3 3.4 3 3.6 3 .3 3-1.4 3 1.1 3 1.1 3-3 3-3.6 3 .9 3 2.1 2-.8 1-.8 1-.9 2-1.2 2-.2 1 .3 1 .5 2 10.4 2 26.4 1 13.8 1 10.1 2 5.6 2-2.8 1-2 1-1.9 2-3.4 2-2.9 1-1.6 1-1.6 2-3.4 3-4.3 3-2.2 3-1.1 3-1.4 3-1.3 3-1.1 3-3.4 3-5.3 3-2.6 3 1.3 3-.6 3-5.2 3-5.4 3-3.4 3-1.8 3 0 3 0 3-2.2 3-2.2 3 1.1 3 1.9 3 .2 3 2.3 3 5.1 3 1.4 3-5.7 3-7.6 3-4.5 3-.9 3 2.4 3 3.2 3 .3 3-2.2 3-1.7 3 .2 3 1.2 3 2.2 3 2.4 3-.6 3-3.2 3-1.3 3 1.7 3 3.1 3 2.8 3 .9 3-.4 3-.3 3-.1 3-.1 3-.5 3-.9 3-.5 3 1.4 3 3.1 3 2.2 3 .3 3-.6 3-1.3 3-1.9 3-3.5 3-4.8 3-3.8 3-1.6 3 .6 3 2.5 3 2.6 3 1.7 3 1.8 3 2.9 3 2.2 3-1.7 3-4.9 3-4.2 3-1.3 3 2.1 3 3.3 3 1.5 3-.7 3-.1 3 2.6 3 3.8 3 3 3 .9 3-1.9 3-3.7 3-2.7 3-.3 3-.3 3-1.1 3-2.3 3-4.6 3-4 3-1.7 3-1.2 3-.1 3 2.3 3 2.9 3 1.3 3-.9 3-2.6 3-3.3 3-1.6 3 2 3 3.6 3 3"/>
<path d="M35.5 371.4l3-.1 3 1.8 3 2 3 1.1 3 1 3 1.5 3 1 3-1.8 3-4.3 3-2.2 3 0 3-2.7 3-3.2 3 .9 3 2.4 3 .6 3 1.3 3 4.7 3 6 3 4 3-.7 3-4.2 3-4.5 3-3.1 3-.8 3 1 3 1.1 3 .3 3-2.1 3-4.2 3-2.9 3 1 3 5 3 5.5 3 2 3-1.9 3-2.2 3 .9 3 1.1 3-2.7 2-2.8 1-1.1 1-.8 2 3.6 2 20 1 13.6 1 12.5 2 13.9 2 3.4 1 .5 1 .3 1 .1 1-.1 2-.6 1-.5 1-.5 2-1.1 2-.9 1-.4 1-.4 2-1.2 3-4.3 3-5.9 3-4.5 3-2.2 3-1 3-.2 3 1.6 3 1.8 3-.9 3-1.6 3 1.3 3 4.8 3 3.9 3-.7 3-1.9 3 .3 3-.3 3-4.6 3-7.8 3-5.8 3-1 3 .7 3 .7 3 1.6 3 2.4 3 1.2 3-.3 3-2.8 3-6.1 3-5.6 3 .3 3 4.8 3 3.4 3 .5 3-.3 3-.4 3-1.2 3-.5 3-.8 3-2.1 3-.4 3 1 3-1.7 3-4.1 3-2.8 3 1.4 3 3.6 3 1.9 3 1 3 .7 3-1.9 3-3 3-2 3-1.5 3 .2 3 1.6 3 .8 3-.7 3-1.9 3-3.3 3-2.5 3-.3 3 .4 3 .4 3-.2 3 .1 3 2.8 3 4.2 3 .6 3-4.9 3-3.8 3 1.5 3 2.8 3 1 3-.3 3-2.2 3-3.5 3-1.2 3 2.2 3 2.5 3 .5 3 0 3-.3 3-2.4 3-3.4 3-2.3 3-2.3 3-2.7 3 .1 3 2.1 3 1 3 0 3-1 3-2.3 3-2.4 3-1.4 3 1.9 3 5.9 3 7.2 3 4.3 3-1.5 3-4.6 3-1.8 3 1.7 3 .1"/>
<path d="M35.5 364.1l3 3.7 3 3.1 3 .3 3-2.1 3-2.2 3 0 3 .9 3-1.1 3-1.6 3 1.1 3 2.9 3 3.3 3 3.6 3 2.1 3 0 3-.3 3 2.4 3 4.5 3 1.2 3-4.7 3-6.8 3-3.1 3 .7 3 2.5 3 2.2 3 1.1 3 3.5 3 6.9 3 3.7 3-3.7 3-6.6 3-3 3-2 3-4.9 3-3.8 3 .7 3 2.7 3 1.7 3 .7 3-1.5 2-3.1 1-1.8 1-1.8 2-2.5 2-.9 1 .2 1 1.5 2 13.5 2 26 1 14 1 12.2 2 13.2 2 2.8 1-.9 1-1.8 2-5.3 2-6 1-2.8 1-2.3 2-3.1 3-1.8 3-.2 3 2.4 3 3.2 3-2.2 3-8.5 3-7.1 3-.9 3 2.1 3 .5 3-1.7 3-1.8 3-1.1 3-1.9 3-2.8 3-1.3 3 1.9 3 1.9 3-1.4 3-3.2 3-.9 3 2 3 .6 3-2.9 3-4.7 3-3.4 3 .5 3 1.5 3-1.4 3-1.6 3 .8 3 .4 3 0 3 3 3 2.8 3-1.3 3-1.5 3 1.6 3 1 3 .3 3 1.2 3 .2 3-1 3 .2 3 1.5 3-.5 3-4.6 3-6.9 3-4.9 3-.6 3 1.8 3 1.7 3 .8 3-.3 3-1.9 3-2.8 3-2.6 3-2.3 3-2.2 3 .1 3 3.3 3 3.7 3 1 3-1.9 3-1.7 3 1.9 3 4.7 3 3.8 3 .1 3-2.3 3-2.1 3-1.2 3-1.9 3-3.4 3-2 3 1.1 3 2.5 3 2 3 1.5 3-1.2 3-3.9 3-3.1 3 0 3 2 3 1.8 3 .8 3 1 3 .7 3-1.7 3-2.7 3-1.4 3 1.2 3 2.1 3 2.5 3 3.1 3 1.9 3 .1 3-1.3 3-2.4 3-2.1 3-2.4 3-2.8 3-1.9 3-.2 3 2.1"/>
<path d="M35.5 376.1l3 2.3 3 3 3-.3 3-3.4 3-2.8 3 .9 3 2.3 3 1.9 3 3 3 .2 3-4.2 3-3.2 3-2 3-3.5 3-2.8 3 1.4 3 3 3 .2 3-.7 3 .8 3 .8 3 .3 3 1.6 3 3.9 3 3.9 3-.7 3-5.7 3-4.5 3 .5 3 3 3 3 3 .5 3-2.5 3-3.7 3-3.6 3-1.9 3 .9 3 1.2 3-1.7 3-2.3 2 1 1 1.5 1 2.1 2 5 2 12.5 1 10.5 1 12.2 2 22.5 2 10.7 1 1.2 1-.2 2-1.4 2-1.1 1-.5 1-.4 2-1.1 2-1.4 1-.9 1-.8 2-1.8 3-3 3-3 3-2.4 3-2.1 3-1.8 3-.9 3 .1 3 .1 3 .4 3 2.2 3 2 3-1.9 3-4.4 3-3.6 3-3 3-3.5 3-2.8 3-.6 3 1.2 3 1.2 3-.3 3-2.1 3-3.1 3-1.5 3 .5 3 1.1 3 .2 3-1.5 3-1.1 3 2.1 3 4.4 3 3.3 3 .3 3-2.4 3-3.1 3-1.5 3-.1 3-.2 3-.4 3-1.3 3-5.2 3-7.9 3-5.9 3-1.1 3 3.6 3 5.1 3 3.3 3 .5 3-.2 3-.2 3-2 3-4 3-1.8 3 2.4 3 2.7 3 0 3-1.4 3-1.8 3-.2 3 3.8 3 4.1 3-.9 3-4.1 3-3.7 3-2.6 3-2 3-.5 3 1.5 3 1.8 3 1.9 3 2.9 3 3.2 3 .1 3-3.1 3-1.6 3 .6 3-1.1 3-2.9 3-1.1 3 2.5 3 4 3 2.7 3-.3 3-3.5 3-3.3 3-.5 3 2.2 3 2.5 3 .3 3-1.9 3-1.1 3 1.9 3 2.4 3-.8 3-2.3 3-.9 3-1.8 3-3 3-.7 3 .6 3-.6 3-2.1 3-2.3 3-.7 3 1.8"/>
<path d="M35.5 374.9l3 .8 3 2.2 3 2.6 3 1.6 3-1.4 3-2.5 3 .8 3 3.4 3 1.9 3-3 3-7.2 3-6.6 3-1.4 3 2.5 3 2.7 3 .4 3-2.1 3-2.6 3-1.6 3 2.1 3 6.3 3 4.3 3 .1 3 .2 3 .9 3-.6 3-2.2 3-2.5 3 .1 3 3 3 2.4 3 .2 3-1.6 3-1.7 3 0 3 1.2 3 1.7 3 1.8 3-.1 3-.7 2 .6 1 .3 1 .1 2-.9 2 .7 1 4.4 1 7.8 2 22.8 2 22.5 1 7.4 1 5.1 2 4.8 1 .6 1-.3 1-.9 1-1.3 2-3 2-2.4 1-.9 1-.7 2-1.8 3-4.2 3-3 3 2.1 3 5.1 3 2.2 3-3.2 3-5.7 3-5.4 3-4.2 3-3 3-2.5 3-3.3 3-3.1 3-.6 3 1.1 3-.7 3-3.3 3-2.7 3 .7 3 3.3 3 4.9 3 4.4 3 .8 3-2.9 3-4.3 3-3 3-1.5 3-2.6 3-3.7 3-3.2 3-2.8 3-.8 3 3.2 3 4.4 3 1 3-3.7 3-5.4 3-2.3 3 2.9 3 4.7 3 1.9 3 .3 3 1.5 3 0 3-4.6 3-4.7 3 .6 3 4.4 3 3 3-1.9 3-6 3-5.3 3-1 3 2.5 3 2.8 3 .5 3 .1 3 1 3 .4 3-.6 3-.5 3 .8 3 2 3 2.1 3 .7 3-1.2 3-3.8 3-6.6 3-4.2 3 .7 3-.3 3-3 3-.1 3 3.4 3 3.1 3 1.2 3-.7 3-1.2 3-1.4 3-2.5 3-3.1 3-3.6 3-2.7 3 .6 3 2.3 3 1.2 3 .9 3 1.8 3 .5 3-2.4 3-2.8 3-1.2 3 .9 3 1.4 3-.6 3-.8 3 1.8 3 2.7 3 1.4 3 1.5 3 1.4 3 .3 3-.8 3-2 3-1.9"/>
<path d="M35.5 379.6l3 2.9 3 3.1 3 1.2 3-1.6 3-3.6 3-3.1 3-1 3 0 3-1.6 3-1.7 3 1.2 3 3.6 3 3.8 3 .8 3-3.4 3-3.1 3-.6 3-1 3-2 3 0 3 3.7 3 3.9 3 1.7 3-.1 3-1.5 3-3 3-1.1 3 3.4 3 4.3 3 2.3 3 1.6 3 .5 3-1.9 3-2.9 3-3.5 3-4.8 3-4.6 3-2.5 3 .9 3 4.1 2 3.5 1 1.5 1 1.3 2 .9 2-1.4 1-1 1 1.2 2 13.8 2 25.3 1 12.6 1 9.7 2 8.4 2 1.5 1-.3 1-.8 2-2.5 2-4.1 1-2.4 1-2.7 2-5.1 3-5.2 3-.4 3 2.2 3 .3 3-3.9 3-6 3-5.5 3-4.8 3-2.1 3 1 3 .5 3-1.5 3-1.5 3-.7 3-1 3-1.9 3-.9 3 .5 3-.8 3-2.4 3-1.5 3-2 3-5.8 3-6.4 3-2.6 3-.1 3 1.6 3 6 3 8.6 3 5.1 3 .6 3-1.7 3-3.3 3-3.4 3-2.5 3-1.7 3-.9 3 .1 3 .1 3-.4 3-1.2 3-4.2 3-5.6 3-1.6 3 1.8 3 1.8 3 2.8 3 2.6 3-.5 3-2.1 3-.1 3 1.6 3 .4 3-1.9 3-2.6 3-1.6 3-.9 3-.3 3-.1 3-.2 3 .1 3 .5 3-.2 3-1.5 3-1.7 3-.7 3 .8 3 2.7 3 3 3 1.8 3 2.3 3 3.1 3 .8 3-.9 3 .5 3 .9 3-1 3-2.7 3-1.9 3-.1 3 .4 3-1.5 3-2.7 3-1.5 3 1 3 2.9 3 2.9 3 1 3-1.7 3-3.2 3-1.6 3 2.9 3 5.7 3 1.8 3-5.4 3-7 3-3.2 3-.7 3-.2 3 .4 3 0 3-1 3 .2 3 3.7 3 6.1"/>
<path d="M35.5 370.2l3-2.8 3-.1 3 2.6 3 2.8 3 1.1 3 .1 3 3.7 3 8.5 3 6.8 3-1.5 3-7 3-5 3-.6 3 1.3 3 .4 3-1.6 3-2.3 3-.6 3 1.3 3-.1 3-1.9 3-1 3 .6 3 .5 3 0 3-1.1 3-3 3-1.5 3 2.2 3 2.1 3 .3 3 .7 3 1 3-1.3 3-4.3 3-4.2 3-.8 3 4 3 5.7 3 3.1 2-.1 1-.5 1-.7 2-1.5 2 4.3 1 6.1 1 8.6 2 21.5 2 19.7 1 6 1 2.8 1 .4 1-1.3 2-4.8 1-2.2 1-1.4 2-.3 2 2.1 1 1.2 1 1 2 .8 3-.6 3-.3 3-.9 3-1.7 3-2.3 3-5.4 3-5.6 3-2.2 3-1.5 3-1.1 3 2.4 3 4 3 1.4 3-.3 3 0 3-.7 3-2.5 3-4 3-4 3-3.2 3-3.1 3-2.5 3-1.4 3-.6 3 1.5 3 1.8 3 .5 3 1.1 3 .4 3-2.9 3-3.9 3-1.1 3 2.1 3 2.9 3 1.6 3 .3 3 .5 3 2.5 3 2.5 3-.7 3-2.5 3-3 3-3.6 3-4.8 3-5.7 3-1.6 3 3.4 3 3.9 3 2.4 3-.6 3-5 3-6.5 3-3.3 3-.3 3-.9 3-1.4 3-.9 3 .7 3 3.4 3 5.7 3 4.7 3 .8 3-2 3-2.4 3-.8 3-.4 3-2.3 3-2.1 3 .5 3 2.6 3 1.5 3-2.9 3-5.1 3-1.8 3 2.8 3 3.3 3 1 3-.1 3-.7 3-2.3 3-1.8 3 .5 3 2.4 3 2.1 3-.4 3-1.6 3-1.7 3-2.2 3-3.5 3-3.8 3-2 3 .3 3 1.2 3 .5 3-.1 3-.7 3-.9 3-.7 3-.1 3 2.7 3 5.2 3 4.3 3 .3 3-5.9 3-8.7"/>
<path d="M35.5 378l3 1.2 3 2.1 3 2.6 3 .5 3-1.3 3-1 3 .1 3 2 3 2.1 3-1.8 3-4.5 3-2 3 3.1 3 3.5 3-2.2 3-5.8 3-4 3-2.5 3-1.6 3-.2 3-.1 3-.7 3 .2 3 .7 3-1.1 3-2 3 .9 3 4.6 3 5.3 3 4 3 2 3-.2 3-1.8 3-2.2 3-.5 3 1.4 3 2.1 3 2.6 3 2.1 3-.2 2-.7 1-.3 1-.1 2 5.1 2 18.3 1 12.9 1 13.3 2 20.8 2 4.5 1-.9 1-1.8 2-3.9 2-2.8 1-1 1-.9 2-2 2-2.6 1-1.4 1-1.5 2-2.6 3-.5 3 2.7 3 0 3-6.2 3-8.9 3-5.7 3-.4 3 1.4 3-.3 3-1.2 3-1 3-.8 3-.6 3-.3 3 .5 3 .5 3-1.6 3-6.3 3-8.6 3-6.8 3-2.8 3 2.5 3 6.1 3 4.1 3-1.3 3-4.6 3-3.7 3-1.1 3 .2 3 .4 3-.5 3 .1 3 2.8 3 3.1 3-.2 3-1.7 3-.5 3-2.1 3-3.4 3-1.8 3-1.7 3-1.2 3 2.1 3 3.9 3 2.8 3 2 3 1.8 3 .1 3-2.1 3-.8 3 2.5 3 2.8 3 .2 3-2 3-2.8 3-.8 3 1.2 3-1.4 3-3.8 3-2 3-.7 3-1.6 3-.5 3 2.6 3 4 3 2.4 3-.2 3-1.8 3-3.1 3-4.4 3-.5 3 4.6 3 1.9 3-3.6 3-4.1 3-2.8 3-2.7 3-1.1 3 1.4 3 1.1 3 .2 3 .3 3 .7 3 .8 3 .1 3 .9 3 3.6 3 3.7 3 .4 3-2.6 3-2.1 3 1.6 3 3.6 3 1.3 3-2.2 3-3.2 3-1.7 3-.2 3-.3 3-1.9 3-2.8 3-2.2 3-1.6 3-.2 3 1.2"/>
<path d="M35.5 371l3-.6 3-.5 3 1.2 3 .6 3-1.1 3-1 3-.4 3-.4 3 .3 3 .8 3 .6 3-.3 3-.3 3 3.4 3 7.7 3 6.7 3 2.1 3-1.1 3-2.7 3-3.3 3-2.4 3-.4 3 .3 3-.5 3-.4 3 .5 3 1 3 1.1 3 1 3 .1 3-1.4 3-1.7 3-1.2 3 .1 3 .4 3-1.6 3-2.7 3-1.8 3-.8 3 .1 2 .7 1 .7 1 .9 2 2.4 2 6.6 1 9.3 1 13.5 2 31.2 2 19.8 1 3.4 1 .8 2-2.2 2-2.8 1-.9 1-.4 2-.1 2 .1 1-.4 1-.8 2-2.3 3-4 3-3.4 3-3.5 3-4.2 3-4.2 3-1.3 3 1.6 3 .8 3-1.6 3-3.5 3-4.1 3-3.7 3-2.7 3-.4 3 1.7 3 2.3 3-.5 3-3.2 3-1.3 3 2.2 3 3.8 3 2.7 3 .2 3-1 3-3.5 3-6.6 3-5.2 3-.5 3 1.3 3-.3 3-2.1 3-1.8 3 0 3 .4 3-.3 3-.7 3-1 3-2 3-1.6 3 1 3 2.8 3 1.6 3-1.5 3-3 3-1.5 3-.2 3-1.4 3-1.7 3 .4 3 1.1 3-.4 3-1.5 3-1.5 3-.7 3 1.7 3 4.5 3 3.6 3 .4 3-3 3-5.7 3-5.1 3-1.8 3 0 3 .6 3 1.9 3 3.2 3 2.8 3 .5 3-1.4 3-2 3-2 3-.6 3 1.1 3 1.5 3-.1 3-2.1 3-1 3 1.6 3 1.6 3 .1 3-1.4 3-2.1 3 .1 3 .8 3-1.7 3-2.5 3-.8 3 1.5 3 2.9 3 .8 3-2.8 3-3.5 3-2 3-.4 3 1.4 3 1.9 3-.6 3-3.4 3-3.9 3-2.1 3 1.1 3 4.4 3 5.9 3 3.6 3-.4"/>
<path d="M35.5 371.7l3 .8 3 1.9 3 1.3 3-.1 3 .3 3 1.8 3 .1 3-2.9 3-1.9 3 2.1 3 4.2 3 2.9 3 0 3-2.1 3-1.7 3-1.4 3-2.2 3-1.3 3 0 3-.7 3-2.5 3-3.5 3-2.6 3-.9 3 2 3 5 3 4.7 3 2.4 3 .1 3-1.9 3-2.3 3-1.2 3 .5 3 1.6 3 1.3 3 .2 3 .3 3 1.9 3 2.9 3 .8 2-1.2 1-.7 1-.8 2-.9 2-.1 1 2.2 1 8.3 2 33.2 2 29.3 1 5.7 1 1.5 2-1.9 2-3.5 1-2.1 1-2.4 2-4.8 2-3.9 1-1.2 1-.6 2 .2 3 1.2 3-1.5 3-4.3 3-5.1 3-5.3 3-3.9 3 .3 3 1.9 3 1 3 .3 3-.8 3-1 3-2.1 3-4 3-2.8 3 .7 3 .9 3-1.2 3-.2 3 .8 3-2 3-2.1 3 .5 3 .8 3 1.6 3 3.4 3 3.3 3-.2 3-5.5 3-7.4 3-4.6 3 .5 3 3.3 3 2.5 3 1.3 3 .1 3-2.2 3-1.8 3 1.6 3 .9 3-2.4 3-2.5 3-.7 3 1.5 3 1.8 3-1 3-2.4 3-1 3 .6 3 2.7 3 3.5 3 0 3-4.2 3-4.5 3-.9 3 1.7 3 1 3-1.5 3-4.3 3-4.7 3-2.3 3 .7 3 2.2 3 .2 3-2.5 3-.3 3 3.8 3 4.5 3 2.3 3 1.2 3 1.6 3 2.4 3 0 3-4.5 3-3.5 3 2.8 3 4.7 3-.3 3-3.9 3-2 3 2.4 3 1.6 3-2.4 3-2.8 3-1.6 3-1.9 3-1.8 3-.5 3 .8 3 1.5 3 3 3 4.2 3 1.6 3-2.3 3-3 3-3.4 3-5.2 3-4 3 1.4 3 4.7 3 2.3 3-.6 3-1.9 3-3.1 3-3.8"/>
<path d="M35.5 372l3-.7 3 2.8 3 .3 3-2.4 3-.2 3 3.2 3 2.6 3 1.2 3 1.8 3 1.6 3-.2 3-1.8 3-1 3-.2 3-.7 3 .3 3 1.1 3 1.2 3 2.6 3 2.7 3-.6 3-3.1 3-1.4 3 .9 3 .2 3-.6 3 .1 3-.3 3-.7 3-.8 3-2.4 3-3.6 3-2.3 3 .3 3 .1 3-1.8 3-1.1 3 .9 3 2.1 3 3.2 2 1.6 1 .1 1-.4 2 .9 2 20.3 1 16.9 1 17.1 2 20.6 2 3.3 1-.6 1-1.1 2-3 2-3.7 1-2 1-1.8 2-3.2 2-2.4 1-.8 1-.7 2-1 3-3 3-5 3-4 3-2.8 3-2.7 3-.7 3 3.4 3 4.6 3 .4 3-4.1 3-3.2 3 .9 3 2.4 3-.7 3-3.7 3-4.1 3-1.7 3 .6 3 1.4 3 .4 3-3.5 3-6.4 3-3.2 3 2.4 3 4.9 3 2 3-2.6 3-2.2 3 .7 3-.2 3-2.7 3-2.1 3 1.2 3 2.4 3 .1 3-2.7 3-2.3 3 1.4 3 3.3 3 .8 3-.2 3 1.7 3 1.6 3-1.1 3-1.8 3-.2 3 .9 3-.3 3-2.4 3-2.9 3-2.7 3-2.9 3-1.5 3-.4 3-1.3 3-1.6 3-.1 3 1.3 3 1.4 3 1.5 3 .4 3-1.6 3-2.1 3-.3 3 .7 3-.6 3-2.4 3-2.4 3-.6 3 2.1 3 3 3 1.2 3-1.3 3-2.2 3-1 3-1.2 3-3.2 3-1.6 3 1.9 3 .2 3-5.5 3-7.2 3-3.6 3 2.3 3 7.8 3 8.2 3 3.2 3-.2 3 .2 3 .4 3 .3 3 .1 3-2.1 3-4.4 3-3.2 3 .3 3 1.9 3 .7 3-1 3-.9 3 1.8 3 4 3 3.4 3 1.2 3-1.5"/>
<path d="M35.5 379l3 1.1 3 .6 3 1.3 3 .2 3-2.2 3-1.1 3 2.2 3 2.1 3-.3 3-1.1 3-.5 3-.5 3-2 3-4 3-4.2 3-2.2 3-.3 3 1.5 3 4.2 3 3.6 3-.5 3-2.7 3-1.1 3 2.3 3 3 3 .5 3 0 3 1 3 .9 3-.5 3-.3 3 3.2 3 5.3 3 1.7 3-2 3-1.2 3 .1 3-2.5 3-5.6 3-4.4 2-.6 1 .2 1 .1 2-.2 2 13.1 1 15.5 1 17.9 2 26.4 2 5.5 1-.8 1-1.5 2-2.8 2-1.7 1-.2 1 .1 2 1.1 2 .9 1-.1 1-.7 2-3 3-5.9 3-3 3 1.3 3 2.9 3 1.1 3-.8 3-1.7 3-4.3 3-6.6 3-4.4 3 .5 3 1.7 3-1.4 3-2.5 3-1 3 .4 3 .7 3-.7 3-2.4 3-2.1 3 .2 3 1.2 3-.3 3-3.2 3-5.7 3-4.7 3-.2 3 2.1 3 1 3-.2 3-1.3 3-1.4 3 .9 3 3.6 3 3.9 3 .9 3-2.3 3-2.9 3-2.2 3-1.2 3 .4 3 1.2 3-.5 3-1.7 3-2.1 3-4.4 3-5.6 3-1.5 3 3.1 3 2.2 3-2.4 3-4.3 3-1.8 3 1.2 3 2.3 3 1.7 3 .9 3 .2 3-.7 3-.8 3-.2 3-.7 3-1.8 3-1.7 3-.5 3-.5 3-1 3-1.6 3-1.8 3 .2 3 3 3 3.4 3 1.1 3-1 3-2.9 3-4.4 3-3.7 3-1 3 2.2 3 5.1 3 7.3 3 5 3-1.4 3-4.5 3-2 3 .5 3 1 3-.1 3-.8 3-.1 3 1.4 3 1.8 3-.7 3-2.7 3-4 3-4.7 3-2.9 3-.3 3 .9 3 .9 3-.1 3-1.2 3-1.1 3 .8 3 3.1"/>
<path d="M35.5 383l3 .8 3-3.7 3-4.7 3-2.4 3-1.6 3-2 3-.7 3 .4 3 .5 3 3.3 3 4.5 3 .1 3-4.1 3-3.4 3-.3 3 1.9 3 1.2 3-.9 3-1.9 3-.3 3 3.6 3 4.8 3 1.2 3-2.2 3-3.3 3-1.4 3 2.5 3 4 3 1.8 3-1.8 3-2.8 3-2.9 3-2.8 3 1.1 3 4.4 3 .8 3-3.7 3-2.9 3-.9 3-.2 2 .1 1 .3 1 .4 2 1.2 2 3.5 1 5.2 1 8.2 2 24 2 28.2 1 12.7 1 9.6 2 8.1 1 .8 1-.6 1-1.5 1-1.9 2-3.9 2-3.4 1-1.7 1-1.6 2-3.9 3-7 3-5.4 3-1.5 3-.4 3-2.4 3-4.4 3-5.2 3-2.5 3 .1 3-.5 3-2.1 3-2.5 3-2.8 3-1.9 3-1.1 3-2 3-1.5 3 2 3 3.4 3 .3 3-3.6 3-4.6 3-2.2 3 .7 3 .6 3-.9 3-.7 3-.8 3-2.7 3-2.7 3 .9 3 1.1 3-2.2 3-3.2 3-1.1 3 .4 3 .2 3 .1 3 2.1 3 3.8 3 2.2 3-1.5 3-3.9 3-2.6 3 1.2 3 2.4 3 .5 3-.4 3 1.6 3 .8 3-3.4 3-5 3-3.6 3-1.4 3-.1 3-2 3-4.4 3-1.5 3 4.7 3 7 3 4.8 3 2.2 3 1.8 3 1.7 3-.8 3-3.2 3-2.5 3-.6 3-1.6 3-4.8 3-3.8 3-1 3-1.7 3-2.6 3 0 3 3.1 3 3.6 3 1.9 3 .8 3 .9 3 1.1 3 .7 3-.4 3-2.5 3-5.8 3-6.8 3-3.5 3-.4 3 .6 3 3.5 3 7.7 3 8 3 2.5 3-4.9 3-7 3-3.9 3-1 3 0 3 .2 3-1 3-1.8 3-.5 3-.1 3-1.3 3-1.4"/>
<path d="M35.5 369.6l3 3 3-.2 3-.9 3 1.2 3 1.3 3 0 3-.5 3 1.1 3 4 3 3.4 3-1.5 3-3.5 3-1.5 3 1.4 3 2.3 3 .8 3 1.3 3 2.4 3-1.1 3-6.5 3-7.9 3-2.4 3 3.8 3 3.3 3 .2 3-1.3 3-2.3 3-1.3 3 .6 3 1.7 3 5.1 3 8.8 3 5.4 3-1.2 3-4.8 3-5.4 3-3.9 3-.6 3 3.3 3 4.6 2 1.6 1 0 1-.6 2-2.8 2 3.7 1 9.6 1 14.3 2 32.2 2 19.1 1 3.5 1 1.1 2-.8 2-1.8 1-1 1-1.2 2-2.8 2-2.9 1-1.2 1-1 2-1.1 3-1 3-2 3-2.6 3-2.5 3-2.4 3-2.5 3-3.8 3-5.1 3-5.5 3-6.7 3-5.1 3 .9 3 3.8 3 2.3 3 1.2 3 1.8 3 1.7 3-.7 3-4.3 3-4.7 3-1.1 3 2.9 3 3.9 3 .5 3-4.6 3-7.9 3-7.6 3-4 3-.2 3 1.3 3 .9 3 .4 3 .2 3-.1 3 .6 3-.9 3-3.1 3-2.7 3-2.4 3-1.6 3 1 3 3.2 3 2.6 3-.4 3-3.2 3-2.6 3-2.3 3-3 3-.7 3 3.4 3 3.1 3-1.3 3-3.5 3-1.1 3 1.1 3 .9 3 .6 3 1 3 .7 3-.4 3-.6 3 0 3-.1 3-1.1 3-2.2 3-2.8 3-2.5 3-.2 3 3.3 3 3.9 3 .7 3-.1 3 1.5 3 .6 3-2.2 3-4 3-4.2 3-2.6 3-.1 3 3.1 3 5.8 3 4.3 3 .8 3-.9 3-2.3 3-3 3-.8 3 2.2 3 1.9 3-.1 3-.5 3 .1 3 1.6 3 3.8 3 3 3-.2 3-3 3-4.3 3-4.7 3-4.8 3-3 3 .7 3 2.9 3 2.2 3 0"/>
<path d="M35.5 376.9l3-.3 3-3 3-1.8 3-.2 3-1.4 3-1.2 3 1.6 3 2.5 3 .8 3 .3 3 3.1 3 3.8 3 .9 3 .9 3 2.8 3 .7 3-2.2 3-1.9 3-.8 3-.8 3-.6 3 .4 3 .4 3 0 3-.2 3-1.6 3-2.2 3-.3 3 1.3 3 2.2 3 2.8 3 1.3 3-1.6 3-3.8 3-3.9 3-1.1 3 1.2 3 1.4 3 .4 3-.2 2 .1 1 .2 1 .1 2-.5 2-2 1-1.8 1-1.7 2 5.1 2 21.8 1 14.9 1 14.9 2 21.1 2 6.1 1 .4 1-.3 2-1.1 2-1.2 1-.8 1-.8 2-1.9 3-2.6 3-2.8 3-3.7 3-3.7 3-4.4 3-5.2 3-2.6 3 1.9 3 2.3 3-1.8 3-3.3 3-1.8 3-1.3 3-1.2 3-1 3-1.4 3-1.3 3 .4 3 1.7 3 1.5 3 0 3-1.8 3-2.6 3-1.8 3-.2 3 .8 3 .3 3 .4 3 .3 3-1.3 3-2.9 3-2.3 3-.3 3 1.5 3 1.9 3 1.2 3 1.3 3 1.6 3 .1 3-1.4 3-1.7 3-2.6 3-3.9 3-3.5 3-.6 3-.5 3-2.8 3-2.6 3-.5 3-.3 3 .1 3 2.4 3 4.2 3 1.9 3-2.1 3-2.3 3 1.4 3 3.2 3 1.7 3-1.6 3-4.6 3-5.1 3-2.2 3 2.4 3 3.7 3 .6 3-1.5 3 .4 3 1.1 3-.1 3-.8 3-2.6 3-4.4 3-4 3-1.5 3 2.2 3 5.3 3 5.1 3 2.1 3-1.1 3-2.5 3-1.3 3-1 3-1.9 3-1.9 3-.4 3 1 3 .6 3-.1 3-2.1 3-3.5 3-.8 3 2.1 3 1.1 3-1.7 3-1.9 3 0 3-.2 3-1.7 3-.5 3 2.3 3 3.4 3 2.1 3-.9 3-2"/>
<path d="M35.5 373.7l3 .6 3-.1 3-.8 3-.6 3-.7 3-.5 3-1.1 3-1.6 3 .8 3 3.7 3 3.4 3 1.9 3 1.5 3 1.2 3-1 3-3.1 3-3.2 3-1.4 3 2 3 4.2 3 2.8 3 0 3-2 3-3.6 3-3.9 3-1.5 3 .7 3 .4 3-2.3 3-3.6 3-1.8 3 1.5 3 3.7 3 3.1 3 .8 3-.3 3 .5 3 1.5 3 1.8 3 .8 2-1.3 1-1.3 1-1.5 2-2.9 2-1.6 1 .2 1 .7 2 14.9 2 42.9 1 22.3 1 15.1 2 6.2 2-6.3 1-4 1-3.6 2-5.7 2-3.4 1-1 1-.8 2-1.3 3-3.1 3-5 3-6.1 3-4 3-.3 3-.6 3-3.4 3-2.4 3 .8 3 1.5 3-.1 3-1.4 3-3 3-2.6 3 1.8 3 4.9 3 2.2 3-2.4 3-4.4 3-4.2 3-3.2 3-1.1 3 1.7 3 3.1 3 1 3-2.2 3-3.8 3-2.7 3-.5 3-.5 3-4.9 3-8.1 3-4.5 3 1.5 3 4.1 3 2.1 3-2.9 3-5.6 3-2.3 3 1.9 3 3.8 3 2.9 3 .8 3 .8 3 1.5 3-1.6 3-5.5 3-2.9 3 1.4 3 .4 3-.6 3 1.7 3 3.6 3 2 3-1.8 3-2.3 3 .4 3 1 3-.8 3-1.5 3 0 3 .1 3-2 3-3 3-.6 3 1.9 3 1.9 3 1.1 3 1.6 3 2.1 3 .9 3-3.3 3-7.1 3-4.7 3 1 3 2.2 3-1.1 3-1.4 3 3.1 3 5 3 3 3 1.4 3 .6 3 0 3-3.1 3-6.2 3-3.4 3 1.5 3 2.3 3-.6 3-4.3 3-3.5 3 1.1 3 2.9 3 1.8 3 3.3 3 4.7 3 1.6 3-2.5 3-2.7 3-.7 3 1.2 3 2.3 3 2.3 3 1.5"/>
<path d="M35.5 371.1l3-3.4 3 1.4 3 3.5 3 3.5 3 2.4 3 1.1 3-1.6 3-4.3 3-2.5 3 1.4 3 1.2 3-.7 3 1.5 3 3.6 3 1.1 3-3.1 3-4 3-.6 3 2.7 3 2.3 3-.2 3-1.8 3-1.5 3-.4 3 1.8 3 4 3 3.4 3 .7 3-.8 3-.6 3 .6 3-.7 3-4.3 3-4.4 3-1.4 3-1.6 3-2.2 3 .2 3 1.4 3-.6 2-2.3 1-1.6 1-1.6 2 6.7 2 32.5 1 21.1 1 19.3 2 20.6 2 4.8 1-.1 1-.6 2-2.2 2-2.1 1-.9 1-1 2-2.6 2-3.4 1-1.7 1-1.5 2-2.1 3-1.7 3-.7 3-1.2 3-4.8 3-6.1 3-.1 3 3.6 3-1.3 3-5.9 3-4.1 3-1 3-1.7 3-3.2 3-2.8 3-1.4 3-.3 3-1.1 3-1.5 3 .2 3 1 3-1.2 3-3.4 3-2.4 3 1 3 3.4 3 2.8 3 .4 3-.4 3-.9 3-2.2 3-2.6 3-1.7 3-1.2 3-2.7 3-4.6 3-4.9 3-2.6 3 .3 3 1.3 3 1.2 3 2.1 3 1.4 3-1.1 3-.9 3 2.4 3 3 3 .6 3-.7 3-1.3 3-2.7 3-2.4 3-1.8 3-3.1 3-3 3-1.6 3-.6 3 1 3 2.1 3 2.2 3 2.4 3 2.1 3 .3 3-2 3-3.4 3-3.5 3-3 3-1.3 3 1.9 3 4 3 3.9 3 2.2 3 1.2 3 1.3 3 .5 3-1.1 3-2.6 3-2.6 3 .3 3 2.8 3 .8 3-1.8 3-.6 3 2.1 3 1.5 3-1.8 3-5.2 3-5.7 3-3.3 3-.7 3 2 3 2.7 3 1.2 3 1.1 3 1.8 3 .7 3-.6 3 .5 3 .8 3-2 3-3.3 3-.7 3 2.8 3 3.6 3 1.2 3-2.4"/>
<path d="M35.5 378l3 2 3-.4 3-3.5 3-3.5 3-.7 3 1.5 3 2.5 3 1.7 3 1.2 3 1.6 3 0 3-2.9 3-2.1 3 3.8 3 6.9 3 .7 3-7.1 3-7.8 3-3.1 3 1.9 3 4.4 3 3.7 3 2.1 3 .6 3-2.1 3-2.3 3 1 3 1.1 3-.6 3 .3 3 1.6 3-.4 3-1.3 3 .7 3 1.1 3-.9 3-2.7 3-3.3 3-3.2 3-2.4 2-.7 1-.1 1 .2 2 1.1 2 1.9 1 1.1 1 2.4 2 13.6 2 25.6 1 15 1 14.4 2 21.8 2 8 1 .8 1-.4 2-2.3 2-2.6 1-1.1 1-.9 2-1.6 3-2.5 3-3.9 3-4.8 3-4.6 3-1.4 3 3.1 3 4.4 3 1.6 3-3.2 3-5.8 3-3.9 3-1.7 3-1.1 3-1.9 3-3.9 3-4.1 3-.8 3 2.2 3 1.6 3 .4 3-.3 3-.8 3-.3 3 .2 3-.1 3-1.7 3-3.1 3-3.1 3-2 3 0 3 1.1 3 1.2 3 2.1 3 3.9 3 3.7 3 0 3-3.8 3-4.4 3-3.3 3-2.4 3-2.2 3-2.7 3-2.2 3 1.7 3 4.7 3 4.6 3 3.5 3-.2 3-4.6 3-5.2 3-.9 3 2.6 3 1.7 3-1.2 3-1.3 3-1.6 3-2.7 3 .1 3 3.5 3 .2 3-5.8 3-6.8 3-3.7 3-1 3 .9 3 2.8 3 3.4 3 1.6 3-.2 3-.7 3-1.1 3-.5 3 1.6 3 1.3 3-.9 3-2.3 3-2 3-1.2 3-.7 3-.4 3-1.2 3-2.7 3-1.8 3 1 3 2.3 3 2.4 3 2.4 3 .3 3-4.8 3-5.9 3-.6 3 3.5 3 2.4 3 .4 3-.2 3 0 3 .9 3 .8 3 .3 3 1.6 3 .7 3-3.2 3-3.5 3-.8 3-1"/>
<path d="M35.5 379.7l3-1.4 3-2.7 3-2.6 3-1.5 3 1.5 3 2.3 3-.9 3-3.1 3-2.1 3 2.5 3 5.4 3 2.6 3-1.8 3-3.2 3-1.2 3 .4 3-.7 3-2.2 3 .1 3 4.9 3 6.1 3 3.8 3 2.6 3 2 3 1.1 3-1.3 3-5.5 3-4.7 3 .9 3 3.1 3-.7 3-6 3-8.9 3-5.3 3 1.4 3 4.6 3 3.8 3 1.4 3-1.6 3-2.7 2-1 1 0 1 .2 2 .6 2 .3 1 .6 1 5.7 2 34 2 40.8 1 11.7 1 5.3 1 1.5 1-.3 2-1.7 1-.8 1-.7 2-1.2 2-1 1-.7 1-.7 2-2.2 3-4.4 3-2.7 3-.2 3-.2 3-1.4 3-2.8 3-3.1 3-.9 3 .6 3-.5 3-3.3 3-4.3 3 .1 3 4.3 3 2.3 3-2.1 3-2.8 3-2.2 3-3.9 3-4.3 3-1.1 3 1.3 3 1.1 3 .5 3 .3 3-.9 3-2.6 3-2.4 3-.9 3-.7 3-.3 3 .8 3 .4 3-2.1 3-4.4 3-4.2 3-1.9 3 .1 3 .6 3 0 3 1.7 3 2.2 3-1.1 3-2.5 3-1 3-1.8 3-3 3-2.6 3-.4 3 2.8 3 3.2 3 1.2 3 .4 3-1 3-2.9 3-2.7 3 .3 3 3.6 3 4 3 1.2 3-2.6 3-2.8 3-.2 3 1.2 3 1.3 3 .9 3-2.2 3-5.8 3-4.1 3 .5 3 1.9 3 1.5 3 2.6 3 2.6 3-.9 3-4.4 3-3.3 3-1 3-3.1 3-5.5 3-3.5 3 .5 3 3.6 3 5.6 3 5 3 1.1 3-2.5 3-3.1 3-2.9 3-3.1 3-3.9 3-3.5 3 1.2 3 5.6 3 3.3 3-1.4 3-2.1 3-.9 3-1.2 3-1 3 .9 3 2.1 3 .9 3-.8 3-1.5"/>
<path d="M35.5 371.9l3 0 3-.4 3-1.1 3-.3 3 .3 3 .1 3 1.7 3 2.7 3 0 3-2.7 3-1.6 3 2.6 3 5.2 3 3.5 3 1.9 3 1.9 3-.5 3-3.9 3-4.3 3-3.2 3-1.9 3 1.2 3 3.7 3 .7 3-4 3-3.4 3 .5 3 3 3 3.8 3 .9 3-2.3 3 .1 3 4.8 3 3.1 3-2.5 3-4.9 3-2.3 3 .1 3-.8 3-1.7 2 .5 1 1.2 1 1.6 2 4 2 3.5 1 4.3 1 9.6 2 33.9 2 35 1 9.9 1 4.5 1 .7 1-1.4 2-5.5 1-3.2 1-3.1 2-5.6 2-3.8 1-1.1 1-.5 2 .3 3 1.3 3 .1 3 .1 3 .6 3-2.4 3-5.8 3-5.6 3-2.6 3-.7 3-.9 3-.4 3 .3 3 .7 3 1.8 3 2.9 3 1.5 3-2.6 3-3.9 3-1.9 3-.7 3-1 3-1.4 3-1.6 3-1.7 3-.7 3-.8 3-3.5 3-4.7 3-3.3 3-1.3 3 .7 3 1.7 3 1.2 3 .9 3 1.4 3 .9 3-.8 3-1.8 3-.2 3 .6 3-.8 3-1.4 3-.8 3 .2 3 1.9 3 2.2 3-.6 3-3.1 3-3.6 3-3 3-.4 3 4 3 5.5 3 1 3-4.3 3-5.9 3-4.9 3-2.4 3 .2 3 .8 3 .1 3-.7 3-1.3 3-.1 3 3.6 3 3.5 3-1.7 3-4.9 3-3.2 3-.1 3 .9 3 .1 3-.6 3-1.1 3-1.8 3-2.3 3-1.3 3 .6 3 .4 3-1.4 3-2 3-.2 3 1.5 3-.3 3-2.6 3-1.4 3 1.7 3 2.5 3 1.1 3-.8 3-3.1 3-3.1 3 0 3 3.2 3 2.5 3-1.3 3-2.7 3-1.3 3-.5 3-1 3-.6 3 .4 3 1.2 3 1.9 3 2.3"/>
<path d="M35.5 375.5l3 1.6 3 3 3 1.3 3 .6 3 .3 3-1.3 3-3 3-2.2 3 .8 3 2.9 3 1.8 3 .1 3-.6 3-1.1 3-1 3-1.2 3-4.2 3-5.7 3-2.7 3 .5 3 2.5 3 4.4 3 5 3 3.4 3 1.6 3 1.8 3 1.7 3-.3 3-2.9 3-5.1 3-5.9 3-3 3 2.2 3 3.8 3 .6 3-2.2 3-3.1 3-2.3 3 .4 3 2.7 2 1.9 1 .9 1 .7 2 .8 2 14.8 1 18.6 1 22.3 2 34 2 8.4 1-.5 1-1.1 2-1.8 2 0 1 .7 1 1 2 1.9 1 .4 1-.2 1-.8 1-1.4 2-3.2 3-3.3 3-2.3 3-4.7 3-5.5 3-2.8 3 .8 3 3 3 2 3-1.3 3-2.2 3-.9 3-1 3-1.9 3-1.1 3 1.1 3 2.9 3 2 3-1.5 3-4.4 3-4.4 3-2.2 3 .7 3 2.1 3-.2 3-3.7 3-5.1 3-5 3-3.7 3-1.5 3-.1 3 .3 3-.3 3-2.4 3-4.7 3-3.5 3 .5 3 2.8 3 1.1 3-1 3 .9 3 3.8 3 3.2 3 .5 3-1.8 3-1.8 3-.7 3-2.2 3-3.6 3-1.3 3 .7 3 0 3 .2 3 1.6 3 .6 3-2.7 3-3.8 3-1.6 3-.3 3 .7 3 1.9 3-1.3 3-5.1 3-3 3 2 3 5.3 3 3.6 3-1 3-2.8 3-1.8 3-.9 3-.9 3-1.7 3-.7 3 .6 3-.3 3-1.8 3-2.3 3-.3 3 2.9 3 2.8 3-.4 3-2.1 3-2 3-1.1 3 .2 3 1.1 3 .3 3-1.8 3-1.7 3 1.9 3 4.8 3 2.7 3-1.8 3-4.1 3-2.1 3-.4 3-.9 3-.7 3-.3 3 0 3 .4 3-1.2 3-2.3 3-1.2 3 0"/>
<path d="M35.5 371.6l3 3.1 3 5.2 3 4.2 3 1.7 3-.7 3-3.5 3-5.6 3-3.4 3 .1 3 .4 3-.1 3 .7 3 .9 3-1.1 3-2.6 3-.5 3 1.2 3-.6 3-2.8 3-1.1 3 2.1 3 2.5 3 1.3 3-.1 3-1 3-1 3-1.2 3-1.8 3-1 3 1.2 3 3.2 3 4.7 3 3.7 3 .9 3 .1 3 .2 3-1.2 3-2.8 3-2.4 3-.2 2 1.2 1 .8 1 .9 2 1.7 2 1 1 1.2 1 3.5 2 15.6 2 24.9 1 13.4 1 12.5 2 18.2 2 8.3 1 1.7 1 .7 1 .1 1-.1 2-.5 1-.3 1-.3 2-1.4 3-3.6 3-2.7 3-1.8 3-3.2 3-4.3 3-4 3-1.9 3 0 3-1.1 3-2.9 3-2.9 3-1.3 3-.2 3-1.5 3-3.8 3-2.7 3-.6 3-3.4 3-6.2 3-3.3 3 0 3 0 3-.9 3-1.3 3-.1 3 2.4 3 4.2 3 3.6 3 2.5 3 .2 3-2.9 3-4.1 3-3.5 3-3.3 3-4.6 3-5.8 3-2.9 3 .9 3 1.1 3 .4 3 .9 3-.6 3-2.7 3-2.6 3-1.4 3 0 3 .8 3-.2 3-.2 3 2.8 3 4.2 3 1.3 3-2.3 3-3.7 3-3.6 3-1.7 3 .9 3 1.1 3-.8 3-1.8 3-1.8 3-1 3 .9 3 1.7 3-.6 3-3.1 3-2.3 3-1.3 3-1.8 3-.7 3 1 3 .8 3 0 3-1.1 3-.7 3 2.4 3 4.2 3 2.5 3 0 3-1.4 3-1.8 3-3.2 3-4.9 3-3.8 3-1.6 3-.8 3-1 3-1.1 3 .4 3 2.4 3 1.6 3-1 3-1.9 3-1.1 3-.5 3 0 3 .2 3 .7 3 2.7 3 4.7 3 4.4 3 .2 3-3.8 3-2.9 3-.1"/>
<path d="M35.5 387.3l3-4.8 3-3.8 3-.8 3 .6 3 1.5 3 1.2 3-.3 3-1.9 3-3.7 3-3.7 3-2.2 3-1.4 3-.1 3 3 3 4.5 3 2.3 3 .1 3-1 3-1.9 3-2.1 3 .2 3 2.7 3 4.3 3 4.2 3 .6 3-3.8 3-4.2 3-1.2 3 .9 3 .1 3-2.2 3-1.9 3-.7 3 .2 3 2.3 3 2.7 3 0 3-2.4 3-2.3 3-.8 2 .6 1 .6 1 .5 2 1 2 .1 1-.6 1-.4 2 14.5 2 38.8 1 20.1 1 15.4 2 13.7 2 3.2 1 .7 1 .7 2 .7 2-.4 1-.7 1-1 2-2.2 3-3.4 3-2.6 3-1.4 3-.3 3-.5 3-1 3-2.3 3-4.3 3-4.3 3-3 3-3.2 3-4.6 3-6.4 3-4.8 3 .4 3 3.7 3 2.2 3-1 3-1.4 3 .9 3 2 3-.2 3-3.1 3-2.9 3-.4 3 1.1 3 .7 3 .9 3 2.5 3 2.3 3-1.6 3-5.2 3-4.9 3-2 3 1.1 3 1.3 3-2.6 3-5.6 3-4 3 0 3 2.7 3 2.8 3 .9 3-3.4 3-6.3 3-3.7 3 1.1 3 3.5 3 2.3 3 .1 3-.3 3 .5 3 1.6 3 1.4 3 .7 3-.2 3-1 3-1.8 3-4.2 3-6.1 3-4.3 3-.4 3 2 3 .9 3-1.7 3-2.1 3 1 3 2.6 3 1.1 3-.1 3 1 3 2 3 .3 3-2.6 3-3.2 3-1.3 3-1.1 3-2.6 3-2.4 3-.1 3 2 3 1.1 3-.1 3 1 3 1.6 3-1.3 3-4.2 3-2.5 3 .3 3 1.4 3 1.7 3 .2 3-2.6 3-3.6 3-.7 3 2 3 1.5 3 .2 3-1.4 3-3.6 3-3.1 3 0 3 2 3 2.2 3 1.6"/>
<path d="M35.5 389l3-2.8 3-7.1 3-6 3-.8 3 1.7 3 .8 3 .6 3 .2 3-.3 3 1.9 3 4.4 3 1.9 3-3.9 3-6.1 3-2.2 3 2.1 3 1.9 3-.4 3-2.3 3-2.5 3-.1 3 1.9 3 1.4 3-1.1 3-3.7 3-4.6 3-2.4 3-1.1 3-1.9 3-1.1 3 1.6 3 1.9 3 .6 3 .3 3 1.2 3 .9 3-.3 3-.2 3 1.9 3 3.4 2 2.2 1 .9 1 .8 2 1.4 2 .9 1 .4 1 1.9 2 15.5 2 31.7 1 18.4 1 17.3 2 22.6 2 5.6 1-.3 1-1.4 2-4.1 2-4.9 1-2.5 1-2.4 2-4.1 3-5.6 3-6.3 3-4.5 3-1.2 3-1.3 3-2.7 3-4 3-4.7 3-3.2 3-1.7 3-3.1 3-4.9 3-4.8 3-1.6 3 1.9 3 1 3-2.2 3-1.5 3 1.9 3 2.6 3-.1 3-2.8 3-2.9 3-2.4 3-3.2 3-3.3 3-2 3 0 3 .8 3-.5 3-2.6 3-1.3 3 2.4 3 1.6 3-2 3-2.4 3-2 3-3.2 3-2.6 3 .6 3 2.9 3 2.2 3 .1 3-2.4 3-4.1 3-3.2 3 .6 3 2.3 3-.3 3-2.6 3-1.6 3 .1 3 1.6 3 2.1 3 .9 3-1.1 3-2 3-2.6 3-2.5 3-.2 3 2.5 3 2.1 3 .5 3 .5 3 .6 3-1 3-1 3 1.4 3 1.8 3 .1 3-1.2 3-1.5 3-1.4 3-1.1 3-.5 3 .8 3 .8 3-2.8 3-5.6 3-2.6 3 2.4 3 4.4 3 3.1 3 1.6 3 1.6 3 .3 3-3.5 3-5.4 3-4.3 3-1.9 3 .9 3 2 3 0 3-1.2 3 .1 3 1.5 3 .5 3-1.5 3-1.9 3-.8 3-.9 3-3.6 3-5.2 3-.9 3 4.7"/>
<path d="M35.5 379.1l3-1.7 3-1.5 3 .2 3 2.3 3 3.9 3 1.9 3-3.1 3-4.7 3-2.8 3-.2 3 2.8 3 2.3 3-1.3 3-2 3-.1 3-.4 3-3.8 3-4.5 3-.9 3 2.7 3 4.1 3 3.7 3 .8 3-3.4 3-5.1 3-1.3 3 4.2 3 5.1 3 1 3-2.8 3-3.2 3-1.2 3 2.3 3 5.3 3 4.8 3-.9 3-6 3-2.4 3 4.8 3 7.2 2 4.1 1 1.4 1 .6 2-1.3 2-.3 1 4.5 1 8.8 2 28.1 2 32.6 1 14.1 1 8.7 2 9.1 2 2.2 1-.3 1-1 2-4.1 2-6.7 1-3.9 1-4.1 2-7.6 3-7.8 3-2.1 3 1.9 3 .2 3-3.5 3-3.2 3 .1 3 3 3 1.2 3-4.8 3-8.5 3-5.6 3 .9 3 3.7 3 0 3-3.8 3-3.7 3-3.6 3-3.2 3 .3 3 3.6 3 2 3-2.9 3-4.4 3-.5 3 3 3 3.9 3 2 3-4.4 3-8.5 3-4.5 3 .6 3-.9 3-4.1 3-3.1 3 1.1 3 5.1 3 3.7 3-.4 3-2.4 3-3.8 3-4.6 3-3 3-.1 3 .8 3-3.1 3-6.4 3-4.6 3-1 3 2.3 3 5.2 3 4.6 3 1.9 3-.1 3-1.4 3-1.4 3-1.4 3-1.8 3-2.6 3-2.5 3-.1 3 2.3 3 3.1 3 3 3 .4 3-1.4 3-.3 3 .8 3 .1 3-1.9 3-2.9 3-2.4 3-1.8 3-2.7 3-3 3-.4 3 2.3 3 1.4 3-1 3-2.3 3-3.5 3-3.3 3-1.6 3 0 3 2.4 3 4.4 3 1.8 3-1.6 3-.8 3 1.2 3 3.1 3 4.7 3 2.3 3-1.6 3-2.4 3-2.4 3-4.2 3-6.7 3-5.2 3 1.4 3 5.3 3 3 3 .3 3-1.5 3-4.1"/>
<path d="M35.5 379.9l3-6.6 3-5.1 3-1.5 3 .9 3 3.1 3 4.3 3 3.8 3 2.8 3 1.6 3-1.9 3-4.4 3-2.3 3-.6 3-.8 3 0 3 1.7 3 2.4 3 1.1 3-.9 3-.8 3 .2 3-1.3 3-3.8 3-3.7 3-.4 3 2.8 3 4 3 2.7 3 .8 3 .1 3 .8 3 .4 3-1.6 3-1.4 3 1.7 3 3.3 3 2.7 3 2.5 3 3.1 3 2.4 2-.2 1-.8 1-1.4 2-3.8 2 7.7 1 20.3 1 28 2 45 2 7 1-2.2 1-2.8 2-5.1 2-4.2 1-1.9 1-1.7 2-3 2-2.7 1-1.5 1-1.6 2-3.7 3-5.2 3-3.3 3-3.6 3-5.6 3-7.5 3-6.9 3-4 3-2.6 3-3.8 3-4.4 3-3.5 3-1.2 3-.6 3-3.3 3-5.5 3-3.3 3 1.4 3 2.8 3 .9 3-1.5 3-2.3 3 .4 3 2.4 3 1.7 3 1 3 .1 3-1.6 3-1.8 3-1 3-1.2 3-1.9 3-1.4 3-.4 3 1 3 2.9 3 1.8 3-2 3-3.3 3-1.4 3 .1 3-.2 3 .1 3 1.8 3 2.1 3-.6 3-3.9 3-5.9 3-4.3 3 1.7 3 4.7 3 .9 3-3 3-3.9 3-3.1 3 .7 3 4 3 3.9 3 1.6 3-2.2 3-4.6 3-1.8 3 1.4 3 .7 3-1 3-1 3-.2 3-.4 3-1.2 3-2.3 3-2 3 .7 3 2.9 3 .1 3-3.4 3-1.7 3 2.3 3 3 3 0 3-1.8 3 .8 3 4.7 3 3.3 3-2.1 3-4.5 3-3.6 3-2.9 3-1.8 3 1.2 3 5 3 7.8 3 7.3 3 3.9 3 1.3 3 1.2 3 .6 3-1.3 3-1.8 3-3 3-4.7 3-3.4 3-.6 3-1.1 3-3.3 3-1 3 3.6"/>
<path d="M35.5 364.9l3 .9 3 2.1 3 .7 3 .8 3 1.7 3-.2 3-2.6 3-3 3-1.7 3 .4 3 2.5 3 3.5 3 2.3 3 1.4 3 1.7 3 1.8 3 .6 3-.8 3-.4 3-1.2 3-3.6 3-2.4 3 2.7 3 4.4 3 2 3 .2 3 .2 3-1.9 3-5.4 3-4.6 3 .5 3 3.4 3 1.5 3-1.3 3-.6 3 1.8 3 1.3 3 .2 3 2.3 3 3.7 2 2.1 1 .9 1 1.8 2 28 2 55.6 1 22.9 1 11.9 1 4.1 1-.1 2-4.4 1-2.3 1-2.1 2-3.2 2-2.6 1-1.4 1-1.6 2-3.6 2-4.2 1-2.1 1-2 2-4.2 3-6 3-5.5 3-5.1 3-5.4 3-4.1 3-2.3 3-1.6 3-1.5 3-.2 3 1.5 3 1.6 3-1 3-3.5 3-2.9 3-1.3 3-1.6 3-1.5 3 .8 3 2.9 3 2.5 3-.9 3-5.5 3-7.7 3-5 3-.5 3 .6 3-.7 3-.2 3 .7 3-.1 3 .4 3 .2 3-2.5 3-3.4 3-.9 3 .8 3-.6 3-1.9 3-.3 3 1 3-1.5 3-3.3 3-.3 3 4.3 3 6.6 3 5.1 3 .5 3-3.7 3-3.8 3-.5 3 1 3 .1 3-1.1 3-1 3-.2 3-.8 3-2.7 3-2.2 3 .4 3 2.5 3 .7 3-4.2 3-7.2 3-4.8 3-.4 3 1 3 1 3 1.9 3 1.9 3-.7 3-2.3 3 .1 3 2.6 3 2.3 3 .9 3-1.2 3-3.9 3-5 3-2.5 3 1.9 3 5.3 3 5.2 3 3.6 3 2.1 3-.1 3-2.3 3-3.5 3-4 3-2.9 3-1.4 3-1.6 3-2.8 3-2.5 3-.4 3 1.7 3 2.1 3 2.2 3 1.7 3 1.5 3 .7 3-2.9 3-5.6 3-3.7 3-.9 3 1"/>
<path d="M35.5 378.1l3 1.3 3-1 3-1.2 3 .7 3 .5 3-1.5 3-1.4 3-.2 3-1.3 3-2 3 .8 3 4.6 3 5.7 3 2.3 3-3.1 3-5.4 3-3.6 3-2 3-1.4 3 .1 3 1 3 .2 3-1.1 3-.8 3 .4 3-.3 3-1.2 3 0 3 1.4 3 2.7 3 2.8 3 1 3 .3 3 .5 3-.8 3-2.6 3-2.8 3-2.9 3-2.4 3 .1 2 .7 1 .4 1 .3 2 3.4 2 24.1 1 20.4 1 22.6 2 37.7 2 16.3 1 3.2 1 1.9 2 2.4 2 1 1-.2 1-.7 2-2.3 2-2.8 1-1.6 1-1.6 2-3.5 3-5.9 3-5.3 3-3.9 3-2.6 3-1.5 3-.7 3-.2 3-1.5 3-3.4 3-4 3-3.5 3-3.7 3-4.2 3-4.5 3-3.8 3-1.5 3 2.4 3 7.1 3 8.3 3 3.6 3-4.2 3-8.3 3-5 3 .3 3 .6 3-2.4 3-3.7 3-2.7 3 1.8 3 5.5 3 1.3 3-5.7 3-6.2 3-3.2 3-1.6 3 .4 3 1.6 3-.2 3-2.6 3-2.3 3-.2 3 .2 3-.8 3-.4 3 1.3 3 2.7 3 2.6 3-.1 3-3.5 3-4.4 3-1.7 3 0 3-.3 3-1 3-1.3 3-.8 3-.5 3-1.9 3-2.7 3-1.1 3 .3 3 1.5 3 2.6 3 2.4 3 .2 3-3.6 3-5.7 3-4.2 3-.8 3 .5 3-.9 3-1.3 3-.6 3 .5 3 3.6 3 7.1 3 6.4 3 1.7 3-1.6 3-3.1 3-4.2 3-4.4 3-3.6 3-1.4 3 .6 3 .9 3 1.6 3 1.1 3-2.4 3-4 3-2.1 3 .8 3 1.8 3-.2 3-2.4 3-1.7 3 1.3 3 1.6 3-.5 3-.5 3 1.1 3 2.7 3 2.1 3-1.6 3-4.8"/>
<path d="M35.5 370.6l3 3.9 3 2.7 3 .3 3-.1 3-.3 3-1.1 3-1 3 .2 3 1.4 3 2 3 3 3 3 3-1.2 3-5.5 3-3.7 3-.9 3-.9 3 .2 3 3.2 3 3.6 3 .6 3-1.6 3-2.2 3-2 3-2.1 3-4.2 3-4.7 3-1.3 3 1.2 3 .1 3-.3 3 2 3 4.1 3 4.4 3 2.3 3-1.7 3-4.5 3-3.6 3 .7 3 4 2 2.5 1 .7 1 0 2 .3 2 19.6 1 19.5 1 22.9 2 40.5 2 14.6 1 1.5 1-.3 2-2.8 2-3.5 1-1.8 1-1.8 2-3.7 2-3.7 1-1.7 1-1.7 2-3.5 3-6 3-7 3-6 3-3.3 3-.4 3 .9 3 1.2 3 1.5 3 .6 3 .2 3 1.2 3 .8 3-1 3-2.2 3-2.7 3-1.2 3 .5 3-1.1 3-3.8 3-4.1 3-2.4 3-1.9 3-2.7 3-1.6 3-1.7 3-3.3 3-2.5 3-.7 3-.9 3-2.1 3-1.5 3 .7 3 1.4 3 .2 3-2 3-3.4 3-3.2 3-2 3-.7 3 1.8 3 4.5 3 2 3-2.4 3-2.1 3 0 3-1.5 3-3.8 3-1.7 3 2.7 3 4.8 3 4.3 3 2 3-.6 3-1 3-.7 3-2 3-2.8 3-2.3 3-1.2 3-.2 3 1.1 3 3 3 2.8 3-1 3-3.9 3-4.1 3-2.4 3-1 3-2.1 3-3.2 3-2.3 3-.2 3 3.2 3 4.6 3 1.2 3-1.7 3 0 3 1.9 3 .1 3-1.9 3-2.3 3-3.1 3-3.5 3-1.8 3-1 3-1.3 3 .8 3 3.6 3 2.4 3 .1 3 1 3 1.1 3-2 3-3.3 3-.9 3 2 3 2.1 3 1 3-.5 3-2 3-1.8 3 .3 3 3 3 2.7 3-.9"/>
<path d="M35.5 369.9l3 .4 3 2.6 3-.3 3-.9 3-1.6 3-2.8 3-.5 3 1.4 3-.6 3-1 3 1.8 3 3.8 3 2.3 3 .3 3-.6 3-2.2 3-2.6 3-.5 3 1.3 3 .6 3 .6 3 3.6 3 5.6 3 3.4 3-.4 3-.9 3 .8 3 .2 3-.7 3 1.1 3 1.4 3-1.3 3-2.4 3-1.5 3-1.8 3-2.9 3-2 3 1.6 3 2.5 3 .1 2 22.1 1 26.2 1 30.3 2 43.2 2 6.8 1-1.6 1-2.1 2-3.4 2-2.7 1-1.6 1-1.9 2-5.1 2-6.7 1-3.7 1-3.7 2-6.5 2-4.9 1-1.6 1-1.2 2-1.3 3-.9 3-1.7 3-3.2 3-3.4 3-5.6 3-9.5 3-7.6 3-.8 3 1.7 3-.5 3-.8 3 .2 3-.6 3-1.2 3-.6 3-1.5 3-4.4 3-4.7 3-2.8 3-2.2 3-2.2 3-1.4 3-.1 3 .2 3 .5 3 2.2 3 2.1 3-.5 3-1.9 3-2.6 3-3.2 3-1.5 3 1.1 3 1.5 3-.3 3-3.2 3-2.7 3 2.6 3 4.6 3 .1 3-4.5 3-5.7 3-4.2 3-.1 3 2.8 3 1.5 3-.4 3 .3 3 .6 3-.6 3-3.1 3-3.9 3-1 3 1.7 3 1.6 3-1.8 3-5.7 3-2.8 3 2.9 3 2.8 3-.2 3-1.1 3-.5 3 .9 3 1.4 3-.1 3 0 3 .6 3 .5 3 1.1 3 1.4 3 1.2 3 .5 3 .2 3 .7 3-1.3 3-4.5 3-3.6 3-1.3 3-1.7 3-1.4 3 .5 3 2.8 3 2.5 3-.8 3-2.2 3-1.3 3-2.6 3-3.7 3-.1 3 2.7 3 .3 3-.9 3 .1 3 1.3 3 2.8 3 4 3 3.1 3-.9 3-3 3 .1 3 2.2 3-.1 3-3.1 3-2.6"/>
<path d="M35.5 358.2l3 .6 3 4.8 3 3.4 3 .6 3 1 3 2.4 3 .8 3 .5 3 2.5 3 1.5 3-1.7 3-2.9 3-2 3-.7 3 .1 3 1.4 3 3 3 2.9 3 1.2 3-.9 3-1.3 3 .8 3 3.3 3 2.4 3-1.2 3-4.7 3-4.6 3 1.4 3 6.5 3 5.8 3 2 3-2.3 3-4.1 3-2.6 3-2.4 3-3 3-.7 3 3.6 3 4.2 3-1.2 2-4.2 1-2.5 1-2.4 2-3.4 2-.5 1 .8 1 1.4 2 20.5 2 61.3 1 33.7 1 25.5 2 14.2 2-6.8 1-5.2 1-5.2 2-9.3 2-7.2 1-2.9 1-2.6 2-4.2 3-3.3 3-.4 3-1.8 3-4.5 3-5.2 3-6.6 3-7.8 3-5.6 3-2.7 3-2.2 3-2.9 3-.6 3 2.4 3 .4 3-3.1 3-2.6 3-1.1 3-2 3-1.9 3 .4 3 .3 3-2.2 3-2.7 3-2.5 3-4 3-4.8 3-2.9 3 .3 3 1.9 3 .4 3-1.3 3-2.3 3-3.3 3-4 3-3.3 3-1.4 3-.1 3 .3 3 1 3 1.4 3-.8 3-2.8 3-2.8 3-2.2 3-.2 3 3.1 3 3.3 3-.7 3-4 3-2.9 3 .6 3 2 3 1 3-.3 3-2.3 3-3.2 3-1.5 3 .5 3 2 3 3.1 3 1.7 3-2.1 3-3.7 3-2.6 3-1.2 3-2.4 3-4.2 3-3.1 3 1.4 3 5 3 3 3-1.9 3-2.3 3-.3 3 .6 3 2.3 3 4.2 3 3.9 3 1.6 3-.9 3-2 3-2.2 3-2.6 3-1.3 3 .1 3-1.2 3-3 3-1.8 3 1.8 3 3.7 3 .4 3-2.7 3-.8 3 1 3-.4 3-1.1 3-.4 3 .7 3 1.7 3 1.4 3 .3 3-.4 3-.8 3-2 3-3.1"/>
<path d="M35.5 369l3 3.8 3 1.1 3-1 3 1.6 3 5.3 3 4.3 3 0 3-3 3-2.4 3-1.7 3-2 3-.5 3 1.5 3 .3 3-2.7 3-2.6 3 .3 3 1.3 3 .8 3 1.4 3 2.8 3 .9 3-1.6 3 0 3 1.3 3-.1 3-1.5 3-2.7 3-2.1 3 .4 3 1.4 3-1.5 3-4 3-.2 3 6.3 3 4.2 3-3.9 3-4.3 3 .7 3 2.2 2 .4 1-.1 1-.4 2-.1 2 24.1 1 27.2 1 33.3 2 61.9 2 22.5 1 1.5 1-1.9 2-8.6 2-11.5 1-6 1-5.8 2-10.5 2-7.9 1-2.8 1-2.1 2-3 3-5.7 3-9.3 3-9.1 3-5.7 3-4.6 3-6.1 3-4.3 3-.9 3-1.7 3-5.2 3-5.9 3-4.2 3-2.7 3-2.7 3-3.3 3-3 3-1.4 3-1.4 3-2.4 3-2 3 .6 3 3.3 3 2.5 3-1.8 3-5.8 3-6.9 3-1.6 3 6 3 7.1 3 1.3 3-4.6 3-5.6 3-2.6 3 1.1 3 .8 3-2.2 3-1.5 3 1.1 3 1.5 3-.1 3-1.1 3 .4 3 2.7 3 1.7 3-.5 3-1.8 3-2.6 3-1.5 3 1.9 3 3.7 3 .9 3-3.7 3-4.1 3-1.5 3-.4 3-1.4 3-3.2 3-3.2 3-1.5 3 .1 3-.1 3-1.7 3-1.6 3 1 3 3.3 3 2.5 3 .8 3-.4 3-.5 3 1 3 1.9 3 .6 3-1.8 3-4.9 3-4.9 3-1.3 3 2.6 3 4.4 3 2.4 3-1.1 3-1.4 3 .1 3-1.4 3-4.7 3-4 3-1.1 3 .4 3 3.1 3 6.7 3 7.5 3 5.2 3 1 3-3.5 3-6.3 3-5.9 3-3.3 3-1.3 3-1.3 3 .2 3 3.9 3 4.6 3 2.4 3 0 3-1.5 3-3"/>
<path d="M35.5 361.7l3 4.7 3 5.6 3 4.1 3 1.3 3-1.2 3-2.4 3-.8 3 1.8 3 2 3 1.5 3 2.1 3 2.7 3 3.5 3 1.6 3-4.5 3-7.2 3-3.5 3-.8 3-1.6 3-1.7 3-.6 3 .6 3 .3 3 1.1 3 4.4 3 3.9 3-.3 3-1.7 3-.7 3-.5 3-2.2 3-4.8 3-3.9 3 .6 3 4.6 3 3.8 3-.6 3-3.3 3-1.8 3 .5 2 .3 1-.2 1 12.6 2 17.3 2 42.9 1 29.2 1 27.5 2 43.8 2 34.2 1 11.4 1 6.8 2 7.6 1 1.6 1-.2 1-.9 1-1.3 2-4.2 2-5.7 1-2.8 1-2.6 2-5.2 3-9.9 3-7.9 3-4.5 3-2.1 3-4.2 3-4.9 3-5 3-3.5 3-.7 3-4.9 3-5.9 3-4.7 3-5.6 3-4.3 3-2.6 3-.8 3-2 3-4.5 3-3.5 3-.8 3 .1 3 .7 3-.6 3-5.3 3-5.6 3-4.8 3-3.2 3-1.9 3-1.3 3-3.1 3-4.7 3-2.3 3 1.3 3-.3 3-2 3 .3 3-1.8 3-4.2 3-5 3-4.3 3-1.5 3-1 3-1.7 3-.8 3 1.2 3 2.4 3-.8 3-2.3 3-1.7 3-2.9 3-3.7 3-3.8 3 .2 3 2.4 3-.9 3-2.5 3 .5 3-.4 3-1 3-1.5 3-1.7 3-1.1 3-.4 3 .3 3-1.9 3-2 3-1.1 3-2.5 3-2.3 3-1.7 3 .4 3 2.5 3 4.8 3 3.8 3 1.1 3 .4 3 .1 3-.4 3-4 3-3 3-1.9 3-1.9 3-1.2 3-1.2 3-1.7 3-1 3 1.3 3 .5 3 1 3 .3 3-1.9 3-3.2 3-2.8 3-.8 3 .8 3 .9 3-.5 3 1.2 3 3.1 3 .5 3 .3 3 .6 3 .4 3 2.4 3 1"/>
<path d="M35.5 376.9l3-.4 3-.1 3-.3 3-1.2 3-.9 3 .2 3 0 3 .7 3 2 3 2.9 3 1.2 3-1.6 3-1.9 3-.5 3-.3 3-1.4 3-1.2 3 2.2 3 6.2 3 5.6 3 0 3-5 3-5.7 3-2.7 3-1.5 3-2.2 3 .4 3 2.9 3 1.1 3-.8 3 .3 3 1.5 3 1 3 .4 3 .8 3 2.4 3 2.9 3-1 3-5.4 3-3.4 2 .8 1 1.1 1 1.1 2 1.5 2 .3 1 0 1 .5 2 33.5 2 83.4 1 39.7 1 23.4 1 8.2 1-.3 2-9.5 1-5.8 1-5.9 2-12 2-10.8 1-4.6 1-3.8 2-5.8 3-5.8 3-5.9 3-8.4 3-11.4 3-12 3-8.6 3-5.8 3-6.7 3-6.1 3-1 3 1.9 3-.6 3-3.7 3-2.9 3-3.1 3-5.8 3-4.7 3-1.5 3-.9 3-1.1 3-.2 3 .9 3 2.1 3 .4 3-4.8 3-7.9 3-5.7 3-1.3 3 1.8 3 3.3 3 3.7 3 3.2 3 1 3-2.2 3-4 3-5.2 3-5 3-2.7 3-.5 3 .2 3 0 3-.1 3 .1 3 .3 3 .8 3 .9 3 1.7 3 2.8 3 1.8 3-2.5 3-6 3-4.4 3-1.1 3 .6 3 1 3 1.3 3 1.1 3 .9 3-.4 3-2.3 3-2.3 3 .7 3 3.5 3 1 3-4.6 3-6 3-2.4 3 .3 3 1.4 3 2 3 1.1 3 .9 3 .8 3-1.6 3-4.9 3-5 3-1 3 4.3 3 5.7 3 2.4 3-.3 3 .1 3 .3 3-.9 3-.9 3-.8 3-2 3-2.8 3-1.2 3 .1 3-.4 3 .3 3 2.7 3 3.1 3-.5 3-3.8 3-2.1 3 0 3-1.2 3-2.4 3-.9 3 2.6 3 4.3 3 1.1 3-3.1"/>
<path d="M35.5 367.9l3 2.4 3 5 3 4.7 3 2.4 3 0 3-1.1 3-.7 3 .8 3 2.8 3 2.1 3-.6 3-2 3-2.1 3-3.3 3-4.7 3-4.8 3-4 3-1.7 3 1 3 3.1 3 4.5 3 3 3 1.8 3 2.7 3 1.6 3-.3 3-.8 3-2.4 3-4.1 3-1.7 3 1.5 3-.3 3-3.9 3-.9 3 4.8 3 4.2 3-.1 3-1 3 1.1 3 .7 2-.9 1-.8 1-.7 2-.6 2 4 1 9.9 1 17.6 2 55.6 2 64.5 1 27.4 1 18.3 2 10 2-5.2 1-4.5 1-4.8 2-9.3 2-8.5 1-4.2 1-4.1 2-8.4 3-11.7 3-9.9 3-9.2 3-8.8 3-6.9 3-4.4 3-3.9 3-5.3 3-5.2 3-4.4 3-5.2 3-5.8 3-4.5 3-2.4 3-1 3-.7 3-.6 3-1.4 3-2.4 3-1.2 3-.1 3-1.8 3-3.2 3-.9 3 3.1 3 4.2 3 .6 3-3.8 3-4.8 3-3.4 3-1.6 3-1.8 3-3.8 3-3.5 3-1.3 3-1.7 3-3.4 3-2.7 3-.5 3 .5 3 .2 3-.6 3-1.4 3-.7 3 0 3-.9 3-2.5 3-2.7 3-1.9 3-1.6 3-1.6 3-1.5 3-2.8 3-3.4 3-.7 3 1.9 3 1.7 3 .1 3-.5 3 0 3 1 3 .7 3-.8 3-1.9 3-1.4 3 .1 3 2.5 3 3.7 3 1.2 3-1.6 3-2.2 3-1.2 3-.3 3 .3 3 .9 3 .1 3-2.1 3-2.5 3-.8 3-.1 3 .7 3 2.7 3 2.9 3 .1 3-2.9 3-3.1 3-.1 3 1.9 3 1.9 3 1.6 3 1.3 3 .2 3-2.8 3-5.5 3-3.5 3 1.2 3 3.9 3 3.4 3 1.1 3-2.1 3-4.6 3-3.2 3 1.6 3 4.3 3 1.8"/>
<path d="M35.5 372.8l3-4.1 3-.1 3 2.6 3 2.6 3 1.9 3 1.2 3 .1 3-.8 3-.6 3 0 3 .1 3 .6 3 2.1 3 1.2 3-.9 3-.7 3 .4 3 .3 3 1.6 3 3.1 3-.4 3-4.5 3-1.8 3 2.5 3 .4 3-.8 3 2.5 3 4.2 3 1.7 3-1.6 3-.8 3 1.8 3 1 3-2.1 3-2.4 3 0 3-.2 3-4.3 3-5.6 3-1.6 2 2.1 1 1.7 1 1.9 2 3.4 2 2.2 1 2.4 1 7.9 2 39.3 2 64.4 1 34.1 1 30.9 2 36.2 2 6.5 1-1.5 1-2.9 2-6.9 2-7.5 1-4 1-4.2 2-8.5 3-13.2 3-13.5 3-9.6 3-2.8 3-1.1 3-4.2 3-5.6 3-4.9 3-3 3-1 3-1 3-2.8 3-4.9 3-6.6 3-6.6 3-5.3 3-3.8 3-4.3 3-5.6 3-5.2 3-2.3 3-.2 3-1.4 3-3.3 3-1.7 3 1.9 3 4 3 2.4 3-2.5 3-7.7 3-6.6 3-2 3-3.4 3-7 3-5.6 3-1.6 3 .6 3 1.8 3 .3 3-3.4 3-6 3-5.4 3-1.3 3 3.9 3 3.5 3-3.1 3-5.9 3-2.6 3 1.5 3 3.7 3 2.8 3 1.1 3 .6 3-.1 3-1.4 3-2.2 3-2 3-1.8 3-2.7 3-4.5 3-4 3 1.6 3 7.1 3 4.9 3-1.1 3-2.9 3-3.4 3-3.6 3-2.2 3-.8 3-1.9 3-5.3 3-6.5 3-2.6 3 3 3 5.5 3 4 3 1.7 3-.6 3-3.2 3-4.2 3-1.7 3 1.3 3 2.2 3 1.6 3 .8 3 .4 3 1.2 3 2.1 3 .2 3-4 3-6.3 3-4.9 3 .7 3 4.8 3 3.1 3-.1 3-.2 3 .3 3-.5 3-1.8 3-1.4 3-.2 3-.8 3-1.6"/>
<path d="M35.5 376.1l3 1.1 3 1.4 3 .9 3 .1 3-.4 3-1 3-1.9 3-3.7 3-3.6 3 1.6 3 5.3 3 3.7 3 1.8 3 2.4 3 2.5 3-.8 3-3.8 3-4 3-2 3 .6 3 .4 3-2 3-4.1 3-5 3-2.9 3 .4 3 1.8 3 2.2 3 2 3 1.7 3 1.9 3 2.4 3 3 3 2.9 3 1.6 3 .8 3-.2 3-2.4 3-3.5 3-1.2 2 .7 1 .6 1 .8 2 1.4 2 5 1 11 1 19.3 2 61.5 2 74.4 1 33.6 1 27.1 2 22 1 2.6 1-.6 1-2.4 1-3.4 2-8.2 2-9.3 1-4.9 1-5 2-9.6 3-12.7 3-10.8 3-8.2 3-5.4 3-4.8 3-6.1 3-7.4 3-6.5 3-4.6 3-3.5 3-3.4 3-4.2 3-6.4 3-8.7 3-7.5 3-3.4 3-1.2 3-3.1 3-6.4 3-5.9 3-2.2 3 1.1 3 2 3-.2 3-2.9 3-2.6 3-1.3 3-1.3 3-1.2 3-1.9 3-3.2 3-3.7 3-4.3 3-4.3 3-4.1 3-3.7 3-2 3 0 3-.1 3-2.5 3-4.5 3-2.9 3 1.1 3 2.3 3 .8 3-.9 3-2 3-.9 3 1 3-.7 3-3.5 3-2 3 1.6 3 2.1 3-1.9 3-4.8 3-3 3-1.2 3-1.8 3-2.5 3-2.4 3-1.8 3-1.1 3-2.6 3-6 3-5 3 1.8 3 5.5 3 2.1 3-2.1 3-1.2 3 2.5 3 5 3 4.8 3 1.8 3-1.8 3-3 3-.9 3 1.3 3 .6 3-1.9 3-3.4 3-3.2 3-1.8 3-1.7 3-2.6 3-2.9 3-2.3 3 .5 3 4.6 3 4 3-2 3-6.2 3-4.2 3 .2 3 1.8 3 .7 3-.3 3-.4 3-.4 3-.8 3 .5 3 2.6 3 1.4 3-1.4"/>
</g>
<path fill="none" stroke="#46c2b1" stroke-width="5.8" stroke-linejoin="round" d="M35.5 375.7l2 0 2 0 2 0 2 .1 2 0 2 0 2-.1 2 0 2 0 2 0 2-.1 2 0 2-.1 2 0 2-.1 2 0 2-.1 2 0 2 0 2 0 2 0 2-.1 2 0 2 0 2 0 2-.1 2 0 2 0 2 0 2 0 2 0 2 0 2 0 2 .1 2 0 2 0 2 .1 2 0 2 0 2 0 2 0 2 .1 2 0 2 0 2-.1 2 0 2 0 2 0 2 0 2-.1 2 0 2 0 2 0 2-.1 2 0 2 0 2 0 2 .1 2 0 2 .3 2 1.3 2 4.7 2 12.6 2 20.8 2 18.5 2 10.1 2 4.1 2 .4 2-1.3 2-1.8 2-1.9 2-1.8 2-1.7 2-1.6 2-1.5 2-1.5 2-1.5 2-1.4 2-1.5 2-1.4 2-1.3 2-1.3 2-1.2 2-1.3 2-1.3 2-1.2 2-1.2 2-1 2-1.1 2-1 2-.9 2-1 2-1 2-.9 2-.8 2-.7 2-.8 2-.7 2-.8 2-.7 2-.7 2-.7 2-.6 2-.6 2-.7 2-.7 2-.6 2-.7 2-.6 2-.6 2-.6 2-.6 2-.5 2-.6 2-.5 2-.5 2-.4 2-.3 2-.4 2-.4 2-.4 2-.4 2-.4 2-.3 2-.4 2-.3 2-.4 2-.3 2-.4 2-.3 2-.3 2-.4 2-.3 2-.3 2-.3 2-.2 2-.2 2-.2 2-.2 2-.2 2-.2 2-.2 2-.2 2-.3 2-.2 2-.3 2-.2 2-.2 2-.2 2-.3 2-.2 2-.2 2-.3 2-.4 2-.3 2-.3 2-.3 2-.4 2-.3 2-.2 2-.3 2-.2 2 0 2-.1 2-.1 2 0 2-.1 2-.1 2-.1 2-.2 2-.1 2-.2 2-.1 2-.2 2-.2 2-.2 2-.2 2-.1 2-.2 2-.1 2-.1 2-.1 2-.1 2 0 2-.1 2 0 2 0 2-.1 2 0 2-.1 2 0 2 0 2-.1 2 0 2-.1 2-.1 2-.1 2-.1 2-.1 2-.1 2 0 2-.1 2-.1 2 0 2-.1 2 0 2-.1 2 0 2 0 2-.1 2 0 2 0 2-.1 2 0 2 0 2 0 2-.1 2 0 2-.1 2 0 2-.1 2 0 2-.1 2 0 2-.1 2 0 2-.1 2 0 2-.1 2-.1 2 0 2-.1 1 0"/>
<polygon fill="#cdcfd1" points="517,365.1 520,365.1 523,365.3 526,365.5 529,365.7 532,366 535,366.4 538,366.7 541,366.6 544,366.4 547,366.3 550,366.2 553,366 556,365.7 559,365.4 562,365.3 565,365.6 568,365.9 571,366 574,365.9 577,365.8 580,365.9 583,366.2 586,366.5 589,366.4 592,366 595,365.7 598,365.6 601,365.7 604,365.7 607,365.8 610,365.9 613,366.1 616,366 619,365.8 622,365.6 625,365.6 628,365.7 631,365.7 634,366 637,366.8 640,368.4 643,370.7 646,373.6 649,376.5 652,379.1 655,381.1 658,382 661,382 664,381.6 667,381.2 670,381 673,380.8 676,380.3 679,379.7 682,379.1 685,378.6 688,378.2 691,377.9 694,377.4 697,376.6 700,375.8 703,375 706,374.4 709,374 712,373.7 715,373.4 718,373.1 721,373 724,373.1 727,373.5 730,373.8 733,373.8 736,373.2 739,372.3 742,371.3 745,370.5 748,370.1 751,370.2 754,370.5 757,370.7 760,370.7 763,370.7 766,370.8 769,370.9 772,371 775,370.9 778,370.8 781,370.5 784,370.1 787,369.5 790,369.1 793,368.7 796,368.3 799,368.2 802,368.6 805,369.3 808,369.8 811,370 814,369.8 817,369.5 820,369.2 823,369 826,369 829,368.8 832,368.6 835,368.2 838,367.9 841,368 844,368.3 847,368.5 850,368.4 853,368.1 856,367.8 859,367.6 862,367.5 865,367.3 868,367.2 871,366.9 874,366.5 877,366.1 880,365.8 883,366 886,366.5 889,367 892,367.3 895,367.3 898,367.3 901,367.3 904,367.3 907,367.3 910,367.1 913,367 916,367 919,367 922,366.8 925,366.4 928,365.7 931,365.1 934,365.1 937,365.6 940,366.3 943,366.9 946,367.1 949,367 952,366.9 955,366.9 958,367.1 961,367.3 964,367.5 967,367.7 970,367.8 973,367.9 976,367.8 979,367.5 982,367 985,366.6 985,387.1 982,386.6 979,386.4 976,386.5 973,386.6 970,386.6 967,386.8 964,387.1 961,387.4 958,387.6 955,387.8 952,387.9 949,387.9 946,387.6 943,387.4 940,387.4 937,387.5 934,387.6 931,387.6 928,387.5 925,387.3 922,387.5 919,387.9 916,388.2 913,388.1 910,388.1 907,388.2 904,388.3 901,388.1 898,387.8 895,387.9 892,388.4 889,389 886,389.5 883,389.7 880,389.7 877,389.6 874,389.8 871,390.2 868,390.6 865,390.5 862,390.3 859,390.4 856,390.8 853,391.4 850,391.8 847,391.8 844,391.3 841,390.6 838,390.2 835,390.2 832,390.3 829,390.3 826,390.1 823,389.7 820,389.5 817,389.7 814,390.1 811,390.7 808,391.4 805,392.2 802,392.9 799,393.5 796,393.7 793,393.7 790,393.6 787,393.7 784,394 781,394.1 778,394 775,394.2 772,394.8 769,395.6 766,396.2 763,396.3 760,396 757,395.8 754,396 751,396.7 748,397.5 745,398.1 742,398.4 739,398.3 736,398.2 733,398.3 730,398.8 727,399.2 724,399.4 721,399.7 718,400.3 715,401 712,401.7 709,402.4 706,403.2 703,404.3 700,405.5 697,406.6 694,407.6 691,408.6 688,409.3 685,409.9 682,410.8 679,411.7 676,412.8 673,413.9 670,415 667,416 664,416.7 661,417 658,416.3 655,414.4 652,411.2 649,406.6 646,400.9 643,395.4 640,391.7 637,389.2 634,387.4 631,386 628,385.2 625,385.4 622,385.9 619,386 616,385.8 613,385.5 610,385.4 607,385.5 604,385.8 601,386 598,386.1 595,386.3 592,386.7 589,387.1 586,387.3 583,387.1 580,386.8 577,386.5 574,386.2 571,385.8 568,385.5 565,385.4 562,385.5 559,385.4 556,385.4 553,385.7 550,386 547,386.3 544,386.5 541,386.4 538,386.1 535,385.7 532,385.6 529,385.9 526,386.2 523,386.3 520,386.4 517,386.5"/>
<g fill="none" stroke="#c2c4c6" stroke-width="1.1" stroke-linejoin="round">
<path d="M517 377l3 .9 3-.2 3-.7 3-.4 3 .1 3 1.3 3 1 3-2.8 3-6.1 3-4 3-.3 3 1.8 3 2.5 3 .3 3-4.2 3-5.6 3-1.5 3 2.9 3 4 3 2.4 3 .1 3 1.2 3 4.4 3 6.2 3 4.8 3 1.8 3-.5 3-2.4 3-3.8 3-3.4 3-2.9 3-5.4 3-7.1 3-3 3 .8 3 0 3 .5 3 4.7 2 4.5 1 2.1 1 1.8 2 2.8 2 1.4 1 .1 1-.2 2-1.3 2-2.2 1-1.3 1-1.2 2-2.1 2-1.2 1-.1 1 .4 2 2.3 2 3.7 1 1.9 1 1.8 2 2 2-1.2 1-1.8 3-7.2 3-3 3 2.4 3 2.2 3 1.2 3 1.8 3 .7 3 .1 3 2.4 3 4.7 3 4.3 3 1.8 3-2.1 3-4.6 3-3.5 3-1.4 3-.5 3-1.3 3-2.3 3-1.9 3-.1 3 .8 3-.2 3 0 3 2 3 3.2 3 2.3 3 1.8 3 2.6 3 1.5 3-.2 3 1.2 3 2.7 3 2.1 3 .8 1 .1 2-.4 3-1.8 3-3.1 3-3.6 3-3.1 3-1.3 3-.1 3-.3 3 .3 3 1.9 3 1.4 3-1.7 3-4 3-3.2 3-1.4 3-1.5 3-.1 3 4.1 3 5.1 3 .2 3-5.2 3-5.2 3 .2 3 4.8 3 6.1 3 4.1 3-2.1 3-7.7 3-6.7 3-1 3 2.8 3 3 3 1.6 3-.9 3-2.6 3-1.2 3 .9 3 .3 3-.9 3 0 3 3.3 3 5.1 3 1.5 3-3.6 3-4.6 3-1.2 3 2.9 3 4.1 3 3.1 3 2.4 3 2 3 .2 3-2.4 3-3.2 3-2.3 3-1.1 3-1 3-.4 3 1.7 3 2.3 3 1.9 3 2.4 3 1.4 3-.4 3-1.7 3-4.1 3-4.7 3-2 3-.6 3-1.7 3 0 3 3.3"/>
<path d="M517 370.3l3-1.3 3-.6 3-1 3 .2 3 3 3 2.4 3-1.4 3-3.3 3-1.8 3 .7 3 2.3 3 3.9 3 3.7 3 .6 3-3.2 3-2.7 3 .8 3 1.5 3 0 3-.2 3-.4 3-1.9 3-.8 3 3 3 3.5 3-.3 3-3.3 3-2.9 3-1 3 .8 3 3.1 3 4.3 3 2.2 3 .1 3 .7 3 .9 3-.5 3-.3 2 .7 1 .5 1 .4 2 .5 2 .3 1 .2 1 .4 2 1.5 2 2.3 1 1.4 1 1.4 2 2.8 2 2.1 1 .5 1 .2 2-1 2-2.5 1-1.4 1-1.4 2-2.7 2-2.4 1-1.2 3-2.7 3 .1 3 1.2 3-1.5 3-3.3 3-.9 3 2.3 3 2 3-.8 3-1 3 .6 3 0 3-2.3 3-2.8 3-.5 3 1.3 3 1.2 3 .8 3-.3 3-2.1 3-2.2 3-1.2 3 0 3 .8 3 1.5 3 2 3 1.8 3 .6 3-.7 3-.5 3 .2 3 .8 3 1 3 .5 3-1.1 3-3.5 3-5.1 3-5.1 3-2.9 3 .4 3 2.4 3 3 3 2.6 3 .5 3-.7 3 .8 3 1.7 3 1.5 3 .9 3-.3 3-2.4 3-3.3 3-1.3 3 1.1 3 1.3 3 1 3 2 3 3.1 3 2.9 3 3.4 3 4.7 3 4 3 2 3 1.1 3-.4 3-2.5 3-3 3-2.2 3-2.6 3-5.5 3-6.8 3-3.3 3 2.1 3 3.5 3 .7 3-1 3-.1 3-.1 3-.1 3 1 3 1.1 3 .1 3-.2 3 .4 3 1.3 3 1.7 3-.1 3-2.8 3-2.1 3 2.4 3 4.1 3-.3 3-5.6 3-6.3 3-3.2 3 .5 3 2.9 3 2.9 3-.2 3-3.7 3-3.8 3 .7 3 6.3 3 5.6 3-.7 3-3.7 3-1.7"/>
<path d="M517 385.2l3 1.1 3-.1 3-1.6 3-2.1 3-.2 3 .9 3 1.4 3 .7 3-1.7 3-2.1 3-.4 3-.2 3-.5 3 .1 3 .3 3-.6 3-1.5 3-1.8 3-2.3 3-3.6 3-4.1 3-1.4 3 1.4 3 2.8 3 2.9 3 .8 3-.1 3 1.2 3 1.8 3 1.7 3 3.9 3 5.4 3 2.1 3-2.7 3-4.2 3-4.9 3-4 3 .3 2 1.6 1 .6 1 .1 2-.8 2-1.4 1-.6 1-.3 2 .1 2 .5 1 .4 1 .4 2 1.2 2 2.2 1 1.6 1 1.9 2 3.9 2 3.2 1 1.2 1 .7 2 0 2-1.7 1-1.3 3-4.6 3-4.6 3-4.2 3-3.4 3-2.2 3-.2 3 1 3 2.3 3 4.1 3 3.3 3 .5 3-.2 3 .2 3 .6 3 1.6 3 2.4 3 2.2 3 0 3-1.3 3 .6 3-1.1 3-6.7 3-7.1 3-.4 3 5 3 3.8 3 .2 3-1.7 3-1.1 3 .3 3 .1 3 .3 3 .8 3-1.2 3-3.4 3-2.7 3 .3 3 4.1 3 4.4 3 1.1 3-.8 3 .3 3 1.3 3 1.3 3 1.6 3 2.1 3 1.7 3 .1 3-1.5 3-1.3 3-.5 3-.1 3-.9 3-.3 3 .4 3-2.5 3-4.2 3-.2 3 3.2 3 .1 3-4.4 3-4.1 3-.2 3 2.5 3 3.2 3 2.8 3 2 3 2.3 3 4.1 3 5.2 3 2.8 3-1.9 3-4.5 3-4.3 3-1.7 3 .3 3 .5 3 .5 3-.7 3-3.5 3-3.3 3 .6 3 2.9 3 1.3 3-1.9 3-2.2 3-.4 3 .4 3 1.2 3 1.9 3-.4 3-1.8 3 1.5 3 3.3 3 .4 3-1.2 3-.1 3 1.2 3 1.1 3-2.2 3-6.4 3-4.2 3 3 3 5.9 3 3.7 3 1 3-.8"/>
<path d="M517 376.6l3-2.5 3-3.2 3-1.1 3 2.1 3 1.8 3-2.3 3-4.1 3-3.1 3-4.2 3-4.2 3 .6 3 4.3 3 1.8 3-1.6 3-2.4 3-1.1 3 3.1 3 7.7 3 6.2 3 1.2 3-1 3-1.4 3-1.4 3-.6 3-.7 3-2.1 3-2.5 3-1.2 3 .3 3 1.5 3 4.2 3 6.7 3 7.2 3 5.2 3 1.3 3-2.8 3-4.4 3-1.9 2 .5 1 .6 1 .6 2 .7 2 0 1-.2 1-.3 2-.8 2-.8 1-.4 1-.3 2-.1 2 .8 1 .7 1 .6 2 .7 2-.4 1-.4 1-.3 2-.3 2 .2 1 .1 3 .2 3-1.2 3-2.1 3-1 3 1.3 3 2.8 3 2.4 3 .4 3-2.5 3-2.8 3 .7 3 4.1 3 2.8 3-.3 3-3.5 3-5.2 3-2.1 3 1.8 3 0 3-5 3-5.3 3-1.3 3 .8 3 1.8 3 2.3 3 1.4 3 2.2 3 3.9 3 4.2 3 1.3 3-3.1 3-3.6 3 .3 3 3.2 3 3.9 3 1.2 3-3.4 3-4.7 3-3.4 3-2.7 3-.8 3 3.2 3 4 3 .7 3-1.5 3-1.2 3-1.5 3-4.1 3-3.8 3-.1 3 2.7 3 3 3 2.2 3 2.9 3 4.8 3 3.3 3-.8 3-4.3 3-5.6 3-3.5 3 1.3 3 4.3 3 3.8 3 3.8 3 3 3 1.1 3 1.1 3 .7 3-.8 3-.5 3 .9 3 .6 3-1 3 0 3 3.1 3 2.5 3-2.9 3-7.3 3-6.6 3-3.9 3-3.3 3-1.7 3 1.8 3 3 3 .2 3-3 3-2.3 3 0 3 0 3 1.1 3 3.7 3 2.4 3-1.1 3-1.5 3 1 3 3.1 3 1.6 3-.5 3 .4 3 2.2 3 2.8 3 2.9 3 3.2 3 1.5 3-2 3-1.6 3 .5"/>
<path d="M517 373.5l3-2.9 3-3.6 3-2.2 3 1.5 3 4 3 4 3 3.1 3 .3 3-3.9 3-4.6 3 .1 3 3.2 3 .8 3-2.2 3-3 3-1.5 3 .9 3 2.3 3 2.1 3 .4 3 .5 3 2.9 3 4.5 3 4.5 3 1.8 3-2.7 3-5.1 3-4.9 3-3.3 3 .2 3 1.9 3 .1 3-2.5 3-3.2 3-1.5 3 2.1 3 4.2 3 .6 2-2.3 1-1.2 1-.9 2-.3 2 1.2 1 .8 1 .8 2 2.4 2 4.2 1 2.7 1 2.9 2 5.5 2 3.3 1 .4 1-.3 2-2.2 2-2.5 1-.9 1-.5 2 .2 2 1.1 1 .4 3-.2 3-1.8 3-.8 3-.7 3-2 3-2.5 3-1.5 3 .2 3-.7 3-2.4 3-1 3 1.1 3-.9 3-3.4 3-3.2 3-1.1 3 4.6 3 8.2 3 4.3 3-1 3-4 3-4.4 3-2.2 3 .8 3 2.2 3 2.7 3 3.5 3 3.2 3 1.2 3-1.2 3-4.6 3-7.5 3-5.5 3-.6 3 3 3 2.2 3-1.5 3-1.4 3 2.6 3 2.8 3 .5 3 .6 3 .7 3-.2 3-.3 3-.5 3-2.1 3-2.5 3 .7 3 2.4 3 .1 3-1.1 3-.1 3 .1 3 1.1 3 2.8 3 2.7 3 3.3 3 3 3-1.4 3-3.7 3-1.8 3-1 3-.9 3 1.5 3 1.8 3-3.1 3-6.8 3-5.2 3-1.4 3 1.9 3 3.9 3 3.4 3 2.5 3 3 3 2.8 3 .8 3-1.9 3-3.1 3-.4 3 2.8 3 2.7 3-.1 3-2 3-1.9 3-1.4 3-.6 3-.1 3-.6 3-.7 3 1.2 3 2.5 3-.1 3-3.1 3-2.6 3-1.6 3-.3 3 1.7 3 2.5 3-1.2 3-5.7 3-3.7 3 2 3 3.8 3 1.4 3 .5 3 2.8"/>
<path d="M517 377l3 1.4 3 3.7 3 1.8 3-2.2 3-2.8 3-1.8 3-1.3 3 1 3 3.4 3 .4 3-5.1 3-5.1 3-.5 3 3.5 3 4.6 3 1.4 3-2.4 3-1.5 3 2.4 3 4.6 3 2.8 3-1.8 3-3.2 3-.7 3-.6 3-2.7 3-2.2 3-.6 3-.5 3-.2 3 2.5 3 3.7 3-.4 3-2 3 .9 3 2.8 3 3.3 3 2.4 2-.7 1-1.4 1-2 2-5.1 2-4.5 1-1.3 1-.5 2 .8 2 1.8 1 .8 1 .6 2 .5 2 .1 1 .2 1 .4 2 1.5 2 1.9 1 .8 1 .4 2-.3 2-1.7 1-1 3-2.9 3-3.2 3-1.2 3 3.8 3 4.5 3 1.9 3 1.3 3 1.5 3 1.1 3 .8 3 1.3 3 3.2 3 3.7 1 .4 2-1.7 3-7.3 3-7.4 3-3.9 3 0 3 4.3 3 4.5 3 .5 3-1.6 3-.6 3 .4 3-1.4 3-3.1 3-2.1 3 1.2 3 3.7 3 3.1 3 .1 3-2.4 3-2.4 3 0 3 2 3 .7 3-3 3-5 3-5 3-2.7 3 2.2 3 5 3 4.4 3 3.6 3 2 3-1.5 3-4 3-2.9 3 1.8 3 6.8 3 6.2 3 1.4 3-2.2 3-2.2 3-1.3 3-2.2 3-3.3 3-2 3 .3 3 .9 3-.7 3-.7 3 .3 3 .6 3 2.4 3 2.6 3-.2 3-1.2 3-.3 3-1.4 3-2.8 3-1.5 3 1.9 3 3.2 3 .8 3 .6 3 1.7 3-1.5 3-4 3-3.2 3-2.6 3-1 3 1.8 3 2.4 3 .5 3-.2 3 3.2 3 6.3 3 1.5 3-5.6 3-5.8 3-.6 3 3.8 3 4 3 1.5 3-.8 3-3.3 3-4 3-3.2 3-3.5 3-3.5 3-1.5 3 1.2 3 2.5 3 1.2 3-.4 3-.5"/>
<path d="M517 370.5l3-2.6 3-2.7 3-1.4 3 .9 3 3.7 3 4.8 3 3.4 3-.4 3-1.5 3 2.6 3 4.4 3 1.1 3-2.1 3-2.2 3-.3 3 2.6 3 3.8 3 1.9 3-.6 3-1.7 3-1.1 3-1.3 3-2.2 3-3 3-5 3-5.9 3-1.8 3 4.2 3 7.7 3 7.8 3 3.8 3-.9 3-2.9 3-.9 3 2.1 3 .3 3-3.5 3-2.6 2-.2 1 .1 1-.1 2-.7 2-1.7 1-1 1-.9 2-1.1 2 .3 1 .8 1 1 2 3.1 2 3.9 1 2.1 1 2.1 2 3.4 2 1.1 1-.7 1-1.3 2-3.6 2-3.5 1-1.3 3-1.1 3 2.3 3 1.9 3-.7 3-1 3 .7 3 1.7 3 1.4 3-.1 3-2.2 3-2.4 3-.8 3 .1 3 .1 3 .8 3 0 3-2.6 3-3.4 3-1.6 3 .2 3 .1 3-1.3 3 .2 3 3.3 3 3.1 3 .7 3-3.4 3-7.1 3-6.4 3-3 3 .3 3 2.4 3 2 3 2.3 3 3.9 3 3.3 3 2.5 3 2.8 3 2 3 0 3-1.4 3-.7 3 1.5 3 2.5 3 1.2 3-1.5 3-3.8 3-2.6 3 1.4 3 3.3 3 .4 3-3.3 3-2.6 3 .7 3 .5 3-2 3-1.9 3-.8 3 .5 3 2.6 3 2.4 3 .4 3-.2 3 1.5 3 1.2 3-2.7 3-3.4 3-1.2 3-1 3-.5 3 2.2 3 4.4 3 3.8 3 .9 3-1.3 3-1.6 3-1.2 3-2.6 3-4.5 3-3.5 3-1.8 3-.8 3 1.5 3 4.1 3 3.6 3 .3 3-3.6 3-3.5 3 0 3 .3 3-2.5 3-1.8 3 3.3 3 5.7 3 3.3 3 2.1 3 3.7 3 5.7 3 4.5 2 .6 1-.5 3-3.5 3-3.9 3-2.1 3-.2 3 1.1 3 1.3 3-.9"/>
<path d="M517 376.5l3-1 3-1.5 3 1.2 3 4.6 3 5.2 3 2.8 3-2.2 3-4 3 .2 3 3.6 3 3.4 3 3.3 3 3.3 3 1.9 3-.5 3-2.9 3-4.2 3-2.9 3 .6 3 2 3-1.2 3-3.4 3-2.1 3-1.7 3-2.7 3-3.6 3-3.1 3 .8 3 6 3 6.4 3 3.2 3 1.5 3 .6 3-.1 3-1.2 3-3.2 3-4.8 3-3.5 2-1.1 1-.4 1-.3 2-.9 2-1.1 1-.3 1 .1 2 1.6 2 3.3 1 2 1 1.9 2 2.8 2 .4 1-.7 1-1.3 2-3 2-2.3 1-.3 1 .5 2 3.2 2 4.8 1 2.6 3 5.6 3 1.3 3-2.3 3-3.4 3-1.9 3-.4 3-1.2 3-3.7 3-6.9 3-7.5 3-3.5 3 3.4 3 8 3 6.4 3 .9 3-2.6 3-1.7 3 .8 3 2.6 3 2.2 3 .7 3 1 3 .8 3-.7 3-.1 3 2.4 3 3.5 3 3 3 2.2 1 .1 2-1.5 3-5.4 3-3.8 3 .3 3 .9 3-.8 3-2.9 3-6.6 3-9.2 3-6.5 3-1 3 1.2 3 .3 3 .6 3 2.2 3 3.6 3 4.7 3 4.4 3 3.8 3 3.6 3 .4 3-4.8 3-5.5 3-2.1 3 .5 3-.3 3-1.4 3-1 3-.8 3 .1 3 2.3 3 2.5 3 .6 3-1.1 3-.5 3 1.5 3 2.3 3 1.5 3-.7 3-2.8 3-3.2 3-2 3-1.4 3-2.6 3-2.1 3 1.2 3 3.4 3 3.7 3 4.2 3 3.6 3 4 3 4.5 3 1.8 3-2.3 3-4.1 3-3.7 3-3.8 3-4.1 3-3 3-1.5 3-1 3-.2 3 .7 3 .8 3 .4 3-.1 3-1.1 3-2.3 3-2 3-.8 3-2.2 3-3 3 .8 3 4.8 3 3.2 3-.4 3 0 3 3.4"/>
<path d="M517 378.6l3 .8 3-1.3 3-.9 3 1.5 3 4.3 3 5.1 3 .7 3-6.2 3-7.3 3-2 3 1.3 3-.9 3-2.8 3-2.7 3-2.7 3-1.7 3-.5 3-.5 3-1.4 3-1.2 3-.5 3-1.8 3-1.7 3 3.8 3 7.6 3 6.7 3 3.9 3 .5 3-.9 3 .6 3 .4 3-.8 3 .2 3 2.3 3 3 3 2.4 3 .6 3-1.2 2-1.2 1-.8 1-.9 2-1.7 2-1.2 1-.2 1 0 2 1 2 1.9 1 1.1 1 1.1 2 2.3 2 1.7 1 .4 1 0 2-.4 2-.6 1-.1 1 .1 2 .4 2 .6 1 .3 3 .9 3 1.8 3 2.1 3 1.9 3 2.8 3 1.1 3-3.4 3-5.5 3-3.6 3-1 3-.6 3-.6 3-.3 3-1.5 3-2 3 .8 3 3.7 3 5.4 3 6 3 3.8 2 .6 1-.1 3-1.5 3-3.4 3-4.1 3-2.4 3-1 3-2.3 3-1.5 3 3.1 3 4.9 3 1 3-4.1 3-5.2 3-1 3 4 3 4.4 3 .7 3-3.1 3-3.4 3-1.5 3 .7 3 1.8 3 1.9 3 2.4 3 1.9 3-.9 3-2.9 3-2.9 3-2.6 3-1.7 3-.2 3-.2 3-1.7 3-1.3 3 .8 3 2.2 3 1.9 3-.3 3-1.4 3-.8 3-.4 3 .1 3 2.1 3 2.8 3 .6 3-1.8 3-.9 3 1.5 3 1.5 3 0 3-1.1 3-.8 3 1.5 3 2.4 3 1.2 3-.9 3-5.2 3-9 3-7.3 3-2 3 2.4 3 3.9 3 3.9 3 2.9 3 .5 3-1.2 3-.1 3 1.9 3 1.6 3 1.5 3 1.7 3-1 3-5.3 3-6.8 3-3 3 3.5 3 5.8 3 3.2 3 .8 3-.9 3-1.7 3-.9 3-.7 3-.8 3 2 3 4.1 3 .4"/>
<path d="M517 372.1l3-4.4 3-1.1 3 3.1 3 2.2 3-1 3-.7 3 1.8 3 3.5 3 3.4 3 1.9 3-2 3-5.3 3-4.5 3-1 3 2.3 3 5 3 4 3-1.7 3-6.2 3-5.4 3-2.1 3-.8 3 .2 3 3.2 3 5.3 3 4.8 3 3.9 3 4.2 3 3.5 3 2.3 3 .6 3-1.6 3-2 3-1.8 3-3.1 3-4 3-2.8 3-2.1 2-1.9 1-1.2 1-1.3 2-2.5 2-2.3 1-.8 1-.5 2 .4 2 1.8 1 1.2 1 1.3 2 2.7 2 2.9 1 1.5 1 1.6 2 2.9 2 2 1 .6 1 .3 2-.1 2-.7 1-.3 3 1.3 3 4.9 3 5.9 3 2.7 3-1.7 3-3 3-1.8 3-2.1 3-4.1 3-4.8 3-1.8 3 1.5 3 1.7 3 .9 3 .3 3 0 3 .1 3-.7 3-1.9 3-.4 3 .9 3 .4 3 .9 3 1.9 3 1.6 3 1.7 3 2.1 3-.2 3-3.5 3-3.8 3-1 3 1.1 3-.2 3-2.4 3-2.8 3-3.2 3-4.6 3-4.5 3-2.7 3-.2 3 2.9 3 5.7 3 5.9 3 1.6 3-3.4 3-4.3 3-1.5 3 1.5 3 2.4 3 1.4 3 1.3 3 2.2 3 1.6 3 2 3 4.3 3 3.7 3 .2 3-2.7 3-2.4 3-.4 3 .8 3-.1 3-1.6 3-1.9 3-2.2 3-4 3-4.3 3-1.7 3 1.5 3 3.4 3 2.1 3-1.8 3-3.5 3-1.6 3-.9 3-3.4 3-3.8 3 .9 3 5.9 3 5.2 3 .2 3-2.6 3-2.9 3-3.1 3-2.1 3-.7 3-.9 3 1.5 3 6.2 3 6.8 3 3.3 3-.3 3-1.4 3-.2 3 .2 3-1.6 3-.5 3 4.8 3 6.5 3-.5 3-8.6 3-6.1 3 3.1 3 5.8 3 1.4 3-3.4 3-5.2"/>
<path d="M517 375.9l3-4.8 3-3.2 3-.7 3 1.5 3 1.3 3 .5 3 3.3 3 3.9 3-1.2 3-5.8 3-4.5 3-.2 3 2.7 3 3 3 1.7 3-.6 3-.6 3 2.9 3 3.7 3-.3 3-3.1 3-2.1 3 1.1 3 3.8 3 3.9 3 2.9 3 2.8 3 2.7 3-1.1 3-5.3 3-3.5 3 0 3-.4 3-1.8 3-2.9 3-3 3 .8 3 5.7 2 3.6 1 1 1 .5 2-.1 2-.4 1-.1 1-.2 2-.8 2-1.7 1-1 1-.9 2-1.1 2 .6 1 1 1 1.3 2 3.5 2 3.5 1 1.6 1 1.5 2 2.5 2 1.5 1 .3 3-1.8 3-5 3-4.1 3-1.3 3-1.3 3-3 3-3.1 3 .1 3 4.2 3 5.3 3 3.5 3 2.5 3 2.4 3 .4 3-3.1 3-4.2 3-1.6 3 .4 3-.6 3-.4 3 1.5 3 1.9 3 1.2 3 .7 3 .4 3 0 3-1.4 3-1.9 3-1.8 3-3.7 3-5.6 3-3.2 3 1.7 3 2.5 3 .4 3 .1 3 1 3-1.3 3-3.5 3-2.1 3-.2 3 .5 3 2.3 3 4.4 3 2.6 3-2.2 3-4.3 3-2.5 3-1.5 3-1.2 3 1.8 3 4.2 3 1.8 3-2.6 3-3.4 3 1.4 3 6.3 3 5.8 3 .7 3-5 3-5.5 3-.8 3 3.7 3 4.7 3 1.3 3-3 3-3.2 3 .1 3 2.6 3 1.4 3-2.2 3-3.1 3-1.7 3 .8 3 4.4 3 6.6 3 4.2 3-2.5 3-6.8 3-6.3 3-1.6 3 2.9 3 2.6 3-.5 3-2.2 3-2.7 3-2 3 .6 3 2.8 3 2.6 3 1.1 3-.4 3 2 3 4.2 3 .8 3-3.5 3-3.7 3-2.8 3-.9 3 2.6 3 4.2 3 1.1 3-2.9 3-3.3 3-1.7 3-2.6 3-2.6"/>
<path d="M517 362.1l3-1.8 3-.2 3 3.3 3 6.7 3 6.2 3 2.5 3-1.2 3-4 3-4.6 3-1.9 3 1.2 3 1.3 3-.4 3-.9 3 1.3 3 4.3 3 6 3 4.8 3 1.9 3-.9 3-2.9 3-2.1 3 0 3-1.5 3-3.9 3-3.3 3-2.1 3-1.2 3 1.9 3 3.9 3 .9 3-1.2 3 .5 3 2.2 3 1.1 3-.8 3-.6 3 .9 2 0 1-.6 1-.8 2-1.6 2 .2 1 1.1 1 1.6 2 4.3 2 4.5 1 2.1 1 2 2 3.5 2 3 1 1.2 1 .7 2 .3 2-.4 1-.5 1-.6 2-1.5 2-1.5 1-.5 3-.2 3 .4 3-1 3-2.2 3-3.8 3-4.3 3-2.3 3-.7 3 .4 3 2.5 3 2.9 3-.8 3-4.5 3-4.8 3-4.4 3-3.2 3 0 3 2.7 3 3.1 3 3.2 3 3.6 3 3.4 3 1.5 3-1.8 3-3.8 3-3.1 3-1 3 .8 3 .6 3-.1 3 .2 3-.7 3-3.1 3-3 3-.9 3 .1 3-.2 3 .5 3 2.8 3 4.5 3 5.2 3 4.6 3 1.9 3-1.7 3-4.2 3-4.2 3-2.8 3-1.9 3-.8 3 1.5 3 2.4 3 .3 3-1.5 3-2.2 3-1.2 3 2.5 3 3 3-2.7 3-5.8 3-1.7 3 3.2 3 3.9 3 2.3 3 .7 3-.9 3-3 3-3.2 3 .2 3 3.8 3 4.9 3 4.7 3 2.2 3-1.7 3-4.1 3-3.6 3 .8 3 3.9 3 1.8 3-1.2 3-3.5 3-5.2 3-3.2 3 1.7 3 3.2 3-.4 3-3.5 3-2 3 1.7 3 2.4 3-.8 3-1.6 3 3.7 3 6.5 3 3.6 3-.5 3-3.4 3-3.3 3-.2 3 3.2 3 3.1 3-.2 3-1.9 3-1.5 3-2.7 3-3.9 3-3.6 3-3.6"/>
<path d="M517 373.7l3-4.3 3-3.8 3-2.6 3-.6 3 1.5 3-.1 3-2.1 3 1.5 3 5.7 3 4.1 3 .1 3-3 3-2.8 3 .6 3 .7 3-2.7 3-2.8 3-.2 3 3 3 6.7 3 6.1 3 .5 3-3.5 3-1.3 3 3.8 3 4.7 3 2 3-2 3-6 3-4.5 3-.5 3-1.8 3-3.1 3 2.5 3 5.2 3 .2 3-3.1 3-1 2 .9 1 .7 1 .8 2 1.7 2 1 1 0 1-.4 2-1.6 2-1.9 1-.5 1-.1 2 1.9 2 4.8 1 3 1 3.2 2 5.6 2 3.3 1 .7 1 .4 1 0 1-.2 2-1.1 1-.9 3-4.3 3-4.7 3-3.3 3-2 3-2.1 3-2.6 3-1.8 3 .7 3 3.2 3 2.5 3 .3 3 .5 3 1.3 3 1.4 3 1.5 3 .1 3-2 3-1.9 3 .9 3 4.1 3 2.2 3-2.3 3-2.2 3 1 3 2.1 3-.1 3-2.7 3-2.6 3-.9 3 .4 3 2.1 3 2.8 3 .1 3-2 3-1.9 3 .6 3 4 3 3.2 3-.5 3-2.7 3-3.9 3-4.7 3-3.2 3-.4 3 .7 3 .1 3-1.9 3-3.8 3-1.2 3 3.7 3 5.3 3 2 3-2.6 3-3.3 3-.1 3 2.3 3 1.3 3-.2 3 .9 3 2.4 3 1.2 3-3.6 3-5.3 3-1.6 3 1.6 3 2.8 3 3.4 3 2.4 3 .9 3-.1 3-2 3-1.7 3 1.5 3 1.9 3 1.3 3 2.3 3 .7 3-3.1 3-4.9 3-2.3 3 2 3 3.1 3 .6 3-2.7 3-2.5 3 .3 3 .5 3-.7 3 .5 3 2 3-.2 3-1.4 3 1.8 3 3.6 3 .9 3-1.3 3-2.6 3-4.8 3-4.7 3-.9 3 2.8 3 1.4 3-1.6 3-2 3 1 3 3.9 3 2.4"/>
<path d="M517 375.7l3-4.5 3-2.5 3 .7 3 1.6 3 .8 3 1.3 3 2.5 3 2.3 3 .6 3 1 3 2.8 3 .7 3-2.6 3-1.1 3 2.9 3 4.1 3 2.4 3 .9 3-.8 3-2.6 3-2.8 3-3 3-2.6 3 .1 3 1 3-.4 3-2.3 3-3.5 3-1.6 3 3.6 3 6.4 3 3.4 3-2.7 3-5.5 3-2.4 3 2 3 2.5 3 1 2 0 1-.3 1-.6 2-2.2 2-2.9 1-.9 1-.2 2 1.6 2 4.2 1 2.7 1 3 2 6.6 2 6.8 1 3.6 1 3.3 2 5 2 1.4 1-.7 1-1.4 2-3.8 2-4 1-1.8 3-4.9 3-4 3-.2 3 4.1 3 2.6 3-2.6 3-4.4 3-2.7 3-.3 3 .8 3 .3 3-.7 3-1.9 3-2.2 3-.8 3 1.1 3 2.7 3 2.8 3 1.8 3 .6 3 0 3 1.1 3 3.6 3 1.9 3-4 3-7.6 3-7.1 3-3.7 3 .8 3 3.6 3 2.8 3-.1 3-1 3 .3 3 0 3-.7 3-.6 3-1 3 .1 3 2.2 3 2 3 1.4 3 1.2 3 0 3-.4 3-.2 3-1.6 3-2.5 3-1.4 3-1.5 3-1.5 3 .3 3-.5 3-4.8 3-6.1 3-2.4 3 2.2 3 4 3 2.4 3 .3 3 2 3 5.5 3 4.8 3 1.4 3 .6 3 3.6 3 5.6 3 2.9 3-2.9 3-4.6 3-.7 3 .4 3-2.7 3-4.7 3-4.2 3-2.3 3 .4 3 1.3 3 1.9 3 2.4 3 .3 3-2.4 3-1.3 3 1.6 3 4 3 4.7 3 1.5 3-2.2 3-.6 3 1.8 3-.5 3-2.2 3-1 3-.5 3-1.4 3-1.7 3-.1 3 1.3 3-.8 3-4.3 3-5 3-3.7 3-2 3-1 3-.9 3-.3 3 4.1"/>
<path d="M517 382.3l3 .1 3-1.3 3-3.8 3-5.2 3-3.4 3-.1 3 2 3 1.4 3 .5 3 1.2 3 1.7 3 .2 3-1.7 3-.7 3 2 3 2.9 3 .6 3-1 3-.3 3-.9 3-2.2 3-.8 3 .5 3-.8 3-2.8 3-4.3 3-2.8 3 .8 3 3 3 5.4 3 7.1 3 4.4 3 .3 3-.9 3-.8 3-.4 3 1.4 3 1.7 2-.1 1-.4 1-.4 2-.2 2 .6 1 .4 1 .4 2 .3 2-.5 1-.6 1-.8 2-1.9 2-1.5 1-.3 1 .1 2 1.6 2 2.8 1 1.4 1 1.3 2 2.4 2 1.7 1 .5 3-.2 3-1.4 3-.9 3 .7 3 2.3 3 2.9 3 2.7 3 2 3 .8 3-.1 3 .4 3 .8 3-1.7 3-5.9 3-5.4 3 0 3 1.7 3-1.1 3-3 3-2.9 3-1.6 3 1.4 3 3.2 3 .5 3-3.5 3-4.7 3-4.3 3-3 3-.4 3 2.1 3 1.3 3-1.5 3-2 3 .8 3 2.8 3 .9 3-.7 3 1.1 3 3.4 3 3.9 3 2.5 3-1.9 3-5.7 3-5 3-.8 3 1.8 3 1.1 3-.1 3 .2 3 .5 3-.3 3-.3 3 1.5 3 2.3 3 1 3-1.4 3-3.4 3-4.4 3-3.9 3-1.5 3 2.5 3 5.7 3 4.3 3 0 3-1.1 3-.3 3-.9 3-1.2 3-.1 3 2.4 3 4.3 3 1.5 3-4 3-4.4 3 .3 3 2.5 3 .5 3-2.4 3-3.2 3-1.3 3 2.3 3 3.3 3 1.2 3-.7 3-.2 3 1.7 3 2.3 3 1.8 3 2.5 3 1.7 3-2 3-3.5 3-1.6 3-3.1 3-6.1 3-2.4 3 2.9 3 2.9 3 3.2 3 5.6 3 2.5 3-3.4 3-4.1 3-.1 3 2.8 3 2.1 3-1.6"/>
<path d="M517 365.8l3 3.8 3 2.5 3-1.4 3-2 3 .9 3 3.2 3 2.4 3 .5 3-1.5 3-2.4 3-2.3 3-3.5 3-2 3 3.2 3 4.6 3-.6 3-4.1 3-1.8 3 1.8 3 3 3 2 3 .4 3 .2 3-.4 3-1.1 3-.8 3-2.5 3-3.1 3 2 3 5.6 3 2.8 3-1.1 3-3.4 3-4.1 3-2.7 3 .6 3 3.6 3 4.6 2 3.2 1 1.5 1 1.4 2 2.2 2 1.4 1 .6 1 .7 2 1.7 2 1.5 1 .4 1 .3 2 .2 2 .2 1 0 1-.1 2-1.2 2-1 1-.2 1 .2 2 1.2 2 1.7 1 .8 3 .7 3-3.2 3-5.4 3-2.9 3 .3 3 2.4 3 3 3 .9 3-.9 3-1 3-.4 3 .9 3 .9 3-2 3-2.8 3-1.3 3 .4 3 5 3 8 3 4.7 3 1.7 3 1.3 3 1.4 3 .9 3-1.5 3-4.6 3-3.2 3 1.6 3 2.3 3-1.1 3-4.3 3-5 3-2.6 3 1.2 3 2.9 3 3.2 3 2.6 3-1.5 3-6.6 3-5.7 3-.3 3 1.7 3-.5 3-1.6 3 .2 3 2.6 3 4.1 3 3.7 3 3 3 3.5 3 2.7 3-.9 3-2.9 3-1.9 3-1.1 3-1.3 3-1.2 3-.5 3 .1 3-.6 3-2.8 3-2.4 3 .2 3 .8 3 .8 3 1.8 3 .8 3-1.7 3-3.4 3-3 3-1.8 3 .2 3 3.6 3 3 3-3.3 3-6.9 3-5.6 3-2.4 3 1.5 3 3.8 3 2.1 3-.5 3-.5 3-.4 3-.7 3 1.3 3 2.8 3 3.1 3 3.9 3 3.6 3 .7 3-2.8 3-3.9 3-1.7 3 .3 3-.9 3-3.6 3-4 3-.3 3 2.7 3 0 3-2 3 1.2 3 2.6 3 1.5 3 1.2 3 1.2"/>
<path d="M517 379.9l3 .4 3 1 3 1.7 3 1.9 3 1.2 3-.3 3-3.9 3-7.9 3-7.3 3-3.3 3 .1 3 2 3 2.7 3 2 3 1.9 3 2.6 3 3.4 3 3.9 3 3.1 3-1.2 3-4.6 3-3 3-1.2 3-3.7 3-6.4 3-5 3-2.2 3 .1 3 1 3-.2 3 0 3 3.3 3 5.8 3 5.1 3 1.5 3-1.2 3-1.5 3-.7 2 0 1 0 1-.1 2-.2 2-.1 1 .4 1 .8 2 3.1 2 4.6 1 2.6 1 2.4 2 4.1 2 3.6 1 1.8 1 2 2 3.5 2 3.7 1 1.6 1 1.4 2 1.8 1 .3 1 0 1-.3 3-1.7 3-1.7 3-1.7 3-3 3-5.2 3-6.3 3-5.2 3-2.8 3-1.3 3-.6 3 1.7 3 4.9 3 5.6 3 2.4 3-2 3-3.9 3-1.8 3 .7 3 1.2 3 .8 3 1.6 3 3.2 3 4.7 3 3.4 3 .6 3 .4 3 .9 3-1.2 3-2.6 3-.6 3 .5 3-.9 3-3 3-4.8 3-5.3 3-3.8 3-2.6 3-1.5 3 .5 3 1.3 3 .9 3 1.3 3 1.9 3 1.7 3 1.6 3 1.2 3-.5 3-2.5 3-1.5 3 1.7 3 1.9 3-.5 3 .1 3 2.6 3 3.3 3 1.5 3-1.5 3-2.9 3-4.1 3-4.7 3-3.1 3-.3 3 .9 3-.4 3-2.3 3-2.2 3 .2 3 3.2 3 4.9 3 2.9 3-1.6 3-4.1 3-3.1 3-1.7 3-1.5 3-1.7 3-.6 3 1.6 3 1.7 3-.4 3-2 3-.4 3 4.2 3 6.7 3 4.7 3-.4 3-3.6 3-2.5 3-.3 3 0 3-1.8 3-1.9 3 .4 3 2.1 3 .4 3-2.5 3-3 3-1.7 3-.7 3-.3 3 .9 3 1.4 3-1.2 3-4.7 3-6.2 3-4.3 3 2.4"/>
<path d="M517 374.5l3 2.1 3-1.9 3-3.7 3-2.4 3 1.3 3 4 3 2.5 3-1.2 3-2.2 3 .5 3 2.2 3 .3 3-1 3 .8 3 .5 3-2.8 3-3.2 3-.8 3 1.9 3 4.7 3 3.7 3-.9 3-3.4 3-2.1 3-.7 3 .3 3 .8 3 .1 3-.7 3-2.2 3-4.5 3-3.5 3 1.8 3 7.3 3 8.3 3 3.5 3-1.2 3-1.7 2-.5 1-.3 1-.3 2-.8 2-.2 1 .4 1 .9 2 3 2 4.1 1 2.2 1 2.1 2 3.8 2 2.9 1 1.3 1 1.2 2 1.9 2 .7 1-.1 1-.5 2-1.4 2-2.2 1-1.5 3-6.6 3-7.3 3-3.7 3 .1 3 1.9 3 2.6 3 1.7 3-1.2 3-3.1 3-2.5 3-1.3 3-.8 3-.4 3 .1 3 1.1 3 2.2 3 1.9 3 2 3 2.7 3 2 3 .9 3 1.7 3 2.3 3 1.3 3-3 3-7.3 3-5.6 3-.5 3 1.6 3 3.1 3 3.5 3-1.2 3-6.4 3-5.1 3-.6 3 1 3-1 3-2.7 3-3.1 3-1.6 3 3.5 3 7.1 3 4.5 3-.8 3-4.2 3-4.2 3 1.7 3 6.7 3 2.1 3-4.3 3-2 3 2 3-.1 3-2.1 3-.7 3-.1 3-.4 3-.3 3-1.8 3-3.3 3-2.6 3-1.5 3 .3 3 2.7 3 3.9 3 3 3 1.5 3 2 3 3 3 .4 3-3.2 3-2.7 3 .1 3 .4 3 .5 3 2.6 3 4.7 3 3 3-1.8 3-4.2 3-2 3 1.3 3 2.7 3 2.1 3 0 3-3.7 3-5.9 3-3.2 3 2.4 3 4.1 3 1.1 3-.7 3-.8 3-.6 3 2 3 4.7 3 1.5 3-4.4 3-6 3-3.6 3-1.7 3-1.4 3-.3 3 1.8 3 2.7 3 2.7 3 1.8"/>
<path d="M517 380.8l3-.5 3 1.3 3 3.1 3-.1 3-5.6 3-7.8 3-4.6 3-1 3 .1 3 .7 3 1.5 3 1.7 3 1.1 3 0 3-.4 3-1.4 3-1.4 3 .6 3 1.9 3 1.9 3 .4 3-.9 3-.1 3 1.5 3 1.9 3 1.9 3 2.2 3 2 3-.1 3-2.6 3-2.9 3-1 3 1.3 3 1.6 3 .4 3 1.4 3 3.2 3 1.4 2-1.6 1-1.5 1-1.7 2-3.3 2-1.4 1 .4 1 1.3 2 4.8 2 6.3 1 3.3 1 3.2 2 6.1 2 4.7 1 1.5 1 .2 2-2 2-3.1 1-1.2 1-.6 2 .7 2 2.1 1 1.1 3 1.8 3-1.1 3-3.7 3-4.2 3-2.7 3-1.7 3-1.2 3-.4 3 .6 3 1 3 .1 3-2.3 3-4 3-3.4 3-2.3 3-2.2 3-1.2 3 1.3 3 2.1 3 .7 3-.3 3-1.5 3-1.3 3-.1 3 .6 3 3.3 3 5.9 3 4.5 3 .7 3-1.6 3-1.3 3-1.6 3-3.2 3-3.4 3-1.3 3 2.5 3 4.2 3 2.7 3 .2 3-3.3 3-4.8 3-3.3 3-1.6 3 .2 3 2.6 3 3.5 3 2.2 3-.9 3-4 3-3.9 3-1.7 3 0 3 1.2 3 1.2 3-.6 3-2.6 3-2.1 3 2 3 5.5 3 3.3 3-2.4 3-4.8 3-1.7 3 3.6 3 5.3 3 2.7 3 0 3-3.2 3-4.5 3-1 3 .9 3-1.8 3-2.2 3 1.1 3 2.4 3-.1 3-2.3 3-1.6 3 0 3 .4 3-.7 3 .7 3 4.9 3 6 3 4.2 3 3.4 3 2.1 3-1.5 3-5.5 3-5.5 3-3.4 3-2.3 3 .4 3 2 3 .3 3-2.1 3-4.7 3-4.3 3-.1 3 3 3 3.3 3 2.5 3 2.7 3 5.2 3 6.9 3 4.4 3 .1"/>
<path d="M517 380.5l3-2.3 3-1.9 3-1.5 3-2.3 3-4.3 3-3.6 3-.6 3 .9 3 1.7 3 2.7 3 1.6 3-2.1 3-4.7 3-2.4 3 2.7 3 6.5 3 7.5 3 5.7 3 2.7 3-.1 3-1.6 3-2 3-.6 3 1.8 3 1.3 3-1.3 3-1.9 3-2.2 3-3.8 3-2.6 3 2 3 2.2 3-3.7 3-5.7 3-.9 3 3.1 3 4.2 3 2.2 2-.9 1-1 1-1.3 2-2.2 2-.9 1 .1 1 .2 2 .5 2 1 1 .9 1 1.5 2 4.2 2 4.9 1 2.3 1 2 2 2.5 2 2 1 1.2 1 1.2 2 2.1 2 .9 1-.3 3-3.9 3-5.1 3-1.9 3 1.8 3 2.3 3 1.7 3 2.1 3 2.6 3 .1 3-4.3 3-5.3 3 .2 3 5.6 3 3 3-2.9 3-2.7 3 .6 3 .7 3 .1 3 .8 3-.5 3-3.4 3-4.9 3-5.9 3-5.9 3-2.4 3 2.6 3 5.2 3 4.1 3 1.3 3 .4 3 .2 3-1.7 3-1.6 3 1.4 3 3.2 3 1.4 3-1.8 3-3 3-1.8 3-1.1 3-.5 3 1 3 2.3 3 2.7 3 2.7 3 1.1 3-1.9 3-2.9 3-.3 3 1.9 3-.5 3-4.1 3-3.9 3-1.9 3-2.4 3-3.1 3-.7 3 2.9 3 4.8 3 5.3 3 4.3 3 2.8 3 2.7 3 2.9 3 .6 3-3.1 3-4.9 3-1.8 3 4.1 3 7.5 3 4.2 3-3.7 3-6.8 3-3.1 3-.5 3-1.1 3-1.3 3-1.4 3-1.1 3 1.8 3 4 3 2.3 3-3.1 3-6.2 3-4.5 3-1.5 3 1.1 3 2.9 3 3.4 3 2.7 3 .8 3-1 3-1.3 3-.5 3-1.1 3-2.1 3-1.5 3-1 3 0 3 1.3 3 1.8 3 1.4 3-.4 3-2.3 3-1.9 3 .5"/>
<path d="M517 375.4l3 .2 3-1.6 3-1.6 3-.8 3-.3 3 1.5 3 2 3 .2 3-.8 3 .8 3 1.7 3-.5 3-3.3 3-2.3 3-.5 3-.2 3 1 3 1.9 3 3.1 3 6.1 3 7.3 3 3.6 3-3 3-6.2 3-4.2 3-2.2 3-1.6 3-1 3-.6 3-.2 3 .6 3 1.5 3 1.6 3 .2 3-1.8 3-2.4 3-2.5 3-.6 2 2.1 1 1.9 1 2.4 2 5.3 2 4.8 1 1.7 1 1.3 2 1.6 2 1 1 .6 1 .7 2 1.7 2 1.4 1 .4 1 0 2-1.5 2-2.5 1-1.3 1-1.3 2-2.2 2-1.6 1-.5 3-.9 3-1 3-.3 3 1.6 3 2.4 3 2.2 3 1.1 3-1.6 3-4.3 3-3.9 3-.5 3 1.5 3-.7 3-2.6 3-.7 3 2.5 3 3.6 3 1.3 3-2.3 3-3.3 3-1.7 3 .5 3 1.4 3 .5 3-1.2 3-1.8 3-.9 3-.9 3-3.3 3-4.3 3-1.7 3 1 3 2.9 3 4.7 3 3.9 3 1.5 3 .8 3 .5 3-.9 3-.5 3 2.2 3 4.9 3 5.1 3 3.8 3 1.9 1 .2 2-.2 3-.9 3-1.5 3-2.6 3-3 3-3.2 3-3.3 3-2.6 3-1.2 3 .9 3 2.2 3 1.6 3-1 3-3.3 3-2 3 1.2 3 2.2 3 .8 3-1.4 3-1.9 3 .5 3 1.9 3 1.9 3 2.1 3 1.8 3 .5 3-.6 3-.8 3-1.5 3-2.3 3-1.7 3-.4 3 .9 3-.2 3-2 3-1.5 3-1.2 3-2.3 3-2.1 3-.4 3 1 3 1.5 3 1.2 3 .2 3 .2 3 1.2 3 2.5 3 2.6 3 1.2 3-.3 3-1.4 3-2.6 3-1.6 3 1.8 3 3.7 3 2.5 3 .9 3-.2 3-1.1 3-1.3 3 .2 3 .9"/>
<path d="M517 383.9l3-4.8 3-4.9 3-1.6 3 1.9 3 .3 3-3 3-1.7 3 1.2 3 2.6 3 2.4 3 1.5 3 1.6 3 1.9 3 .2 3-1.9 3-2.6 3-1 3 0 3-3.5 3-6.1 3-3.1 3-.6 3-1.2 3 .9 3 5.2 3 4.4 3-.2 3-.9 3 4.6 3 8.2 3 4.5 3-3.3 3-6.5 3-1.1 3 4.6 3 3 3-2.2 3-4.7 2-1.8 1 0 1 .7 2 3.1 2 4.7 1 2.5 1 2.2 2 3.4 2 1.7 1 .6 1 .4 2 1.3 2 1.9 1 1.1 1 1 2 1.2 1 .1 1-.8 1-1.5 1-1.8 2-4.1 2-3.9 1-1.5 3-2.7 3-.4 3 .2 3-.7 3-.7 3 1.1 3 2 3 1.1 3 .1 3-1.3 3-2.6 3-2.1 3 .2 3 1.5 3 1.1 3 3 3 4.3 3 .5 3-2.9 3-2.2 3-.8 3 0 3 1 3 1 3 1.1 3 .9 3-1.9 3-4.2 3-2.5 3 1.1 3 1.5 3-.1 3 .2 3 .2 3-.7 3-.7 3-.7 3-.7 3 .3 3 1.1 3 .7 3 .7 3 1.8 3 1 3 0 3-.8 3-2.4 3-1.4 3 2.8 3 3.8 3 .8 3-1.1 3-.8 3-1.5 3-3.4 3-2.8 3-2.2 3-4.9 3-4.9 3-.3 3 3.8 3 4.6 3 3.7 3 1 3-.8 3 .8 3 2.2 3 2.4 3 2.1 3 .1 3-4 3-5.7 3-2.3 3 1.5 3 .3 3-4.6 3-6.5 3-3.7 3 .9 3 5.3 3 8.1 3 5.5 3 .1 3-1.1 3 1 3 1.6 3 1.1 3 .2 3-.3 3-.2 3-2.2 3-3.7 3-.8 3 1.3 3-2.1 3-4.4 3-2.8 3-1.4 3-1.1 3 1.2 3 3.9 3 3.5 3 .1 3-2.2 3-1 3 1.5 3 1.9"/>
<path d="M517 375.8l3 1.6 3 4.2 3 4.7 3-.5 3-3.5 3-1.8 3 .8 3 2.7 3 2.8 3 1.1 3-2 3-5.3 3-4.9 3-.4 3 2.5 3 .4 3-1.8 3-1.9 3-2.7 3-3.7 3-2.4 3 .2 3 3.1 3 3.9 3 2.5 3 1.3 3 .5 3 .5 3 1.1 3-.2 3-.6 3-.8 3-2.2 3-.7 3 2.6 3 3 3 1.3 3-.3 2-.6 1-.3 1-.3 2-1 2-1.6 1-.9 1-1 2-1.4 2 .1 1 .8 1 1.5 2 4.7 2 6.3 1 3.5 1 3.6 2 7.3 2 7 1 3.1 1 2.7 2 3.1 1 .2 1-.2 1-.8 3-4.1 3-5.4 3-6.6 3-7.9 3-7 3-2.9 3 1.9 3 3.5 3 1.9 3 .8 3 1.2 3 .5 3-1.4 3-3.4 3-2 3 1.4 3 1.9 3-.4 3-2.8 3-5.3 3-5.2 3-.7 3 4.2 3 3.8 3 .1 3-.9 3 .2 3 1 3 2.2 3 2.8 3 1 3-1.6 3-1.1 3 2.6 3 3 3-1.1 3-5.5 3-6.5 3-2.9 3 .8 3 1.9 3 2.7 3 3.1 3 3 3 1.7 3-.9 3-2.2 3-1.6 3-.9 3-.7 3 .4 3 1.6 3-.3 3-3.7 3-3.7 3-1.8 3 .8 3 3.2 3 2 3-.4 3 .1 3 .9 3-2 3-2.1 3 2.5 3 4.7 3 2.2 3-.4 3-2.3 3-2.5 3 1.1 3 3.2 3 1.6 3-.3 3-2.4 3-4.7 3-4.5 3 0 3 5.1 3 5 3 .1 3-4.4 3-4.6 3-3 3-3.4 3-4.4 3-2.5 3 1.2 3 4 3 5 3 3.1 3 .3 3-2.4 3-6 3-6.8 3-.1 3 7.6 3 7.1 3 1.3 3-2.2 3-3.3 3-3 3 .9 3 4.9 3 3.2 3 .1 3 .1"/>
<path d="M517 373.7l3 .8 3 2.8 3 3.5 3 1.8 3-1.1 3-1.8 3-1.2 3-1.3 3-1.5 3-3.7 3-5.2 3-3.1 3-.4 3 1.5 3 1.9 3 .6 3 1.9 3 4.3 3 3.3 3 1.6 3-.5 3-4.8 3-5.3 3 .6 3 5.2 3 3.5 3-.1 3-.1 3 1.5 3-1.2 3-6.3 3-4.7 3 1.1 3 3.2 3 .5 3-1.8 3-1.8 3-1 2-.6 1-.2 1-.1 2 0 2 0 1-.1 1 0 2 .8 2 3.2 1 2.7 1 3.3 2 7.6 2 6.8 1 2.7 1 2.1 2 2.9 2 1.5 1 .4 1 .1 2-.9 2-2.7 1-2 3-7.8 3-7.6 3-1.6 3 4.1 3 3.8 3 1.6 3-.2 3-.2 3 2.5 3 4.4 3 3.9 3 3 2 1 1 0 3-2.6 3-3.9 3-1.3 3-.8 3-2.6 3-2.2 3-.7 3 .5 3 1.5 3 1.8 3 .1 3-2.7 3-3.3 3-1.3 3 1.6 3 2.7 3 .7 3-2.8 3-3.8 3 .3 3 4 3 2.4 3-.1 3 .4 3 1.9 3 .1 3-3.5 3-4.2 3-1.5 3 1.2 3 2.3 3 .7 3-2.2 3-3.8 3-2.8 3 1.3 3 3.5 3 2.1 3 2.7 3 3.5 3-.2 3-3.7 3-2.3 3-.4 3-.4 3 0 3 1.3 3 1.8 3 .5 3-1.5 3-3.2 3-2.6 3 .6 3 0 3-2.8 3-2.2 3-.7 3 .5 3 3.8 3 4.7 3 .6 3-3 3-2.1 3 1 3 1.2 3-.5 3-1.4 3-2 3-.3 3 2.5 3 2.8 3 1 3-.4 3-.3 3 .1 3-.1 3-2.5 3-4.1 3-.4 3 5.4 3 5.9 3 1.3 3-2.9 3-1.8 3 2.7 3 2.3 3-3.4 3-6.2 3-4.1 3-1 3 1.6 3 1.1 3-.6 3 1"/>
<path d="M517 373l3 .8 3 2.5 3 2.9 3 .6 3-.2 3 1.4 3 1.6 3 2.1 3 2.6 3-.5 3-2.7 3-1.4 3-1.7 3-4.2 3-4.7 3-1.5 3 1.7 3 4.1 3 6.1 3 4.1 3-.6 3-2.5 3 .7 3 2.8 3-.4 3-3.5 3-2.7 3-.6 3 .3 3 1.9 3 2.5 3-1.2 3-2.7 3 .8 3 1.8 3-1.9 3-4.4 3-3.1 2-1.1 1-.3 1-.3 2 .2 2 1.7 1 1.6 1 2.1 2 5.1 2 5.4 1 2.7 1 2.5 2 4.6 2 3.3 1 1.1 1 .7 2-1 2-2 1-1.1 1-1.1 2-2.6 2-2.8 1-1.1 3-1 3 3.6 3 5.3 3 4.4 3 2.8 3 .8 3-.5 3-1.3 3-2.7 3-4.9 3-5.1 3-1.7 3 2.1 3 2.1 3-1.2 3-5.1 3-6.5 3-3.7 3 .5 3 3.1 3 4.3 3 3.3 3 .2 3-2.4 3-4.1 3-5 3-3.4 3-1.7 3-2.7 3-4 3-2.2 3 2.3 3 4 3 2.4 3 .6 3-1.1 3-1.3 3 .8 3 2 3 1.5 3 1 3 .1 3 .2 3 1.4 3 1.1 3-1.3 3-4.6 3-5 3-2.4 3-.6 3 0 3 1.5 3 3.8 3 4.7 3 2.4 3-1.7 3-4 3-3.7 3-3 3 0 3 3.5 3 4.4 3 3.7 3 2 3 0 3 1.2 3 3.6 3 1.1 3-3.8 3-5.3 3-2.8 3-.3 3 1.1 3 1.3 3 .9 3 0 3-.3 3 1.2 3 3.6 3 5 3 4.5 3 2.5 3-.6 3-4.2 3-6.3 3-4.4 3-.6 3 1.3 3 2 3 3.5 3 4.8 3 4 3 .3 3-3.5 3-2 3 1.7 3 2.7 3 1.6 3-.9 3-2 3-.9 3-1 3-2.6 3-2.8 3-2.9 3-3.5 3-3.5"/>
<path d="M517 371.6l3-.2 3 2.8 3 1.1 3 .8 3 3.9 3 2 3-3.2 3-4.3 3-1.1 3 3.4 3 5.4 3 2.7 3 .4 3 .5 3-1.5 3-4.7 3-3.7 3 .1 3 .3 3-3 3-2.4 3 1.4 3 2.8 3 1.4 3 2.1 3 3.4 3-.6 3-6.6 3-5.5 3 .9 3 3.9 3 1.3 3-1.2 3-1.2 3-1.2 3-1.7 3-.4 3 3.2 2 3.5 1 1.6 1 1.2 2 .7 2-1.7 1-1.1 1-1 2-.7 2 1.5 1 1.6 1 1.8 2 4.2 2 3.8 1 1.7 1 1.5 2 2.6 2 1.5 1 0 1-.2 2-.9 2-1.4 1-.7 3-.7 3 1.7 3 .9 3-3.2 3-5.5 3-3.9 3-2.2 3-.6 3 1.3 3 1.8 3 2 3 2.1 3 .9 3-.1 3-.2 3 .1 3 1.4 3 2.1 3 .7 3 .7 3 1.4 3-1 3-3.8 3-2.1 3 1.3 3 1 3-.1 3 .9 3 2.9 3 1.1 3-3.6 3-4.5 3-1.1 3 .2 3-.2 3 2.4 3 6.1 3 4.1 3-2.2 3-3.9 3-1.9 3-1.6 3-2.2 3-1.3 3-2.5 3-3.5 3-.2 3 3 3 2.2 3 1 3 .2 3-1.2 3-.3 3 1.3 3-.5 3-2.6 3-3.7 3-4.1 3-2.1 3 .7 3 .8 3 .3 3 1.6 3 3.1 3 4.2 3 6.3 3 6.2 3 1.7 3-4.1 3-6.1 3-3.8 3-1.1 3-1.1 3-1.7 3 1 3 2.8 3-.2 3-2.5 3 .2 3 4.2 3 3.6 3 .9 3 1.7 3 3.8 3 2.2 3 .1 3-1.8 3-3.8 3-2.5 3 .1 3-2.1 3-4.8 3-4.6 3-1.2 3 3.9 3 5 3 .2 3-4.2 3-4.4 3-2.1 3 .8 3 2.9 3 3.9 3 3.5 3 .3 3-3.5 3-3.3"/>
<path d="M517 368.2l3-.1 3 .9 3 .7 3 .3 3 .6 3 .1 3-.6 3-.3 3 .3 3-2.3 3-4.7 3-.7 3 4.9 3 5.6 3 2.8 3-.4 3-2 3-1.7 3 1 3 2.2 3 .3 3-1.8 3-2.5 3-2.3 3-2.4 3-2.5 3-.5 3 2.5 3 3.9 3 3.2 3 2.3 3 2.3 3 1.1 3-2.1 3-5.3 3-3.9 3 .6 3 1.3 2 .3 1 .4 1 .7 2 2 2 2.3 1 1 1 1.1 2 2.2 2 2.6 1 1.6 1 1.7 2 3.9 2 4.3 1 2.2 1 2.3 2 4.4 2 3.2 1 1.2 1 1 2 1.2 2 .6 1 .1 3-.5 3-2.1 3-3.5 3-4.4 3-3.8 3-2.6 3-2.1 3-3.3 3-5.4 3-3.9 3-.1 3 1.9 3 4 3 3.9 3 1.1 3 .9 3 2 3 2.4 3 1.7 3-.3 3-2.3 3-.6 3 3.3 3 3.2 3-.6 3-1.8 3-.3 3 .3 3 .6 3-.1 3-2.6 3-3.3 3-2.2 3-1.9 3-.6 3 1.8 3 3.9 3 4.3 3 1.7 3-.6 3 .4 3 3.7 3 6.2 3 4.6 1 .3 2-2.3 3-8.5 3-7.6 3-3.1 3-1.9 3-3.1 3-1.8 3 1.4 3 1 3-1.9 3-1.5 3 .4 3-1.1 3-3.9 3-3 3 2.9 3 7.3 3 4.7 3-1.8 3-4.6 3-1.3 3 2 3 .9 3-.2 3 .9 3 1.5 3 2.3 3 2.7 3 1.3 3-.4 3-1.5 3-2.6 3-2.5 3-1.4 3-.8 3-1.8 3-2.9 3-2.2 3-1.1 3-1.2 3-1.5 3-2.1 3-.1 3 3.8 3 4.8 3 2.8 3 2.8 3 2.7 3-1.2 3-4.8 3-3.1 3 1 3 2.1 3 .5 3-1.3 3-.6 3 2.8 3 4.9 3 3.9 3 1.4 3 1.4 3 3 3 1.8"/>
<path d="M517 369.4l3-3.7 3 1.4 3 3.8 3 .9 3-2.2 3-.9 3 2 3 3 3 2.2 3 .6 3 1 3 3.7 3 3.1 3-2.6 3-7 3-4.6 3 1.6 3 4.4 3 3 3 2.8 3 3.5 3 .4 3-4 3-5.3 3-3.8 3-2.2 3-1.8 3-1.2 3 .3 3 1.9 3 3.6 3 3.4 3 .9 3-.5 3-1.7 3-2.8 3-3.1 3-1 2 2 1 1.7 1 1.9 2 3.3 2 2.1 1 .4 1 .1 2 .3 2 1.7 1 1.8 1 2.5 2 6.1 2 6.3 1 2.3 1 1.9 2 2.3 2 1.2 1 .2 1-.2 2-1.5 2-3.4 1-2.2 3-5.3 3 .5 3 4.7 3 2.1 3-1.7 3 .2 3 1.7 3-1.9 3-5.8 3-4.2 3 1.7 3 3.7 3 .5 3-1.5 3-1.1 3-.1 3 .8 3 1.3 3 1.1 3-.6 3-1.6 3-1.3 3-2.2 3-3.3 3-2.8 3-.8 3-.2 3-.1 3 .9 3 .6 3-.3 3 .1 3 1.2 3 3.9 3 4.3 3-1.4 3-5.8 3-4.2 3-1.4 3 .7 3 2.9 3 3.9 3 2.4 3 .4 3-.5 3-.9 3-1.9 3-4.3 3-4.5 3-1.6 3 2.1 3 4.8 3 3.6 3-.9 3-2.9 3-1.5 3-.2 3 1 3 .4 3-1.2 3-2.3 3-4.2 3-5.1 3-2.1 3 .9 3 1.9 3 3.7 3 5.9 3 3.9 3-1.5 3-2.5 3-1.7 3-3.5 3-2.2 3 2 3 3.8 3 5.3 3 4.5 3-.3 3-3.1 3-1 3 .7 3-.8 3-2.1 3-1.9 3-2.9 3-3.7 3-.2 3 5 3 4.8 3 .5 3-2.6 3-2.9 3-3.4 3-3.4 3 .3 3 4.6 3 3.9 3 .9 3-1 3-3.4 3-4.8 3-2.2 3 .5 3 1.7 3 2.3 3 1.6"/>
<path d="M517 376.5l3-1.4 3-2.5 3-1.5 3 2.4 3 4.1 3 3.3 3 1.3 3-.9 3-2.8 3-2.4 3-.1 3 1.2 3 .7 3-.8 3-1.3 3 .3 3 1.2 3 2.7 3 3.6 3-.9 3-5.9 3-3.4 3 2.5 3 4.8 3 .9 3-5.1 3-7.6 3-5.1 3-1.2 3 .7 3 .8 3 2.8 3 4.8 3 4.2 3 3.1 3 2.7 3 .3 3-2.5 2-2.2 1-1 1-.8 2-1.2 2-.3 1 .4 1 .9 2 3.1 2 4.6 1 2.7 1 2.9 2 6.2 2 6.3 1 2.8 1 2.4 2 4.2 2 3.2 1 1 1 .4 2-.8 2-2.4 1-1.2 3-2.5 3-1.1 3-2.7 3-5 3-3.9 3-.1 3 .4 3-3.8 3-8.3 3-7.7 3-1.7 3 1.8 3 .6 3 1.3 3 4.7 3 6.5 3 4.6 3 1 3-.4 3 1.5 3 2.9 3-.2 3-1.7 3 1.3 3 1.3 3-4 3-8 3-7.5 3-4.3 3-3.1 3-3.7 3-.6 3 3.6 3 2.4 3-.4 3-.7 3-.5 3-.5 3-1.4 3-1.9 3 .8 3 4.8 3 5.3 3 .7 3-3.9 3-3.8 3-.7 3 2.2 3 1.1 3-2.8 3-4.2 3-1.6 3 1.1 3 1.5 3 1.1 3 1.4 3 2.8 3 3.8 3 3.1 3 1.4 3 .1 3-.3 3-1.1 3-3.3 3-4 3-1.3 3 .6 3-.2 3-.1 3 .1 3-1.1 3-2.1 3-.9 3 2.2 3 2.4 3-.4 3-.5 3 1.1 3 .1 3-.6 3-.6 3-1.8 3-2.1 3-1.7 3-2.1 3-.2 3 3.3 3 5.7 3 6.1 3 2.4 3-3.8 3-6.3 3-4.4 3-1.8 3 1.6 3 5 3 4.4 3-.7 3-3.2 3-1.6 3-1.3 3-1.2 3 1.1 3 2 3 .5 3 0 3 1.8"/>
<path d="M517 368.9l3 1.8 3 4 3 2.3 3-2.3 3-4.1 3-.6 3 3.7 3 4.2 3 1.4 3-.3 3 .9 3 2 3 .7 3-1.2 3-.7 3 .7 3 1.9 3 2 3 .2 3-2.5 3-4.4 3-3.9 3 .1 3 2.9 3 .4 3-2.7 3-1.4 3 1.4 3 1.7 3 .6 3 .7 3 2 3 2.4 3-.2 3-2.6 3-2.5 3-1.3 3 0 2-.2 1-.4 1-.5 2-1 2 .4 1 1.4 1 2.4 2 7.8 2 10.5 1 5.3 1 4.9 2 7.1 2 1.8 1-.7 1-1.2 2-2.4 2-1.8 1-.7 1-.8 2-1.9 2-2 1-.7 3-.3 3 1.6 3 1.7 3-.3 3-2.9 3-4.1 3-3.8 3-4.6 3-4.2 3-.5 3 2.2 3 4.2 3 5.9 3 3.4 3-.1 3-1.1 3 0 3 1.8 3 1.1 3-3.6 3-6.6 3-4.4 3-2.7 3-4.3 3-4.2 3-1.6 3 .4 3 .9 3 .1 3-1.6 3-1.7 3 2.2 3 6.5 3 5.3 3 .1 3-1.6 3-.3 3-1.6 3-2.6 3-1 3-2 3-2.3 3 .9 3 2.9 3 1 3-2.2 3-3.9 3-2.8 3-.8 3 2.1 3 5.4 3 6.4 3 1.8 3-3.4 3-3.4 3-.1 3 2.7 3 3.6 3 .8 3-3.3 3-3.3 3 .7 3 4.2 3 3.5 3-.8 3-3.2 3-1.8 3-.6 3-.5 3 2.1 3 6 3 5 3 .2 3-4.6 3-7.2 3-6.6 3-3.3 3-.6 3-.2 3 .3 3 .6 3-.7 3-1.1 3 .2 3 1.8 3 2.3 3 0 3-3 3-2.5 3 0 3 .7 3 .3 3 .8 3 1.8 3 1.6 3 2.7 3 3.5 3-1.1 3-6.4 3-4.8 3 2.9 3 6.1 3-.5 3-4.6 3-2.5 3-1.5 3-1"/>
<path d="M517 373.4l3-3.6 3-2.2 3 .2 3 2.5 3 1.9 3-1.5 3-4.2 3-3.1 3 .7 3 2.3 3 .9 3-1 3 1.4 3 6.1 3 7.2 3 6.2 3 4.9 3 .6 3-4.9 3-3.8 3 2.3 3 5.4 3 4.1 3-.3 3-5.1 3-6.9 3-5.3 3-3.3 3-1.7 3 .9 3 4.3 3 3.3 3-1.5 3-3 3-.6 3 2.6 3 2.3 3-1.6 2-1.9 1-.7 1-.3 2 .2 2 1.8 1 1.5 1 1.9 2 4.3 2 4.6 1 2.1 1 2 2 3.9 2 3.4 1 1.4 1 1.3 2 1.9 2 .3 1-.6 1-1.1 2-3.1 2-2.8 1-1 3-.6 3 .5 3 1.8 3 4.3 3 3 1 0 2-1.5 3-4.3 3-4.4 3-1.9 3-.2 3 0 3 .7 3-.1 3-3.3 3-5.5 3-5.2 3-3.1 3-.5 3 1 3 1.8 3 4.8 3 6.7 3 2.5 3-3.1 3-6.1 3-6 3-2.1 3 1.5 3-.2 3-2.6 3 0 3 3.3 3 2.1 3-2.9 3-3.4 3-.5 3-1.5 3-6.1 3-5.9 3-.3 3 3.4 3 2.4 3-.3 3-1.3 3 .7 3 2.8 3 3.9 3 4.1 3 3.9 3 2.7 3-1.8 3-7.3 3-8.2 3-2.8 3 3.6 3 5.9 3 5.2 3 1.3 3-3.6 3-5.4 3-2.6 3 1 3 3.2 3 4.2 3 2.4 3-1.1 3-1.7 3 .6 3 2.8 3 2.8 3 2.6 3 2.8 3 .9 3-3.2 3-6.5 3-5.5 3-1 3 1.3 3 0 3-.7 3-.7 3-.3 3-.5 3-2.8 3-4.8 3-3.7 3 1.7 3 5.9 3 5.3 3 4.8 3 4.8 3 2.6 3-.9 3-2.5 3-1.2 3 .3 3 1.3 3 1.1 3-.7 3-2.4 3-3.3 3-2.3 3 .1 3 .4 3-3.9 3-7 3-3.2"/>
<path d="M517 366.7l3-.1 3 3.9 3 5.7 3 3.4 3-1.5 3-4.1 3-2.3 3-1.1 3-3.3 3-4.9 3-1.8 3 1.6 3 2.5 3 2.6 3 3.1 3 3 3 2.2 3 1.5 3 1 3 1 3 .1 3-2.4 3-4.6 3-5.1 3-2.5 3 1.4 3 2.9 3 1.4 3-1.3 3-2.4 3-1.2 3 .5 3 1.2 3 1.6 3 3 3 3.4 3 2.2 3 .4 2-.2 1 .1 1 .3 2 1.5 2 2.6 1 1.2 1 .9 2 .3 2-1.2 1-.5 1 0 2 2.1 2 5 1 2.9 1 2.9 2 4.2 2 1.6 1-.5 1-.8 2-.7 2 1 1 .8 3 .4 3-3.4 3-2.5 3-.4 3-2.1 3-4.2 3-2.1 3 1.7 3 4.1 3 3.8 3-.5 3-2.2 3 2.5 3 7.2 3 6.5 2 1.8 1-.1 3-4.3 3-6.7 3-3.9 3 .8 3 2 3 .1 3-.4 3 1.1 3 1.5 3 .4 3 1.4 3 1.7 3-1.4 3-2.5 3-.7 3-.4 3-1.8 3-3.1 3-2.7 3 0 3 2 3-.1 3-3.3 3-3.8 3-2.2 3 .8 3 3.9 3 4 3 .9 3-.8 3-1.9 3-3.8 3-2.5 3 1.1 3 2.8 3 2.5 3 1.1 3-3.4 3-5.6 3-1.5 3 3.2 3 3.9 3 1.9 3 0 3-1.2 3-1 3 .6 3 1.4 3 1.1 3-.6 3-4.6 3-6 3-2.3 3 .5 3-.4 3-1.1 3 .3 3 1.7 3 1.1 3 0 3-1.1 3-.6 3 1.4 3 1.4 3-.3 3-1.4 3-1.3 3-.8 3 .2 3 2.8 3 5.2 3 2.3 3-2.3 3-2 3 .6 3 .5 3-1.2 3-.9 3-.1 3-2 3-2.9 3 .1 3 1.4 3 .6 3 2.7 3 4.1 3 .3 3-4.7 3-5.4 3-2.2 3 .4"/>
<path d="M517 383l3 4.9 3-.3 3-5.3 3-7.1 3-6.3 3-4.1 3 .1 3 4.4 3 4.7 3 2.2 3 0 3-.1 3 1.3 3 1.9 3 1.4 3 .1 3-1.5 3-2.7 3-4 3-4.7 3-4 3-2.4 3 .3 3 4 3 6 3 4.1 3 .2 3-1.5 3 1.2 3 5 3 5.1 3 .5 3-5.2 3-6.7 3-3.1 3-.3 3 1.3 3 3 2 1.1 1-.3 1-.8 2-2.3 2-2 1-.4 1 .1 2 1.2 2 2.7 1 1.8 1 2 2 4.5 2 4.7 1 2.4 1 2.3 2 4.1 2 2.7 1 .2 1-.3 2-2 2-2.5 1-1.2 3-2.2 3-.9 3 .7 3 3.5 3 5.7 3 4.8 3 .1 3-5 3-6 3-1 3 3.8 3 3.8 3 2.7 3 2.8 2 1.2 1-.1 3-4.2 3-7.8 3-5.3 3 .1 3 3.9 3 3 3-.2 3-1.9 3-.1 3 3 3 3.3 3 1.2 3 .7 3 .8 3-2.4 3-5.6 3-3.1 3 3.2 3 5.2 3 .8 3-5.1 3-8.2 3-7.8 3-5.1 3-.2 3 4.8 3 6.2 3 3.5 3 1.2 3 1.2 3 1.8 3 .8 3-1.7 3-1.5 3-.1 3-.9 3-2.4 3-1.9 3-1.3 3-1.5 3-.7 3-.6 3-2.4 3-3.2 3-.3 3 3.7 3 6 3 5.8 3 2.5 3-1.5 3-3.6 3-6.6 3-8.7 3-5.4 3 1.1 3 4.3 3 3.2 3 2 3 1 3-.3 3 .8 3 2.4 3 .2 3-2 3-.6 3 2.2 3 2.2 3 .5 3-.9 3-1.9 3-2.1 3-1.9 3-1.3 3-.5 3-.7 3-.4 3 .4 3 .1 3 .4 3 .7 3-.2 3-.6 3-1.3 3-.3 3 2 3 1 3-2.1 3-3.3 3-2.1 3-.6 3 .9 3 3.3"/>
<path d="M517 371.8l3 1.5 3 1.8 3 2.5 3 2.5 3 1.9 3 1.1 3-1.2 3-3.6 3-2.1 3 .9 3 .8 3-1 3 .4 3 3.4 3 3 3-.4 3-2.5 3-2.5 3-1.7 3-1.4 3-1.8 3-.7 3 .3 3-.4 3 .4 3 2.7 3 2.1 3-2 3-3.1 3 .5 3 3.1 3 1.2 3-2.7 3-5.9 3-5.3 3-.1 3 4.8 3 4.3 2 1.5 1 .3 1 .3 2 0 2-.4 1-.1 1 .3 2 2.2 2 4.4 1 3 1 3.2 2 6.7 2 5.8 1 2 1 1.3 2 .8 2-1.1 1-.8 1-.8 2-1.2 2-1.1 1-.7 3-2.7 3-2.3 3-1 3 1.9 3 4.8 3 4.7 3 3.3 3 1.4 3-1.7 3-2 3 .2 3-.2 3-1.7 3-1.6 3-.4 3 .8 3 .8 3 .7 3-.1 3-1.1 3-.8 3-1.1 3-1.9 3-.3 3-.3 3-3.7 3-4.3 3 .1 3 4.3 3 3.7 3 .5 3-2.7 3-5 3-4.4 3-2.1 3-.6 3 1.2 3 2.6 3 .5 3-3.2 3-3.4 3 .5 3 2.7 3 1.4 3-.3 3 .2 3 1.7 3 3 3 3.2 3 1.7 3-.6 3-4.6 3-6.9 3-3.7 3-.7 3-.9 3-1 3-.7 3 .5 3 2 3 1.1 3-.1 3-.6 3 .1 3 .9 3 .3 3 .2 3 1.2 3-.5 3-4.8 3-6.8 3-3.2 3 2.8 3 4.8 3 2.6 3 1.8 3 2.5 3 1.1 3-1 3 0 3 2.9 3 4.3 3 2.6 3 0 3-1.5 3-2.7 3-3.6 3-3.3 3-3.1 3-2.1 3-1.2 3-2 3-3.4 3-2.1 3 1 3 1.1 3-.2 3 0 3 1.4 3 4.6 3 6.7 3 3.7 3-1.7 3-2.5 3-.5 3 1.4 3 1.6"/>
<path d="M517 370.6l3-2.4 3-3.9 3-3.9 3-2.9 3-2 3 .3 3 3.5 3 5.2 3 4.1 3 1 3-2 3-3.5 3-1.2 3 2.2 3 2.4 3 .3 3-.2 3 .6 3 .2 3-1.7 3-2.3 3-.8 3 .6 3 1 3 2 3 2.2 3 .9 3 .8 3 1.6 3 .7 3-.5 3 .2 3 .1 3-2.3 3-2.3 3 1.8 3 4.6 3 4.1 2 1.7 1 .2 1-.2 2-2.2 2-4.1 1-2 1-1.1 2 1.9 2 8.5 1 6.1 1 6.6 2 12.1 2 6.4 1 1.2 1-.1 2-2.9 2-4.9 1-2.5 1-2.1 2-3.1 2-1.2 1-.2 3 1.2 3 2.1 3 .8 3-1 3-1.6 3-1.1 3 1.3 3 2.7 3 .5 3-2.9 3-3 3 .8 3 1.6 3-2.8 3-6 3-4.4 3-1.5 3 0 3 .4 3 .8 3 0 3-1.3 3-.2 3 1.6 3 2.7 3 3.5 3 3.7 3 3 3 2.1 3 2.2 3 2.2 3 .6 3-1.1 3-2 3-3.3 3-3.6 3-4 3-5.7 3-6.3 3-5.7 3-4.1 3-.2 3 4.1 3 4.3 3-.5 3-5.6 3-4.2 3 1.2 3 2.6 3 1.7 3 2.7 3 2.5 3 1.1 3-.9 3-3.9 3-3.2 3 1.2 3 2.5 3 .2 3-1.7 3-1.2 3 .3 3 1.9 3 3.7 3 3.4 3 .7 3-1.5 3-2.3 3-3.5 3-2.2 3 3.2 3 6.7 3 5.2 3 1.6 3-1 3-2.2 3-1.7 3-.4 3 .4 3-.8 3-3.3 3-2.9 3-.1 3 .2 3-.9 3 1.1 3 3.6 3 3.1 3 1.6 3 .2 3-1.6 3-2.1 3 0 3 1.7 3 .2 3-1.6 3-.8 3 1 3 1.8 3 .4 3-2.6 3-4.3 3-3.6 3-1.1 3 3.2 3 6.3 3 3.1"/>
<path d="M517 383.7l3-1.8 3-1.3 3 .3 3 1.7 3 .2 3-3.8 3-5.4 3-1.5 3 3.1 3 3.3 3 1 3-.2 3-.6 3-1.3 3-2 3-2.1 3-.1 3 .1 3-3.1 3-3.8 3-1.1 3 1 3 2.7 3 3.5 3 .8 3-2.4 3-2.5 3-.8 3 .1 3-.6 3-.6 3 .8 3 2.9 3 3.8 3 1.3 3-2.2 3-2.1 3 .8 2 .5 1-.6 1-1.3 2-3.7 2-2.5 1 .5 1 1.9 2 8.2 2 11.7 1 6.3 1 6 2 10.3 2 7 1 2.1 1 .8 1 0 1-.4 2-.9 1-.2 1 .1 2 .4 2-.2 1-.6 3-2.7 3-1.6 3 .7 3 .4 3-2.7 3-6.4 3-7.6 3-5.1 3-.9 3 3.1 3 5.2 3 3.5 3-.6 3-3.9 3-4.1 3-3.1 3-2.4 3-1.5 3-.9 3 .8 3 2.5 3 2.2 3 2 3 3.1 3 4.8 3 4.8 3 1.6 3-3.4 3-5.9 3-5.1 3-2.7 3 .1 3 2.7 3 4.1 3 2.4 3-2.9 3-6.9 3-5.4 3-1.6 3 1.2 3 2.5 3 1.4 3-1.4 3-2.2 3 .6 3 2.5 3 .1 3-2.4 3 .2 3 4 3 2.8 3-1.1 3-1.9 3 .8 3 3.1 3 1.8 3-1.6 3-3.1 3-2.6 3-2.1 3-1.6 3-1.1 3-.2 3 1.3 3 2.1 3 1.7 3 1.3 3 .3 3 .1 3 2 3 1.4 3-3 3-5 3-1.2 3 1.7 3 .8 3-.5 3-.4 3 .2 3 1.3 3 1.1 3-1.8 3-3.3 3-.7 3 1.4 3 1.5 3 .5 3-1.5 3-2.4 3-2 3-.9 3 .7 3 .1 3-1.8 3-.8 3 .4 3-.2 3 .2 3 .6 3-.7 3-2.5 3-2.9 3-1.7 3 0 3 1.2 3 1.3 3 1.5"/>
<path d="M517 377.5l3 2.9 3-.6 3-1.8 3-.5 3 .9 3 1.7 3 2 3-1.1 3-4.3 3-3.7 3-2.5 3-1.4 3 1.3 3 2.3 3-.9 3-5.2 3-5.4 3-2.7 3 .2 3 3.3 3 4.9 3 4.4 3 3.5 3 2.1 3-.7 3-2.2 3-1 3 .7 3 .9 3-1.1 3-3.2 3-2.8 3 1.4 3 4.8 3 4.4 3 1.7 3-.7 3 .4 2 2.2 1 1.2 1 1 2 .9 2 .7 1 1.2 1 2 2 6 2 7.2 1 3.3 1 2.8 2 3 2 1.6 1 .5 1 .6 2 1 2 1 1 .3 1 0 2-1 2-2.7 1-1.6 3-4.1 3-2.7 3-4.1 3-3.1 3 2.4 3 6.2 3 3.8 3-1.3 3-4.3 3-4 3-1.6 3 .5 3 1.5 3 1 3 .6 3 2.4 3 2.8 3-.9 3-4.5 3-6.6 3-5.1 3 .9 3 5.8 3 4.6 3 .1 3-2.2 3-.3 3 1.9 3 1.4 3-1.2 3-3.4 3-2.3 3-.6 3-2.7 3-6.5 3-6.9 3-2.8 3 1.9 3 4.6 3 5 3 3.5 3 .3 3-2.5 3-.3 3 3.8 3 4.6 3 2.1 3-1.3 3-4.5 3-5.6 3-3.5 3 .4 3 2.1 3 2.7 3 2.1 3-1.1 3-4.9 3-5.5 3-2 3 .2 3-1 3-1.8 3-.2 3 1.6 3 3.3 3 2.9 3 .1 3-.4 3 1.8 3 2.1 3-.1 3-1.7 3-.6 3 .6 3-.8 3-2.2 3-1.6 3-1.4 3-.7 3 .4 3-.5 3 .5 3 3.7 3 3.1 3-.5 3-2.7 3-1.6 3 .7 3-.4 3-3.8 3-4.7 3-3 3-.8 3-.7 3-.5 3 2.7 3 5.9 3 4.2 3-1 3-3.5 3-1.3 3 2.3 3 4.3 3 4.2 3 3 3 1.5 3-.3"/>
<path d="M517 378.7l3-5.3 3-9 3-7 3-1.5 3 1.6 3 2.3 3 3 3 3.2 3 5 3 6.3 3 2.6 3-1.6 3-.1 3 3.4 3 2.6 3-1.1 3-1.6 3-.4 3-2.1 3-3.2 3-.1 3 2.8 3 1.5 3-1.1 3-2.1 3-1.1 3-.4 3-1.1 3-2 3-2.2 3-1.5 3-1 3-1.3 3-2.9 3-2.6 3 1 3 4.5 3 4 2 1.3 1 .4 1 .4 2 1.1 2 1.6 1 .8 1 .8 2 1.6 2 3.6 1 3 1 3.8 2 9.6 2 9.8 1 4.2 1 3 2 1.3 2-.9 1-.8 1-.7 2-1 2-.6 1-.4 3-3.9 3-7.2 3-4.7 3-1.6 3-2.5 3-.9 3 2.5 3 .8 3-3.9 3-4.3 3-1.1 3 .6 3-1.4 3-4.1 3-4.7 3-3.7 3 1.2 3 6.2 3 4.2 3-.5 3-1 3 1.2 3 3.4 3 1.6 3-3.4 3-6 3-5 3-1.1 3 2.2 3 1.1 3-1 3 .6 3 1.7 3-.2 3-3.3 3-5.4 3-5.9 3-3.8 3-.4 3 2.2 3 2.5 3 4.3 3 7.4 3 6.6 3 1.9 3 1 3 3.7 3 2.8 3-1.3 3-4.7 3-2.6 3 2.6 3 1.9 3-1.9 3-1.7 3-.3 3-.7 3 .2 3 .8 3-.5 3-.5 3 .4 3-.7 3-3.2 3-4.4 3-3.7 3-.7 3 2.7 3 1.9 3-1.3 3-2.3 3-2.3 3-2.2 3 .7 3 4.5 3 6.8 3 7.8 3 5.6 3-.6 3-4.2 3-1.6 3 2.8 3 3.6 3 0 3-3.1 3-1.3 3-.5 3-3.7 3-3.7 3 .1 3 2.9 3 4.8 3 5.1 3 2.2 3-1.8 3-5.9 3-6.9 3-2.7 3 .9 3 .9 3 .6 3-1.2 3-3.5 3-2.4 3 .5 3 1 3 1.5"/>
<path d="M517 370.9l3 3.3 3 4 3 1.3 3-1.4 3-1.2 3-.2 3 .1 3 .5 3-.5 3-2.9 3-4 3-4 3-2.3 3 2.1 3 4.6 3 2.1 3-2.5 3-2.8 3 1.1 3 4.4 3 4.2 3 1.9 3-.4 3-1.4 3-1.2 3 1 3 1.4 3-.9 3-1 3-.5 3-2.1 3-3.2 3-3 3-2.4 3 .4 3 3.1 3 2 3-.2 2 .3 1 .7 1 1 2 2.4 2 2.9 1 1.8 1 2.2 2 6.2 2 8.4 1 4.7 1 4.9 2 9 2 7.5 1 2.3 1 1.8 2 2.4 2 .7 1-.4 1-1 2-3.4 2-4.5 1-2.4 3-7.7 3-7.3 3-5.2 3-3.2 3-2.6 3-3.1 3-2.8 3-1.5 3-.2 3 1 3 2.2 3 3.5 3 3.6 3 .7 3-1.5 3 .3 3 2.4 3 .2 3-3.5 3-4.2 3-2.1 3 1 3 2.4 3 1.3 3 2.3 3 5.5 3 5.6 3 3.1 3 .5 3-4.1 3-7.8 3-5.9 3-.7 3 3.1 3 3.3 3 .5 3-1 3 .1 3 1.6 3 4.2 3 3.4 3-4 3-8.4 3-7.2 3-5.7 3-4.7 3-2.4 3 1 3 3.7 3 3.7 3 1.9 3 .9 3 1.2 3 .3 3-2.4 3-4.1 3-3.2 3-.8 3 1.1 3 2.5 3 2.6 3 0 3-3.1 3-4.2 3-2.5 3-.3 3 .6 3 2.4 3 5.6 3 6.1 3 2 3-2.2 3-1.7 3 .8 3 1.4 3 .3 3-2 3-4.3 3-.8 3 4.5 3 4.2 3-1.1 3-4.3 3-2.6 3-1.4 3-2.8 3-3.4 3-4.3 3-4.3 3-2 3-.4 3 0 3 2.2 3 4.7 3 3.8 3 1.5 3 1.3 3 .4 3-2.3 3-2.8 3-1.3 3-1.5 3-2.4 3-2.6 3-.5 3 5.2 3 8.1"/>
<path d="M517 371.3l3 1.4 3 2.5 3 1 3 0 3 .1 3 .4 3 1 3 .2 3-.7 3-1 3-2.5 3-1.8 3 .7 3 1.2 3 1.9 3 4.5 3 4.5 3 .8 3-3 3-3.9 3-3 3-2.4 3-1.7 3-1.6 3-2.8 3-2.1 3-.5 3-.8 3-1.7 3-1 3 1.9 3 4.7 3 4.1 3 2.8 3 1.1 3-1.9 3-3.4 3-3.7 2-2.1 1-.7 1-.3 2 .7 2 1.5 1 .7 1 .5 2 .8 2 1.5 1 1.3 1 1.7 2 4.3 2 5.1 1 2.6 1 2.7 2 5.2 2 4.3 1 1.7 1 1.7 2 3.5 2 3.7 1 1.8 3 4.3 3 .4 3-3.5 3-4.8 3-3.4 3 0 3 1.6 3-.5 3 .1 3 5.4 3 5.8 1 .6 2-1.2 3-4.3 3-3.4 3-1 3 1.3 3 2.1 3 .7 3 .8 3 2.5 3 .8 3-3.2 3-2.7 3-.8 3-1.6 3-2 3-1.2 3-.7 3-1.3 3-1.3 3 1.1 3 1.8 3-.4 3-1.2 3-1.4 3-2.3 3-2.5 3-2.4 3-2.2 3-1 3 .8 3 1.4 3 .2 3-2 3-4.6 3-3.6 3 2.5 3 5.9 3 3.6 3 1.1 3 .3 3-.5 3-.6 3-.1 3 .5 3 1.6 3 .8 3-3.3 3-6.6 3-4.5 3 .2 3 1.8 3 1.6 3 .4 3-.9 3 .1 3 3.7 3 6.5 3 5.5 3 1 3-3.2 3-3.3 3-.7 3-1.5 3-2.4 3 .2 3 2.1 3 1.6 3 1.1 3 0 3-2.6 3-3.4 3-.6 3 1.1 3-.1 3-1.2 3-1.3 3-1.4 3-1.1 3-1.1 3-1 3-.9 3-2.6 3-3.8 3-1.3 3 1.4 3 2.4 3 2 3-1.3 3-5.7 3-5.5 3-1 3 3.8 3 4.4 3 2.5 3 .7 3-2.8"/>
<path d="M517 384.2l3-.5 3 .9 3-.7 3-2.6 3-2.3 3-1.6 3-1.3 3-2 3-3.1 3-2.6 3-2.3 3-1.9 3 .5 3 3.5 3 5.9 3 6.6 3 5.3 3 2.1 3-2.3 3-3.7 3-1 3 1.6 3 1.4 3-1.6 3-4.8 3-5.3 3-2.4 3 1.7 3 5.1 3 5.4 3 2.3 3-.8 3-1.9 3-2.4 3-1.6 3-.1 3 1.2 3 1.4 2 .7 1 .2 1 0 2-.4 2-1 1-.5 1-.3 2 .8 2 2.7 1 2 1 2.3 2 5.9 2 6.7 1 3.3 1 3 2 3.5 2 .8 1-.3 1-.4 2-.2 2 .9 1 .8 3 1.3 3-1.3 3-2.7 3-2.3 3-.3 3 1.2 3 .3 3-1.2 3-1 3 .1 3 1.5 3 2.2 3 1.8 3-1.2 3-3.5 3 .3 3 3.7 3-.1 3-4.3 3-4.4 3-3.9 3-3.9 3-2.1 3-.9 3-1.2 3 .8 3 4.1 3 4.7 3 2.3 3 .8 3 1.2 3 .3 3-1.7 3-.8 3 1.7 3 .3 3-2.4 3-1.7 3 .9 3 2.4 3 1.5 3-.5 3-1.5 3-2.5 3-4 3-2.9 3-.4 3 .8 3 .9 3-.7 3-1.9 3-2.4 3-3.2 3-2 3 1.4 3 3.4 3 1.9 3-.2 3-1 3-.6 3 .2 3 .2 3-1.4 3-3.3 3-2 3 2.2 3 2.5 3-1.1 3-2.3 3 .7 3 2.7 3 2.6 3 1.6 3 .4 3 .4 3 1.9 3 1.6 3-.1 3 .3 3 2.8 3 3.5 3 .9 3-1.5 3-2.8 3-3.1 3-1.7 3-.4 3-.2 3-.2 3 .5 3-.8 3-3.1 3-2 3-.2 3 .2 3 .3 3 .1 3 .6 3 2.1 3 1.2 3-1.8 3-1.7 3 .7 3 2.1 3 2.2 3 1.2 3-.2"/>
<path d="M517 367.8l3 2 3 5 3 .3 3-5.3 3-1.7 3 5 3 3.8 3-1.4 3-1.3 3 1.9 3 2.7 3 1.2 3-.7 3-1.8 3-.7 3 .3 3-1.7 3-2.4 3-2 3-2.5 3-2.2 3 .2 3 4 3 7.1 3 6.5 3 1.4 3-4.2 3-3.2 3 1.6 3 1.7 3-.6 3-1.9 3 .1 3 3.3 3 1.9 3-2 3-3.7 3-3.1 2-1.1 1-.2 1 .1 2 .7 2 1.5 1 .9 1 .9 2 1.3 2 .8 1 .4 1 .6 2 2.3 2 4.1 1 2.9 1 3.3 2 7.7 2 8.4 1 4.2 1 3.9 2 6 2 3 1 .6 3-2.5 3-7.5 3-6.7 3-.6 3 2.8 3 1.2 3-1.4 3-3.1 3-2.7 3-.8 3 .6 3 1.2 3 .6 3-1.6 3-.9 3 1.8 3 .6 3-2.7 3-3.6 3-3.3 3-2.1 3 .2 3 .6 3-.3 3 3 3 8 3 7 3 0 3-6.7 3-8.5 3-4.8 3 1.4 3 5.2 3 3.3 3-2.8 3-6.3 3-4.6 3 .4 3 4.7 3 2.1 3-4.6 3-5.6 3 .5 3 4.8 3 2.4 3-2.5 3-4.9 3-4.5 3-2.9 3-.1 3 .8 3-2 3-4.7 3-3.7 3 0 3 3.9 3 6.2 3 5.4 3 2.1 3-1.9 3-5.2 3-5.1 3-.4 3 3.9 3 4.2 3 2.1 3-1 3-2.8 3-.8 3 .2 3-2.3 3-3 3-.9 3 0 3-.2 3-2.3 3-3.2 3-.2 3 2.6 3 2.9 3 1.9 3 1.5 3 1.1 3 1.9 3 5 3 5.2 3 .9 3-3 3-4 3-1.5 3 1.7 3-.3 3-5 3-5.5 3-.1 3 5.3 3 3.4 3-2.6 3-2.7 3 1.8 3 3.5 3-.3 3-4.3 3-3.6 3-1.4 3-.6 3 2.8"/>
<path d="M517 377.5l3-.6 3 .3 3-.9 3-1.3 3-.4 3 .6 3 3.2 3 4.7 3 1.3 3-3.9 3-5 3-2.2 3-1 3-2.3 3-3.9 3-1.8 3 2 3 2.9 3 2.7 3 3 3 1.6 3-.8 3-2.3 3-2.6 3-2.7 3-3.1 3-3.1 3-3.3 3-2.4 3 1.8 3 4.2 3 3.1 3 3.5 3 3.7 3 1.4 3-.7 3-2.5 3-2.6 2-1.2 1-.6 1-.7 2-1.9 2-1.4 1 0 1 .7 2 3.7 2 6.1 1 3.5 1 3.8 2 7.6 2 7.3 1 3.2 1 2.8 2 2.5 2 .4 1-.2 1-.4 2-.8 2-.2 1 .3 3 1.9 3 2.4 3 1.2 3-1.1 3-3.2 3-1.5 3 3.3 3 3.9 3-1.1 3-2.6 3 .6 3 2.4 3 2.4 3 3.7 3 3.1 1 .1 2-2 3-5.4 3-2.8 3 1.1 3 1 3-1.4 3-2 3 0 3 1 3-.8 3-1.4 3 .5 3 3.2 3 3 3-1.2 3-2.9 3 .3 3 3.6 3 2.3 3-2.4 3-6.7 3-5.7 3-1.1 3-.4 3-2.9 3-3.3 3-1.8 3-1.8 3-3.6 3-3.8 3 1.8 3 7.7 3 5 3-.7 3-1.2 3 1 3 2.1 3 1 3-1.5 3-3.5 3-2.8 3-1.1 3-.8 3-.6 3-.3 3-2.3 3-2.4 3 1.4 3 2.4 3-.5 3-2 3 .3 3 1.8 3-.8 3-2.7 3-.8 3 .7 3-.1 3-.9 3-1 3-.1 3 1.7 3 1.9 3 .4 3 .8 3 4 3 5.1 3 1.8 3-3.7 3-7.7 3-7 3-2.5 3 .7 3 1.6 3 3.3 3 3.2 3-.8 3-2.3 3-.1 3 1.4 3 2.6 3 3 3 1.2 3-1.3 3-1.3 3 1 3 1.2 3-2 3-4 3-3.9 3-4.6 3-4.7"/>
<path d="M517 375.2l3 3.4 3 2.9 3-.9 3-5.3 3-5.5 3-3.5 3-3.5 3-3.7 3-3.2 3-2.1 3 .1 3 3 3 4.5 3 5.1 3 5.4 3 4.7 3 4.6 3 4.6 3 1.2 3-2.7 3-3.6 3-2.8 3-1.7 3 0 3 1.3 3 1.2 3-.7 3-2.1 3-.3 3 2.5 3 1.6 3-.8 3-.1 3 .3 3-2.3 3-2.3 3-.2 3 1.3 2 2.1 1 1.7 1 2 2 4.6 2 3.8 1 1 1 .4 2-.1 2 1.7 1 2.2 1 3.2 2 8.1 2 7.6 1 2.7 1 1.5 2-.8 2-2.3 1-1.1 1-.7 2-.8 2 .1 1 .4 3 1.5 3 1.1 3 1.2 3 1.3 3-1.2 3-3.3 3-2.7 3-1.9 3-.5 3 .2 3-2.8 3-4.1 3-.6 3 1.4 3-.9 3-4.5 3-7.2 3-6.9 3-2.6 3 .4 3 .1 3-1.2 3-2.5 3 .8 3 8.2 3 9.1 3 3.1 3-.3 3 .5 3 1.2 3 .8 3-1.7 3-4.6 3-4.7 3-2.6 3-1 3-.9 3-1.3 3-1.7 3-2.4 3-2.1 3-1.2 3-1.4 3 .5 3 2.8 3 1.5 3 .2 3 .4 3-.9 3-2.6 3-1.1 3 3.1 3 4.7 3 1.9 3-.1 3 .8 3 1.8 3 1.6 3-.2 3-2.8 3-2.2 3 .3 3 2.1 3 3.1 3 2.7 3 1.6 3 .8 3-.7 3-2.5 3-4.4 3-4.4 3-1.4 3 1.4 3 1.1 3-1.3 3-1.5 3-.5 3-1.8 3-3 3-.7 3 3.5 3 5.4 3 4.1 3 1.9 3 .7 3-.6 3-3.1 3-4.5 3-3.5 3-2.4 3-2.1 3-1.2 3-.5 3-1.1 3-1.6 3-.9 3 1.1 3 2.8 3 3.9 3 4 3 1.6 3-.1 3 1.7 3 2.6 3 1.7 3 .2 3-2.2"/>
<path d="M517 362.7l3-.1 3 .4 3-.7 3 1.5 3 3.1 3 1.2 3 1.2 3 3.1 3 2.8 3 1 3-1.2 3-1.9 3 .7 3 3.9 3 3.6 3-.8 3-4.4 3-2.3 3 .4 3-2.4 3-5.5 3-2.1 3 2.6 3 1.4 3-3.8 3-6.8 3-5.1 3-1.5 3 .7 3 .7 3 2.2 3 5.1 3 7.1 3 7.1 3 3.7 3-1.3 3-4.3 3-3.8 2-.7 1 .4 1 .7 2 2.4 2 3.2 1 1.8 1 2.1 2 4.4 2 4.4 1 2.2 1 2.3 2 5.4 2 6 1 3 1 2.8 2 4 2 1.9 1 .6 1 .3 2 .4 2 .4 1 .5 3 2.2 3 2.9 3 1.5 3-.8 3-2.2 3-4.1 3-6.3 3-5 3-.5 3 4 3 5.7 3 4.1 3 .2 3-3.3 3-4.9 3-2.3 3 2.3 3 3.1 3 .7 3-.8 3 .1 3 .7 3-1.1 3-2.8 3-3 3-1.7 3-.3 3-.9 3-2 3 0 3 2.8 3 1.6 3-.9 3-.1 3 .6 3-3.4 3-9.8 3-9.8 3-2.9 3 1.3 3 .5 3 .5 3 2.9 3 5.8 3 5.8 3 1.2 3-3.6 3-4.2 3-1 3 2.9 3 4 3 1.3 3-2.5 3-3.6 3-2 3-1 3-1.6 3-1.7 3 0 3 .2 3-1.6 3-.3 3 1.5 3-.8 3-3.1 3-1.8 3-.3 3 .4 3 4.9 3 6.3 3-1.1 3-7.8 3-5.9 3 .2 3 2.7 3 2 3 1.6 3 .2 3-1.2 3-.3 3 2.4 3 3.7 3 2.8 3 .4 3-1.9 3-2.3 3-1.2 3-.9 3-1.9 3-3.3 3-2.4 3 2.1 3 5.9 3 4.2 3-1.9 3-5.2 3-4.4 3-3.2 3-2.2 3 .4 3 1.8 3 1.9 3 1.3 3-.6 3-2.4 3-2.4 3 .2"/>
<path d="M517 371.8l3-.3 3-.7 3 .5 3 1.2 3-.3 3-2.5 3-2.5 3-.6 3 .9 3 .5 3 .2 3-.3 3-1.8 3-1.3 3 1.8 3 4.2 3 3.3 3 .1 3-1.3 3-.9 3 .3 3 2.8 3 4.7 3 2 3-2.9 3-4.5 3-2.4 3-.4 3-1 3-2.8 3-2.2 3-.5 3-.9 3-1.7 3-.1 3 2.4 3 3.5 3 3.7 2 2 1 .7 1 .5 2 .3 2-.5 1-.3 1-.1 2 1.7 2 5.7 1 4.3 1 5 2 11.2 2 10.5 1 4 1 2.6 2 2.9 1 .5 1 0 1-.6 1-1 2-3.6 2-5.2 1-2.9 3-7.5 3-5.1 3-3 3-.1 3 3.1 3 2.8 3-.1 3-.9 3 .3 3 .5 3 .3 3 1.3 3 2.6 3 2.2 3 .2 3-1.3 3 .2 3 2.5 3 2.5 3-.1 3-3 3-3.5 3-1.3 3 1.3 3 1 3-3 3-5.7 3-3.8 3-1.5 3-1.4 3 .2 3 2.9 3 2.1 3-1.4 3-3.5 3-2.4 3 .1 3 1.7 3 2.6 3 4.4 3 4.3 3 .3 3-5.4 3-7.2 3-3.3 3 1.1 3 1.3 3-.5 3 1.1 3 4.7 3 3.9 3-.5 3-3.2 3-2 3 .4 3 .6 3 .6 3 2.4 3 1.3 3-2.6 3-3.5 3-1.6 3-.2 3 1.1 3 2.2 3 2.2 3 .6 3-1.1 3-.5 3 2.3 3 3.7 3 1.4 3-1.1 3-.9 3-1.6 3-3.4 3-3.2 3-1.2 3 1.3 3 2.1 3 .4 3-1.3 3-1.7 3-1.7 3-3 3-4.9 3-4.1 3-1.4 3 1.1 3 2.5 3 1.1 3-.9 3 .8 3 2.5 3-.5 3-4.5 3-3.8 3-.2 3 1.1 3-.3 3 .3 3 4 3 6.4 3 4.7 3 2.3 3 .6 3-1.4"/>
<path d="M517 372l3-4.1 3-3.7 3-1.4 3 1 3 1.9 3-.4 3-2.3 3 .7 3 5.1 3 6.9 3 6 3 2.9 3 .1 3-1.6 3-2.1 3-1.2 3-1.7 3-2.6 3-2.1 3 .6 3 1.5 3-1.4 3-2.7 3-.4 3 1.5 3 1.8 3 .8 3-.2 3-.3 3-.2 3 1.5 3 4.9 3 5 3 1.8 3-2.5 3-5.8 3-5.5 3-4.5 2-2.6 1-1.2 1-.8 2-.7 2 1 1 1.2 1 1.5 2 3.7 2 6.5 1 4.3 1 4.9 2 10.7 2 9.9 1 4 1 3 2 4.1 2 2.6 1 1 1 .7 2 .3 2-.6 1-.3 3 1.1 3 3.3 1 .4 2-1.2 3-5.9 3-5.3 3-.1 3 2.4 3-1.5 3-4.6 3-1.5 3 .3 3-1.4 3-4.1 3-4.7 3 0 3 4.9 3 3.8 3-2.4 3-6.6 3-3 3 3.1 3 3.7 3-.7 3-3.4 3-2.6 3-1.5 3-.7 3-.3 3-1.5 3-2.9 3-.5 3 3.7 3 4.8 3 2 3-2.3 3-4.8 3-3.5 3 0 3 2.8 3 1.9 3 .1 3 2.6 3 5.3 3 2 3-4.6 3-6.3 3-2 3 2.2 3 1.6 3 .5 3 1.3 3 1.8 3 2.6 3 2.3 3 .8 3 1.3 3 1 3-2.1 3-3.7 3-2.6 3-2.9 3-6.6 3-7.9 3-4.5 3-1.4 3 3 3 8.4 3 7.7 3 3.3 3 .2 3-1.3 3 .1 3 3.1 3 1.7 3-2.3 3-3.6 3-2.7 3-4 3-6 3-3.4 3 .7 3 1 3 1.3 3 3 3 1.6 3-1.2 3-1.3 3 .3 3 2.1 3 1.9 3 0 3-1.1 3-1.2 3-3 3-4.9 3-3.6 3 .3 3 2.6 3 1.3 3-.2 3 1.2 3 2.5 3 3.2 3 3.9 3 0 3-3.9 3-2.6"/>
<path d="M517 376.5l3-3.6 3-3.3 3 .4 3 4.4 3 3.3 3-.6 3-1.7 3-1.4 3 .2 3 3.9 3 4.7 3 .5 3-3.8 3-2.7 3 1.6 3 2.1 3-.6 3-2 3-.7 3 .2 3-1.1 3-.4 3 3.1 3 4.5 3 2.3 3-.4 3-1.7 3-1.6 3-.7 3 1.1 3 .3 3-2.8 3-3 3 1.6 3 5.4 3 2.4 3-3.6 3-5.2 2-2.3 1-.6 1-.3 2 .1 2 .5 1 .4 1 .4 2 1.8 2 3.7 1 2.6 1 3.4 2 8.3 2 9.4 1 4.4 1 4 2 5.9 2 1.3 1 .3 1 .1 2 .1 2-.3 1-.3 3-1.7 3-1.4 3 .8 3 .3 3-3.2 3-3.7 3-.9 3 2.4 3 4.5 3 2.4 3-2.4 3-4.3 3-4.3 3-5.2 3-5.1 3-3 3-1.2 3-.2 3-.1 3-1.3 3-2.6 3-2.3 3-.6 3 1.3 3 1.8 3 1.2 3 .4 3 .8 3 1.3 3 1.7 3 2.9 3 3.6 3 4 3 3 3 .1 3-3.2 3-6 3-5.5 3-2.8 3-2 3-2.2 3-3.1 3-3.2 3 1.1 3 6 3 4.4 3-.8 3-2.7 3-1.3 3-.7 3-.9 3-1.2 3 .7 3 4.5 3 3.4 3-1.1 3-3.8 3-5.7 3-5.2 3 1.1 3 6.8 3 5.9 3 .2 3-4.1 3-3.3 3-.1 3 2.1 3 2.2 3 1.7 3 1 3-.2 3-1.9 3-3.5 3-3.2 3-.5 3 .7 3 .7 3 0 3-1.2 3-.6 3 0 3 .8 3 3.1 3 2.6 3 .4 3-.4 3-.4 3-1.2 3-1.7 3-1.2 3-.4 3 .2 3 .6 3 1.7 3 2.3 3 .8 3-3.1 3-5.4 3-3.9 3-1.1 3 1.8 3 2.4 3 .2 3-1.8 3-3 3-2.3 3 1.4"/>
<path d="M517 378.5l3-4.4 3-1.5 3 .1 3 .2 3 1.9 3 4.1 3 5.1 3 4.7 3 1.7 3-1.9 3-1.7 3-1.4 3-3.1 3-5.6 3-6.1 3-2.4 3 2.6 3 4.4 3 2.1 3-.1 3 .2 3 1.2 3 1 3-.7 3-2.7 3-2 3-1 3-.8 3 .3 3 .7 3-.5 3-1.7 3-3.2 3-2.7 3-.8 3-.5 3-.6 3-1 2-.6 1 0 1 .3 2 1.5 2 2.5 1 1.4 1 1.4 2 3.3 2 4.3 1 2.5 1 2.9 2 6.5 2 7.3 1 3.9 1 4 2 8 2 7.5 1 3.3 1 2.4 2 1.9 1 0 1-.5 1-.7 3-3 3-3.3 3-3.2 3-1.8 3-1.9 3-3.9 3-4 3 .3 3 2.7 3 .9 3-.4 3-.3 3-.5 3-2.3 3-4.6 3-1.9 3 3.3 3 3.7 3-.6 3-3.9 3-3.6 3-3.3 3-2.6 3-.5 3 .3 3 .1 3 0 3 .3 3 .8 3-.6 3-1 3-.2 3-.3 3 1.2 3 3.7 3 2.2 3-1.9 3-2.1 3-.7 3-.8 3-1.6 3-1.8 3-.8 3 .8 3-1.2 3-5.2 3-4.4 3 1.6 3 5.4 3 3.1 3-.9 3-3.5 3-5.2 3-5.2 3-.7 3 3.4 3 1.8 3 .8 3 3 3 2.9 3 2.4 3 4.1 3 3.8 3 .6 3-2.3 3-4 3-2.8 3-.1 3-.1 3-1.3 3 .1 3 1.6 3 .3 3-2.8 3-3.5 3-1 3 .9 3 0 3-1.8 3-2.7 3-3.5 3-3.4 3 0 3 4.5 3 4.3 3 .6 3-1 3-.5 3 1.2 3 2.7 3 1.5 3 .2 3-.2 3 .2 3 1.2 3 0 3-1.8 3-2.1 3-1.5 3 .7 3 2.6 3 1.5 3 .4 3 1.7 3 2.4 3 .1 3-1.4"/>
<path d="M517 373.9l3-3.5 3-2 3-.6 3 2.1 3 2.9 3 1.3 3 .5 3 .1 3-.2 3 .5 3 .7 3 1 3 .7 3-.1 3 1.5 3 3.6 3 3 3 .9 3-3.1 3-6.9 3-4.8 3 .6 3 2.3 3 .3 3-2.9 3-4.4 3-2.5 3 .3 3 2.6 3 3.9 3 4.7 3 4.8 3 2.3 3-1.4 3-4 3-5 3-4.5 3-2.5 2-.1 1 .3 1 .5 2 1.4 2 3.4 1 2.9 1 3.8 2 10.1 2 11.7 1 5.9 1 5.5 2 9.1 2 3.4 1 .7 1 .3 2 .1 2-.1 1-.3 1-.5 2-2.3 2-3.7 1-2.2 3-6.7 3-5.3 3-2.4 3-1.4 3-1.9 3-.4 3-.5 3-2.5 3-2 3 1 3 2.8 3 1 3-2.6 3-.3 3 4.9 3 3.8 3 .5 3 .7 3 .6 3-.8 3 0 3 2.1 3 1.3 3-2.3 3-5.1 3-5.2 3-3.9 3-4.4 3-5.1 3-1.3 3 3.6 3 2.4 3-1.2 3-.1 3 1.8 3 1.5 3 .7 3-1.4 3-4.7 3-4.3 3-1 3 .9 3-.4 3-2.8 3-3.8 3-2.1 3-.4 3 .9 3 4.1 3 5.4 3 2.2 3-.8 3 .8 3 5 3 7.5 3 4.6 3-1.4 3-4.2 3-3.9 3-3 3-2.3 3-1.2 3 1 3 1.8 3-.2 3-3.2 3-4.4 3-2.5 3 1.1 3 4.6 3 3.4 3-1.2 3-3.3 3-2.7 3-1.8 3-.6 3 1.6 3 3.4 3 1.9 3-1.7 3-4.7 3-4.3 3-.7 3 3 3 3.3 3 1.5 3 .1 3-2.6 3-5.5 3-3.9 3-.4 3 1.6 3 .9 3-1.8 3-3.3 3-2.8 3-1.3 3 1.1 3 4.4 3 6.3 3 5.2 3 3.4 3 1.2 3-1.6 3-.2 3 4 3 5.2"/>
<path d="M517 377l3 2.7 3-.8 3-1.6 3-1 3-1.6 3-3.2 3-3.5 3-1.7 3 .8 3 2.5 3 1.4 3-1.1 3-.6 3 2.4 3 3.5 3 .8 3-2.3 3-3.3 3-2.7 3-1.7 3-1.9 3-1.8 3 2 3 4.9 3 5.1 3 3.9 3 1.6 3 .3 3 .8 3 1.6 3 1.3 3-.5 3-3.6 3-5.7 3-5 3-2.2 3 .6 3 1.1 2-.2 1-.5 1-.7 2-1.6 2-.6 1 .6 1 1.3 2 5.5 2 8.4 1 4.9 1 5 2 9.9 2 9.2 1 4.2 1 3.9 2 5.4 2 .4 1-.3 1-.5 2-.1 2 .9 1 .5 1 .1 2-1.5 3-6.8 3-6.7 3-3.1 3-1.4 3-1.9 3-1.4 3 .2 3 2.5 3 3.5 3-.3 3-5.2 3-5.5 3-2.6 3 .4 3 2.7 3 4.6 3 3.5 3-1.4 3-5 3-4.1 3-1.8 3-1.3 3-2.2 3-2.1 3-1.7 3-2.8 3-4 3-2.3 3 .8 3 2.6 3 1.7 3-.6 3-1.5 3 .2 3 1.8 3 1.5 3-.9 3-3.2 3-1.6 3 3.4 3 5.5 3 4.3 3 3.8 3 3 3 .2 3-3.3 3-5.3 3-3.1 3 .3 3-.3 3-3.2 3-3.8 3-1.5 3 .7 3 1.6 3 2.2 3 1.9 3 .2 3-1 3-1.4 3-1.4 3-.3 3 .7 3 1.1 3 .4 3-.5 3-1 3-.7 3 1.2 3 3.6 3 4.8 3 2.3 3-.5 3-.4 3 .6 3 2.3 3 2.6 3 .4 3-.1 3 .3 3-.5 3-.7 3 .3 3-.1 3-3.7 3-7 3-4.8 3-1.6 3-.9 3 1.7 3 5.7 3 5.6 3 1.5 3-.7 3 2.1 3 5.7 3 2.8 3-5.6 3-8.9 3-3.2 3 1.8 3 1.7 3 .4 3-1.1 3-2.9 3-.5"/>
<path d="M517 393.5l3-3.3 3-6.7 3-5.5 3-1.2 3 .4 3-1.7 3-2.1 3 1.6 3 6 3 5.6 3-.6 3-4.5 3-2 3 .6 3 1.6 3 .9 3-.8 3-1.8 3-2.2 3-.9 3 0 3-2.1 3-5.7 3-6.8 3-3.4 3 .5 3 1 3 .7 3 1.4 3 2.1 3 1.8 3 3 3 6.4 3 6.5 3 1.1 3-4.1 3-4 3-1.4 2-.5 1-.3 1-.3 2-.5 2-.8 1-.4 1 0 2 1.7 2 4.3 1 3.1 1 3.6 2 8.1 2 8.2 1 3.8 1 3.4 2 3.2 2 .3 1-.5 1-.7 2-.9 2 .3 1 .6 3 2.5 3 1.1 3-.4 3 .2 2 .2 1-.1 3-2 3-3 3-2.9 3-2.9 3-3.4 3-6.1 3-7.4 3-2.9 3 3.8 3 6.7 3 4.5 3-.1 3-3 3-2.4 3 .2 3 2.1 3 1.7 3 1 3 1.4 3 1.5 3-.4 3-2.5 3-1.6 3 3.3 3 6.5 3 3.5 3-2.4 3-4.9 3-4.2 3-2.5 3-.9 3-2.1 3-5.1 3-3.5 3 .7 3 1.8 3 .3 3 .9 3 3.3 3 5.1 3 4.5 3 1.4 3-1.1 3-2 3-3 3-4.1 3-4.4 3-3.5 3-2 3-.3 3 3.7 3 5.9 3 2.2 3-2.5 3-4.1 3-2.7 3 .3 3 2.2 3 3.4 3 3.5 3 1.8 3 1.3 3 2.5 3 2.2 3 .1 3-2.4 3-4.2 3-4.5 3-2.1 3 1.3 3 1.7 3-.1 3-1 3-1 3-1.2 3-.6 3 0 3-2.2 3-4 3-3 3-1.3 3-.6 3-1.6 3-1.6 3 0 3 .9 3 3.7 3 6.5 3 5.2 3 .6 3-5.1 3-7.8 3-3.6 3 2.1 3 3 3 .5 3-1.8 3-3.1 3-1.6 3 3.6 3 6.8 3 5"/>
<path d="M517 372.7l3-.7 3-.4 3-.2 3 .4 3 2.4 3 2.8 3 1.2 3 .1 3 .7 3 2.9 3 3.6 3 .7 3-1.3 3-1 3-1.1 3-1.7 3-.3 3 .1 3-2.5 3-3.6 3-2.6 3-1.5 3-.3 3-1.4 3-3 3-1.2 3 1.4 3 1.9 3 3.5 3 6.2 3 5.6 3 2.1 3-1.7 3-4 3-2.5 3-.2 3 .9 3 3.5 2 3.8 1 1.5 1 1 2-.4 2-2.9 1-1.7 1-1.4 2-1 2 3.5 1 3.7 1 4.8 2 12.2 2 13.2 1 6.1 1 5.4 2 5.9 1 1.1 1-.1 1-1.1 1-2 2-5.3 2-5.2 1-2 3-2.7 3-.3 3-2 3-3.5 3-2.2 3-.4 3-.7 3-3.2 3-3.6 3 .1 3 3.8 3 5.6 3 4.1 3-.1 3-4.1 3-6.5 3-5.9 3-2 3 .9 3 .7 3-1.5 3-3.1 3-1.6 3 1.3 3 2.7 3 2.4 3 1.7 3 1.5 3 .2 3-2 3-1.7 3-.9 3-2.1 3-1.3 3 3.5 3 5 3 0 3-4.7 3-5.2 3-3.9 3-1 3 3.4 3 3.4 3-.7 3-3.4 3-2.2 3 1 3 1.6 3-1.2 3-2.3 3 .3 3 1.6 3-.1 3-1.7 3-.8 3 1.9 3 3.1 3 .2 3-3.4 3-3.7 3-2 3-1.5 3-.6 3 1.5 3 3.3 3 3.6 3 1 3-2.6 3-3 3-.5 3 1.7 3 2.3 3 1 3-1.1 3-1.9 3-.6 3 .9 3-.2 3-1.5 3 0 3 1.8 3 3.9 3 4.3 3 1.6 3-1.6 3-4.5 3-6 3-3.1 3-.1 3-2.2 3-5.4 3-4.7 3 .4 3 3.8 3 1.6 3-.2 3 .8 3 1 3 1.6 3 1.9 3-.4 3-2.7 3-3.3 3-2.1 3-2 3-3 3-.9"/>
<path d="M517 371l3 3.3 3 5 3 1.2 3-2.6 3-4 3-4.8 3-3.6 3 .8 3 3.5 3 .1 3-3.3 3-2.6 3-.1 3 1.2 3 .5 3-1.2 3-2.3 3-2.6 3-1.3 3 .7 3 3.3 3 6 3 6.7 3 3.9 3-.1 3-2.4 3-4.5 3-5.5 3-3.6 3-2.7 3-3.3 3-.7 3 3.1 3 3.6 3 2.4 3 1.9 3 1.5 3 2.1 2 2.3 1 1.2 1 1.1 2 1.3 2 .1 1 .1 1 .4 2 3.2 2 6.5 1 4.1 1 4.5 2 8.7 2 7 1 2.7 1 2.2 2 3.4 2 2.6 1 .6 1 .8 2 1.9 2 .8 1-.3 3-2.8 3-3.3 3-2.8 3-2.5 3-3.6 3-4.4 3-3 3-1 3 .5 3 .6 3-.1 3 1.5 3 1.3 3-3.2 3-3.8 3 1 3 3.8 3 .7 3-3 3-2.2 3-.8 3-1.3 3-1.1 3 .4 3 .8 3 1.1 3-.4 3-3.4 3-2.1 3 .6 3-.7 3-2.8 3-1.3 3 3.3 3 7.4 3 4.8 3-1.4 3-1.4 3 2.3 3 3.2 3 2.9 3 2.6 3-.1 3-4.8 3-8.2 3-7.1 3-4.5 3-4.3 3-3.7 3 .2 3 4.4 3 3.8 3-3.1 3-7.3 3-4 3-.1 3 2.4 3 6.3 3 6.3 3 .8 3-2.7 3-3.2 3-2 3 .6 3 1 3-1 3-1.8 3-.8 3 1.1 3 1.1 3-.3 3-.8 3-1.1 3-2 3 .3 3 6.1 3 7.4 3 .8 3-5.2 3-6.2 3-3.8 3 2.3 3 7.9 3 6.1 3 .2 3-2.4 3-3.2 3-2.6 3 1 3 2.2 3 0 3 .6 3 4.1 3 4.6 3-.4 3-4.2 3-2.8 3 .4 3 2 3 1.4 3-.5 3-1.2 3-2.5 3-4.6 3-3.2 3 2.2 3 3.8"/>
<path d="M517 369l3-1.5 3 3.2 3 4.7 3 1.5 3-2.2 3-4 3-2.6 3 1.1 3 2.7 3 1.3 3-.6 3-1.7 3-2.7 3-1.9 3 1 3 1.4 3-.4 3 .4 3 1.9 3 2 3 1.6 3 .9 3 1 3 2 3 .9 3-2.4 3-1.2 3 2.1 3 .8 3-.5 3 .3 3 .8 3-.1 3-.3 3 2.9 3 6.5 3 6.2 3 3.5 2 .5 1-.3 1-.8 2-2.9 2-4.1 1-1.9 1-1.4 2-.7 2 2 1 1.7 1 2 2 4.3 2 5.5 1 3.4 1 3.8 2 8 2 5.7 1 .9 1-.4 2-3.1 2-4.1 1-1.6 3-2.4 3 .7 3 3.8 3 5.4 3 3.7 1 .4 2-.7 3-3.7 3-3.2 3 .7 3 3.4 3 1.5 3-3 3-4.3 3-1.1 3 2.7 3 3.3 3 1.5 3-.7 3-1.8 3-1.8 3-1.9 3-2.9 3-3.6 3-2.1 3 1.9 3 3.5 3 .6 3-1.8 3-1.8 3-1.4 3-1.5 3-2.4 3-1.9 3 .3 3 .2 3-.4 3 .2 3 1 3 1.8 3-.1 3-4.6 3-5.6 3-4.5 3-3.7 3 .2 3 4.5 3 5.1 3 3.7 3 2 3 .3 3-2.1 3-3 3-2.1 3-2.1 3-2 3-.2 3 2.5 3 3.4 3 .6 3-2.1 3-1.8 3 .3 3 .2 3-2.8 3-3.4 3-1.8 3-2 3-2.8 3-1.7 3-.6 3 1 3 3.2 3 1.9 3-.6 3-.9 3 .3 3 1.3 3 1 3-.9 3-3.7 3-4.3 3-1.6 3 .7 3-.5 3-1.6 3 1.9 3 6 3 5.6 3 1.8 3-3.2 3-4 3-1.4 3 .2 3 1.8 3 3.5 3 2.7 3 .3 3-2.2 3-2.4 3-2.3 3-3.5 3-3.9 3-3.3 3-.7 3 1 3-2.2 3-4.7"/>
<path d="M517 375.8l3 2.9 3 .6 3-.7 3-2.8 3-3.4 3-.7 3 1.4 3-.1 3-1 3 1.3 3 2.7 3 2.4 3 3.5 3 4 3 .8 3-3.7 3-4.3 3-2.7 3-3 3-3.3 3-1.2 3 1.4 3 2 3 .7 3-1 3-.7 3 .2 3 .3 3-1.5 3-3 3-.7 3 2.9 3 4.2 3 1.4 3-2.2 3-3.4 3-3.4 3-1.7 2 .8 1 .9 1 1 2 1.9 2 1.3 1 .4 1 .2 2 .8 2 1.9 1 1.4 1 1.9 2 5.3 2 7.7 1 4.8 1 5.3 2 11.1 2 10.3 1 4.4 1 3.3 2 3.4 2 2.1 1 .9 3 1.9 2 .2 1-.2 3-2.7 3-6.3 3-7.9 3-4.3 3-.3 3 .3 3-.8 3-1.5 3-.5 3 .3 3-2.1 3-4.7 3-3.6 3-2.9 3-2.3 3 .6 3 4.9 3 7.3 3 3.5 3-3.2 3-6.7 3-5.2 3-1.1 3 2.4 3 2.4 3 1.5 3 1.1 3-1.3 3-4.8 3-4.7 3-1.9 3-.5 3-.7 3-2.1 3-4.1 3-4.1 3-2.6 3-2 3-1.6 3 0 3 3.5 3 6.1 3 4.5 3 .2 3-1.5 3 .8 3 3.6 3 3.8 3-.2 3-3.7 3-2.7 3-1.6 3-2.2 3-3.1 3-4.5 3-3.1 3 1.8 3 2.9 3 .4 3-.9 3 .2 3 1 3 .9 3 2.1 3 4.3 3 3.5 3-.7 3-2.9 3-1.5 3-.4 3 0 3-1.3 3-5.7 3-5.8 3 1.3 3 3.9 3-1.1 3-4.2 3-3.5 3-3.1 3-.1 3 6.1 3 7.2 3 .3 3-5.2 3-2.4 3 3.5 3 5 3 4 3 3.2 3 .6 3-2.6 3-3.6 3-2 3 .8 3 2.4 3 2.2 3 .4 3-2.1 3-3.4 3-2.4 3-.5 3 1.9 3 3.4 3 .5"/>
<path d="M517 370l3 3.1 3-.1 3-1.1 3 1.1 3 1.8 3 .5 3 1.5 3 1.8 3-1.4 3-3.2 3-2.8 3-2.1 3-.6 3-1 3-3.7 3-3.6 3-.1 3 2.4 3 1.4 3-.9 3-1.2 3-.2 3 .7 3 2.1 3 3.5 3 4 3 4.5 3 5.7 3 6.2 3 4.6 3 1.2 3-4 3-8.3 3-7.8 3-3.6 3 .3 3 2 3 2.2 2 1.9 1 1.2 1 1.4 2 3.3 2 3.4 1 1.7 1 1.9 2 7.1 2 13.1 1 8.5 1 9 2 17.1 2 11.7 1 1.6 1 .2 2-2.2 2-2.9 1-1 1-.8 2-.5 2 0 1 0 3-2.7 3-7.1 3-8.6 3-6.5 3-4.8 3-4.3 3-2.6 3 .7 3 .4 3-3.6 3-3.5 3 2.1 3 4.9 3 .9 3-5.7 3-6.8 3-1.9 3 3.1 3 4.5 3 3.3 3 1.5 3-.3 3-3.9 3-5.1 3-2 3-.1 3-.8 3-1.7 3 .3 3 4 3 4.2 3 .5 3-1.4 3-2.5 3-4.4 3-4.6 3-3.3 3-.7 3 2.5 3 2.7 3 1.5 3 1.8 3 2.8 3 1.7 3-.3 3-1.5 3-.3 3 1.7 3 2.6 3 2.9 3 2.5 3 .6 3-1.4 3-3.8 3-5 3-4.3 3-2.6 3-1 3 .3 3 1.9 3 .6 3-1.9 3-.9 3 .2 3-1.4 3-3.2 3-2.4 3-.8 3-1.3 3-2.6 3 0 3 4.2 3 4.7 3 3.1 3 1.2 3 1 3 .8 3-1.8 3-3.3 3-1.3 3-.7 3-1.4 3-.8 3-.3 3 .1 3 .7 3 .4 3 .3 3 .7 3-.1 3-1.7 3-2.3 3-2.4 3-3 3-2.9 3-2 3-3.1 3-3.3 3 2 3 7.8 3 8.9 3 5.7 3 .4 3-2.9 3-2.1 3 0 3 1.3"/>
<path d="M517 373l3 4.9 3 2.2 3 .2 3 1.7 3 4 3 1.7 3-3.2 3-2.7 3 0 3-2.1 3-5.2 3-2 3 3.4 3 2.9 3-1.7 3-3 3-2 3-1.7 3 .2 3 4.7 3 5.9 3 2.3 3-.3 3 .5 3 1.3 3 .8 3-1.1 3-4.6 3-5 3-1.6 3-.4 3-.3 3 .4 3-.3 3-.9 3-1.7 3-1.9 3 .7 2 1.7 1 .6 1 .3 2-.7 2-2.6 1-1.5 1-1 2 .3 2 5.2 1 4.6 1 5.8 2 14 2 14.7 1 6.7 1 6.2 2 8 2 6 1 2.7 1 2.3 2 3.5 2 1.6 1 0 3-1.5 3-1.7 3-1.6 3-3.6 3-6.1 3-4.7 3-2 3-2.7 3-5.1 3-6.2 3-4.8 3-1.9 3 .9 3 3.7 3 4.8 3 .6 3-3.4 3-3.2 3-2 3-2.2 3-3 3-3.2 3-2.7 3-1.6 3 1.1 3 3.6 3 2.3 3-1.7 3-2.8 3-.7 3 1.3 3 1.4 3 0 3 .6 3 3 3 1.4 3-2.2 3-3 3-2.4 3-1.8 3 0 3 1.2 3 .3 3 .1 3 1.6 3-.3 3-7 3-9.9 3-3.4 3 5.1 3 7.4 3 6.1 3 5.3 3 2 3-4.5 3-7.9 3-5.3 3-.7 3 .3 3-1.8 3-3.7 3-3.8 3-1.8 3 .2 3 1.3 3 1.5 3 1.6 3 3.5 3 6.3 3 7.9 3 7.1 3 2.3 3-4.3 3-6.3 3-2.6 3 1.2 3 2.4 3 1 3-.9 3-1.1 3-.5 3-.6 3-.4 3-.1 3-.4 3-.5 3-.1 3 .9 3 1.8 3 .1 3-1.8 3-2.6 3-4.6 3-6.7 3-4.5 3 .6 3 4 3 5.2 3 5.5 3 4.9 3 1.7 3-2 3-2.2 3-2.1 3-4.7 3-5 3-1.5"/>
<path d="M517 373.1l3-4.7 3-2.3 3 4.9 3 8.6 3 7.7 3 4.7 3 0 3-4.4 3-3.6 3 1.5 3 3 3 .6 3-1.4 3-.8 3-.2 3-2.1 3-3.5 3-2.6 3-1.6 3-1.1 3-.6 3-.7 3-1.9 3-2.2 3-.7 3-.2 3-1.6 3-2.4 3-1.4 3-.4 3-.4 3-2.1 3-2.5 3 1.4 3 4.4 3 3.8 3 3 3 1.2 2-1.2 1-1.1 1-1.1 2-1.9 2-.4 1 .5 1 .7 2 1.9 2 3.7 1 3 1 3.9 2 10.1 2 11.9 1 6 1 5.6 2 10.1 2 8.1 1 3.1 1 1.5 1 .1 1-.7 2-3.6 1-2.6 3-8.7 3-5.3 3 .6 3 1.5 3-1.5 3-1.1 3 2.4 3 3 3 0 3-3.3 3-4.3 3-2.9 3-1 3-.7 3-1.1 3-.4 3 .3 3 .7 3 1.2 3-1.3 3-3.5 3-.8 3 2.6 3 1.8 3-.5 3-2.1 3-1.4 3 1.9 3 2.8 3 0 3-2 3-2.1 3-2.5 3-3.2 3-3.5 3-4.9 3-4.8 3-1.8 3 1.4 3 3.4 3 4.3 3 4.6 3 2.8 3 .7 3-.4 3-2.5 3-3.7 3-2.3 3-.6 3-.3 3-1.9 3-2.5 3-1.2 3 .1 3 1.6 3 3 3 2.1 3 .1 3-2.7 3-4.2 3-2.2 3 .6 3-.7 3-3.4 3-.8 3 4.1 3 4 3 1.4 3 2.6 3 5.1 3 5.1 3 5.1 3 2 3-5.3 3-9 3-5.8 3-.1 3 2 3-.7 3-2.8 3-1 3 1.4 3 2.8 3 2.8 3-1.5 3-6.8 3-6.6 3-3.8 3-.7 3 2.1 3 2.1 3-.1 3-.1 3 1.6 3 2.8 3 4.4 3 4.6 3 2.8 3 3.3 3 3.9 3 1 3-1.1 3-.7 3-1.1 3-1.8 3 0 3 2"/>
<path d="M517 378.3l3 2 3-2 3-2.9 3-1.5 3-1.3 3-2 3-1.4 3 .8 3 3 3 2.1 3-.6 3-.1 3 2.7 3 3.6 3 2.2 3 .5 3-1 3-2.3 3-2.1 3-1.1 3-.7 3-1.1 3-2.1 3-2.2 3 1.1 3 2.9 3 .1 3-1.8 3-.4 3 2.7 3 4.3 3 1.1 3-3.7 3-2.6 3 2.3 3 4.2 3 2.5 3 .5 2-.9 1-.8 1-1 2-2.5 2-2.9 1-1.3 1-1.1 2-1.1 2 2.7 1 3.6 1 5.2 2 14.2 2 16.5 1 7.9 1 7.2 2 10.7 2 5.5 1 1.1 1 .2 2-1.8 2-3.6 1-1.8 3-4.2 3-1.3 3-2 3-4.7 3-4.3 3-2.3 3-2.6 3-2.8 3-1.8 3-.4 3 1.5 3 3.5 3 3.6 3 1.2 3-1.7 3-3 3-1.8 3-.1 3-.1 3-1.5 3-1.8 3-.8 3-.5 3-.4 3-.3 3-3 3-5.2 3-2.6 3 1.6 3 2.5 3-.1 3-1.3 3 1.4 3 3.9 3 3.6 3 1.7 3-1.2 3-2.9 3-2.4 3-2.2 3-3.9 3-4.8 3-2.9 3-.3 3-.4 3-1.6 3 .4 3 3.8 3 5.9 3 4.9 3-.3 3-4.9 3-4.6 3-1.1 3 .9 3 .4 3-1.1 3-2.4 3-2.2 3-2.1 3-2.8 3-.1 3 5.9 3 7.3 3 2.2 3-2.3 3-2.3 3 .7 3 2.1 3-.3 3-3.3 3-3.5 3-1.4 3 0 3-.3 3-.6 3-1.4 3-1.5 3 2.9 3 7.8 3 5.7 3-1 3-4.2 3-2.9 3-.8 3-1.2 3-1 3-1.1 3-4.2 3-5 3-1.1 3 1.8 3 1.4 3-.2 3-.8 3 0 3 .9 3-.8 3-2.4 3-3 3-3.3 3-2.7 3-1.5 3 0 3 1.3 3 1.1 3 1.6"/>
<path d="M517 381.3l3-.8 3-2.1 3-.7 3 .6 3-1 3-2.6 3-.8 3 1 3-.5 3-1.8 3-1.4 3-.2 3 1.7 3 2.2 3 0 3-2.4 3-2.3 3-.1 3 1.9 3 3.3 3 3.1 3 2 3 2.7 3 4.1 3 3.2 3-.7 3-5.1 3-6.3 3-4.3 3-.8 3 2 3 1.5 3-.2 3 .4 3 2.2 3 4.6 3 4.7 3 0 2-1.9 1-.8 1-.7 2-.8 2-1 1-.9 1-.9 2-1.6 2 .4 1 1.3 1 2 2 5.6 2 7.2 1 4 1 4.4 2 9.3 2 9.2 1 4.2 1 3.7 2 4.6 2 1.6 1 .1 3-2 3-3.3 3-3.3 3-3.2 3-2.2 3 .5 3 1.2 3-1 3-2 3-1.6 3-.9 3-.2 3 .2 3 1.2 3 1.4 3-1.4 3-4.1 3-2.1 3 2.3 3 2.4 3 0 3-.7 3-2.1 3-2.7 3-.3 3 1.8 3 .8 3-1.3 3-2.4 3-.6 3 1.8 3 1.8 3 .4 3-2.2 3-5.7 3-8.3 3-6.9 3-2.5 3-.1 3 .1 3 .7 3 1.9 3 2 3 1.2 3 1.1 3 1.9 3 2.6 3 2.3 3 .7 3-1.3 3-1.3 3-.1 3 .6 3 0 3-2.2 3-4.4 3-2.3 3 .6 3-1.2 3-4.2 3-3.6 3-1.6 3 .4 3 1.6 3 1.3 3 .6 3 .4 3 .5 3-.7 3-2.9 3-2.7 3 1.5 3 4.5 3 2.4 3-1.6 3-3 3-1.9 3-.3 3 1.4 3 2.8 3 3.6 3 2.5 3 1 3-.1 3-.5 3 .6 3 .2 3-1.7 3-3 3-5.6 3-6.3 3-2 3 1.1 3 .7 3-1 3-2.3 3 .5 3 4.3 3 2.8 3-.7 3 .5 3 3.2 3 2.2 3-.4 3-.4 3 .6 3 2.3"/>
<path d="M517 374.7l3 .8 3 1.2 3 .2 3 0 3 1.2 3 2.6 3 1.7 3-1.4 3-2.7 3-1.1 3 .4 3 1.1 3 1.8 3 4.1 3 5 3 .6 3-5.5 3-7.9 3-5.1 3-.9 3 1.5 3 1.8 3 .6 3-.2 3 .8 3 1.8 3 1.4 3 1.3 3 .4 3-1.2 3-2.2 3-2.5 3-2.3 3 .1 3 2.6 3-.3 3-3.6 3-.9 2 1.3 1 .9 1 .8 2 1.1 2 .6 1 0 1-.2 2-.6 2 1.3 1 2 1 3.2 2 9.7 2 13.1 1 7.1 1 7.2 2 13.7 2 11.3 1 4.4 1 2.7 2 1.5 2-1 1-1 3-4.1 3-4.8 3-4.1 3-2.9 3-1.2 3 .7 3 .6 3 .2 3 .6 3-.8 3-3.4 3-3.2 3-1.3 3-.9 3-1.5 3-2 3-3.5 3-3.8 3 .4 3 1.2 3-4.4 3-7.3 3-4.8 3-2.1 3-1.8 3-2.5 3-1.3 3 3.4 3 6.3 3 2.9 3 .3 3 1.9 3 2.3 3 1.2 3-.1 3-2.5 3-1.6 3 2.4 3 2.5 3 .2 3 0 3-1 3-2.7 3-1.1 3 1 3 0 3-3.1 3-6.6 3-7.3 3-4 3-.1 3 2.9 3 3.6 3 1.4 3 .7 3 .7 3-.9 3 .3 3 4 3 5 3 .8 3-5.8 3-7.9 3-2 3 2.2 3 .3 3-1.5 3-2 3-2.5 3-1.5 3 1.8 3 5.1 3 5.2 3 3.2 3 .6 3-2.2 3-4.5 3-4.5 3-.8 3 2.3 3 2.6 3 2.8 3 2.5 3-.7 3-3.3 3-.9 3 3.4 3 4.6 3 2.2 3-1.3 3-4 3-5.2 3-5.6 3-4.1 3-1.2 3-.6 3-3.4 3-4 3-1.3 3 1 3 3.4 3 4.3 3 2.7 3 .7 3-1.2 3-.2 3 3.4"/>
<path d="M517 377.3l3 3.6 3 .4 3-3.2 3-3.5 3-1.7 3 .4 3 2.6 3 .3 3-3.6 3-2.3 3 2.3 3 2.5 3-2.2 3-3.7 3-.4 3 2.2 3 3.6 3 4.3 3 3 3-.7 3-4.6 3-3.5 3 2.7 3 5.7 3 3.6 3-.7 3-5 3-5.8 3-2.8 3 .7 3 1.9 3 1.4 3-.2 3-3.1 3-3.1 3 .7 3 4 3 6.8 2 5.7 1 2.7 1 2.1 2 2.3 2-.2 1 .1 1 1 2 5.7 2 10.7 1 6.8 1 7.2 2 14.6 2 12.4 1 4.9 1 2.9 2 1.2 2-.7 1-.5 1-.5 2-.8 2-1 1-.7 3-3.7 3-4.9 3-3.8 3-2.4 3-.8 3-.4 3-4.1 3-7.2 3-4.7 3-.4 3 .8 3-2 3-1.7 3 2.9 3 1.9 3-4.1 3-4.3 3-.3 3 1.5 3 .6 3-1.3 3-3.3 3-2 3 2 3 2.9 3-1.5 3-5 3-2.3 3 2.8 3 4.7 3 3.1 3-1 3-4.4 3-3.7 3-.1 3 1.5 3 .4 3 .2 3 0 3-.3 3-1.3 3-2.6 3-2 3-.3 3-.2 3-2.5 3-4.5 3-2.4 3 3.4 3 5.5 3 .6 3-4.6 3-2.6 3 4.5 3 7.8 3 3.6 3-2.7 3-5.3 3-3.6 3-.7 3 1.9 3 2.3 3-1.1 3-2.6 3-1 3-.8 3-1.5 3-.7 3 2.1 3 4.2 3 3.6 3 2 3 0 3-2 3-1.1 3 .4 3-.5 3-2 3-3.8 3-5.9 3-4.7 3-1.3 3 1 3 1.8 3 .2 3-3.5 3-4.4 3-1.9 3 .7 3 1.6 3 1.7 3 1.6 3 2.1 3 2.1 3 .1 3-3.1 3-4.1 3-.7 3 2.1 3 1.1 3-1.6 3-4.1 3-3.9 3 0 3 2.5 3 2.2 3 2.7"/>
</g>
<path fill="none" stroke="#ef6a5c" stroke-width="4" stroke-linejoin="round" d="M517 375.6l2 0 2 0 2-.1 2 0 2 0 2-.1 2 0 2 0 2 0 2 0 2 0 2 0 2 .1 2 0 2 .1 2 .1 2 0 2 .1 2 .1 2 0 2 .1 2 0 2 0 2 0 2 0 2 0 2-.1 2 0 2-.1 2-.1 2 0 2-.1 2 0 2 0 2-.1 2 0 2 0 2 0 2 0 2 0 2 0 2 0 2-.1 2 0 2 0 2 0 2 0 2 .1 2 0 2 .1 2 .1 2 0 2 .1 2 .1 2 0 2 .3 2 .6 2 .6 2 .8 2 1.1 2 1.5 2 1.8 2 2.7 2 3.3 2 4 2 3.7 2 3.3 2 2.6 2 1.8 2 1.3 2 .6 2 .2 2-.3 2-.3 2-.4 2-.4 2-.5 2-.7 2-.7 2-.6 2-.7 2-.8 2-.7 2-.6 2-.7 2-.6 2-.7 2-.6 2-.7 2-.6 2-.6 2-.5 2-.5 2-.5 2-.4 2-.4 2-.3 2-.4 2-.3 2-.3 2-.3 2-.3 2-.3 2-.4 2-.3 2-.4 2-.4 2-.2 2 0 2-.1 2 0 2-.4 2-.5 2-.5 2-.4 2-.2 2-.1 2-.2 2-.1 2-.1 2-.2 2-.1 2-.3 2-.2 2-.3 2-.3 2-.2 2-.3 2-.2 2-.3 2-.2 2-.2 2-.2 2-.2 2-.2 2-.2 2-.2 2-.1 2-.1 2-.2 2-.2 2-.2 2-.2 2-.1 2-.2 2-.1 2-.1 2-.1 2-.1 2 0 2-.1 2 0 2-.1 2 0 2-.1 2-.2 2-.1 2-.1 2-.2 2-.1 2-.1 2-.1 2-.1 2-.1 2 0 2-.1 2 0 2 .1 2 0 2 .1 2 0 2 0 2 0 2 0 2 0 2-.1 2-.1 2-.1 2 0 2-.1 2-.1 2 0 2-.1 2 0 2 0 2 0 2 0 2 0 2-.1 2 0 2-.1 2-.1 2-.1 2-.1 2-.1 2-.1 2-.1 2 0 2-.1 2 0 2 .1 2 0 2 .1 2 0 2 .1 2 0 2 0 2 0 2 0 2-.1 2-.1 2-.1 2-.1 2-.2 2-.1 2-.1 2-.1 2-.1 2 0 2 0 2 .1 2 .1 2 0 2 .1 2 .1 2 .1 2 0 2 0 2 0 2 .1 2-.1 2 0 2 0 2-.1"/>
</g>
<text transform="translate(2.6 38) scale(1.0 1)" font-size="50" text-anchor="start">A</text>
<text transform="translate(1013 38) scale(1.0 1)" font-size="50" text-anchor="start">B</text>
<text transform="translate(1500 38) scale(1.0 1)" font-size="50" text-anchor="start">C</text>
<text transform="translate(46.5 70.8) scale(0.8 1)" font-size="28.7" text-anchor="start">GFP</text>
<text transform="translate(523.5 70.8) scale(0.8 1)" font-size="28.7" text-anchor="start">K148R</text>
<text transform="translate(46 344.9) scale(0.8 1)" font-size="28.7" text-anchor="start">SSA</text>
<text transform="translate(523.5 344.9) scale(0.8 1)" font-size="28.7" text-anchor="start">DN</text>
<path d="M64.7 193.2V254.2H129.6" fill="none" stroke="#111" stroke-width="1.6"/>
<text transform="translate(53.5 250.6) rotate(-90) scale(0.8 1)" font-size="28.7" text-anchor="start">40 pA</text>
<text transform="translate(64.5 284.7) scale(0.78 1)" font-size="28.7" text-anchor="start">20 ms</text>
<path d="M1088.4 118.8V444.3H1476" fill="none" stroke="#000" stroke-width="3"/>
<rect x="1077.9" y="118.80000000000001" width="11" height="4.2" fill="#000"/>
<text transform="translate(1069.1000000000001 131.4) scale(0.775 1)" font-size="31" text-anchor="end">60</text>
<rect x="1077.9" y="226.8" width="11" height="4.2" fill="#000"/>
<text transform="translate(1069.1000000000001 241.5) scale(0.775 1)" font-size="31" text-anchor="end">40</text>
<rect x="1077.9" y="334.59999999999997" width="11" height="4.2" fill="#000"/>
<text transform="translate(1069.1000000000001 346.8) scale(0.775 1)" font-size="31" text-anchor="end">20</text>
<rect x="1077.9" y="442.29999999999995" width="11" height="4.2" fill="#000"/>
<text transform="translate(1069.1000000000001 451.5) scale(0.775 1)" font-size="31" text-anchor="end">0</text>
<text transform="translate(1023.9 284.5) rotate(-90) scale(0.87 1)" font-size="28.7" text-anchor="middle">Amplitude (pA)</text>
<g fill="#7d7d7d" fill-opacity="0.74" stroke="#7d7d7d" stroke-opacity="0.45" stroke-width="1">
<circle cx="1110" cy="227.2" r="5.8"/>
<circle cx="1123.1" cy="226.3" r="5.8"/>
<circle cx="1161.9" cy="232.3" r="5.8"/>
<circle cx="1110" cy="242.8" r="5.8"/>
<circle cx="1123.1" cy="246.9" r="5.8"/>
<circle cx="1136.1" cy="250.9" r="5.8"/>
<circle cx="1149.1" cy="246.3" r="5.8"/>
<circle cx="1161.9" cy="248.3" r="5.8"/>
<circle cx="1136.1" cy="263.9" r="5.8"/>
<circle cx="1149.1" cy="260" r="5.8"/>
<circle cx="1122.9" cy="282.5" r="5.8"/>
<circle cx="1122.9" cy="302.4" r="5.8"/>
<circle cx="1149" cy="307.3" r="5.8"/>
<circle cx="1136" cy="313.4" r="5.8"/>
<circle cx="1122.9" cy="330.6" r="5.8"/>
<circle cx="1149" cy="330.6" r="5.8"/>
<circle cx="1149" cy="349.2" r="5.8"/>
<circle cx="1136" cy="360.9" r="5.8"/>
<circle cx="1122.9" cy="379.1" r="5.8"/>
<circle cx="1149" cy="379.1" r="5.8"/>
</g>
<path d="M1120.2 278.2H1152.5M1120.2 300.3H1152.5M1136.35 278.2V300.3" fill="none" stroke="#474747" stroke-width="6.9"/>
<rect x="1132.85" y="278.2" width="7" height="22.100000000000023" fill="#474747"/>
<rect x="1104" y="287.09999999999997" width="64" height="4.6" fill="#000"/>
<g fill="#78ad45" fill-opacity="0.47" stroke="#78ad45" stroke-opacity="0.35" stroke-width="1">
<circle cx="1258.8" cy="249.9" r="5.8"/>
<circle cx="1258.8" cy="267.1" r="5.8"/>
<circle cx="1207.2" cy="268.7" r="5.8"/>
<circle cx="1258.8" cy="282.1" r="5.8"/>
<circle cx="1233" cy="288.6" r="5.8"/>
<circle cx="1207.2" cy="298" r="5.8"/>
<circle cx="1258.8" cy="310.9" r="5.8"/>
<circle cx="1233" cy="317.9" r="5.8"/>
<circle cx="1207.2" cy="321.9" r="5.8"/>
<circle cx="1258.8" cy="330.8" r="5.8"/>
<circle cx="1233" cy="338.3" r="5.8"/>
<circle cx="1258.8" cy="352" r="5.8"/>
<circle cx="1207.2" cy="361.8" r="5.8"/>
</g>
<path d="M1217.5 297.1H1249.2M1217.5 316.1H1249.2M1233.35 297.1V316.1" fill="none" stroke="#74a334" stroke-width="6.7"/>
<rect x="1229.8999999999999" y="297.1" width="6.9" height="19.0" fill="#74a334"/>
<rect x="1200.6" y="304.55" width="65.0" height="4.5" fill="#000"/>
<g fill="#1fb8be" fill-opacity="0.6" stroke="#1fb8be" stroke-opacity="0.35" stroke-width="1">
<circle cx="1360.6" cy="185.2" r="5.8"/>
<circle cx="1335.1" cy="193.2" r="5.8"/>
<circle cx="1335.1" cy="215" r="5.8"/>
<circle cx="1309.1" cy="220.3" r="5.8"/>
<circle cx="1309.1" cy="234.3" r="5.8"/>
<circle cx="1335.1" cy="245.5" r="5.8"/>
<circle cx="1360.6" cy="272.3" r="5.8"/>
<circle cx="1335.1" cy="283.4" r="5.8"/>
<circle cx="1335.1" cy="314.5" r="5.8"/>
</g>
<path d="M1319.2 226.2H1351.6M1319.2 254.5H1351.6M1335.4 226.2V254.5" fill="none" stroke="#06afb8" stroke-width="4.2"/>
<rect x="1333.15" y="226.2" width="4.5" height="28.30000000000001" fill="#06afb8"/>
<rect x="1302.7" y="238.35" width="64.79999999999995" height="4.5" fill="#000"/>
<g fill="#ee6f67" fill-opacity="0.48" stroke="#ee6f67" stroke-opacity="0.3" stroke-width="1">
<circle cx="1431.8" cy="305.8" r="5.8"/>
<circle cx="1421.2" cy="312.8" r="5.8"/>
<circle cx="1410.9" cy="349.9" r="5.8"/>
<circle cx="1421.2" cy="352" r="5.8"/>
<circle cx="1442" cy="355.4" r="5.8"/>
<circle cx="1410.5" cy="363.1" r="5.8"/>
<circle cx="1400.9" cy="380" r="5.8"/>
<circle cx="1452.1" cy="378" r="5.8"/>
<circle cx="1421.2" cy="382.8" r="5.8"/>
<circle cx="1410.9" cy="389.1" r="5.8"/>
<circle cx="1431.4" cy="390" r="5.8"/>
<circle cx="1442" cy="388.1" r="5.8"/>
<circle cx="1421.2" cy="408.9" r="5.8"/>
</g>
<path d="M1410.5 357.7H1442.6M1410.5 374.5H1442.6M1426.55 357.7V374.5" fill="none" stroke="#ee6b63" stroke-width="7.2"/>
<rect x="1423.25" y="357.7" width="6.6" height="16.80000000000001" fill="#ee6b63"/>
<rect x="1394.2" y="363.5" width="64.59999999999991" height="4.8" fill="#000"/>
<text transform="translate(1104 478) scale(0.8 1)" font-size="28.7" text-anchor="start">GFP</text>
<text transform="translate(1195.5 478) scale(0.8 1)" font-size="28.7" text-anchor="start">K148R</text>
<text transform="translate(1313 478) scale(0.8 1)" font-size="28.7" text-anchor="start">SSA</text>
<text transform="translate(1411.8 478) scale(0.8 1)" font-size="28.7" text-anchor="start">DN</text>
<text transform="translate(1333 139.5) scale(1.03 0.93)" font-size="51" text-anchor="middle" style="stroke-width:1.1px;letter-spacing:0px">*</text>
<text transform="translate(1430.2 281) scale(1.03 0.93)" font-size="51" text-anchor="middle" style="stroke-width:1.1px;letter-spacing:4.66px">***</text>
<path d="M1609 119.0V444H2001.5" fill="none" stroke="#000" stroke-width="3"/>
<rect x="1598.5" y="118.60000000000001" width="11" height="4.2" fill="#000"/>
<text transform="translate(1589.7 132.6) scale(0.775 1)" font-size="31" text-anchor="end">4000</text>
<rect x="1598.5" y="199.4" width="11" height="4.2" fill="#000"/>
<text transform="translate(1589.7 212.2) scale(0.775 1)" font-size="31" text-anchor="end">3000</text>
<rect x="1598.5" y="280.09999999999997" width="11" height="4.2" fill="#000"/>
<text transform="translate(1589.7 292) scale(0.775 1)" font-size="31" text-anchor="end">2000</text>
<rect x="1598.5" y="361.0" width="11" height="4.2" fill="#000"/>
<text transform="translate(1589.7 372.3) scale(0.775 1)" font-size="31" text-anchor="end">1000</text>
<rect x="1598.5" y="441.79999999999995" width="11" height="4.2" fill="#000"/>
<text transform="translate(1589.7 451.7) scale(0.775 1)" font-size="31" text-anchor="end">0</text>
<text transform="translate(1525.6 289) rotate(-90) scale(0.8 1)" font-size="28.7" text-anchor="middle">IEI (ms)</text>
<g fill="#7d7d7d" fill-opacity="0.74" stroke="#7d7d7d" stroke-opacity="0.45" stroke-width="1">
<circle cx="1658.4" cy="330.1" r="5.8"/>
<circle cx="1645.7" cy="346.1" r="5.8"/>
<circle cx="1658.4" cy="346.1" r="5.8"/>
<circle cx="1671.5" cy="354.4" r="5.8"/>
<circle cx="1684.6" cy="359.9" r="5.8"/>
<circle cx="1645.7" cy="368.4" r="5.8"/>
<circle cx="1658.4" cy="371.3" r="5.8"/>
<circle cx="1684.6" cy="376.1" r="5.8"/>
<circle cx="1671.5" cy="380.5" r="5.8"/>
<circle cx="1632.8" cy="391" r="5.8"/>
<circle cx="1642.8" cy="387.7" r="5.8"/>
<circle cx="1684.6" cy="398.6" r="5.8"/>
<circle cx="1645.7" cy="403.7" r="5.8"/>
<circle cx="1658.4" cy="402.3" r="5.8"/>
<circle cx="1671.5" cy="410" r="5.8"/>
<circle cx="1632.8" cy="416.6" r="5.8"/>
<circle cx="1645.7" cy="421.6" r="5.8"/>
<circle cx="1658.4" cy="424.2" r="5.8"/>
<circle cx="1671.5" cy="423.3" r="5.8"/>
<circle cx="1684.6" cy="418.8" r="5.8"/>
<circle cx="1632.8" cy="434.7" r="5.8"/>
<circle cx="1684.6" cy="434.7" r="5.8"/>
</g>
<rect x="1642.8" y="381.1" width="31.700000000000045" height="19.299999999999955" fill="#4a4a4a"/>
<rect x="1626.6" y="388.4" width="64.40000000000009" height="5.2" fill="#000"/>
<g fill="#78ad45" fill-opacity="0.47" stroke="#78ad45" stroke-opacity="0.35" stroke-width="1">
<circle cx="1760.8" cy="382.2" r="5.8"/>
<circle cx="1771.3" cy="386.6" r="5.8"/>
<circle cx="1760.8" cy="396" r="5.8"/>
<circle cx="1771.3" cy="401.5" r="5.8"/>
<circle cx="1729.7" cy="401.9" r="5.8"/>
<circle cx="1736.9" cy="411.8" r="5.8"/>
<circle cx="1729.7" cy="417.7" r="5.8"/>
<circle cx="1750" cy="421.6" r="5.8"/>
<circle cx="1771.3" cy="421.6" r="5.8"/>
<circle cx="1781.8" cy="419.8" r="5.8"/>
<circle cx="1750" cy="435.2" r="5.8"/>
<circle cx="1760.8" cy="434.7" r="5.8"/>
</g>
<rect x="1740.2" y="403.4" width="31.700000000000045" height="15.600000000000023" fill="#74a334"/>
<rect x="1723.3" y="408.5" width="64.60000000000014" height="5" fill="#000"/>
<g fill="#1fb8be" fill-opacity="0.6" stroke="#1fb8be" stroke-opacity="0.35" stroke-width="1">
<circle cx="1855.2" cy="364.9" r="5.8"/>
<circle cx="1855.2" cy="393.6" r="5.8"/>
<circle cx="1829.4" cy="422.5" r="5.8"/>
<circle cx="1835.8" cy="417.3" r="5.8"/>
<circle cx="1846.6" cy="419.9" r="5.8"/>
<circle cx="1855.2" cy="418.2" r="5.8"/>
<circle cx="1864.1" cy="428.5" r="5.8"/>
<circle cx="1873.6" cy="418.2" r="5.8"/>
<circle cx="1881.3" cy="423.3" r="5.8"/>
</g>
<path d="M1839.2 405.7H1871M1839.2 417.7H1871M1855.1 405.7V417.7" fill="none" stroke="#06afb8" stroke-width="4.3"/>
<rect x="1852.85" y="405.7" width="4.5" height="12.0" fill="#06afb8"/>
<rect x="1823.2" y="409.2" width="64.59999999999991" height="5" fill="#000"/>
<g fill="#ee6f67" fill-opacity="0.48" stroke="#ee6f67" stroke-opacity="0.3" stroke-width="1">
<circle cx="1945.3" cy="195.4" r="5.8"/>
<circle cx="1961.9" cy="193.2" r="5.8"/>
<circle cx="1961.9" cy="240.9" r="5.8"/>
<circle cx="1945.3" cy="261.9" r="5.8"/>
<circle cx="1945.3" cy="364.7" r="5.8"/>
<circle cx="1979.4" cy="413.8" r="5.8"/>
<circle cx="1961.9" cy="418.6" r="5.8"/>
<circle cx="1927.8" cy="422.5" r="5.8"/>
<circle cx="1945.3" cy="428.2" r="5.8"/>
<circle cx="1961.9" cy="432.6" r="5.8"/>
<circle cx="1979.4" cy="431.7" r="5.8"/>
<circle cx="1927.8" cy="435.6" r="5.8"/>
</g>
<path d="M1937.9 289.7H1969.8M1937.9 363.6H1969.8M1953.85 289.7V363.6" fill="none" stroke="#ee6b63" stroke-width="7.6"/>
<rect x="1950.35" y="289.7" width="7" height="73.90000000000003" fill="#ee6b63"/>
<rect x="1921.7" y="323.8" width="64.29999999999995" height="4.8" fill="#000"/>
<text transform="translate(1633.5 478) scale(0.8 1)" font-size="28.7" text-anchor="start">GFP</text>
<text transform="translate(1724.5 478) scale(0.8 1)" font-size="28.7" text-anchor="start">K148R</text>
<text transform="translate(1842 478) scale(0.8 1)" font-size="28.7" text-anchor="start">SSA</text>
<text transform="translate(1940.5 478) scale(0.8 1)" font-size="28.7" text-anchor="start">DN</text>
<text transform="translate(1956.9 150.1) scale(1.03 0.93)" font-size="51" text-anchor="middle" style="stroke-width:1.1px;letter-spacing:0px">*</text>
</svg>
</body></html>
